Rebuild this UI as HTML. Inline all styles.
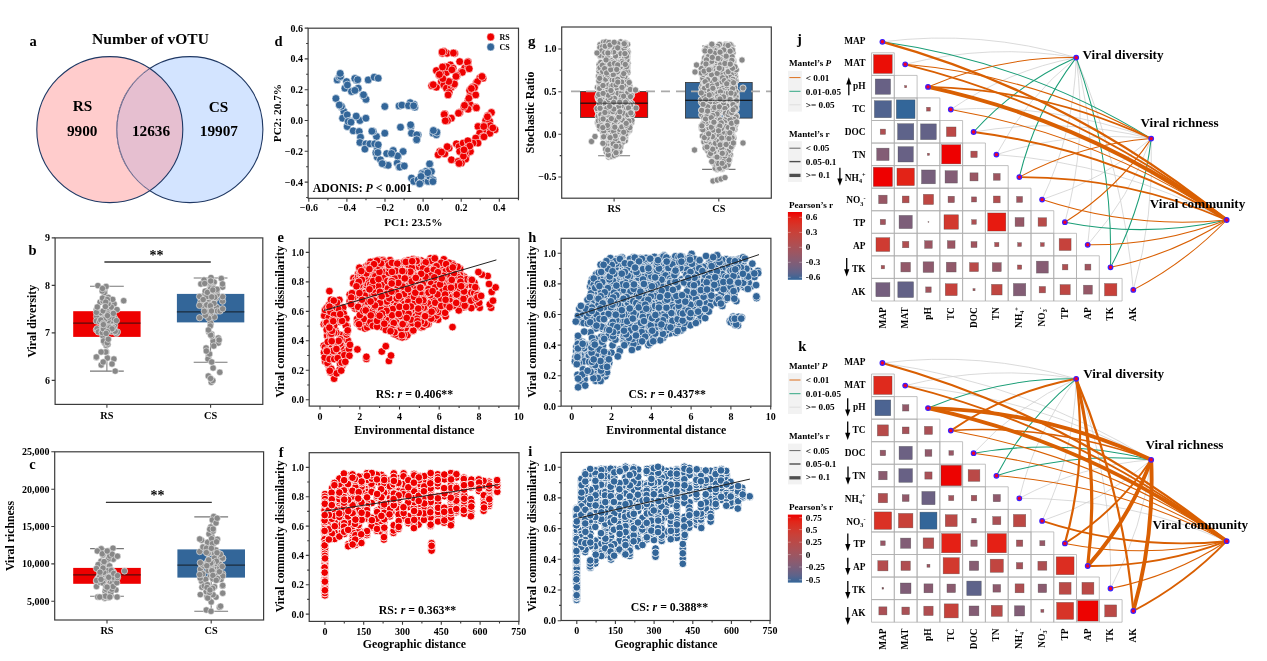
<!DOCTYPE html>
<html lang="en"><head><meta charset="utf-8"><title>Viral community figure</title>
<style>
html,body{margin:0;padding:0;background:#fff}
svg{display:block}
svg text{font-family:"Liberation Serif",serif;font-weight:bold;fill:#000}
</style></head><body>
<svg width="1267" height="661" viewBox="0 0 1267 661">
<rect width="1267" height="661" fill="#fff"/>
<g id="panel-a">
<circle cx="109.8" cy="129.6" r="73" fill="#ffcccc"/>
<circle cx="189.9" cy="129.6" r="73" fill="#d3e4ff" stroke="#1f3864" stroke-width="1.1"/>
<clipPath id="cpA"><circle cx="109.8" cy="129.6" r="73"/></clipPath>
<g clip-path="url(#cpA)"><circle cx="189.9" cy="129.6" r="73.7" fill="#e6bfd0"/><circle cx="189.9" cy="129.6" r="73" fill="none" stroke="#1f3864" stroke-opacity="0.7" stroke-width="0.9"/></g>
<circle cx="109.8" cy="129.6" r="73" fill="none" stroke="#1f3864" stroke-width="1.1"/>
<text x="29.5" y="46.2" font-size="14.5" text-anchor="start">a</text>
<text x="150.5" y="43.6" font-size="15.5" text-anchor="middle">Number of vOTU</text>
<text x="82.5" y="111.2" font-size="15.3" text-anchor="middle">RS</text>
<text x="82.2" y="135.6" font-size="15.3" text-anchor="middle">9900</text>
<text x="151" y="135.8" font-size="15.3" text-anchor="middle">12636</text>
<text x="218.5" y="111.6" font-size="15.3" text-anchor="middle">CS</text>
<text x="218.9" y="135.8" font-size="15.3" text-anchor="middle">19907</text>
</g>
<g id="panel-b">
<line x1="106.9" y1="286.2" x2="106.9" y2="371.1" stroke="#777" stroke-width="1"/>
<line x1="90" y1="286.2" x2="123.8" y2="286.2" stroke="#777" stroke-width="1.1"/>
<line x1="90" y1="371.1" x2="123.8" y2="371.1" stroke="#777" stroke-width="1.1"/>
<rect x="73.2" y="311.2" width="67.4" height="25.7" fill="#ee0000"/>
<line x1="73.2" y1="323.1" x2="140.6" y2="323.1" stroke="#111" stroke-width="0.85"/>
<line x1="210.6" y1="278" x2="210.6" y2="362.3" stroke="#777" stroke-width="1"/>
<line x1="193.7" y1="278" x2="227.5" y2="278" stroke="#777" stroke-width="1.1"/>
<line x1="193.7" y1="362.3" x2="227.5" y2="362.3" stroke="#777" stroke-width="1.1"/>
<rect x="176.9" y="293.9" width="67.4" height="28.5" fill="#336699"/>
<line x1="176.9" y1="311.9" x2="244.3" y2="311.9" stroke="#111" stroke-width="0.85"/>
<g fill="#888888" stroke="#fff" stroke-width="0.5">
<circle cx="109.1" cy="322" r="3.2"/><circle cx="105.9" cy="319.8" r="3.2"/><circle cx="96.4" cy="309.6" r="3.2"/><circle cx="106.2" cy="339.5" r="3.2"/><circle cx="97.9" cy="285.6" r="3.2"/><circle cx="110.3" cy="307.1" r="3.2"/><circle cx="96.4" cy="329.8" r="3.2"/><circle cx="101.7" cy="316.7" r="3.2"/><circle cx="113.9" cy="321.4" r="3.2"/><circle cx="116.4" cy="333.4" r="3.2"/><circle cx="100.1" cy="302.1" r="3.2"/><circle cx="98" cy="320.9" r="3.2"/><circle cx="112" cy="323.2" r="3.2"/><circle cx="111.8" cy="331.6" r="3.2"/><circle cx="101.2" cy="365" r="3.2"/><circle cx="102.9" cy="299.9" r="3.2"/><circle cx="102.9" cy="317.3" r="3.2"/><circle cx="100" cy="314" r="3.2"/><circle cx="103" cy="300.9" r="3.2"/><circle cx="114.1" cy="303.9" r="3.2"/><circle cx="110.9" cy="308.3" r="3.2"/><circle cx="117.4" cy="332" r="3.2"/><circle cx="106.4" cy="352" r="3.2"/><circle cx="106.1" cy="286.5" r="3.2"/><circle cx="101.2" cy="313.2" r="3.2"/><circle cx="106.2" cy="345.4" r="3.2"/><circle cx="99.3" cy="320" r="3.2"/><circle cx="96.6" cy="316.4" r="3.2"/><circle cx="110.9" cy="316.3" r="3.2"/><circle cx="115.2" cy="331.3" r="3.2"/><circle cx="111.7" cy="319.4" r="3.2"/><circle cx="114.6" cy="325.8" r="3.2"/><circle cx="108.4" cy="317.1" r="3.2"/><circle cx="102.8" cy="335.7" r="3.2"/><circle cx="107.4" cy="358" r="3.2"/><circle cx="104.7" cy="342.9" r="3.2"/><circle cx="100.5" cy="312.7" r="3.2"/><circle cx="97.1" cy="328.7" r="3.2"/><circle cx="98.3" cy="331.9" r="3.2"/><circle cx="106.9" cy="310.8" r="3.2"/><circle cx="107.8" cy="314.2" r="3.2"/><circle cx="104.2" cy="292.9" r="3.2"/><circle cx="115.2" cy="371.1" r="3.2"/><circle cx="107.9" cy="344.2" r="3.2"/><circle cx="110.3" cy="327.8" r="3.2"/><circle cx="113.9" cy="359" r="3.2"/><circle cx="102.2" cy="291" r="3.2"/><circle cx="96.4" cy="312.4" r="3.2"/><circle cx="111.2" cy="328.5" r="3.2"/><circle cx="102.9" cy="326.7" r="3.2"/><circle cx="114.5" cy="318" r="3.2"/><circle cx="108.8" cy="330.2" r="3.2"/><circle cx="112.7" cy="327.3" r="3.2"/><circle cx="111.3" cy="321" r="3.2"/><circle cx="96.4" cy="320.9" r="3.2"/><circle cx="111.1" cy="316.6" r="3.2"/><circle cx="103" cy="301" r="3.2"/><circle cx="102.5" cy="288.5" r="3.2"/><circle cx="104.4" cy="325.9" r="3.2"/><circle cx="111.3" cy="307.1" r="3.2"/><circle cx="112" cy="364" r="3.2"/><circle cx="112.7" cy="318" r="3.2"/><circle cx="97.3" cy="307" r="3.2"/><circle cx="103.5" cy="341" r="3.2"/><circle cx="96.4" cy="357.5" r="3.2"/><circle cx="106.3" cy="320.5" r="3.2"/><circle cx="110.4" cy="327.6" r="3.2"/><circle cx="102.5" cy="298.1" r="3.2"/><circle cx="108.3" cy="297.4" r="3.2"/><circle cx="108.2" cy="325.1" r="3.2"/><circle cx="112.7" cy="299.4" r="3.2"/><circle cx="102.2" cy="326.3" r="3.2"/><circle cx="102.1" cy="331.8" r="3.2"/><circle cx="102.5" cy="324.7" r="3.2"/><circle cx="117" cy="309.6" r="3.2"/><circle cx="113.2" cy="327.9" r="3.2"/><circle cx="106.2" cy="305.6" r="3.2"/><circle cx="108.2" cy="320.5" r="3.2"/><circle cx="107.6" cy="327.7" r="3.2"/><circle cx="108.1" cy="303.8" r="3.2"/><circle cx="105.7" cy="352" r="3.2"/><circle cx="105" cy="319.3" r="3.2"/><circle cx="99.6" cy="321.8" r="3.2"/><circle cx="103.2" cy="362" r="3.2"/><circle cx="116.4" cy="320.6" r="3.2"/><circle cx="110" cy="327.8" r="3.2"/><circle cx="107.3" cy="299.5" r="3.2"/><circle cx="105.7" cy="302.1" r="3.2"/><circle cx="107.3" cy="342.8" r="3.2"/><circle cx="108.9" cy="317.1" r="3.2"/><circle cx="103.2" cy="310.9" r="3.2"/><circle cx="108" cy="314" r="3.2"/><circle cx="108.3" cy="339.2" r="3.2"/><circle cx="102.6" cy="324.6" r="3.2"/><circle cx="102.3" cy="332.7" r="3.2"/><circle cx="101.1" cy="352" r="3.2"/><circle cx="100.8" cy="320" r="3.2"/><circle cx="112" cy="328.8" r="3.2"/><circle cx="96.4" cy="357" r="3.2"/><circle cx="105.4" cy="306.6" r="3.2"/><circle cx="103.4" cy="328.9" r="3.2"/><circle cx="103.3" cy="323.3" r="3.2"/><circle cx="107.5" cy="315.6" r="3.2"/><circle cx="113.4" cy="313.4" r="3.2"/><circle cx="107.3" cy="331.7" r="3.2"/><circle cx="106.1" cy="333.4" r="3.2"/><circle cx="103.4" cy="324.6" r="3.2"/><circle cx="123.7" cy="300.7" r="3.2"/>
</g>
<g fill="#888888" stroke="#fff" stroke-width="0.5">
<circle cx="215.6" cy="298.4" r="3.2"/><circle cx="207.9" cy="313.1" r="3.2"/><circle cx="208.6" cy="356" r="3.2"/><circle cx="222.6" cy="301.2" r="3.2"/><circle cx="213.1" cy="368" r="3.2"/><circle cx="222.6" cy="287.1" r="3.2"/><circle cx="213.7" cy="310" r="3.2"/><circle cx="208.9" cy="283.1" r="3.2"/><circle cx="211.6" cy="334" r="3.2"/><circle cx="221.3" cy="278.5" r="3.2"/><circle cx="210.9" cy="324" r="3.2"/><circle cx="213.1" cy="341" r="3.2"/><circle cx="214.4" cy="317.1" r="3.2"/><circle cx="205.3" cy="306.4" r="3.2"/><circle cx="211.9" cy="297.4" r="3.2"/><circle cx="208.9" cy="332" r="3.2"/><circle cx="203.2" cy="296.7" r="3.2"/><circle cx="216.6" cy="307.3" r="3.2"/><circle cx="215.3" cy="295.2" r="3.2"/><circle cx="211.3" cy="382.3" r="3.2"/><circle cx="205.4" cy="309.8" r="3.2"/><circle cx="199.6" cy="317.7" r="3.2"/><circle cx="214.2" cy="282.1" r="3.2"/><circle cx="210.5" cy="322.8" r="3.2"/><circle cx="200.4" cy="297.3" r="3.2"/><circle cx="210.7" cy="287.5" r="3.2"/><circle cx="201.5" cy="303.1" r="3.2"/><circle cx="210.9" cy="313.1" r="3.2"/><circle cx="211.7" cy="336" r="3.2"/><circle cx="213.3" cy="293" r="3.2"/><circle cx="212.5" cy="294.9" r="3.2"/><circle cx="212.2" cy="299.2" r="3.2"/><circle cx="208" cy="359" r="3.2"/><circle cx="208.7" cy="299.5" r="3.2"/><circle cx="207.9" cy="314.2" r="3.2"/><circle cx="209.6" cy="296.7" r="3.2"/><circle cx="212.8" cy="286.8" r="3.2"/><circle cx="212.8" cy="380.5" r="3.2"/><circle cx="218.3" cy="343" r="3.2"/><circle cx="206.1" cy="348" r="3.2"/><circle cx="213.6" cy="298.4" r="3.2"/><circle cx="209.8" cy="305" r="3.2"/><circle cx="222.6" cy="296.7" r="3.2"/><circle cx="217" cy="294.6" r="3.2"/><circle cx="200.6" cy="302.5" r="3.2"/><circle cx="213.6" cy="290.8" r="3.2"/><circle cx="207.8" cy="290.8" r="3.2"/><circle cx="217.4" cy="311" r="3.2"/><circle cx="204.4" cy="306.9" r="3.2"/><circle cx="210.7" cy="335" r="3.2"/><circle cx="210.3" cy="309.3" r="3.2"/><circle cx="210.5" cy="285.7" r="3.2"/><circle cx="207.4" cy="312.5" r="3.2"/><circle cx="199.6" cy="296.5" r="3.2"/><circle cx="214" cy="303.4" r="3.2"/><circle cx="213.8" cy="346" r="3.2"/><circle cx="210.7" cy="287.4" r="3.2"/><circle cx="208.3" cy="376" r="3.2"/><circle cx="211.7" cy="362" r="3.2"/><circle cx="214.7" cy="297.3" r="3.2"/><circle cx="210.3" cy="326" r="3.2"/><circle cx="211" cy="277.6" r="3.2"/><circle cx="220" cy="311" r="3.2"/><circle cx="204" cy="280" r="3.2"/><circle cx="209.6" cy="354" r="3.2"/><circle cx="199.6" cy="305.4" r="3.2"/><circle cx="206.7" cy="304.9" r="3.2"/><circle cx="206.4" cy="296.8" r="3.2"/><circle cx="205" cy="293.8" r="3.2"/><circle cx="206.7" cy="296.6" r="3.2"/><circle cx="222.5" cy="283.9" r="3.2"/><circle cx="210.6" cy="378.5" r="3.2"/><circle cx="210.4" cy="305.8" r="3.2"/><circle cx="222.6" cy="308.8" r="3.2"/><circle cx="210.7" cy="288.8" r="3.2"/><circle cx="206.3" cy="351" r="3.2"/><circle cx="213.6" cy="288.4" r="3.2"/><circle cx="205.2" cy="291.1" r="3.2"/><circle cx="218.3" cy="338" r="3.2"/><circle cx="203.2" cy="299.6" r="3.2"/><circle cx="207.4" cy="292.4" r="3.2"/><circle cx="200.9" cy="284" r="3.2"/><circle cx="211.7" cy="296.9" r="3.2"/><circle cx="204.7" cy="283.5" r="3.2"/><circle cx="210.7" cy="281" r="3.2"/><circle cx="208.7" cy="318.2" r="3.2"/><circle cx="208.4" cy="330" r="3.2"/><circle cx="217.1" cy="290.7" r="3.2"/><circle cx="217" cy="289.3" r="3.2"/><circle cx="211.5" cy="311" r="3.2"/><circle cx="205.4" cy="315.3" r="3.2"/><circle cx="204.3" cy="311.3" r="3.2"/><circle cx="212.8" cy="290" r="3.2"/><circle cx="219.1" cy="340" r="3.2"/><circle cx="219.8" cy="372.3" r="3.2"/>
</g>
<rect x="55.1" y="237.9" width="207.7" height="166.5" fill="none" stroke="#3c3c3c" stroke-width="1.2"/>
<text x="49.9" y="241.3" font-size="10" text-anchor="end">9</text>
<text x="49.9" y="288.8" font-size="10" text-anchor="end">8</text>
<text x="49.9" y="336.3" font-size="10" text-anchor="end">7</text>
<text x="49.9" y="383.8" font-size="10" text-anchor="end">6</text>
<path d="M51.7 237.9h3.4M51.7 285.4h3.4M51.7 332.9h3.4M51.7 380.4h3.4" stroke="#3c3c3c" stroke-width="1.1" fill="none"/>
<text x="106.9" y="418.6" font-size="10.3" text-anchor="middle">RS</text>
<text x="210.6" y="418.6" font-size="10.3" text-anchor="middle">CS</text>
<path d="M106.9 404.4v3.4M210.6 404.4v3.4" stroke="#3c3c3c" stroke-width="1.1" fill="none"/>
<line x1="104.4" y1="262" x2="210.8" y2="262" stroke="#333" stroke-width="1.4"/>
<text x="156.6" y="259.5" font-size="14" text-anchor="middle">**</text>
<text x="28.6" y="255.1" font-size="14.5" text-anchor="start">b</text>
<text x="36.2" y="321.2" font-size="11.8" text-anchor="middle" transform="rotate(-90 36.2 321.2)">Viral diversity</text>
</g>
<g id="panel-c">
<line x1="107" y1="548.6" x2="107" y2="596.3" stroke="#777" stroke-width="1"/>
<line x1="90.1" y1="548.6" x2="123.9" y2="548.6" stroke="#777" stroke-width="1.1"/>
<line x1="90.1" y1="596.3" x2="123.9" y2="596.3" stroke="#777" stroke-width="1.1"/>
<rect x="73.2" y="567.9" width="67.6" height="15.9" fill="#ee0000"/>
<line x1="73.2" y1="574.9" x2="140.8" y2="574.9" stroke="#111" stroke-width="0.85"/>
<line x1="211.2" y1="516.9" x2="211.2" y2="611.3" stroke="#777" stroke-width="1"/>
<line x1="194.3" y1="516.9" x2="228.1" y2="516.9" stroke="#777" stroke-width="1.1"/>
<line x1="194.3" y1="611.3" x2="228.1" y2="611.3" stroke="#777" stroke-width="1.1"/>
<rect x="177.4" y="549.4" width="67.6" height="28.2" fill="#336699"/>
<line x1="177.4" y1="565.1" x2="245" y2="565.1" stroke="#111" stroke-width="0.85"/>
<g fill="#888888" stroke="#fff" stroke-width="0.5">
<circle cx="108.5" cy="566.9" r="3.2"/><circle cx="101.2" cy="548.8" r="3.2"/><circle cx="99.6" cy="575.2" r="3.2"/><circle cx="109.5" cy="569.2" r="3.2"/><circle cx="102.3" cy="572.1" r="3.2"/><circle cx="113.4" cy="582.4" r="3.2"/><circle cx="97.3" cy="551" r="3.2"/><circle cx="101" cy="561.2" r="3.2"/><circle cx="96.5" cy="581.3" r="3.2"/><circle cx="113.7" cy="581.1" r="3.2"/><circle cx="105.1" cy="571.4" r="3.2"/><circle cx="103.6" cy="575" r="3.2"/><circle cx="106.4" cy="562" r="3.2"/><circle cx="114" cy="583.5" r="3.2"/><circle cx="96.5" cy="586.5" r="3.2"/><circle cx="98.2" cy="564.6" r="3.2"/><circle cx="108.3" cy="594.2" r="3.2"/><circle cx="105.2" cy="591.6" r="3.2"/><circle cx="97.8" cy="578.4" r="3.2"/><circle cx="111.7" cy="571.1" r="3.2"/><circle cx="115.9" cy="589.9" r="3.2"/><circle cx="99.5" cy="576.9" r="3.2"/><circle cx="102.8" cy="575.4" r="3.2"/><circle cx="99.9" cy="582.3" r="3.2"/><circle cx="110.9" cy="596" r="3.2"/><circle cx="108.3" cy="597" r="3.2"/><circle cx="98.9" cy="578.2" r="3.2"/><circle cx="106.7" cy="562.4" r="3.2"/><circle cx="105.7" cy="589.2" r="3.2"/><circle cx="110.3" cy="570" r="3.2"/><circle cx="112.3" cy="585.8" r="3.2"/><circle cx="104.6" cy="576.8" r="3.2"/><circle cx="103.7" cy="581.4" r="3.2"/><circle cx="103.8" cy="569.2" r="3.2"/><circle cx="99.5" cy="571" r="3.2"/><circle cx="113.3" cy="559.2" r="3.2"/><circle cx="108.7" cy="597.5" r="3.2"/><circle cx="107.3" cy="569.3" r="3.2"/><circle cx="108.9" cy="551" r="3.2"/><circle cx="110.4" cy="580.1" r="3.2"/><circle cx="110.8" cy="592.4" r="3.2"/><circle cx="108.6" cy="573.9" r="3.2"/><circle cx="110.4" cy="582.3" r="3.2"/><circle cx="113.3" cy="571.9" r="3.2"/><circle cx="108.4" cy="558.9" r="3.2"/><circle cx="101.2" cy="570.8" r="3.2"/><circle cx="112.4" cy="575.2" r="3.2"/><circle cx="103.4" cy="569.5" r="3.2"/><circle cx="104.7" cy="571.1" r="3.2"/><circle cx="107.2" cy="563.8" r="3.2"/><circle cx="106.9" cy="565.4" r="3.2"/><circle cx="103.1" cy="575.6" r="3.2"/><circle cx="109.6" cy="565.9" r="3.2"/><circle cx="104.6" cy="598.2" r="3.2"/><circle cx="108.5" cy="570.3" r="3.2"/><circle cx="109.7" cy="556" r="3.2"/><circle cx="102.1" cy="572.5" r="3.2"/><circle cx="114.8" cy="582.4" r="3.2"/><circle cx="108.8" cy="597" r="3.2"/><circle cx="113" cy="548.2" r="3.2"/><circle cx="111.1" cy="569.9" r="3.2"/><circle cx="102.9" cy="555" r="3.2"/><circle cx="113.4" cy="574.6" r="3.2"/><circle cx="117.3" cy="556.1" r="3.2"/><circle cx="104.2" cy="580.4" r="3.2"/><circle cx="97.8" cy="597" r="3.2"/><circle cx="112.1" cy="583.4" r="3.2"/><circle cx="103.5" cy="597" r="3.2"/><circle cx="102.7" cy="597" r="3.2"/><circle cx="111.9" cy="589.2" r="3.2"/><circle cx="113.1" cy="586.5" r="3.2"/><circle cx="96.5" cy="568.5" r="3.2"/><circle cx="101.3" cy="576.6" r="3.2"/><circle cx="114.8" cy="580.3" r="3.2"/><circle cx="105.4" cy="596.1" r="3.2"/><circle cx="99.7" cy="597" r="3.2"/><circle cx="116.8" cy="582.7" r="3.2"/><circle cx="109.8" cy="597" r="3.2"/><circle cx="107" cy="570.7" r="3.2"/><circle cx="99.7" cy="577.2" r="3.2"/><circle cx="103.8" cy="572.3" r="3.2"/><circle cx="112.2" cy="554.2" r="3.2"/><circle cx="113.3" cy="577.2" r="3.2"/><circle cx="111.3" cy="570.5" r="3.2"/><circle cx="103.5" cy="563.6" r="3.2"/><circle cx="103.2" cy="581.1" r="3.2"/><circle cx="108.7" cy="577.3" r="3.2"/><circle cx="103" cy="568.1" r="3.2"/><circle cx="117.5" cy="577.5" r="3.2"/><circle cx="96.5" cy="580.5" r="3.2"/><circle cx="117.1" cy="597" r="3.2"/><circle cx="113.7" cy="573.4" r="3.2"/><circle cx="103" cy="583.1" r="3.2"/><circle cx="106" cy="586.5" r="3.2"/><circle cx="117.5" cy="556.2" r="3.2"/><circle cx="101" cy="579.4" r="3.2"/><circle cx="107.1" cy="587.1" r="3.2"/><circle cx="100" cy="572.2" r="3.2"/><circle cx="117.5" cy="575.6" r="3.2"/><circle cx="102.3" cy="553.8" r="3.2"/><circle cx="107.2" cy="551" r="3.2"/><circle cx="104.1" cy="561.6" r="3.2"/><circle cx="124.5" cy="571" r="3.2"/>
</g>
<g fill="#888888" stroke="#fff" stroke-width="0.5">
<circle cx="216.2" cy="560.5" r="3.2"/><circle cx="208.1" cy="565.2" r="3.2"/><circle cx="217.5" cy="578" r="3.2"/><circle cx="214.5" cy="578.2" r="3.2"/><circle cx="219.8" cy="564.3" r="3.2"/><circle cx="222.7" cy="573.8" r="3.2"/><circle cx="214.1" cy="519.5" r="3.2"/><circle cx="213.7" cy="516.5" r="3.2"/><circle cx="206" cy="547.9" r="3.2"/><circle cx="208.3" cy="586.9" r="3.2"/><circle cx="210.2" cy="576.6" r="3.2"/><circle cx="215.6" cy="574.4" r="3.2"/><circle cx="201.6" cy="581.2" r="3.2"/><circle cx="210.8" cy="531" r="3.2"/><circle cx="209.8" cy="567.3" r="3.2"/><circle cx="215.8" cy="559.4" r="3.2"/><circle cx="207.7" cy="553.3" r="3.2"/><circle cx="211.2" cy="602" r="3.2"/><circle cx="205.7" cy="579.4" r="3.2"/><circle cx="212.4" cy="573.2" r="3.2"/><circle cx="211.7" cy="536" r="3.2"/><circle cx="199.7" cy="551.6" r="3.2"/><circle cx="214.5" cy="586.8" r="3.2"/><circle cx="217.4" cy="539.3" r="3.2"/><circle cx="216" cy="597.1" r="3.2"/><circle cx="208.1" cy="570.5" r="3.2"/><circle cx="217.4" cy="569" r="3.2"/><circle cx="212.5" cy="577.2" r="3.2"/><circle cx="222.7" cy="558.7" r="3.2"/><circle cx="221" cy="579.5" r="3.2"/><circle cx="213.3" cy="549" r="3.2"/><circle cx="206.9" cy="596.8" r="3.2"/><circle cx="209" cy="534" r="3.2"/><circle cx="200.9" cy="571.1" r="3.2"/><circle cx="206.3" cy="610" r="3.2"/><circle cx="208.6" cy="561.2" r="3.2"/><circle cx="202" cy="587.2" r="3.2"/><circle cx="213.6" cy="569.9" r="3.2"/><circle cx="216.7" cy="554.7" r="3.2"/><circle cx="222.7" cy="575.9" r="3.2"/><circle cx="219.4" cy="571.7" r="3.2"/><circle cx="200.5" cy="569.2" r="3.2"/><circle cx="212.3" cy="520" r="3.2"/><circle cx="213.1" cy="594.7" r="3.2"/><circle cx="215.1" cy="562.1" r="3.2"/><circle cx="219.5" cy="553.8" r="3.2"/><circle cx="213.6" cy="567.3" r="3.2"/><circle cx="210.8" cy="527" r="3.2"/><circle cx="206.2" cy="591.6" r="3.2"/><circle cx="207.7" cy="598" r="3.2"/><circle cx="212.8" cy="578.8" r="3.2"/><circle cx="209.6" cy="592.4" r="3.2"/><circle cx="207.7" cy="547.3" r="3.2"/><circle cx="222.7" cy="593.2" r="3.2"/><circle cx="213.7" cy="543.6" r="3.2"/><circle cx="215.5" cy="558.1" r="3.2"/><circle cx="204.2" cy="585.9" r="3.2"/><circle cx="220.5" cy="557.2" r="3.2"/><circle cx="207.5" cy="584.7" r="3.2"/><circle cx="212.1" cy="552.7" r="3.2"/><circle cx="222.6" cy="586.1" r="3.2"/><circle cx="217.2" cy="579.5" r="3.2"/><circle cx="215.1" cy="563.5" r="3.2"/><circle cx="207.5" cy="542.3" r="3.2"/><circle cx="202.9" cy="547" r="3.2"/><circle cx="200.2" cy="578.1" r="3.2"/><circle cx="211.4" cy="568.2" r="3.2"/><circle cx="222.6" cy="558.1" r="3.2"/><circle cx="213.1" cy="531.1" r="3.2"/><circle cx="202.7" cy="573.9" r="3.2"/><circle cx="214.2" cy="559.8" r="3.2"/><circle cx="222.2" cy="566.4" r="3.2"/><circle cx="200.3" cy="594.6" r="3.2"/><circle cx="214.5" cy="557.9" r="3.2"/><circle cx="220.4" cy="554.3" r="3.2"/><circle cx="208.6" cy="552.9" r="3.2"/><circle cx="208" cy="553.3" r="3.2"/><circle cx="212.7" cy="588.4" r="3.2"/><circle cx="222.7" cy="585.4" r="3.2"/><circle cx="211.9" cy="570.7" r="3.2"/><circle cx="209.8" cy="529.3" r="3.2"/><circle cx="213.2" cy="529" r="3.2"/><circle cx="211" cy="611.3" r="3.2"/><circle cx="216" cy="523" r="3.2"/><circle cx="215.9" cy="550" r="3.2"/><circle cx="206.4" cy="548.2" r="3.2"/><circle cx="206.4" cy="563.5" r="3.2"/><circle cx="207" cy="587.5" r="3.2"/><circle cx="216.4" cy="561.2" r="3.2"/><circle cx="212.1" cy="563.2" r="3.2"/><circle cx="203.6" cy="565.7" r="3.2"/><circle cx="211.9" cy="562.5" r="3.2"/><circle cx="211.9" cy="570.7" r="3.2"/><circle cx="211.6" cy="538.7" r="3.2"/><circle cx="201.5" cy="564" r="3.2"/><circle cx="217.2" cy="518.2" r="3.2"/><circle cx="199.7" cy="574.6" r="3.2"/><circle cx="207.9" cy="561.2" r="3.2"/><circle cx="210" cy="590" r="3.2"/><circle cx="200.3" cy="562.7" r="3.2"/><circle cx="212.4" cy="543.7" r="3.2"/><circle cx="210.7" cy="563.2" r="3.2"/><circle cx="217.6" cy="578.6" r="3.2"/><circle cx="216.5" cy="541.8" r="3.2"/><circle cx="217" cy="552.7" r="3.2"/><circle cx="201.6" cy="540.2" r="3.2"/><circle cx="212.9" cy="575.4" r="3.2"/><circle cx="216.2" cy="580.3" r="3.2"/><circle cx="199.7" cy="539" r="3.2"/><circle cx="208.6" cy="559.9" r="3.2"/><circle cx="206.8" cy="565.7" r="3.2"/><circle cx="206.4" cy="552.5" r="3.2"/><circle cx="211.4" cy="548.3" r="3.2"/><circle cx="219.5" cy="607.2" r="3.2"/><circle cx="220.6" cy="606.2" r="3.2"/>
</g>
<rect x="54.7" y="451.8" width="208.9" height="168.2" fill="none" stroke="#3c3c3c" stroke-width="1.2"/>
<text x="49.5" y="455.2" font-size="10" text-anchor="end">25,000</text>
<text x="49.5" y="492.6" font-size="10" text-anchor="end">20,000</text>
<text x="49.5" y="529.9" font-size="10" text-anchor="end">15,000</text>
<text x="49.5" y="567.2" font-size="10" text-anchor="end">10,000</text>
<text x="49.5" y="604.6" font-size="10" text-anchor="end">5,000</text>
<path d="M51.3 451.8h3.4M51.3 489.2h3.4M51.3 526.5h3.4M51.3 563.9h3.4M51.3 601.2h3.4" stroke="#3c3c3c" stroke-width="1.1" fill="none"/>
<text x="107" y="634.4" font-size="10.3" text-anchor="middle">RS</text>
<text x="211.2" y="634.4" font-size="10.3" text-anchor="middle">CS</text>
<path d="M107 620v3.4M211.2 620v3.4" stroke="#3c3c3c" stroke-width="1.1" fill="none"/>
<line x1="105.9" y1="502.4" x2="211.8" y2="502.4" stroke="#333" stroke-width="1.4"/>
<text x="157.4" y="500.2" font-size="14" text-anchor="middle">**</text>
<text x="29.3" y="468.7" font-size="14.5" text-anchor="start">c</text>
<text x="13.9" y="536" font-size="11.8" text-anchor="middle" transform="rotate(-90 13.9 536)">Viral richness</text>
</g>
<g id="panel-d">
<g fill="#336699" stroke="#fff" stroke-width="0.6">
<circle cx="337.2" cy="79.9" r="3.9"/><circle cx="339.2" cy="77.2" r="3.9"/><circle cx="346.6" cy="81.6" r="3.9"/><circle cx="344.9" cy="88.2" r="3.9"/><circle cx="351.5" cy="91.5" r="3.9"/><circle cx="356.5" cy="79.9" r="3.9"/><circle cx="358.2" cy="88.2" r="3.9"/><circle cx="363.2" cy="94.9" r="3.9"/><circle cx="364.2" cy="96.5" r="3.9"/><circle cx="368.2" cy="79.9" r="3.9"/><circle cx="374.2" cy="77.2" r="3.9"/><circle cx="378.2" cy="78.2" r="3.9"/><circle cx="335.9" cy="98.5" r="3.9"/><circle cx="341.6" cy="107.2" r="3.9"/><circle cx="343.9" cy="111.5" r="3.9"/><circle cx="342.6" cy="118.2" r="3.9"/><circle cx="347.2" cy="114.8" r="3.9"/><circle cx="349.2" cy="121.5" r="3.9"/><circle cx="347.2" cy="126.5" r="3.9"/><circle cx="353.2" cy="130.8" r="3.9"/><circle cx="356.5" cy="117.2" r="3.9"/><circle cx="359.9" cy="120.5" r="3.9"/><circle cx="365.9" cy="118.2" r="3.9"/><circle cx="359.2" cy="131.5" r="3.9"/><circle cx="360.5" cy="137.2" r="3.9"/><circle cx="359.9" cy="142.5" r="3.9"/><circle cx="365.9" cy="143.8" r="3.9"/><circle cx="364.9" cy="149.1" r="3.9"/><circle cx="369.9" cy="143.8" r="3.9"/><circle cx="376.5" cy="145.8" r="3.9"/><circle cx="376.5" cy="153.1" r="3.9"/><circle cx="377.2" cy="157.1" r="3.9"/><circle cx="380.5" cy="159.8" r="3.9"/><circle cx="383.8" cy="163.8" r="3.9"/><circle cx="388.2" cy="164.8" r="3.9"/><circle cx="391.5" cy="153.8" r="3.9"/><circle cx="393.2" cy="150.5" r="3.9"/><circle cx="398.1" cy="156.5" r="3.9"/><circle cx="397.2" cy="163.1" r="3.9"/><circle cx="399.1" cy="167.1" r="3.9"/><circle cx="402.5" cy="165.8" r="3.9"/><circle cx="403.1" cy="151.5" r="3.9"/><circle cx="384.8" cy="133.2" r="3.9"/><circle cx="376.5" cy="136.5" r="3.9"/><circle cx="373.2" cy="131.5" r="3.9"/><circle cx="384.8" cy="106.5" r="3.9"/><circle cx="399.1" cy="105.9" r="3.9"/><circle cx="400.5" cy="127.2" r="3.9"/><circle cx="410.5" cy="103.9" r="3.9"/><circle cx="414.8" cy="107.2" r="3.9"/><circle cx="410.8" cy="126.5" r="3.9"/><circle cx="411.5" cy="133.2" r="3.9"/><circle cx="416.5" cy="139.8" r="3.9"/><circle cx="418.1" cy="134.8" r="3.9"/><circle cx="433.1" cy="133.2" r="3.9"/><circle cx="436.4" cy="134.8" r="3.9"/><circle cx="411.5" cy="178.1" r="3.9"/><circle cx="413.8" cy="181.4" r="3.9"/><circle cx="418.1" cy="179.8" r="3.9"/><circle cx="421.5" cy="181.4" r="3.9"/><circle cx="423.1" cy="174.8" r="3.9"/><circle cx="425.8" cy="171.4" r="3.9"/><circle cx="428.1" cy="181.4" r="3.9"/><circle cx="429.8" cy="176.4" r="3.9"/><circle cx="433.1" cy="179.8" r="3.9"/><circle cx="431.4" cy="171.4" r="3.9"/><circle cx="429.8" cy="163.8" r="3.9"/><circle cx="422.1" cy="173.1" r="3.9"/><circle cx="375.9" cy="152.7" r="3.9"/><circle cx="422.8" cy="174.4" r="3.9"/><circle cx="340.5" cy="76.4" r="3.9"/><circle cx="377.3" cy="147.8" r="3.9"/><circle cx="421" cy="176.4" r="3.9"/><circle cx="374.7" cy="143.8" r="3.9"/><circle cx="429.6" cy="163.9" r="3.9"/><circle cx="366" cy="99.4" r="3.9"/><circle cx="356.4" cy="80.2" r="3.9"/><circle cx="386.1" cy="165.1" r="3.9"/><circle cx="414.1" cy="104.3" r="3.9"/><circle cx="410.6" cy="124.8" r="3.9"/><circle cx="349.7" cy="121.1" r="3.9"/><circle cx="348.2" cy="121.5" r="3.9"/><circle cx="436.9" cy="132.2" r="3.9"/><circle cx="416.8" cy="134.8" r="3.9"/><circle cx="371.9" cy="131.2" r="3.9"/><circle cx="378.2" cy="144.7" r="3.9"/><circle cx="347.4" cy="85" r="3.9"/><circle cx="356.2" cy="116.1" r="3.9"/><circle cx="341.4" cy="106.3" r="3.9"/><circle cx="388.1" cy="165.3" r="3.9"/><circle cx="427.8" cy="172.7" r="3.9"/><circle cx="416.7" cy="139.7" r="3.9"/><circle cx="433.4" cy="130.5" r="3.9"/><circle cx="354.8" cy="78.5" r="3.9"/><circle cx="410.2" cy="102.7" r="3.9"/><circle cx="386.7" cy="153.6" r="3.9"/><circle cx="399.8" cy="167.1" r="3.9"/><circle cx="354.9" cy="90.4" r="3.9"/><circle cx="397.6" cy="156" r="3.9"/><circle cx="357.7" cy="79.7" r="3.9"/><circle cx="401.9" cy="105.1" r="3.9"/><circle cx="408.5" cy="105.7" r="3.9"/><circle cx="413.7" cy="105.8" r="3.9"/><circle cx="339.3" cy="105" r="3.9"/><circle cx="432.9" cy="181.6" r="3.9"/><circle cx="377.8" cy="152.6" r="3.9"/><circle cx="382.2" cy="163.6" r="3.9"/><circle cx="340.2" cy="73.4" r="3.9"/><circle cx="404.3" cy="166" r="3.9"/><circle cx="351" cy="122.2" r="3.9"/><circle cx="419.7" cy="183.8" r="3.9"/><circle cx="391.5" cy="153.5" r="3.9"/><circle cx="363.5" cy="94.8" r="3.9"/>
</g>
<g fill="#ee0000" stroke="#fff" stroke-width="0.6">
<circle cx="442.4" cy="53.3" r="3.9"/><circle cx="447.1" cy="53.3" r="3.9"/><circle cx="454.7" cy="53.3" r="3.9"/><circle cx="436.4" cy="70.6" r="3.9"/><circle cx="439.1" cy="74.9" r="3.9"/><circle cx="442.4" cy="78.2" r="3.9"/><circle cx="444.8" cy="66.6" r="3.9"/><circle cx="446.4" cy="72.6" r="3.9"/><circle cx="450.4" cy="64.9" r="3.9"/><circle cx="453.1" cy="68.2" r="3.9"/><circle cx="456.4" cy="76.6" r="3.9"/><circle cx="459.7" cy="61.6" r="3.9"/><circle cx="461.4" cy="71.6" r="3.9"/><circle cx="464.7" cy="68.2" r="3.9"/><circle cx="468.1" cy="61.6" r="3.9"/><circle cx="468.1" cy="66.6" r="3.9"/><circle cx="433.1" cy="84.9" r="3.9"/><circle cx="436.4" cy="87.2" r="3.9"/><circle cx="441.4" cy="81.6" r="3.9"/><circle cx="443.8" cy="84.9" r="3.9"/><circle cx="446.4" cy="88.2" r="3.9"/><circle cx="449.7" cy="81.6" r="3.9"/><circle cx="451.4" cy="87.2" r="3.9"/><circle cx="453.7" cy="84.9" r="3.9"/><circle cx="449.1" cy="92.5" r="3.9"/><circle cx="479.7" cy="78.2" r="3.9"/><circle cx="483" cy="78.2" r="3.9"/><circle cx="476.4" cy="82.6" r="3.9"/><circle cx="473" cy="87.2" r="3.9"/><circle cx="469.7" cy="90.5" r="3.9"/><circle cx="469.7" cy="96.5" r="3.9"/><circle cx="475.7" cy="94.9" r="3.9"/><circle cx="468.1" cy="100.5" r="3.9"/><circle cx="470.4" cy="104.9" r="3.9"/><circle cx="465.7" cy="106.5" r="3.9"/><circle cx="468.1" cy="109.2" r="3.9"/><circle cx="475.7" cy="107.2" r="3.9"/><circle cx="459.7" cy="112.5" r="3.9"/><circle cx="444.8" cy="113.8" r="3.9"/><circle cx="451.4" cy="118.2" r="3.9"/><circle cx="447.1" cy="119.8" r="3.9"/><circle cx="491.4" cy="112.5" r="3.9"/><circle cx="488" cy="116.5" r="3.9"/><circle cx="485.7" cy="120.5" r="3.9"/><circle cx="489.7" cy="121.5" r="3.9"/><circle cx="483.7" cy="125.8" r="3.9"/><circle cx="478" cy="126.5" r="3.9"/><circle cx="489.7" cy="126.5" r="3.9"/><circle cx="493" cy="128.2" r="3.9"/><circle cx="486.4" cy="131.5" r="3.9"/><circle cx="479.7" cy="133.2" r="3.9"/><circle cx="483" cy="136.5" r="3.9"/><circle cx="489.7" cy="133.2" r="3.9"/><circle cx="475.7" cy="138.1" r="3.9"/><circle cx="478" cy="143.1" r="3.9"/><circle cx="439.8" cy="151.5" r="3.9"/><circle cx="438.1" cy="154.8" r="3.9"/><circle cx="444.8" cy="153.8" r="3.9"/><circle cx="449.1" cy="148.1" r="3.9"/><circle cx="451.4" cy="159.8" r="3.9"/><circle cx="456.4" cy="143.8" r="3.9"/><circle cx="459.1" cy="146.5" r="3.9"/><circle cx="459.7" cy="151.5" r="3.9"/><circle cx="463.1" cy="143.1" r="3.9"/><circle cx="464.7" cy="149.8" r="3.9"/><circle cx="466.4" cy="154.8" r="3.9"/><circle cx="468.1" cy="146.5" r="3.9"/><circle cx="470.4" cy="151.5" r="3.9"/><circle cx="465.7" cy="159.1" r="3.9"/><circle cx="461.4" cy="163.1" r="3.9"/><circle cx="458.1" cy="161.5" r="3.9"/><circle cx="473" cy="143.1" r="3.9"/><circle cx="468.1" cy="141.5" r="3.9"/><circle cx="489.7" cy="128" r="3.9"/><circle cx="447.5" cy="120.6" r="3.9"/><circle cx="490.3" cy="125.6" r="3.9"/><circle cx="495" cy="129.7" r="3.9"/><circle cx="467.8" cy="140.8" r="3.9"/><circle cx="465.1" cy="152.2" r="3.9"/><circle cx="468.8" cy="98.3" r="3.9"/><circle cx="462.3" cy="72.3" r="3.9"/><circle cx="487.6" cy="115.7" r="3.9"/><circle cx="451.7" cy="82.6" r="3.9"/><circle cx="477.5" cy="81.6" r="3.9"/><circle cx="473.1" cy="86.9" r="3.9"/><circle cx="448.1" cy="94.9" r="3.9"/><circle cx="454.5" cy="84" r="3.9"/><circle cx="456.8" cy="75.4" r="3.9"/><circle cx="431.7" cy="85.7" r="3.9"/><circle cx="463.9" cy="106.9" r="3.9"/><circle cx="458.5" cy="113.2" r="3.9"/><circle cx="489.8" cy="133.3" r="3.9"/><circle cx="463.4" cy="156.1" r="3.9"/><circle cx="474.5" cy="87.5" r="3.9"/><circle cx="469.7" cy="146.1" r="3.9"/><circle cx="471.4" cy="88.5" r="3.9"/><circle cx="476.4" cy="107.9" r="3.9"/><circle cx="440.8" cy="73.7" r="3.9"/><circle cx="482" cy="76.5" r="3.9"/><circle cx="446.9" cy="66.8" r="3.9"/><circle cx="448.8" cy="81.5" r="3.9"/><circle cx="453.4" cy="53" r="3.9"/><circle cx="467.5" cy="62.4" r="3.9"/><circle cx="459.1" cy="163.4" r="3.9"/><circle cx="483.8" cy="126.5" r="3.9"/><circle cx="469.2" cy="68.7" r="3.9"/><circle cx="433.2" cy="84.7" r="3.9"/><circle cx="484" cy="136.8" r="3.9"/><circle cx="464.5" cy="105.4" r="3.9"/><circle cx="442.5" cy="67" r="3.9"/><circle cx="443.9" cy="51.5" r="3.9"/><circle cx="442.8" cy="78.6" r="3.9"/><circle cx="439.4" cy="74.5" r="3.9"/><circle cx="464" cy="149.8" r="3.9"/><circle cx="451.9" cy="69.8" r="3.9"/><circle cx="444.2" cy="114.5" r="3.9"/><circle cx="487.4" cy="116.8" r="3.9"/><circle cx="442.1" cy="52" r="3.9"/><circle cx="456" cy="76.4" r="3.9"/><circle cx="447.2" cy="146.7" r="3.9"/><circle cx="492.8" cy="127.9" r="3.9"/><circle cx="441.5" cy="152.1" r="3.9"/><circle cx="445.3" cy="120.8" r="3.9"/>
</g>
<rect x="308.1" y="28.2" width="210.4" height="170.1" fill="none" stroke="#3c3c3c" stroke-width="1.2"/>
<text x="302.9" y="31.5" font-size="10" text-anchor="end">0.6</text>
<text x="302.9" y="62.3" font-size="10" text-anchor="end">0.4</text>
<text x="302.9" y="93.1" font-size="10" text-anchor="end">0.2</text>
<text x="302.9" y="123.9" font-size="10" text-anchor="end">0.0</text>
<text x="302.9" y="154.7" font-size="10" text-anchor="end">−0.2</text>
<text x="302.9" y="185.5" font-size="10" text-anchor="end">−0.4</text>
<path d="M304.7 28.1h3.4M304.7 58.9h3.4M304.7 89.7h3.4M304.7 120.5h3.4M304.7 151.3h3.4M304.7 182.1h3.4M306.1 43.5h2M306.1 74.3h2M306.1 105.1h2M306.1 135.9h2M306.1 166.7h2M306.1 197.5h2" stroke="#3c3c3c" stroke-width="1.1" fill="none"/>
<text x="308.8" y="211.3" font-size="10" text-anchor="middle">−0.6</text>
<text x="346.9" y="211.3" font-size="10" text-anchor="middle">−0.4</text>
<text x="385" y="211.3" font-size="10" text-anchor="middle">−0.2</text>
<text x="423.1" y="211.3" font-size="10" text-anchor="middle">0.0</text>
<text x="461.2" y="211.3" font-size="10" text-anchor="middle">0.2</text>
<text x="499.3" y="211.3" font-size="10" text-anchor="middle">0.4</text>
<path d="M308.8 198.3v3.4M346.9 198.3v3.4M385 198.3v3.4M423.1 198.3v3.4M461.2 198.3v3.4M499.3 198.3v3.4M327.9 198.3v2M366 198.3v2M404.1 198.3v2M442.2 198.3v2M480.2 198.3v2M518.4 198.3v2" stroke="#3c3c3c" stroke-width="1.1" fill="none"/>
<text x="413.4" y="225.6" font-size="11.3" text-anchor="middle">PC1: 23.5%</text>
<text x="280.8" y="113" font-size="11.3" text-anchor="middle" transform="rotate(-90 280.8 113)">PC2: 20.7%</text>
<text x="274.6" y="46.3" font-size="14.5" text-anchor="start">d</text>
<text x="312.8" y="191.6" font-size="11.8" text-anchor="start">ADONIS: <tspan font-style="italic">P</tspan> &lt; 0.001</text>
<circle cx="490.7" cy="37" r="3.9" fill="#ee0000" stroke="#fff" stroke-width="0.5"/>
<circle cx="490.7" cy="47" r="3.9" fill="#336699" stroke="#fff" stroke-width="0.5"/>
<text x="499.6" y="39.6" font-size="8" text-anchor="start">RS</text>
<text x="499.6" y="50.2" font-size="8" text-anchor="start">CS</text>
</g>
<g id="panel-e">
<g fill="#ee0000" stroke="#fff" stroke-width="0.7">
<circle cx="413.2" cy="306.7" r="3.85"/><circle cx="360.9" cy="304.2" r="3.85"/><circle cx="396" cy="276.1" r="3.85"/><circle cx="415.1" cy="305.2" r="3.85"/><circle cx="400.3" cy="304" r="3.85"/><circle cx="384" cy="313.9" r="3.85"/><circle cx="402.2" cy="318.7" r="3.85"/><circle cx="415.9" cy="301.9" r="3.85"/><circle cx="434.3" cy="293.4" r="3.85"/><circle cx="362.8" cy="270" r="3.85"/><circle cx="349.7" cy="294.5" r="3.85"/><circle cx="462.6" cy="275.9" r="3.85"/><circle cx="450.9" cy="287.3" r="3.85"/><circle cx="380.6" cy="305.6" r="3.85"/><circle cx="403.1" cy="302.5" r="3.85"/><circle cx="364.8" cy="305.6" r="3.85"/><circle cx="379.4" cy="264.9" r="3.85"/><circle cx="479.7" cy="307.8" r="3.85"/><circle cx="459.1" cy="303.1" r="3.85"/><circle cx="342.2" cy="346.4" r="3.85"/><circle cx="435.4" cy="299.7" r="3.85"/><circle cx="461" cy="286.7" r="3.85"/><circle cx="377.4" cy="303.5" r="3.85"/><circle cx="375.4" cy="313.8" r="3.85"/><circle cx="436.5" cy="275.5" r="3.85"/><circle cx="364.9" cy="276.3" r="3.85"/><circle cx="399.3" cy="269.1" r="3.85"/><circle cx="440.8" cy="276.3" r="3.85"/><circle cx="448.7" cy="293.2" r="3.85"/><circle cx="397.8" cy="279.3" r="3.85"/><circle cx="442.2" cy="292" r="3.85"/><circle cx="397.2" cy="302.6" r="3.85"/><circle cx="432.2" cy="295.8" r="3.85"/><circle cx="366" cy="266.7" r="3.85"/><circle cx="449.2" cy="275.1" r="3.85"/><circle cx="419.5" cy="294.1" r="3.85"/><circle cx="460.3" cy="288.4" r="3.85"/><circle cx="444.7" cy="276.6" r="3.85"/><circle cx="326.9" cy="353.4" r="3.85"/><circle cx="335.8" cy="305.2" r="3.85"/><circle cx="405.9" cy="280" r="3.85"/><circle cx="335.4" cy="330" r="3.85"/><circle cx="433.1" cy="305" r="3.85"/><circle cx="326.3" cy="349.3" r="3.85"/><circle cx="403.1" cy="322.4" r="3.85"/><circle cx="426" cy="281.6" r="3.85"/><circle cx="360.7" cy="283.4" r="3.85"/><circle cx="393.7" cy="333.8" r="3.85"/><circle cx="398.8" cy="301.4" r="3.85"/><circle cx="376.5" cy="278.3" r="3.85"/><circle cx="361.1" cy="281.9" r="3.85"/><circle cx="428.9" cy="301.1" r="3.85"/><circle cx="413.6" cy="290.6" r="3.85"/><circle cx="470.9" cy="281.9" r="3.85"/><circle cx="421.9" cy="286.4" r="3.85"/><circle cx="454.1" cy="287.7" r="3.85"/><circle cx="356.4" cy="297.7" r="3.85"/><circle cx="327.5" cy="342.9" r="3.85"/><circle cx="401.1" cy="310.2" r="3.85"/><circle cx="421.4" cy="327.4" r="3.85"/><circle cx="460" cy="268.6" r="3.85"/><circle cx="389.1" cy="290" r="3.85"/><circle cx="473.3" cy="295" r="3.85"/><circle cx="405.8" cy="336.6" r="3.85"/><circle cx="443" cy="290.2" r="3.85"/><circle cx="387.5" cy="267.3" r="3.85"/><circle cx="370" cy="291.7" r="3.85"/><circle cx="328.2" cy="322" r="3.85"/><circle cx="420.5" cy="293.7" r="3.85"/><circle cx="475.2" cy="304.9" r="3.85"/><circle cx="348.6" cy="342.7" r="3.85"/><circle cx="410.8" cy="278.9" r="3.85"/><circle cx="433.1" cy="312.1" r="3.85"/><circle cx="387.3" cy="294.4" r="3.85"/><circle cx="343.2" cy="307.6" r="3.85"/><circle cx="326.3" cy="309.7" r="3.85"/><circle cx="418.4" cy="299.4" r="3.85"/><circle cx="397.6" cy="307.7" r="3.85"/><circle cx="454.1" cy="273.3" r="3.85"/><circle cx="406.1" cy="313.4" r="3.85"/><circle cx="453.2" cy="293.2" r="3.85"/><circle cx="433.7" cy="282.4" r="3.85"/><circle cx="383.4" cy="311.5" r="3.85"/><circle cx="360.8" cy="279.8" r="3.85"/><circle cx="398.8" cy="310" r="3.85"/><circle cx="405.6" cy="266.6" r="3.85"/><circle cx="374.9" cy="316.3" r="3.85"/><circle cx="324.2" cy="315.7" r="3.85"/><circle cx="430.8" cy="280" r="3.85"/><circle cx="355.1" cy="308.6" r="3.85"/><circle cx="414.2" cy="314.9" r="3.85"/><circle cx="417.7" cy="277.1" r="3.85"/><circle cx="439.7" cy="295.9" r="3.85"/><circle cx="454.4" cy="270.9" r="3.85"/><circle cx="407.1" cy="297.5" r="3.85"/><circle cx="402.4" cy="313" r="3.85"/><circle cx="468.8" cy="282.4" r="3.85"/><circle cx="474" cy="286.8" r="3.85"/><circle cx="411.8" cy="281.9" r="3.85"/><circle cx="357.6" cy="298.4" r="3.85"/><circle cx="444.5" cy="267.9" r="3.85"/><circle cx="379.3" cy="260.2" r="3.85"/><circle cx="399.9" cy="322" r="3.85"/><circle cx="424.6" cy="277.7" r="3.85"/><circle cx="471.2" cy="300.4" r="3.85"/><circle cx="451.9" cy="269.9" r="3.85"/><circle cx="347.8" cy="340.4" r="3.85"/><circle cx="353.5" cy="278.2" r="3.85"/><circle cx="330.9" cy="355.9" r="3.85"/><circle cx="433.3" cy="269.3" r="3.85"/><circle cx="427.8" cy="298.2" r="3.85"/><circle cx="393.8" cy="296.2" r="3.85"/><circle cx="437.7" cy="266.7" r="3.85"/><circle cx="427.4" cy="313.2" r="3.85"/><circle cx="447.7" cy="268.5" r="3.85"/><circle cx="375.6" cy="298.6" r="3.85"/><circle cx="449.3" cy="292.6" r="3.85"/><circle cx="416.1" cy="291.2" r="3.85"/><circle cx="380.8" cy="311" r="3.85"/><circle cx="373.2" cy="269.1" r="3.85"/><circle cx="363.9" cy="285.2" r="3.85"/><circle cx="334.7" cy="373.5" r="3.85"/><circle cx="411.8" cy="277.8" r="3.85"/><circle cx="344" cy="351.1" r="3.85"/><circle cx="431" cy="279" r="3.85"/><circle cx="325" cy="309.9" r="3.85"/><circle cx="451.9" cy="271.9" r="3.85"/><circle cx="411.5" cy="263.6" r="3.85"/><circle cx="422.1" cy="326.1" r="3.85"/><circle cx="443.3" cy="261.7" r="3.85"/><circle cx="384.1" cy="283.3" r="3.85"/><circle cx="442.1" cy="297" r="3.85"/><circle cx="428.6" cy="318.3" r="3.85"/><circle cx="425" cy="286" r="3.85"/><circle cx="441.3" cy="273.5" r="3.85"/><circle cx="444.1" cy="267.9" r="3.85"/><circle cx="421.2" cy="264.8" r="3.85"/><circle cx="410.3" cy="293.4" r="3.85"/><circle cx="415.5" cy="262.1" r="3.85"/><circle cx="330" cy="367.6" r="3.85"/><circle cx="358.2" cy="273.6" r="3.85"/><circle cx="332.8" cy="342.6" r="3.85"/><circle cx="446.3" cy="266.8" r="3.85"/><circle cx="451.4" cy="273.7" r="3.85"/><circle cx="374.2" cy="303.8" r="3.85"/><circle cx="339.2" cy="321.8" r="3.85"/><circle cx="370.9" cy="289.1" r="3.85"/><circle cx="444.5" cy="309.9" r="3.85"/><circle cx="371" cy="289.1" r="3.85"/><circle cx="325.2" cy="361.6" r="3.85"/><circle cx="446.4" cy="294.4" r="3.85"/><circle cx="427.6" cy="285.3" r="3.85"/><circle cx="458.4" cy="294.4" r="3.85"/><circle cx="419.2" cy="261.6" r="3.85"/><circle cx="398.9" cy="267.5" r="3.85"/><circle cx="452.5" cy="327.1" r="3.85"/><circle cx="438.3" cy="310" r="3.85"/><circle cx="437.1" cy="314" r="3.85"/><circle cx="428.4" cy="324" r="3.85"/><circle cx="413.5" cy="302.7" r="3.85"/><circle cx="423" cy="326.7" r="3.85"/><circle cx="393.8" cy="268.6" r="3.85"/><circle cx="454.6" cy="281.3" r="3.85"/><circle cx="419.8" cy="276.5" r="3.85"/><circle cx="411.7" cy="288.8" r="3.85"/><circle cx="369.7" cy="286.2" r="3.85"/><circle cx="371.3" cy="271.5" r="3.85"/><circle cx="462.3" cy="290.8" r="3.85"/><circle cx="461.5" cy="296.8" r="3.85"/><circle cx="385.5" cy="315.4" r="3.85"/><circle cx="339" cy="359.7" r="3.85"/><circle cx="405.9" cy="314.5" r="3.85"/><circle cx="360.4" cy="306.7" r="3.85"/><circle cx="444.8" cy="260.9" r="3.85"/><circle cx="333" cy="321.7" r="3.85"/><circle cx="421.6" cy="291.5" r="3.85"/><circle cx="424.8" cy="287" r="3.85"/><circle cx="448.8" cy="264.7" r="3.85"/><circle cx="394.5" cy="274.9" r="3.85"/><circle cx="360.6" cy="279.1" r="3.85"/><circle cx="431.2" cy="296.5" r="3.85"/><circle cx="433.5" cy="292.8" r="3.85"/><circle cx="382.1" cy="325.6" r="3.85"/><circle cx="401.9" cy="291.9" r="3.85"/><circle cx="398.7" cy="336.3" r="3.85"/><circle cx="370.4" cy="313" r="3.85"/><circle cx="368.8" cy="272.1" r="3.85"/><circle cx="424.2" cy="291.1" r="3.85"/><circle cx="413.6" cy="301.7" r="3.85"/><circle cx="377.8" cy="263.7" r="3.85"/><circle cx="477.2" cy="299.8" r="3.85"/><circle cx="400.8" cy="321.3" r="3.85"/><circle cx="345.4" cy="334.8" r="3.85"/><circle cx="371.4" cy="305.2" r="3.85"/><circle cx="432.1" cy="268.6" r="3.85"/><circle cx="446.6" cy="281.7" r="3.85"/><circle cx="365.4" cy="315.3" r="3.85"/><circle cx="408.7" cy="276" r="3.85"/><circle cx="453.2" cy="266.5" r="3.85"/><circle cx="326.7" cy="307.5" r="3.85"/><circle cx="370.5" cy="265" r="3.85"/><circle cx="413.1" cy="259.1" r="3.85"/><circle cx="395.1" cy="300.5" r="3.85"/><circle cx="359.4" cy="297.2" r="3.85"/><circle cx="406.5" cy="273.2" r="3.85"/><circle cx="394.9" cy="275.3" r="3.85"/><circle cx="332.1" cy="349.7" r="3.85"/><circle cx="425.9" cy="304.3" r="3.85"/><circle cx="467.2" cy="280.8" r="3.85"/><circle cx="429.9" cy="276.1" r="3.85"/><circle cx="487.7" cy="276" r="3.85"/><circle cx="367.2" cy="304.6" r="3.85"/><circle cx="443.4" cy="300" r="3.85"/><circle cx="410.2" cy="300" r="3.85"/><circle cx="421.2" cy="273.5" r="3.85"/><circle cx="409.2" cy="279.1" r="3.85"/><circle cx="414.7" cy="298.3" r="3.85"/><circle cx="436.1" cy="304.1" r="3.85"/><circle cx="434.8" cy="289.5" r="3.85"/><circle cx="342.6" cy="365.2" r="3.85"/><circle cx="343.7" cy="313.7" r="3.85"/><circle cx="361.1" cy="302.8" r="3.85"/><circle cx="481.9" cy="274.7" r="3.85"/><circle cx="402.8" cy="309.3" r="3.85"/><circle cx="364.6" cy="322.3" r="3.85"/><circle cx="393.5" cy="301.6" r="3.85"/><circle cx="440.4" cy="304.7" r="3.85"/><circle cx="330.4" cy="346.6" r="3.85"/><circle cx="470.8" cy="299.4" r="3.85"/><circle cx="406.8" cy="315.2" r="3.85"/><circle cx="340.4" cy="334.9" r="3.85"/><circle cx="388" cy="281" r="3.85"/><circle cx="449.2" cy="294.3" r="3.85"/><circle cx="438.1" cy="266.4" r="3.85"/><circle cx="451.3" cy="284.7" r="3.85"/><circle cx="491.1" cy="307.8" r="3.85"/><circle cx="341.5" cy="318.3" r="3.85"/><circle cx="393.3" cy="305.9" r="3.85"/><circle cx="413.2" cy="306.4" r="3.85"/><circle cx="387.6" cy="293.1" r="3.85"/><circle cx="397.4" cy="324.1" r="3.85"/><circle cx="405.1" cy="303.7" r="3.85"/><circle cx="434.2" cy="288" r="3.85"/><circle cx="403.9" cy="297.4" r="3.85"/><circle cx="416.4" cy="299.2" r="3.85"/><circle cx="433.8" cy="312" r="3.85"/><circle cx="405.3" cy="287.5" r="3.85"/><circle cx="423.1" cy="287.6" r="3.85"/><circle cx="445.3" cy="288.3" r="3.85"/><circle cx="445.6" cy="316.3" r="3.85"/><circle cx="393.7" cy="307.5" r="3.85"/><circle cx="390.8" cy="291" r="3.85"/><circle cx="464.3" cy="276.8" r="3.85"/><circle cx="372.4" cy="298.9" r="3.85"/><circle cx="421.4" cy="291.8" r="3.85"/><circle cx="404.2" cy="295.1" r="3.85"/><circle cx="437.5" cy="278" r="3.85"/><circle cx="382.4" cy="280.6" r="3.85"/><circle cx="438.9" cy="279" r="3.85"/><circle cx="397.4" cy="267.7" r="3.85"/><circle cx="375" cy="292.4" r="3.85"/><circle cx="340.9" cy="346.6" r="3.85"/><circle cx="351.8" cy="305.1" r="3.85"/><circle cx="335" cy="314.7" r="3.85"/><circle cx="413.1" cy="278.4" r="3.85"/><circle cx="377.8" cy="262.1" r="3.85"/><circle cx="419" cy="266.1" r="3.85"/><circle cx="456.7" cy="301.9" r="3.85"/><circle cx="402.3" cy="332.9" r="3.85"/><circle cx="407.1" cy="260.9" r="3.85"/><circle cx="408.4" cy="329.6" r="3.85"/><circle cx="327.2" cy="335.7" r="3.85"/><circle cx="405.3" cy="310.9" r="3.85"/><circle cx="434.2" cy="289.2" r="3.85"/><circle cx="389.8" cy="282.1" r="3.85"/><circle cx="445.5" cy="279.7" r="3.85"/><circle cx="425.6" cy="277.7" r="3.85"/><circle cx="448.5" cy="278.3" r="3.85"/><circle cx="416.8" cy="288.5" r="3.85"/><circle cx="371.2" cy="292.6" r="3.85"/><circle cx="334.4" cy="350.9" r="3.85"/><circle cx="397.9" cy="327.3" r="3.85"/><circle cx="426.4" cy="319.3" r="3.85"/><circle cx="362.2" cy="285.3" r="3.85"/><circle cx="381.4" cy="316.4" r="3.85"/><circle cx="399.9" cy="281.9" r="3.85"/><circle cx="422.1" cy="295.7" r="3.85"/><circle cx="329.5" cy="369.3" r="3.85"/><circle cx="437.5" cy="264.4" r="3.85"/><circle cx="381.2" cy="314.1" r="3.85"/><circle cx="389.1" cy="292.2" r="3.85"/><circle cx="363.2" cy="321.6" r="3.85"/><circle cx="443.3" cy="267.5" r="3.85"/><circle cx="358.9" cy="309.5" r="3.85"/><circle cx="397.9" cy="311.9" r="3.85"/><circle cx="339.4" cy="299.9" r="3.85"/><circle cx="390" cy="327.2" r="3.85"/><circle cx="397.4" cy="316.8" r="3.85"/><circle cx="456" cy="306.2" r="3.85"/><circle cx="417.1" cy="283.2" r="3.85"/><circle cx="425" cy="271.6" r="3.85"/><circle cx="331.8" cy="308.3" r="3.85"/><circle cx="383.8" cy="321.5" r="3.85"/><circle cx="379.4" cy="271.1" r="3.85"/><circle cx="455.4" cy="296.1" r="3.85"/><circle cx="428.3" cy="266.1" r="3.85"/><circle cx="443" cy="293.9" r="3.85"/><circle cx="476.8" cy="292.8" r="3.85"/><circle cx="407.4" cy="335.1" r="3.85"/><circle cx="408.8" cy="309.7" r="3.85"/><circle cx="449.4" cy="296.9" r="3.85"/><circle cx="368.7" cy="300" r="3.85"/><circle cx="330" cy="344.3" r="3.85"/><circle cx="414.3" cy="260.4" r="3.85"/><circle cx="438.1" cy="274.4" r="3.85"/><circle cx="418.3" cy="260.7" r="3.85"/><circle cx="408.1" cy="288.2" r="3.85"/><circle cx="440.5" cy="289.5" r="3.85"/><circle cx="389.7" cy="295.9" r="3.85"/><circle cx="443.1" cy="288.5" r="3.85"/><circle cx="418.2" cy="292.4" r="3.85"/><circle cx="328.8" cy="321.9" r="3.85"/><circle cx="434.6" cy="309.2" r="3.85"/><circle cx="398.1" cy="279.6" r="3.85"/><circle cx="452.4" cy="292.9" r="3.85"/><circle cx="336.3" cy="332.7" r="3.85"/><circle cx="395" cy="306.7" r="3.85"/><circle cx="324" cy="352.6" r="3.85"/><circle cx="384.9" cy="264.1" r="3.85"/><circle cx="368.3" cy="281.9" r="3.85"/><circle cx="376.8" cy="264.5" r="3.85"/><circle cx="371" cy="306.2" r="3.85"/><circle cx="473.9" cy="283" r="3.85"/><circle cx="385.6" cy="312.9" r="3.85"/><circle cx="331.2" cy="320.2" r="3.85"/><circle cx="455.4" cy="293.2" r="3.85"/><circle cx="389.1" cy="307" r="3.85"/><circle cx="335.7" cy="345" r="3.85"/><circle cx="339.2" cy="355" r="3.85"/><circle cx="398.2" cy="262.9" r="3.85"/><circle cx="382.8" cy="320.5" r="3.85"/><circle cx="368.2" cy="264.8" r="3.85"/><circle cx="409.3" cy="313.2" r="3.85"/><circle cx="437.2" cy="268.1" r="3.85"/><circle cx="463.8" cy="306.9" r="3.85"/><circle cx="328.8" cy="317.6" r="3.85"/><circle cx="371.8" cy="314.7" r="3.85"/><circle cx="357.4" cy="349.4" r="3.85"/><circle cx="415.4" cy="308" r="3.85"/><circle cx="433.3" cy="308" r="3.85"/><circle cx="421.9" cy="307.5" r="3.85"/><circle cx="443.6" cy="311.7" r="3.85"/><circle cx="413.6" cy="298.6" r="3.85"/><circle cx="433.7" cy="271.8" r="3.85"/><circle cx="432.4" cy="308.6" r="3.85"/><circle cx="360" cy="279.8" r="3.85"/><circle cx="387.8" cy="304.3" r="3.85"/><circle cx="424.8" cy="313.7" r="3.85"/><circle cx="392.8" cy="309.7" r="3.85"/><circle cx="474.4" cy="282.7" r="3.85"/><circle cx="409.2" cy="321" r="3.85"/><circle cx="355.7" cy="280.1" r="3.85"/><circle cx="463.7" cy="307.2" r="3.85"/><circle cx="354.3" cy="296" r="3.85"/><circle cx="428.7" cy="295.6" r="3.85"/><circle cx="366.7" cy="300.5" r="3.85"/><circle cx="459.8" cy="299" r="3.85"/><circle cx="382.8" cy="268.5" r="3.85"/><circle cx="371.6" cy="271.3" r="3.85"/><circle cx="377.4" cy="312.7" r="3.85"/><circle cx="397.4" cy="301" r="3.85"/><circle cx="334.1" cy="378.7" r="3.85"/><circle cx="433.3" cy="280.7" r="3.85"/><circle cx="412.9" cy="287.4" r="3.85"/><circle cx="357.3" cy="293.7" r="3.85"/><circle cx="406.9" cy="275.6" r="3.85"/><circle cx="452.1" cy="295.5" r="3.85"/><circle cx="359.8" cy="271.2" r="3.85"/><circle cx="426.3" cy="276.8" r="3.85"/><circle cx="459.6" cy="269.2" r="3.85"/><circle cx="341.7" cy="339.6" r="3.85"/><circle cx="396.7" cy="313.1" r="3.85"/><circle cx="373.2" cy="304.5" r="3.85"/><circle cx="403.9" cy="312.5" r="3.85"/><circle cx="389.9" cy="278" r="3.85"/><circle cx="364.3" cy="273.3" r="3.85"/><circle cx="374.8" cy="297" r="3.85"/><circle cx="378.2" cy="300.2" r="3.85"/><circle cx="417.9" cy="316.1" r="3.85"/><circle cx="393.3" cy="287.6" r="3.85"/><circle cx="396.5" cy="318" r="3.85"/><circle cx="438.1" cy="319.7" r="3.85"/><circle cx="371.7" cy="315.5" r="3.85"/><circle cx="370" cy="326.1" r="3.85"/><circle cx="426.4" cy="264.1" r="3.85"/><circle cx="391" cy="305.9" r="3.85"/><circle cx="346.5" cy="334.5" r="3.85"/><circle cx="404.8" cy="273.4" r="3.85"/><circle cx="433.6" cy="284.8" r="3.85"/><circle cx="408.1" cy="319.7" r="3.85"/><circle cx="408.9" cy="281" r="3.85"/><circle cx="440.7" cy="280.9" r="3.85"/><circle cx="419.6" cy="263.6" r="3.85"/><circle cx="366.2" cy="270.7" r="3.85"/><circle cx="423.8" cy="323.4" r="3.85"/><circle cx="438.5" cy="280.8" r="3.85"/><circle cx="407.2" cy="315.9" r="3.85"/><circle cx="360.6" cy="326.8" r="3.85"/><circle cx="398.7" cy="314.1" r="3.85"/><circle cx="413.9" cy="296.5" r="3.85"/><circle cx="380.4" cy="298" r="3.85"/><circle cx="466.5" cy="298.6" r="3.85"/><circle cx="402" cy="318.8" r="3.85"/><circle cx="361.6" cy="323.2" r="3.85"/><circle cx="410.9" cy="320.4" r="3.85"/><circle cx="408.8" cy="298.6" r="3.85"/><circle cx="375.8" cy="270.4" r="3.85"/><circle cx="432.3" cy="268.1" r="3.85"/><circle cx="386" cy="296" r="3.85"/><circle cx="397.1" cy="272.5" r="3.85"/><circle cx="404.8" cy="304.1" r="3.85"/><circle cx="449.2" cy="290.5" r="3.85"/><circle cx="384.9" cy="312.8" r="3.85"/><circle cx="364.9" cy="328.5" r="3.85"/><circle cx="382.4" cy="281.6" r="3.85"/><circle cx="427.5" cy="305.5" r="3.85"/><circle cx="362.1" cy="283.9" r="3.85"/><circle cx="323.8" cy="324.2" r="3.85"/><circle cx="407" cy="308.8" r="3.85"/><circle cx="437.6" cy="283.6" r="3.85"/><circle cx="334.1" cy="332.8" r="3.85"/><circle cx="348.9" cy="348.9" r="3.85"/><circle cx="458.4" cy="276.6" r="3.85"/><circle cx="334" cy="320.6" r="3.85"/><circle cx="470.5" cy="306.5" r="3.85"/><circle cx="449.1" cy="300.8" r="3.85"/><circle cx="388.8" cy="283.6" r="3.85"/><circle cx="384.2" cy="283.7" r="3.85"/><circle cx="399.9" cy="308" r="3.85"/><circle cx="403.3" cy="310" r="3.85"/><circle cx="439.8" cy="291.9" r="3.85"/><circle cx="395" cy="300.1" r="3.85"/><circle cx="325.8" cy="323.9" r="3.85"/><circle cx="323.8" cy="345.6" r="3.85"/><circle cx="405.3" cy="305.4" r="3.85"/><circle cx="387.9" cy="283.7" r="3.85"/><circle cx="422.6" cy="299.4" r="3.85"/><circle cx="379.2" cy="291" r="3.85"/><circle cx="399.4" cy="296.4" r="3.85"/><circle cx="402.1" cy="334.9" r="3.85"/><circle cx="332.6" cy="353.4" r="3.85"/><circle cx="421.1" cy="260.5" r="3.85"/><circle cx="444.5" cy="299.5" r="3.85"/><circle cx="338.1" cy="308.7" r="3.85"/><circle cx="408.1" cy="310.2" r="3.85"/><circle cx="358" cy="277.3" r="3.85"/><circle cx="363.9" cy="305.9" r="3.85"/><circle cx="438.4" cy="278" r="3.85"/><circle cx="443.1" cy="311.1" r="3.85"/><circle cx="449.6" cy="291.8" r="3.85"/><circle cx="373.8" cy="282.4" r="3.85"/><circle cx="440.3" cy="290.4" r="3.85"/><circle cx="376.6" cy="295" r="3.85"/><circle cx="429" cy="295.5" r="3.85"/><circle cx="431.9" cy="300.7" r="3.85"/><circle cx="347.2" cy="326.1" r="3.85"/><circle cx="443.9" cy="278.3" r="3.85"/><circle cx="395.7" cy="289" r="3.85"/><circle cx="372.3" cy="266.2" r="3.85"/><circle cx="359.7" cy="278.2" r="3.85"/><circle cx="399.5" cy="267.9" r="3.85"/><circle cx="430.5" cy="258.3" r="3.85"/><circle cx="362.4" cy="269.8" r="3.85"/><circle cx="404.9" cy="296" r="3.85"/><circle cx="373.5" cy="261.6" r="3.85"/><circle cx="384.2" cy="285.5" r="3.85"/><circle cx="408.7" cy="310" r="3.85"/><circle cx="421.3" cy="317.9" r="3.85"/><circle cx="378.8" cy="304.8" r="3.85"/><circle cx="432.8" cy="270" r="3.85"/><circle cx="363.4" cy="292.1" r="3.85"/><circle cx="396.3" cy="321" r="3.85"/><circle cx="395.3" cy="334.5" r="3.85"/><circle cx="429.3" cy="312.2" r="3.85"/><circle cx="349.7" cy="301.1" r="3.85"/><circle cx="379.8" cy="285.1" r="3.85"/><circle cx="407.5" cy="286" r="3.85"/><circle cx="403.9" cy="319.2" r="3.85"/><circle cx="446.8" cy="295.8" r="3.85"/><circle cx="489.8" cy="304.4" r="3.85"/><circle cx="330.9" cy="339" r="3.85"/><circle cx="446.5" cy="296.6" r="3.85"/><circle cx="408.1" cy="267.3" r="3.85"/><circle cx="441" cy="270.3" r="3.85"/><circle cx="378.1" cy="321.1" r="3.85"/><circle cx="443.8" cy="259.3" r="3.85"/><circle cx="393.8" cy="265.2" r="3.85"/><circle cx="394.1" cy="287.2" r="3.85"/><circle cx="326.7" cy="329.8" r="3.85"/><circle cx="368.7" cy="274.2" r="3.85"/><circle cx="396.9" cy="293.8" r="3.85"/><circle cx="384.4" cy="270.4" r="3.85"/><circle cx="416.8" cy="302.8" r="3.85"/><circle cx="340.1" cy="363.8" r="3.85"/><circle cx="438.3" cy="289.6" r="3.85"/><circle cx="407.5" cy="295.9" r="3.85"/><circle cx="393.1" cy="283.8" r="3.85"/><circle cx="366.5" cy="284.8" r="3.85"/><circle cx="360.3" cy="299.5" r="3.85"/><circle cx="432.8" cy="261.5" r="3.85"/><circle cx="432.5" cy="294.1" r="3.85"/><circle cx="406.3" cy="312" r="3.85"/><circle cx="431.3" cy="295.3" r="3.85"/><circle cx="446" cy="273.5" r="3.85"/><circle cx="360.3" cy="284.8" r="3.85"/><circle cx="422.2" cy="293.6" r="3.85"/><circle cx="443.6" cy="301.4" r="3.85"/><circle cx="418.4" cy="307.4" r="3.85"/><circle cx="360.2" cy="291.6" r="3.85"/><circle cx="475.7" cy="292.6" r="3.85"/><circle cx="372.4" cy="290.5" r="3.85"/><circle cx="346.4" cy="318.7" r="3.85"/><circle cx="426.5" cy="266.5" r="3.85"/><circle cx="372.5" cy="270.6" r="3.85"/><circle cx="418.3" cy="306.6" r="3.85"/><circle cx="393" cy="266.1" r="3.85"/><circle cx="394.3" cy="305.4" r="3.85"/><circle cx="464" cy="278.5" r="3.85"/><circle cx="363.1" cy="283.2" r="3.85"/><circle cx="396.7" cy="277.5" r="3.85"/><circle cx="357.3" cy="323.1" r="3.85"/><circle cx="388.2" cy="280.1" r="3.85"/><circle cx="400.9" cy="267.6" r="3.85"/><circle cx="357" cy="319" r="3.85"/><circle cx="397.4" cy="311.6" r="3.85"/><circle cx="367" cy="301.3" r="3.85"/><circle cx="388.9" cy="309.1" r="3.85"/><circle cx="338" cy="345.8" r="3.85"/><circle cx="403.9" cy="270.6" r="3.85"/><circle cx="328.8" cy="308.1" r="3.85"/><circle cx="417.7" cy="260.5" r="3.85"/><circle cx="417.9" cy="302.4" r="3.85"/><circle cx="400.2" cy="298.8" r="3.85"/><circle cx="428.9" cy="261.1" r="3.85"/><circle cx="395.6" cy="273.2" r="3.85"/><circle cx="417.4" cy="294.9" r="3.85"/><circle cx="328.1" cy="364.4" r="3.85"/><circle cx="345.8" cy="325.5" r="3.85"/><circle cx="398" cy="306" r="3.85"/><circle cx="406.2" cy="277" r="3.85"/><circle cx="366.4" cy="358.9" r="3.85"/><circle cx="369.7" cy="297" r="3.85"/><circle cx="399.3" cy="278.9" r="3.85"/><circle cx="381.2" cy="291.5" r="3.85"/><circle cx="387.7" cy="277.5" r="3.85"/><circle cx="435.5" cy="287.9" r="3.85"/><circle cx="377.9" cy="306.4" r="3.85"/><circle cx="359.9" cy="284" r="3.85"/><circle cx="397.5" cy="270.2" r="3.85"/><circle cx="385.4" cy="320.6" r="3.85"/><circle cx="430.7" cy="307.8" r="3.85"/><circle cx="366.7" cy="289.7" r="3.85"/><circle cx="402.2" cy="337.4" r="3.85"/><circle cx="394.4" cy="292.9" r="3.85"/><circle cx="393.8" cy="311.5" r="3.85"/><circle cx="376" cy="323.5" r="3.85"/><circle cx="425.5" cy="310" r="3.85"/><circle cx="327.5" cy="363.1" r="3.85"/><circle cx="324.6" cy="357.6" r="3.85"/><circle cx="412.9" cy="269.5" r="3.85"/><circle cx="410.6" cy="311.6" r="3.85"/><circle cx="388.9" cy="361" r="3.85"/><circle cx="412.8" cy="302.6" r="3.85"/><circle cx="401.5" cy="275.1" r="3.85"/><circle cx="447.2" cy="304.1" r="3.85"/><circle cx="334.3" cy="351.7" r="3.85"/><circle cx="433.4" cy="293.2" r="3.85"/><circle cx="403.8" cy="334.6" r="3.85"/><circle cx="437.2" cy="277.7" r="3.85"/><circle cx="367.4" cy="280.3" r="3.85"/><circle cx="491.7" cy="291.9" r="3.85"/><circle cx="363.9" cy="280.6" r="3.85"/><circle cx="457.6" cy="284.8" r="3.85"/><circle cx="443" cy="277.9" r="3.85"/><circle cx="329.9" cy="338.7" r="3.85"/><circle cx="419.1" cy="284.1" r="3.85"/><circle cx="360.5" cy="288.8" r="3.85"/><circle cx="355.1" cy="292.1" r="3.85"/><circle cx="440.5" cy="298.5" r="3.85"/><circle cx="433.6" cy="318.8" r="3.85"/><circle cx="454.6" cy="267.2" r="3.85"/><circle cx="414.2" cy="266.2" r="3.85"/><circle cx="464.8" cy="286.3" r="3.85"/><circle cx="400.5" cy="315.4" r="3.85"/><circle cx="357.8" cy="284.3" r="3.85"/><circle cx="366.4" cy="356.8" r="3.85"/><circle cx="399.9" cy="328.1" r="3.85"/><circle cx="387.9" cy="307.8" r="3.85"/><circle cx="448" cy="308.6" r="3.85"/><circle cx="427.9" cy="284.5" r="3.85"/><circle cx="339.5" cy="369.8" r="3.85"/><circle cx="403.8" cy="286.9" r="3.85"/><circle cx="445.9" cy="293.9" r="3.85"/><circle cx="426.4" cy="303.6" r="3.85"/><circle cx="430.5" cy="270.5" r="3.85"/><circle cx="367.2" cy="327.4" r="3.85"/><circle cx="363.6" cy="279.9" r="3.85"/><circle cx="354.2" cy="294.7" r="3.85"/><circle cx="402.1" cy="289.3" r="3.85"/><circle cx="362.9" cy="285.6" r="3.85"/><circle cx="366.2" cy="312.6" r="3.85"/><circle cx="386.4" cy="315.5" r="3.85"/><circle cx="461.2" cy="278.8" r="3.85"/><circle cx="431.4" cy="299.9" r="3.85"/><circle cx="364.3" cy="269.9" r="3.85"/><circle cx="421.5" cy="263.2" r="3.85"/><circle cx="461.8" cy="305.7" r="3.85"/><circle cx="342.1" cy="359.5" r="3.85"/><circle cx="330.6" cy="372.4" r="3.85"/><circle cx="425.9" cy="322.2" r="3.85"/><circle cx="431.4" cy="270.9" r="3.85"/><circle cx="384.9" cy="305" r="3.85"/><circle cx="430" cy="272.1" r="3.85"/><circle cx="396.7" cy="289.8" r="3.85"/><circle cx="424.2" cy="286.3" r="3.85"/><circle cx="365.8" cy="285.1" r="3.85"/><circle cx="326.8" cy="322.6" r="3.85"/><circle cx="405" cy="261.4" r="3.85"/><circle cx="362.8" cy="297.2" r="3.85"/><circle cx="353.2" cy="283.5" r="3.85"/><circle cx="380.3" cy="272.5" r="3.85"/><circle cx="441.4" cy="287.8" r="3.85"/><circle cx="430.2" cy="299.7" r="3.85"/><circle cx="453.1" cy="275.6" r="3.85"/><circle cx="420.3" cy="308.3" r="3.85"/><circle cx="400.2" cy="268.6" r="3.85"/><circle cx="464.9" cy="296.7" r="3.85"/><circle cx="440.7" cy="304.2" r="3.85"/><circle cx="404.5" cy="309" r="3.85"/><circle cx="443.4" cy="310.2" r="3.85"/><circle cx="401" cy="307.4" r="3.85"/><circle cx="478.4" cy="272.1" r="3.85"/><circle cx="374.7" cy="281.1" r="3.85"/><circle cx="360.1" cy="296.7" r="3.85"/><circle cx="367.1" cy="283.4" r="3.85"/><circle cx="377.1" cy="321.3" r="3.85"/><circle cx="382.6" cy="280.3" r="3.85"/><circle cx="384.2" cy="284.3" r="3.85"/><circle cx="397.9" cy="284.5" r="3.85"/><circle cx="411.8" cy="283.2" r="3.85"/><circle cx="377.4" cy="273.6" r="3.85"/><circle cx="331.3" cy="368.9" r="3.85"/><circle cx="419.5" cy="323.5" r="3.85"/><circle cx="450.3" cy="298" r="3.85"/><circle cx="436.3" cy="308.1" r="3.85"/><circle cx="333.4" cy="301.8" r="3.85"/><circle cx="404.3" cy="304" r="3.85"/><circle cx="340.3" cy="320.4" r="3.85"/><circle cx="376.4" cy="265.4" r="3.85"/><circle cx="408.6" cy="318.2" r="3.85"/><circle cx="397.1" cy="323.1" r="3.85"/><circle cx="368.4" cy="296.1" r="3.85"/><circle cx="329.9" cy="334" r="3.85"/><circle cx="395.5" cy="307.2" r="3.85"/><circle cx="426.9" cy="324.5" r="3.85"/><circle cx="444.4" cy="289.5" r="3.85"/><circle cx="405.7" cy="328" r="3.85"/><circle cx="419.1" cy="266.9" r="3.85"/><circle cx="418.7" cy="316.3" r="3.85"/><circle cx="429.3" cy="262.9" r="3.85"/><circle cx="419.1" cy="277" r="3.85"/><circle cx="408.3" cy="260.9" r="3.85"/><circle cx="398" cy="277.1" r="3.85"/><circle cx="370.6" cy="284.9" r="3.85"/><circle cx="333.5" cy="304.3" r="3.85"/><circle cx="385.2" cy="287.6" r="3.85"/><circle cx="347.2" cy="332.1" r="3.85"/><circle cx="360.6" cy="283.2" r="3.85"/><circle cx="370.3" cy="300" r="3.85"/><circle cx="363.3" cy="298.3" r="3.85"/><circle cx="454.4" cy="295.8" r="3.85"/><circle cx="457.5" cy="273.1" r="3.85"/><circle cx="353.2" cy="297.4" r="3.85"/><circle cx="417" cy="292.2" r="3.85"/><circle cx="378.1" cy="283.8" r="3.85"/><circle cx="331.4" cy="307.4" r="3.85"/><circle cx="397.6" cy="316" r="3.85"/><circle cx="450.9" cy="268.1" r="3.85"/><circle cx="432.2" cy="273.1" r="3.85"/><circle cx="370.5" cy="271.7" r="3.85"/><circle cx="408.5" cy="319" r="3.85"/><circle cx="358.3" cy="323.1" r="3.85"/><circle cx="342" cy="320.9" r="3.85"/><circle cx="400.9" cy="328.4" r="3.85"/><circle cx="395.2" cy="293.9" r="3.85"/><circle cx="390" cy="260.1" r="3.85"/><circle cx="408.6" cy="274.8" r="3.85"/><circle cx="431" cy="282.2" r="3.85"/><circle cx="460.3" cy="295.9" r="3.85"/><circle cx="336" cy="348.2" r="3.85"/><circle cx="429.7" cy="317.5" r="3.85"/><circle cx="440.2" cy="288.8" r="3.85"/><circle cx="446.5" cy="304.5" r="3.85"/><circle cx="371.3" cy="270.2" r="3.85"/><circle cx="417.1" cy="315.6" r="3.85"/><circle cx="454" cy="284.3" r="3.85"/><circle cx="452.6" cy="263.8" r="3.85"/><circle cx="370.7" cy="289" r="3.85"/><circle cx="336.6" cy="373.4" r="3.85"/><circle cx="428.2" cy="277.1" r="3.85"/><circle cx="407.3" cy="266.2" r="3.85"/><circle cx="420.4" cy="263.5" r="3.85"/><circle cx="359.6" cy="289.8" r="3.85"/><circle cx="398.4" cy="264.3" r="3.85"/><circle cx="476.3" cy="288.5" r="3.85"/><circle cx="479.2" cy="302.8" r="3.85"/><circle cx="357.5" cy="284" r="3.85"/><circle cx="458.8" cy="310.4" r="3.85"/><circle cx="426.3" cy="265" r="3.85"/><circle cx="405.6" cy="271.2" r="3.85"/><circle cx="424.8" cy="298.6" r="3.85"/><circle cx="442.4" cy="300.1" r="3.85"/><circle cx="395.8" cy="295.5" r="3.85"/><circle cx="393.7" cy="283.2" r="3.85"/><circle cx="444.1" cy="305.2" r="3.85"/><circle cx="428.6" cy="294.1" r="3.85"/><circle cx="374.8" cy="288.5" r="3.85"/><circle cx="404.1" cy="311.8" r="3.85"/><circle cx="453.3" cy="303.2" r="3.85"/><circle cx="413.1" cy="278.4" r="3.85"/><circle cx="367.7" cy="276.7" r="3.85"/><circle cx="352" cy="300.7" r="3.85"/><circle cx="353.3" cy="298.7" r="3.85"/><circle cx="375.4" cy="284" r="3.85"/><circle cx="369.1" cy="323.4" r="3.85"/><circle cx="390.7" cy="277.4" r="3.85"/><circle cx="414.9" cy="301.5" r="3.85"/><circle cx="363.4" cy="300.7" r="3.85"/><circle cx="378.5" cy="319.6" r="3.85"/><circle cx="402" cy="316.6" r="3.85"/><circle cx="328.8" cy="305.2" r="3.85"/><circle cx="331.4" cy="333.8" r="3.85"/><circle cx="385.6" cy="270.9" r="3.85"/><circle cx="444.4" cy="284.8" r="3.85"/><circle cx="458.1" cy="278.3" r="3.85"/><circle cx="372.4" cy="312.4" r="3.85"/><circle cx="332" cy="308.1" r="3.85"/><circle cx="424.7" cy="289.9" r="3.85"/><circle cx="441.6" cy="297.6" r="3.85"/><circle cx="428.4" cy="303.5" r="3.85"/><circle cx="453.9" cy="269.5" r="3.85"/><circle cx="448.2" cy="279.8" r="3.85"/><circle cx="457.5" cy="277.3" r="3.85"/><circle cx="442.4" cy="264.6" r="3.85"/><circle cx="334.1" cy="325.7" r="3.85"/><circle cx="367.3" cy="313.7" r="3.85"/><circle cx="382.5" cy="327.3" r="3.85"/><circle cx="440.7" cy="312.4" r="3.85"/><circle cx="383" cy="260" r="3.85"/><circle cx="419.6" cy="283.2" r="3.85"/><circle cx="421.3" cy="288.7" r="3.85"/><circle cx="406.3" cy="307.2" r="3.85"/><circle cx="340.2" cy="343.5" r="3.85"/><circle cx="337" cy="302.6" r="3.85"/><circle cx="436.5" cy="315.6" r="3.85"/><circle cx="344.3" cy="355.2" r="3.85"/><circle cx="439.3" cy="292.2" r="3.85"/><circle cx="438.9" cy="282.4" r="3.85"/><circle cx="472.5" cy="294.8" r="3.85"/><circle cx="353.6" cy="297.1" r="3.85"/><circle cx="364.4" cy="293.1" r="3.85"/><circle cx="434.9" cy="295.6" r="3.85"/><circle cx="385.1" cy="301.6" r="3.85"/><circle cx="429.3" cy="317.4" r="3.85"/><circle cx="412.7" cy="330.9" r="3.85"/><circle cx="388.2" cy="273.3" r="3.85"/><circle cx="424.1" cy="263.8" r="3.85"/><circle cx="368.9" cy="312.3" r="3.85"/><circle cx="407.2" cy="323.7" r="3.85"/><circle cx="453.3" cy="291.5" r="3.85"/><circle cx="381.5" cy="285.5" r="3.85"/><circle cx="419" cy="279.2" r="3.85"/><circle cx="453.1" cy="285" r="3.85"/><circle cx="393.6" cy="280.5" r="3.85"/><circle cx="363.8" cy="319" r="3.85"/><circle cx="395.9" cy="275.3" r="3.85"/><circle cx="362.1" cy="307.7" r="3.85"/><circle cx="416.8" cy="283.5" r="3.85"/><circle cx="406.4" cy="314.2" r="3.85"/><circle cx="409" cy="314.1" r="3.85"/><circle cx="424.3" cy="297.5" r="3.85"/><circle cx="370.4" cy="321.9" r="3.85"/><circle cx="365.7" cy="276.4" r="3.85"/><circle cx="372.3" cy="286.8" r="3.85"/><circle cx="392.2" cy="300" r="3.85"/><circle cx="445.5" cy="303" r="3.85"/><circle cx="397.6" cy="287.4" r="3.85"/><circle cx="389.5" cy="313.7" r="3.85"/><circle cx="414.5" cy="291.8" r="3.85"/><circle cx="329.8" cy="370.8" r="3.85"/><circle cx="401.3" cy="282.7" r="3.85"/><circle cx="416.7" cy="260.2" r="3.85"/><circle cx="448.6" cy="300.3" r="3.85"/><circle cx="381.7" cy="274.1" r="3.85"/><circle cx="381.9" cy="274.4" r="3.85"/><circle cx="380.1" cy="298.6" r="3.85"/><circle cx="441.1" cy="262.8" r="3.85"/><circle cx="362.3" cy="311.6" r="3.85"/><circle cx="370.4" cy="261.9" r="3.85"/><circle cx="425.1" cy="278.7" r="3.85"/><circle cx="379.6" cy="307.4" r="3.85"/><circle cx="392" cy="275.3" r="3.85"/><circle cx="387.1" cy="301.5" r="3.85"/><circle cx="371.3" cy="271" r="3.85"/><circle cx="330.4" cy="311.9" r="3.85"/><circle cx="377.3" cy="269.5" r="3.85"/><circle cx="372.8" cy="325.8" r="3.85"/><circle cx="461.7" cy="285.9" r="3.85"/><circle cx="416.4" cy="326.2" r="3.85"/><circle cx="357.1" cy="323.1" r="3.85"/><circle cx="426.4" cy="273.1" r="3.85"/><circle cx="413.3" cy="330.4" r="3.85"/><circle cx="359.9" cy="295.8" r="3.85"/><circle cx="431.2" cy="318.6" r="3.85"/><circle cx="329.6" cy="359.1" r="3.85"/><circle cx="359.3" cy="287.6" r="3.85"/><circle cx="409.2" cy="265.5" r="3.85"/><circle cx="376.2" cy="276.7" r="3.85"/><circle cx="397.9" cy="268.2" r="3.85"/><circle cx="369.7" cy="290.2" r="3.85"/><circle cx="433.5" cy="298" r="3.85"/><circle cx="404.7" cy="273" r="3.85"/><circle cx="471.9" cy="285.4" r="3.85"/><circle cx="442" cy="288.2" r="3.85"/><circle cx="425.3" cy="273.6" r="3.85"/><circle cx="440" cy="276.4" r="3.85"/><circle cx="455" cy="298.5" r="3.85"/><circle cx="362.4" cy="306.5" r="3.85"/><circle cx="430.3" cy="295.1" r="3.85"/><circle cx="450.5" cy="296.1" r="3.85"/><circle cx="424.4" cy="280" r="3.85"/><circle cx="417.2" cy="310.8" r="3.85"/><circle cx="456.8" cy="276.5" r="3.85"/><circle cx="411.5" cy="309.5" r="3.85"/><circle cx="419.6" cy="310" r="3.85"/><circle cx="416.6" cy="261" r="3.85"/><circle cx="377.8" cy="291.6" r="3.85"/><circle cx="414.5" cy="294.3" r="3.85"/><circle cx="437.2" cy="293.7" r="3.85"/><circle cx="357.8" cy="322.4" r="3.85"/><circle cx="324.9" cy="347.2" r="3.85"/><circle cx="390.1" cy="314.3" r="3.85"/><circle cx="369.5" cy="265.2" r="3.85"/><circle cx="413.7" cy="274.6" r="3.85"/><circle cx="381.8" cy="351.5" r="3.85"/><circle cx="463" cy="284.2" r="3.85"/><circle cx="360.3" cy="304.8" r="3.85"/><circle cx="424.6" cy="323.4" r="3.85"/><circle cx="371.8" cy="314.7" r="3.85"/><circle cx="432.3" cy="308.1" r="3.85"/><circle cx="431.4" cy="260.8" r="3.85"/><circle cx="438.6" cy="311.8" r="3.85"/><circle cx="395.3" cy="311.8" r="3.85"/><circle cx="364.8" cy="295.6" r="3.85"/><circle cx="436.1" cy="310.2" r="3.85"/><circle cx="385.8" cy="330" r="3.85"/><circle cx="384.2" cy="261.5" r="3.85"/><circle cx="372.1" cy="300.7" r="3.85"/><circle cx="412.4" cy="261.8" r="3.85"/><circle cx="395.7" cy="320.7" r="3.85"/><circle cx="434.9" cy="267" r="3.85"/><circle cx="419.5" cy="313.5" r="3.85"/><circle cx="404.6" cy="313" r="3.85"/><circle cx="349.4" cy="355.7" r="3.85"/><circle cx="449.4" cy="296.8" r="3.85"/><circle cx="456.7" cy="293.7" r="3.85"/><circle cx="449" cy="262.8" r="3.85"/><circle cx="431.3" cy="290.5" r="3.85"/><circle cx="360.1" cy="273.4" r="3.85"/><circle cx="372.8" cy="304.3" r="3.85"/><circle cx="445.4" cy="271.4" r="3.85"/><circle cx="411.1" cy="320.6" r="3.85"/><circle cx="337.6" cy="341.9" r="3.85"/><circle cx="440.1" cy="294.8" r="3.85"/><circle cx="421.3" cy="292" r="3.85"/><circle cx="395.9" cy="267.6" r="3.85"/><circle cx="369.4" cy="281.2" r="3.85"/><circle cx="383.5" cy="284.7" r="3.85"/><circle cx="471.3" cy="308.1" r="3.85"/><circle cx="379.3" cy="267.6" r="3.85"/><circle cx="377.1" cy="326.6" r="3.85"/><circle cx="398.4" cy="314.6" r="3.85"/><circle cx="471.3" cy="292.6" r="3.85"/><circle cx="365" cy="276.8" r="3.85"/><circle cx="400.2" cy="316.1" r="3.85"/><circle cx="433.4" cy="310.3" r="3.85"/><circle cx="333.3" cy="350.8" r="3.85"/><circle cx="460.2" cy="269.2" r="3.85"/><circle cx="475.9" cy="293.3" r="3.85"/><circle cx="425" cy="288" r="3.85"/><circle cx="368.5" cy="268.5" r="3.85"/><circle cx="495.6" cy="287.4" r="3.85"/><circle cx="388.7" cy="320" r="3.85"/><circle cx="374.9" cy="285.3" r="3.85"/><circle cx="437.5" cy="283" r="3.85"/><circle cx="474.2" cy="293" r="3.85"/><circle cx="435.2" cy="302.7" r="3.85"/><circle cx="421.3" cy="275.1" r="3.85"/><circle cx="446.1" cy="264.1" r="3.85"/><circle cx="330" cy="326.3" r="3.85"/><circle cx="395.8" cy="297.4" r="3.85"/><circle cx="380.6" cy="311.1" r="3.85"/><circle cx="374.3" cy="293.4" r="3.85"/><circle cx="453.1" cy="302.7" r="3.85"/><circle cx="331" cy="299.8" r="3.85"/><circle cx="439.4" cy="273.2" r="3.85"/><circle cx="413.4" cy="315.2" r="3.85"/><circle cx="381.2" cy="309.5" r="3.85"/><circle cx="460" cy="275.1" r="3.85"/><circle cx="334" cy="314.9" r="3.85"/><circle cx="407.3" cy="264.6" r="3.85"/><circle cx="425.7" cy="262.4" r="3.85"/><circle cx="408.3" cy="301.7" r="3.85"/><circle cx="431.3" cy="271.6" r="3.85"/><circle cx="359.8" cy="315" r="3.85"/><circle cx="442.4" cy="290.4" r="3.85"/><circle cx="441" cy="298.6" r="3.85"/><circle cx="422.3" cy="308.9" r="3.85"/><circle cx="326.5" cy="350.4" r="3.85"/><circle cx="390.7" cy="265" r="3.85"/><circle cx="449.8" cy="301" r="3.85"/><circle cx="384.3" cy="323.7" r="3.85"/><circle cx="419" cy="318.1" r="3.85"/><circle cx="336.4" cy="349" r="3.85"/><circle cx="377.4" cy="315.2" r="3.85"/><circle cx="431.5" cy="273.9" r="3.85"/><circle cx="350" cy="344.8" r="3.85"/><circle cx="359.9" cy="281.7" r="3.85"/><circle cx="361.4" cy="273.3" r="3.85"/><circle cx="415.1" cy="276" r="3.85"/><circle cx="332" cy="330.8" r="3.85"/><circle cx="363.9" cy="273.3" r="3.85"/><circle cx="456.9" cy="274.9" r="3.85"/><circle cx="392.7" cy="321.7" r="3.85"/><circle cx="459.3" cy="303.5" r="3.85"/><circle cx="329.4" cy="327.6" r="3.85"/><circle cx="385.8" cy="346.2" r="3.85"/><circle cx="396.7" cy="305.4" r="3.85"/><circle cx="334.2" cy="359.1" r="3.85"/><circle cx="411.5" cy="275.8" r="3.85"/><circle cx="384.8" cy="274" r="3.85"/><circle cx="422.9" cy="268.5" r="3.85"/><circle cx="388.7" cy="286.4" r="3.85"/><circle cx="457" cy="290.5" r="3.85"/><circle cx="411.2" cy="323.7" r="3.85"/><circle cx="340.2" cy="339.3" r="3.85"/><circle cx="364" cy="300.2" r="3.85"/><circle cx="453.8" cy="290.7" r="3.85"/><circle cx="375.1" cy="288.5" r="3.85"/><circle cx="412.5" cy="287.9" r="3.85"/><circle cx="440.8" cy="279.7" r="3.85"/><circle cx="388.5" cy="269.9" r="3.85"/><circle cx="404.3" cy="293.9" r="3.85"/><circle cx="417.3" cy="281" r="3.85"/><circle cx="448.1" cy="279.9" r="3.85"/><circle cx="374.6" cy="275.2" r="3.85"/><circle cx="427.3" cy="270.5" r="3.85"/><circle cx="374.2" cy="300.5" r="3.85"/><circle cx="418.4" cy="280.9" r="3.85"/><circle cx="414.9" cy="300.8" r="3.85"/><circle cx="404.1" cy="262.2" r="3.85"/><circle cx="449.7" cy="281.8" r="3.85"/><circle cx="421.1" cy="317.7" r="3.85"/><circle cx="371.8" cy="311.7" r="3.85"/><circle cx="454.5" cy="289.3" r="3.85"/><circle cx="453.5" cy="305.7" r="3.85"/><circle cx="398.5" cy="314.1" r="3.85"/><circle cx="332.7" cy="320" r="3.85"/><circle cx="435.1" cy="287.4" r="3.85"/><circle cx="412.4" cy="323" r="3.85"/><circle cx="374.3" cy="307" r="3.85"/><circle cx="454.4" cy="285.2" r="3.85"/><circle cx="433.6" cy="268.8" r="3.85"/><circle cx="395.4" cy="291.9" r="3.85"/><circle cx="408.2" cy="260.4" r="3.85"/><circle cx="465.8" cy="305.1" r="3.85"/><circle cx="477.2" cy="295.1" r="3.85"/><circle cx="436.5" cy="266.2" r="3.85"/><circle cx="373.4" cy="289.6" r="3.85"/><circle cx="377" cy="320.9" r="3.85"/><circle cx="445.8" cy="294.1" r="3.85"/><circle cx="366.4" cy="273.4" r="3.85"/><circle cx="380" cy="302.9" r="3.85"/><circle cx="398.3" cy="272.8" r="3.85"/><circle cx="411.6" cy="310" r="3.85"/><circle cx="420.9" cy="321.6" r="3.85"/><circle cx="417.2" cy="321.2" r="3.85"/><circle cx="447.4" cy="291.2" r="3.85"/><circle cx="353.9" cy="306.3" r="3.85"/><circle cx="396.8" cy="285" r="3.85"/><circle cx="388" cy="288.2" r="3.85"/><circle cx="358.1" cy="306.8" r="3.85"/><circle cx="410.2" cy="279.9" r="3.85"/><circle cx="402.6" cy="286.5" r="3.85"/><circle cx="452.9" cy="277.2" r="3.85"/><circle cx="341.2" cy="370.6" r="3.85"/><circle cx="457.8" cy="276.9" r="3.85"/><circle cx="415.1" cy="301.6" r="3.85"/><circle cx="418.4" cy="312.1" r="3.85"/><circle cx="410.1" cy="262.1" r="3.85"/><circle cx="410.8" cy="292.3" r="3.85"/><circle cx="461.7" cy="283.9" r="3.85"/><circle cx="414" cy="296.8" r="3.85"/><circle cx="392.8" cy="309" r="3.85"/><circle cx="393.8" cy="323.1" r="3.85"/><circle cx="460.2" cy="285.2" r="3.85"/><circle cx="370.3" cy="284.5" r="3.85"/><circle cx="441.2" cy="306" r="3.85"/><circle cx="471.8" cy="299.9" r="3.85"/><circle cx="457.6" cy="266.8" r="3.85"/><circle cx="398.1" cy="276.9" r="3.85"/><circle cx="402.1" cy="325.2" r="3.85"/><circle cx="363.1" cy="300.5" r="3.85"/><circle cx="442.5" cy="291.1" r="3.85"/><circle cx="392" cy="315.3" r="3.85"/><circle cx="337.7" cy="358.1" r="3.85"/><circle cx="389.3" cy="298.3" r="3.85"/><circle cx="422.7" cy="284" r="3.85"/><circle cx="383.6" cy="272.4" r="3.85"/><circle cx="329.4" cy="291.1" r="3.85"/><circle cx="409.2" cy="312.8" r="3.85"/><circle cx="383.8" cy="278" r="3.85"/><circle cx="437.5" cy="294.4" r="3.85"/><circle cx="375.3" cy="276.3" r="3.85"/><circle cx="429.2" cy="313.9" r="3.85"/><circle cx="364.4" cy="301.6" r="3.85"/><circle cx="425.1" cy="316.2" r="3.85"/><circle cx="464.7" cy="305.7" r="3.85"/><circle cx="372.3" cy="266" r="3.85"/><circle cx="417.1" cy="318.7" r="3.85"/><circle cx="396.8" cy="298.5" r="3.85"/><circle cx="338.7" cy="340.9" r="3.85"/><circle cx="466.6" cy="279.3" r="3.85"/><circle cx="363.4" cy="310.7" r="3.85"/><circle cx="415.9" cy="278" r="3.85"/><circle cx="326.9" cy="351.3" r="3.85"/><circle cx="470.7" cy="279.6" r="3.85"/><circle cx="445.1" cy="312.8" r="3.85"/><circle cx="450.2" cy="276.1" r="3.85"/><circle cx="453.5" cy="265.5" r="3.85"/><circle cx="401.8" cy="335.2" r="3.85"/><circle cx="388.8" cy="272.8" r="3.85"/><circle cx="367.6" cy="301.8" r="3.85"/><circle cx="460.5" cy="296.7" r="3.85"/><circle cx="446.6" cy="304.9" r="3.85"/><circle cx="379.5" cy="271.9" r="3.85"/><circle cx="446.2" cy="288.7" r="3.85"/><circle cx="421.3" cy="304.8" r="3.85"/><circle cx="333.8" cy="300.6" r="3.85"/><circle cx="340.2" cy="314.2" r="3.85"/><circle cx="359.2" cy="285.4" r="3.85"/><circle cx="389.4" cy="268.3" r="3.85"/><circle cx="361.9" cy="279.8" r="3.85"/><circle cx="359" cy="324.2" r="3.85"/><circle cx="428.4" cy="289.2" r="3.85"/><circle cx="386.5" cy="310.8" r="3.85"/><circle cx="404.8" cy="311.7" r="3.85"/><circle cx="391.9" cy="329.4" r="3.85"/><circle cx="394.5" cy="278.3" r="3.85"/><circle cx="453.9" cy="273.2" r="3.85"/><circle cx="427.7" cy="293.1" r="3.85"/><circle cx="493" cy="300.7" r="3.85"/><circle cx="455.9" cy="286.2" r="3.85"/><circle cx="471.9" cy="279.9" r="3.85"/><circle cx="455.6" cy="294.8" r="3.85"/><circle cx="352" cy="293.1" r="3.85"/><circle cx="387" cy="263.5" r="3.85"/><circle cx="375" cy="305.5" r="3.85"/><circle cx="394.5" cy="332.3" r="3.85"/><circle cx="410.9" cy="319.6" r="3.85"/><circle cx="402.7" cy="324.1" r="3.85"/><circle cx="377.8" cy="265.8" r="3.85"/><circle cx="358.8" cy="281.8" r="3.85"/><circle cx="389" cy="265.1" r="3.85"/><circle cx="347.7" cy="330.4" r="3.85"/><circle cx="351.2" cy="297.6" r="3.85"/><circle cx="471.2" cy="300.6" r="3.85"/><circle cx="460.5" cy="278.9" r="3.85"/><circle cx="408.4" cy="264.9" r="3.85"/><circle cx="434.8" cy="258.4" r="3.85"/><circle cx="433.8" cy="269.9" r="3.85"/><circle cx="327.8" cy="341.9" r="3.85"/><circle cx="475.8" cy="298.6" r="3.85"/><circle cx="428.6" cy="292.5" r="3.85"/><circle cx="443.3" cy="275.8" r="3.85"/><circle cx="449.4" cy="269.3" r="3.85"/><circle cx="405.8" cy="262" r="3.85"/><circle cx="449.6" cy="307.2" r="3.85"/><circle cx="390.5" cy="331.2" r="3.85"/><circle cx="392" cy="262.8" r="3.85"/><circle cx="351" cy="304.2" r="3.85"/><circle cx="370.6" cy="301.5" r="3.85"/><circle cx="398.6" cy="270.7" r="3.85"/><circle cx="416.5" cy="289.2" r="3.85"/><circle cx="440.1" cy="284.5" r="3.85"/><circle cx="362" cy="299.7" r="3.85"/><circle cx="378.3" cy="286.1" r="3.85"/><circle cx="430.8" cy="275.7" r="3.85"/><circle cx="379.9" cy="291.8" r="3.85"/><circle cx="356.5" cy="286.3" r="3.85"/><circle cx="387.4" cy="281.1" r="3.85"/><circle cx="456.2" cy="302.9" r="3.85"/><circle cx="382" cy="313.5" r="3.85"/><circle cx="425.5" cy="276.7" r="3.85"/><circle cx="329.5" cy="306.7" r="3.85"/><circle cx="411.8" cy="267.6" r="3.85"/><circle cx="410.3" cy="271.8" r="3.85"/><circle cx="391" cy="281.5" r="3.85"/><circle cx="397.3" cy="263.6" r="3.85"/><circle cx="423.8" cy="307.7" r="3.85"/><circle cx="477.4" cy="297.4" r="3.85"/><circle cx="445.1" cy="294.5" r="3.85"/><circle cx="398.3" cy="282.9" r="3.85"/><circle cx="386.9" cy="294" r="3.85"/><circle cx="411.8" cy="281.4" r="3.85"/><circle cx="404.2" cy="271.8" r="3.85"/><circle cx="441.8" cy="278.3" r="3.85"/><circle cx="396.1" cy="292.2" r="3.85"/><circle cx="420.7" cy="307.3" r="3.85"/><circle cx="372" cy="286.5" r="3.85"/><circle cx="344.1" cy="362.8" r="3.85"/><circle cx="418.2" cy="308.6" r="3.85"/><circle cx="359.4" cy="267.7" r="3.85"/><circle cx="417.5" cy="321.2" r="3.85"/><circle cx="451.4" cy="282" r="3.85"/><circle cx="459.8" cy="291.1" r="3.85"/><circle cx="424.1" cy="301.9" r="3.85"/><circle cx="421.2" cy="273.8" r="3.85"/><circle cx="420.8" cy="287.1" r="3.85"/><circle cx="415.3" cy="292.7" r="3.85"/><circle cx="423.3" cy="300.2" r="3.85"/><circle cx="408.6" cy="313.7" r="3.85"/><circle cx="381" cy="263.4" r="3.85"/><circle cx="369.5" cy="289.3" r="3.85"/><circle cx="398.7" cy="314" r="3.85"/><circle cx="377" cy="260.6" r="3.85"/><circle cx="437.9" cy="272.2" r="3.85"/><circle cx="374" cy="264.2" r="3.85"/><circle cx="451" cy="287.7" r="3.85"/><circle cx="419" cy="300.7" r="3.85"/><circle cx="398.9" cy="296.1" r="3.85"/><circle cx="431.6" cy="311.7" r="3.85"/><circle cx="452.8" cy="267.4" r="3.85"/><circle cx="395.6" cy="270.9" r="3.85"/><circle cx="460.4" cy="281.8" r="3.85"/><circle cx="420.3" cy="287.6" r="3.85"/><circle cx="410.9" cy="306.5" r="3.85"/><circle cx="404.8" cy="278.4" r="3.85"/><circle cx="331.7" cy="341.2" r="3.85"/><circle cx="341.7" cy="362.5" r="3.85"/><circle cx="402.3" cy="271" r="3.85"/><circle cx="381.7" cy="296.3" r="3.85"/><circle cx="408" cy="289.2" r="3.85"/><circle cx="391.9" cy="281.1" r="3.85"/><circle cx="412.2" cy="261.2" r="3.85"/><circle cx="359.4" cy="293.1" r="3.85"/><circle cx="456.7" cy="294.5" r="3.85"/><circle cx="369.4" cy="269.1" r="3.85"/><circle cx="399.5" cy="306.8" r="3.85"/><circle cx="475.3" cy="287.2" r="3.85"/><circle cx="345.3" cy="361.8" r="3.85"/><circle cx="365.7" cy="310.4" r="3.85"/><circle cx="415.8" cy="277.9" r="3.85"/><circle cx="445.6" cy="299.8" r="3.85"/><circle cx="333.2" cy="321.2" r="3.85"/><circle cx="370.8" cy="315.4" r="3.85"/><circle cx="406.2" cy="307" r="3.85"/><circle cx="373.2" cy="281" r="3.85"/><circle cx="392" cy="271.9" r="3.85"/><circle cx="361.3" cy="271.1" r="3.85"/><circle cx="391" cy="355.5" r="3.85"/><circle cx="463.5" cy="298.9" r="3.85"/><circle cx="378.6" cy="279.2" r="3.85"/><circle cx="406.7" cy="317.9" r="3.85"/><circle cx="464.1" cy="291.4" r="3.85"/><circle cx="489" cy="284" r="3.85"/><circle cx="481.1" cy="295.9" r="3.85"/><circle cx="434.3" cy="277.3" r="3.85"/><circle cx="451.8" cy="279.9" r="3.85"/><circle cx="461.2" cy="286.2" r="3.85"/><circle cx="432.6" cy="291.1" r="3.85"/><circle cx="417.8" cy="324.5" r="3.85"/><circle cx="379.6" cy="315.7" r="3.85"/><circle cx="391.5" cy="291.6" r="3.85"/><circle cx="391.7" cy="283.5" r="3.85"/>
</g>
<line x1="323.9" y1="310.5" x2="496.4" y2="259.9" stroke="#222" stroke-width="1.0"/>
<rect x="309.2" y="238.3" width="209.8" height="167.8" fill="none" stroke="#3c3c3c" stroke-width="1.2"/>
<text x="304" y="403.1" font-size="10" text-anchor="end">0.0</text>
<text x="304" y="373.6" font-size="10" text-anchor="end">0.2</text>
<text x="304" y="344.2" font-size="10" text-anchor="end">0.4</text>
<text x="304" y="314.8" font-size="10" text-anchor="end">0.6</text>
<text x="304" y="285.3" font-size="10" text-anchor="end">0.8</text>
<text x="304" y="255.8" font-size="10" text-anchor="end">1.0</text>
<path d="M305.8 399.7h3.4M305.8 370.2h3.4M305.8 340.8h3.4M305.8 311.4h3.4M305.8 281.9h3.4M305.8 252.4h3.4M307.2 385h2M307.2 355.5h2M307.2 326.1h2M307.2 296.6h2M307.2 267.2h2" stroke="#3c3c3c" stroke-width="1.1" fill="none"/>
<text x="320" y="419.9" font-size="10" text-anchor="middle">0</text>
<text x="359.8" y="419.9" font-size="10" text-anchor="middle">2</text>
<text x="399.5" y="419.9" font-size="10" text-anchor="middle">4</text>
<text x="439.2" y="419.9" font-size="10" text-anchor="middle">6</text>
<text x="479" y="419.9" font-size="10" text-anchor="middle">8</text>
<text x="518.8" y="419.9" font-size="10" text-anchor="middle">10</text>
<path d="M320 406.1v3.4M359.8 406.1v3.4M399.5 406.1v3.4M439.2 406.1v3.4M479 406.1v3.4M518.8 406.1v3.4M339.9 406.1v2M379.6 406.1v2M419.4 406.1v2M459.1 406.1v2M498.9 406.1v2" stroke="#3c3c3c" stroke-width="1.1" fill="none"/>
<text x="414.4" y="433.5" font-size="11.8" text-anchor="middle">Environmental distance</text>
<text x="284.3" y="321.7" font-size="11.8" text-anchor="middle" transform="rotate(-90 284.3 321.7)">Viral community dissimilarity</text>
<text x="277.6" y="242" font-size="14.5" text-anchor="start">e</text>
<text x="414.4" y="398.2" font-size="11.8" text-anchor="middle">RS: <tspan font-style="italic">r</tspan> = 0.406**</text>
</g>
<g id="panel-f">
<g fill="#ee0000" stroke="#fff" stroke-width="0.9">
<circle cx="339.6" cy="487.5" r="3.85"/><circle cx="324.9" cy="586.8" r="3.85"/><circle cx="497.3" cy="487" r="3.85"/><circle cx="324.7" cy="533.1" r="3.85"/><circle cx="393.7" cy="490.3" r="3.85"/><circle cx="398.7" cy="503" r="3.85"/><circle cx="430.4" cy="492.7" r="3.85"/><circle cx="430.5" cy="506.7" r="3.85"/><circle cx="339.4" cy="506.6" r="3.85"/><circle cx="361.4" cy="537.2" r="3.85"/><circle cx="325.1" cy="583.4" r="3.85"/><circle cx="418.9" cy="518.1" r="3.85"/><circle cx="408.1" cy="490.2" r="3.85"/><circle cx="450.7" cy="483.4" r="3.85"/><circle cx="339.5" cy="490.7" r="3.85"/><circle cx="325.1" cy="545.9" r="3.85"/><circle cx="347.9" cy="520.8" r="3.85"/><circle cx="489" cy="493.6" r="3.85"/><circle cx="430.8" cy="490.8" r="3.85"/><circle cx="389.9" cy="492.5" r="3.85"/><circle cx="355.3" cy="513.1" r="3.85"/><circle cx="339.4" cy="533.6" r="3.85"/><circle cx="376.8" cy="497.4" r="3.85"/><circle cx="451.1" cy="519.3" r="3.85"/><circle cx="430.6" cy="504.9" r="3.85"/><circle cx="325.1" cy="536.6" r="3.85"/><circle cx="358.5" cy="489.2" r="3.85"/><circle cx="497.3" cy="484.5" r="3.85"/><circle cx="324.9" cy="585.7" r="3.85"/><circle cx="488.9" cy="506" r="3.85"/><circle cx="418.8" cy="489" r="3.85"/><circle cx="424.1" cy="478.8" r="3.85"/><circle cx="437.9" cy="518.1" r="3.85"/><circle cx="355.3" cy="533.1" r="3.85"/><circle cx="381.3" cy="519.7" r="3.85"/><circle cx="331.8" cy="516.9" r="3.85"/><circle cx="377.1" cy="482" r="3.85"/><circle cx="489.1" cy="481.7" r="3.85"/><circle cx="456.1" cy="506.7" r="3.85"/><circle cx="348" cy="483" r="3.85"/><circle cx="325.1" cy="553.2" r="3.85"/><circle cx="424.3" cy="483.5" r="3.85"/><circle cx="383.9" cy="511.3" r="3.85"/><circle cx="393.8" cy="474.9" r="3.85"/><circle cx="339.4" cy="481.7" r="3.85"/><circle cx="324.8" cy="509.2" r="3.85"/><circle cx="366.8" cy="508.7" r="3.85"/><circle cx="408.4" cy="504.6" r="3.85"/><circle cx="489.3" cy="504.1" r="3.85"/><circle cx="483.6" cy="484" r="3.85"/><circle cx="371.7" cy="523.8" r="3.85"/><circle cx="377" cy="495.9" r="3.85"/><circle cx="355.2" cy="526.2" r="3.85"/><circle cx="408.1" cy="507.1" r="3.85"/><circle cx="450.8" cy="502.6" r="3.85"/><circle cx="325" cy="502.8" r="3.85"/><circle cx="331.6" cy="538.9" r="3.85"/><circle cx="358.5" cy="527" r="3.85"/><circle cx="348.4" cy="525.9" r="3.85"/><circle cx="371.7" cy="490.4" r="3.85"/><circle cx="367.2" cy="500.2" r="3.85"/><circle cx="377" cy="521.5" r="3.85"/><circle cx="383.9" cy="534.7" r="3.85"/><circle cx="339.5" cy="502.3" r="3.85"/><circle cx="343.9" cy="510.6" r="3.85"/><circle cx="358.3" cy="484.8" r="3.85"/><circle cx="438.1" cy="506.3" r="3.85"/><circle cx="430.3" cy="479.2" r="3.85"/><circle cx="456.4" cy="504.5" r="3.85"/><circle cx="381.4" cy="493.4" r="3.85"/><circle cx="355.2" cy="514.6" r="3.85"/><circle cx="352.4" cy="519" r="3.85"/><circle cx="344" cy="495.7" r="3.85"/><circle cx="339.4" cy="515.6" r="3.85"/><circle cx="331.6" cy="524.2" r="3.85"/><circle cx="418.9" cy="521.6" r="3.85"/><circle cx="381.3" cy="476.4" r="3.85"/><circle cx="355.4" cy="491.5" r="3.85"/><circle cx="464.2" cy="504.3" r="3.85"/><circle cx="463.9" cy="488.3" r="3.85"/><circle cx="437.9" cy="486.2" r="3.85"/><circle cx="358.7" cy="539.1" r="3.85"/><circle cx="324.7" cy="543" r="3.85"/><circle cx="371.8" cy="503.1" r="3.85"/><circle cx="393.9" cy="497.2" r="3.85"/><circle cx="389.7" cy="504.9" r="3.85"/><circle cx="381.6" cy="525" r="3.85"/><circle cx="489.1" cy="490.4" r="3.85"/><circle cx="437.9" cy="510.8" r="3.85"/><circle cx="463.9" cy="507.4" r="3.85"/><circle cx="361.3" cy="539.4" r="3.85"/><circle cx="358.6" cy="501" r="3.85"/><circle cx="450.8" cy="523.5" r="3.85"/><circle cx="324.8" cy="530.4" r="3.85"/><circle cx="352.4" cy="493.5" r="3.85"/><circle cx="334.6" cy="535.9" r="3.85"/><circle cx="419" cy="498.5" r="3.85"/><circle cx="352.4" cy="533.9" r="3.85"/><circle cx="408.4" cy="478.8" r="3.85"/><circle cx="324.9" cy="548.2" r="3.85"/><circle cx="352.6" cy="501.9" r="3.85"/><circle cx="352.7" cy="516.1" r="3.85"/><circle cx="413.8" cy="522.6" r="3.85"/><circle cx="371.7" cy="474.1" r="3.85"/><circle cx="358.5" cy="502.3" r="3.85"/><circle cx="348.1" cy="492.4" r="3.85"/><circle cx="451.1" cy="504.8" r="3.85"/><circle cx="384.2" cy="516.9" r="3.85"/><circle cx="408.4" cy="482.7" r="3.85"/><circle cx="408.4" cy="518.6" r="3.85"/><circle cx="470.9" cy="487.5" r="3.85"/><circle cx="361.3" cy="518.4" r="3.85"/><circle cx="328.9" cy="531.6" r="3.85"/><circle cx="328.8" cy="534.7" r="3.85"/><circle cx="444.3" cy="518.4" r="3.85"/><circle cx="418.8" cy="490.4" r="3.85"/><circle cx="418.6" cy="515.1" r="3.85"/><circle cx="381.5" cy="529.5" r="3.85"/><circle cx="383.9" cy="490.5" r="3.85"/><circle cx="331.9" cy="536.7" r="3.85"/><circle cx="484.1" cy="498" r="3.85"/><circle cx="358.6" cy="507.6" r="3.85"/><circle cx="331.7" cy="529.5" r="3.85"/><circle cx="471.4" cy="504.1" r="3.85"/><circle cx="471.1" cy="501.1" r="3.85"/><circle cx="381.6" cy="500.5" r="3.85"/><circle cx="348.3" cy="477.2" r="3.85"/><circle cx="366.9" cy="535.1" r="3.85"/><circle cx="324.6" cy="551.1" r="3.85"/><circle cx="324.6" cy="504.3" r="3.85"/><circle cx="437.7" cy="516.9" r="3.85"/><circle cx="393.8" cy="528.3" r="3.85"/><circle cx="389.6" cy="483.4" r="3.85"/><circle cx="489.3" cy="501.6" r="3.85"/><circle cx="328.9" cy="525.1" r="3.85"/><circle cx="355.1" cy="505.4" r="3.85"/><circle cx="325.2" cy="581.4" r="3.85"/><circle cx="355" cy="521.7" r="3.85"/><circle cx="348.2" cy="478.8" r="3.85"/><circle cx="367" cy="473.2" r="3.85"/><circle cx="444.1" cy="522.7" r="3.85"/><circle cx="344.2" cy="525.1" r="3.85"/><circle cx="450.7" cy="494.5" r="3.85"/><circle cx="344.3" cy="534" r="3.85"/><circle cx="377" cy="516.5" r="3.85"/><circle cx="398.5" cy="506.2" r="3.85"/><circle cx="414.2" cy="480.6" r="3.85"/><circle cx="403.6" cy="514.9" r="3.85"/><circle cx="324.5" cy="529.6" r="3.85"/><circle cx="389.8" cy="489.5" r="3.85"/><circle cx="355.5" cy="545.1" r="3.85"/><circle cx="444.4" cy="496.2" r="3.85"/><circle cx="389.9" cy="482.1" r="3.85"/><circle cx="348.1" cy="507.5" r="3.85"/><circle cx="358.7" cy="515.5" r="3.85"/><circle cx="324.8" cy="563.7" r="3.85"/><circle cx="334.7" cy="529.1" r="3.85"/><circle cx="450.7" cy="476.2" r="3.85"/><circle cx="371.4" cy="488.3" r="3.85"/><circle cx="424" cy="506" r="3.85"/><circle cx="403.3" cy="489.9" r="3.85"/><circle cx="325.1" cy="583.3" r="3.85"/><circle cx="381.5" cy="510.5" r="3.85"/><circle cx="384.2" cy="509.4" r="3.85"/><circle cx="403.3" cy="487.6" r="3.85"/><circle cx="325" cy="494" r="3.85"/><circle cx="358.3" cy="487" r="3.85"/><circle cx="343.8" cy="519.4" r="3.85"/><circle cx="423.9" cy="481.8" r="3.85"/><circle cx="419" cy="509.4" r="3.85"/><circle cx="389.7" cy="511.8" r="3.85"/><circle cx="419.1" cy="506.1" r="3.85"/><circle cx="331.8" cy="534.7" r="3.85"/><circle cx="414.2" cy="516.6" r="3.85"/><circle cx="325.1" cy="564.2" r="3.85"/><circle cx="483.8" cy="499.3" r="3.85"/><circle cx="381.2" cy="513.6" r="3.85"/><circle cx="367" cy="517.2" r="3.85"/><circle cx="324.9" cy="570.3" r="3.85"/><circle cx="437.7" cy="474.3" r="3.85"/><circle cx="418.6" cy="493.3" r="3.85"/><circle cx="324.6" cy="533.9" r="3.85"/><circle cx="451" cy="491.2" r="3.85"/><circle cx="348.3" cy="488.8" r="3.85"/><circle cx="444.2" cy="509.2" r="3.85"/><circle cx="381.4" cy="504.7" r="3.85"/><circle cx="438" cy="481.2" r="3.85"/><circle cx="324.9" cy="595.4" r="3.85"/><circle cx="329.1" cy="518.1" r="3.85"/><circle cx="381.3" cy="508.7" r="3.85"/><circle cx="389.5" cy="495.6" r="3.85"/><circle cx="438" cy="504.7" r="3.85"/><circle cx="393.8" cy="473.4" r="3.85"/><circle cx="324.9" cy="547.4" r="3.85"/><circle cx="444.4" cy="477.3" r="3.85"/><circle cx="331.9" cy="510.2" r="3.85"/><circle cx="389.9" cy="516.4" r="3.85"/><circle cx="438.1" cy="509" r="3.85"/><circle cx="418.9" cy="516.6" r="3.85"/><circle cx="325.1" cy="555.8" r="3.85"/><circle cx="328.9" cy="537.2" r="3.85"/><circle cx="358.2" cy="481.2" r="3.85"/><circle cx="414" cy="473.9" r="3.85"/><circle cx="450.9" cy="473.1" r="3.85"/><circle cx="325.1" cy="588.6" r="3.85"/><circle cx="352.3" cy="499.4" r="3.85"/><circle cx="403.4" cy="481" r="3.85"/><circle cx="355.4" cy="537" r="3.85"/><circle cx="403.5" cy="510.6" r="3.85"/><circle cx="324.9" cy="536" r="3.85"/><circle cx="430.7" cy="515" r="3.85"/><circle cx="414.2" cy="513.6" r="3.85"/><circle cx="424" cy="511.9" r="3.85"/><circle cx="339.3" cy="497.1" r="3.85"/><circle cx="324.8" cy="591.5" r="3.85"/><circle cx="343.8" cy="505.3" r="3.85"/><circle cx="325.2" cy="550.3" r="3.85"/><circle cx="324.6" cy="510.2" r="3.85"/><circle cx="381.2" cy="522.3" r="3.85"/><circle cx="334.4" cy="511.3" r="3.85"/><circle cx="414" cy="505.4" r="3.85"/><circle cx="408.3" cy="486" r="3.85"/><circle cx="328.9" cy="507" r="3.85"/><circle cx="398.7" cy="478.3" r="3.85"/><circle cx="381.6" cy="479.3" r="3.85"/><circle cx="339.4" cy="505.4" r="3.85"/><circle cx="424" cy="496" r="3.85"/><circle cx="324.8" cy="589.9" r="3.85"/><circle cx="367.1" cy="489.1" r="3.85"/><circle cx="437.8" cy="500.9" r="3.85"/><circle cx="418.9" cy="476.2" r="3.85"/><circle cx="361.6" cy="492.9" r="3.85"/><circle cx="471.3" cy="511.2" r="3.85"/><circle cx="355.2" cy="507.1" r="3.85"/><circle cx="361.4" cy="484.8" r="3.85"/><circle cx="398.8" cy="517.9" r="3.85"/><circle cx="398.5" cy="492.8" r="3.85"/><circle cx="334.7" cy="514.3" r="3.85"/><circle cx="403.4" cy="518.1" r="3.85"/><circle cx="348.1" cy="493.7" r="3.85"/><circle cx="348.2" cy="487" r="3.85"/><circle cx="424.3" cy="500.7" r="3.85"/><circle cx="348.1" cy="475.5" r="3.85"/><circle cx="414" cy="496.5" r="3.85"/><circle cx="348.2" cy="527.5" r="3.85"/><circle cx="355.4" cy="540.9" r="3.85"/><circle cx="414.3" cy="521.2" r="3.85"/><circle cx="423.9" cy="508.7" r="3.85"/><circle cx="393.5" cy="508.4" r="3.85"/><circle cx="355.3" cy="510.6" r="3.85"/><circle cx="419" cy="519.9" r="3.85"/><circle cx="367.1" cy="491.9" r="3.85"/><circle cx="328.9" cy="526.5" r="3.85"/><circle cx="361.7" cy="532.2" r="3.85"/><circle cx="339.3" cy="508.2" r="3.85"/><circle cx="398.7" cy="500.1" r="3.85"/><circle cx="418.9" cy="486" r="3.85"/><circle cx="324.5" cy="588.9" r="3.85"/><circle cx="367.1" cy="533.3" r="3.85"/><circle cx="348.1" cy="480" r="3.85"/><circle cx="430.6" cy="477.1" r="3.85"/><circle cx="456.5" cy="477.5" r="3.85"/><circle cx="358.4" cy="480" r="3.85"/><circle cx="358.6" cy="496.3" r="3.85"/><circle cx="377.1" cy="530.9" r="3.85"/><circle cx="430.3" cy="484.8" r="3.85"/><circle cx="344.2" cy="501" r="3.85"/><circle cx="456.3" cy="494.6" r="3.85"/><circle cx="390" cy="500.9" r="3.85"/><circle cx="377" cy="510.5" r="3.85"/><circle cx="430.7" cy="487.1" r="3.85"/><circle cx="471.2" cy="514.5" r="3.85"/><circle cx="390" cy="498.1" r="3.85"/><circle cx="497.2" cy="490.5" r="3.85"/><circle cx="450.8" cy="515.4" r="3.85"/><circle cx="456.1" cy="512.3" r="3.85"/><circle cx="325" cy="553.2" r="3.85"/><circle cx="367.1" cy="518.6" r="3.85"/><circle cx="355.2" cy="498" r="3.85"/><circle cx="325.2" cy="514.6" r="3.85"/><circle cx="328.8" cy="528.1" r="3.85"/><circle cx="384.1" cy="523.2" r="3.85"/><circle cx="381.1" cy="491.2" r="3.85"/><circle cx="331.5" cy="500.9" r="3.85"/><circle cx="381.4" cy="527.4" r="3.85"/><circle cx="352.2" cy="508.5" r="3.85"/><circle cx="413.8" cy="493.6" r="3.85"/><circle cx="339.4" cy="499.3" r="3.85"/><circle cx="393.7" cy="496" r="3.85"/><circle cx="358.2" cy="493.6" r="3.85"/><circle cx="444.5" cy="479.4" r="3.85"/><circle cx="348.4" cy="504.5" r="3.85"/><circle cx="332" cy="502.9" r="3.85"/><circle cx="398.7" cy="516.4" r="3.85"/><circle cx="381.3" cy="506.3" r="3.85"/><circle cx="451" cy="480.6" r="3.85"/><circle cx="450.8" cy="506.9" r="3.85"/><circle cx="332" cy="515.7" r="3.85"/><circle cx="344.3" cy="483.2" r="3.85"/><circle cx="413.8" cy="484.8" r="3.85"/><circle cx="328.6" cy="500.3" r="3.85"/><circle cx="398.7" cy="513" r="3.85"/><circle cx="479" cy="485.7" r="3.85"/><circle cx="355.2" cy="502.5" r="3.85"/><circle cx="381.5" cy="481.6" r="3.85"/><circle cx="393.5" cy="488.8" r="3.85"/><circle cx="371.8" cy="486.4" r="3.85"/><circle cx="393.4" cy="532.9" r="3.85"/><circle cx="464" cy="497.4" r="3.85"/><circle cx="389.6" cy="506.9" r="3.85"/><circle cx="450.9" cy="485.1" r="3.85"/><circle cx="358.4" cy="504.2" r="3.85"/><circle cx="418.6" cy="504" r="3.85"/><circle cx="334.4" cy="530.6" r="3.85"/><circle cx="418.8" cy="481.4" r="3.85"/><circle cx="331.5" cy="497" r="3.85"/><circle cx="361.5" cy="488.4" r="3.85"/><circle cx="324.7" cy="574.6" r="3.85"/><circle cx="430.4" cy="509.8" r="3.85"/><circle cx="471.1" cy="481.9" r="3.85"/><circle cx="332" cy="507.4" r="3.85"/><circle cx="408" cy="484.1" r="3.85"/><circle cx="348.1" cy="508.9" r="3.85"/><circle cx="344.1" cy="515.2" r="3.85"/><circle cx="348.3" cy="544.1" r="3.85"/><circle cx="413.8" cy="503.9" r="3.85"/><circle cx="393.6" cy="530.5" r="3.85"/><circle cx="358.4" cy="483.3" r="3.85"/><circle cx="331.5" cy="520.9" r="3.85"/><circle cx="324.7" cy="532.6" r="3.85"/><circle cx="324.6" cy="518.7" r="3.85"/><circle cx="464.1" cy="512.7" r="3.85"/><circle cx="398.4" cy="489.4" r="3.85"/><circle cx="398.8" cy="524.1" r="3.85"/><circle cx="367.1" cy="503.1" r="3.85"/><circle cx="424" cy="515.3" r="3.85"/><circle cx="352.5" cy="480.3" r="3.85"/><circle cx="361.7" cy="491.4" r="3.85"/><circle cx="352.4" cy="523.9" r="3.85"/><circle cx="398.8" cy="481" r="3.85"/><circle cx="414" cy="500" r="3.85"/><circle cx="347.9" cy="503.1" r="3.85"/><circle cx="377.1" cy="514.5" r="3.85"/><circle cx="418.6" cy="511.1" r="3.85"/><circle cx="464" cy="513.8" r="3.85"/><circle cx="366.8" cy="512" r="3.85"/><circle cx="384.2" cy="488.5" r="3.85"/><circle cx="361.7" cy="476.8" r="3.85"/><circle cx="328.7" cy="513.3" r="3.85"/><circle cx="450.7" cy="478.1" r="3.85"/><circle cx="384.1" cy="503.3" r="3.85"/><circle cx="376.8" cy="527.2" r="3.85"/><circle cx="381.4" cy="502.7" r="3.85"/><circle cx="431.6" cy="548.5" r="3.85"/><circle cx="352.5" cy="476" r="3.85"/><circle cx="366.9" cy="506" r="3.85"/><circle cx="437.8" cy="477.3" r="3.85"/><circle cx="339.3" cy="493.8" r="3.85"/><circle cx="398.4" cy="528.9" r="3.85"/><circle cx="324.9" cy="584.4" r="3.85"/><circle cx="381.5" cy="474.9" r="3.85"/><circle cx="355.4" cy="496.4" r="3.85"/><circle cx="497.1" cy="488.6" r="3.85"/><circle cx="348.2" cy="490.7" r="3.85"/><circle cx="324.7" cy="572.8" r="3.85"/><circle cx="339.4" cy="520.1" r="3.85"/><circle cx="352.7" cy="536.7" r="3.85"/><circle cx="371.4" cy="481.9" r="3.85"/><circle cx="424" cy="493.1" r="3.85"/><circle cx="437.7" cy="496.4" r="3.85"/><circle cx="352.6" cy="522.6" r="3.85"/><circle cx="366.9" cy="481.2" r="3.85"/><circle cx="358.7" cy="534.1" r="3.85"/><circle cx="478.9" cy="491.1" r="3.85"/><circle cx="393.5" cy="501" r="3.85"/><circle cx="418.6" cy="483.9" r="3.85"/><circle cx="414.1" cy="526.5" r="3.85"/><circle cx="324.8" cy="524.3" r="3.85"/><circle cx="463.9" cy="492.9" r="3.85"/><circle cx="430.5" cy="525.9" r="3.85"/><circle cx="456.5" cy="491.4" r="3.85"/><circle cx="355.3" cy="500.8" r="3.85"/><circle cx="358.5" cy="523.8" r="3.85"/><circle cx="384.3" cy="522" r="3.85"/><circle cx="463.8" cy="477.6" r="3.85"/><circle cx="444.3" cy="490.5" r="3.85"/><circle cx="377.1" cy="477.7" r="3.85"/><circle cx="451.1" cy="488" r="3.85"/><circle cx="418.6" cy="524.6" r="3.85"/><circle cx="403.2" cy="478.5" r="3.85"/><circle cx="383.9" cy="531.4" r="3.85"/><circle cx="381.3" cy="495.4" r="3.85"/><circle cx="451.1" cy="522.2" r="3.85"/><circle cx="438" cy="521.5" r="3.85"/><circle cx="497.3" cy="491.8" r="3.85"/><circle cx="361.7" cy="506.7" r="3.85"/><circle cx="355.3" cy="484.7" r="3.85"/><circle cx="324.8" cy="546.9" r="3.85"/><circle cx="430.3" cy="513.4" r="3.85"/><circle cx="355.2" cy="488.4" r="3.85"/><circle cx="344.1" cy="488.7" r="3.85"/><circle cx="430.3" cy="475.6" r="3.85"/><circle cx="414" cy="494.7" r="3.85"/><circle cx="438" cy="502.4" r="3.85"/><circle cx="343.9" cy="517.9" r="3.85"/><circle cx="381.2" cy="487.3" r="3.85"/><circle cx="328.7" cy="504.5" r="3.85"/><circle cx="437.9" cy="498.3" r="3.85"/><circle cx="361.6" cy="486.7" r="3.85"/><circle cx="384.4" cy="507.6" r="3.85"/><circle cx="352.6" cy="539.5" r="3.85"/><circle cx="403.1" cy="495.5" r="3.85"/><circle cx="414.2" cy="478.2" r="3.85"/><circle cx="389.8" cy="480" r="3.85"/><circle cx="450.8" cy="508.8" r="3.85"/><circle cx="355" cy="481.9" r="3.85"/><circle cx="408.4" cy="523.2" r="3.85"/><circle cx="366.9" cy="478.6" r="3.85"/><circle cx="437.7" cy="483.3" r="3.85"/><circle cx="431.6" cy="550.6" r="3.85"/><circle cx="324.7" cy="592.2" r="3.85"/><circle cx="403.6" cy="473.4" r="3.85"/><circle cx="484.1" cy="485.6" r="3.85"/><circle cx="444.5" cy="493.4" r="3.85"/><circle cx="358.7" cy="512.3" r="3.85"/><circle cx="339.2" cy="510" r="3.85"/><circle cx="456.3" cy="510.8" r="3.85"/><circle cx="464.3" cy="495.6" r="3.85"/><circle cx="463.8" cy="510.2" r="3.85"/><circle cx="355.3" cy="543.2" r="3.85"/><circle cx="344.1" cy="486.1" r="3.85"/><circle cx="450.6" cy="499.2" r="3.85"/><circle cx="489.4" cy="496.3" r="3.85"/><circle cx="325.1" cy="592" r="3.85"/><circle cx="355.4" cy="487" r="3.85"/><circle cx="344" cy="476.1" r="3.85"/><circle cx="430.7" cy="495.1" r="3.85"/><circle cx="430.7" cy="520.8" r="3.85"/><circle cx="331.9" cy="512.8" r="3.85"/><circle cx="424.2" cy="518.1" r="3.85"/><circle cx="344.3" cy="520.8" r="3.85"/><circle cx="348" cy="524.2" r="3.85"/><circle cx="471" cy="499.2" r="3.85"/><circle cx="339.5" cy="522.6" r="3.85"/><circle cx="355" cy="527.9" r="3.85"/><circle cx="393.6" cy="510.7" r="3.85"/><circle cx="347.9" cy="496.8" r="3.85"/><circle cx="408.3" cy="516.1" r="3.85"/><circle cx="343.9" cy="478.2" r="3.85"/><circle cx="361.7" cy="501.1" r="3.85"/><circle cx="352.5" cy="529.1" r="3.85"/><circle cx="358.4" cy="528.8" r="3.85"/><circle cx="398.8" cy="487.2" r="3.85"/><circle cx="344.3" cy="493.3" r="3.85"/><circle cx="324.7" cy="521.2" r="3.85"/><circle cx="384.1" cy="526.5" r="3.85"/><circle cx="324.8" cy="547.6" r="3.85"/><circle cx="393.7" cy="479.1" r="3.85"/><circle cx="403.3" cy="491.4" r="3.85"/><circle cx="444.3" cy="515.2" r="3.85"/><circle cx="376.8" cy="474.7" r="3.85"/><circle cx="371.4" cy="483.8" r="3.85"/><circle cx="367.1" cy="495.3" r="3.85"/><circle cx="339.4" cy="484.2" r="3.85"/><circle cx="344.1" cy="512" r="3.85"/><circle cx="355.2" cy="476.9" r="3.85"/><circle cx="324.8" cy="541.9" r="3.85"/><circle cx="403.6" cy="516.1" r="3.85"/><circle cx="361.7" cy="509.6" r="3.85"/><circle cx="367.2" cy="479.8" r="3.85"/><circle cx="384.2" cy="485.1" r="3.85"/><circle cx="430.6" cy="522.6" r="3.85"/><circle cx="371.4" cy="521.8" r="3.85"/><circle cx="355.2" cy="529.7" r="3.85"/><circle cx="331.5" cy="527.3" r="3.85"/><circle cx="348.1" cy="514.7" r="3.85"/><circle cx="471.2" cy="486.1" r="3.85"/><circle cx="483.8" cy="506.2" r="3.85"/><circle cx="403.2" cy="484.2" r="3.85"/><circle cx="424.3" cy="476.1" r="3.85"/><circle cx="489.1" cy="483.5" r="3.85"/><circle cx="438.1" cy="514" r="3.85"/><circle cx="381.3" cy="484" r="3.85"/><circle cx="430.7" cy="473.1" r="3.85"/><circle cx="325" cy="521.7" r="3.85"/><circle cx="355" cy="517.4" r="3.85"/><circle cx="398.4" cy="510.7" r="3.85"/><circle cx="377.1" cy="524.6" r="3.85"/><circle cx="331.7" cy="491.3" r="3.85"/><circle cx="324.9" cy="563.2" r="3.85"/><circle cx="361.7" cy="483" r="3.85"/><circle cx="389.8" cy="502.8" r="3.85"/><circle cx="324.6" cy="539.3" r="3.85"/><circle cx="483.8" cy="502.4" r="3.85"/><circle cx="438" cy="512" r="3.85"/><circle cx="358.3" cy="531.9" r="3.85"/><circle cx="355.3" cy="493.4" r="3.85"/><circle cx="352.2" cy="541.9" r="3.85"/><circle cx="471.4" cy="502.9" r="3.85"/><circle cx="471.4" cy="479.6" r="3.85"/><circle cx="348.2" cy="512.6" r="3.85"/><circle cx="324.7" cy="546.2" r="3.85"/><circle cx="489" cy="488.3" r="3.85"/><circle cx="367" cy="510.1" r="3.85"/><circle cx="489.3" cy="485.6" r="3.85"/><circle cx="334.5" cy="520.5" r="3.85"/><circle cx="339.4" cy="478.5" r="3.85"/><circle cx="398.8" cy="509.3" r="3.85"/><circle cx="384" cy="515.5" r="3.85"/><circle cx="325" cy="531.1" r="3.85"/><circle cx="355.1" cy="508.8" r="3.85"/><circle cx="438" cy="507.8" r="3.85"/><circle cx="483.9" cy="504.3" r="3.85"/><circle cx="348.1" cy="518.1" r="3.85"/><circle cx="361.5" cy="480" r="3.85"/><circle cx="444.2" cy="507.7" r="3.85"/><circle cx="325.1" cy="588" r="3.85"/><circle cx="390" cy="509" r="3.85"/><circle cx="463.9" cy="482.1" r="3.85"/><circle cx="383.9" cy="539.6" r="3.85"/><circle cx="331.7" cy="495" r="3.85"/><circle cx="384.1" cy="492.7" r="3.85"/><circle cx="352.5" cy="531.4" r="3.85"/><circle cx="371.6" cy="517.7" r="3.85"/><circle cx="408.5" cy="493.4" r="3.85"/><circle cx="381.4" cy="497.3" r="3.85"/><circle cx="325" cy="519.2" r="3.85"/><circle cx="430.5" cy="517.5" r="3.85"/><circle cx="352.7" cy="526.1" r="3.85"/><circle cx="497.2" cy="485.7" r="3.85"/><circle cx="393.9" cy="485.4" r="3.85"/><circle cx="456.1" cy="496.3" r="3.85"/><circle cx="424.2" cy="489.5" r="3.85"/><circle cx="358.7" cy="476.6" r="3.85"/><circle cx="334.9" cy="524.7" r="3.85"/><circle cx="358.4" cy="510.6" r="3.85"/><circle cx="371.8" cy="478.6" r="3.85"/><circle cx="334.8" cy="509.6" r="3.85"/><circle cx="371.6" cy="492" r="3.85"/><circle cx="384.3" cy="483" r="3.85"/><circle cx="352.6" cy="511.3" r="3.85"/><circle cx="358.6" cy="525.1" r="3.85"/><circle cx="424.3" cy="517" r="3.85"/><circle cx="334.8" cy="518.2" r="3.85"/><circle cx="348" cy="484.1" r="3.85"/><circle cx="339.4" cy="525.5" r="3.85"/><circle cx="331.9" cy="532.3" r="3.85"/><circle cx="393.7" cy="525.2" r="3.85"/><circle cx="414" cy="488.1" r="3.85"/><circle cx="328.7" cy="522.2" r="3.85"/><circle cx="331.9" cy="525.8" r="3.85"/><circle cx="352.4" cy="503.8" r="3.85"/><circle cx="367" cy="497.4" r="3.85"/><circle cx="352.5" cy="474.4" r="3.85"/><circle cx="430.4" cy="481.7" r="3.85"/><circle cx="414.1" cy="489.9" r="3.85"/><circle cx="414" cy="524.9" r="3.85"/><circle cx="393.7" cy="477" r="3.85"/><circle cx="334.6" cy="539" r="3.85"/><circle cx="325" cy="522" r="3.85"/><circle cx="348.2" cy="546.3" r="3.85"/><circle cx="325" cy="559.9" r="3.85"/><circle cx="343.9" cy="473.5" r="3.85"/><circle cx="344.1" cy="527.9" r="3.85"/><circle cx="389.9" cy="486.4" r="3.85"/><circle cx="450.9" cy="517.6" r="3.85"/><circle cx="371.7" cy="475.3" r="3.85"/><circle cx="352.6" cy="520.4" r="3.85"/><circle cx="463.8" cy="479" r="3.85"/><circle cx="414.2" cy="475.4" r="3.85"/><circle cx="424" cy="499.2" r="3.85"/><circle cx="456.2" cy="502.1" r="3.85"/><circle cx="334.6" cy="532.6" r="3.85"/><circle cx="393.6" cy="484.3" r="3.85"/><circle cx="344.1" cy="513.5" r="3.85"/><circle cx="352.3" cy="496.6" r="3.85"/><circle cx="471" cy="508.7" r="3.85"/><circle cx="451" cy="513.3" r="3.85"/><circle cx="419.1" cy="480" r="3.85"/><circle cx="332" cy="488.1" r="3.85"/><circle cx="339.4" cy="536.5" r="3.85"/><circle cx="331.9" cy="533.5" r="3.85"/><circle cx="423.9" cy="519.9" r="3.85"/><circle cx="398.6" cy="484.1" r="3.85"/><circle cx="413.9" cy="528.1" r="3.85"/><circle cx="403.5" cy="476.3" r="3.85"/><circle cx="324.6" cy="548.7" r="3.85"/><circle cx="344" cy="490.4" r="3.85"/><circle cx="470.9" cy="516.3" r="3.85"/><circle cx="381.5" cy="518.2" r="3.85"/><circle cx="381.5" cy="531.6" r="3.85"/><circle cx="483.6" cy="510.8" r="3.85"/><circle cx="408.4" cy="499" r="3.85"/><circle cx="334.6" cy="522" r="3.85"/><circle cx="339.2" cy="495" r="3.85"/><circle cx="431.6" cy="543.2" r="3.85"/><circle cx="361.3" cy="541.6" r="3.85"/><circle cx="343.9" cy="507.4" r="3.85"/><circle cx="371.9" cy="527.3" r="3.85"/><circle cx="361.7" cy="503.6" r="3.85"/><circle cx="430.5" cy="500.1" r="3.85"/><circle cx="430.6" cy="524.7" r="3.85"/><circle cx="413.8" cy="507.7" r="3.85"/><circle cx="431.6" cy="545.8" r="3.85"/><circle cx="423.9" cy="513.4" r="3.85"/><circle cx="430.6" cy="488.4" r="3.85"/><circle cx="381.2" cy="520.9" r="3.85"/><circle cx="358.4" cy="521.2" r="3.85"/><circle cx="471" cy="484.1" r="3.85"/><circle cx="471.3" cy="506.6" r="3.85"/><circle cx="377" cy="479.4" r="3.85"/><circle cx="324.9" cy="558.9" r="3.85"/><circle cx="414.2" cy="491.4" r="3.85"/><circle cx="403.3" cy="508.9" r="3.85"/><circle cx="424.2" cy="486.4" r="3.85"/><circle cx="331.6" cy="492.7" r="3.85"/><circle cx="384.2" cy="519.3" r="3.85"/><circle cx="344.1" cy="480.2" r="3.85"/><circle cx="384.1" cy="512.8" r="3.85"/><circle cx="430.4" cy="503.4" r="3.85"/><circle cx="324.7" cy="578.3" r="3.85"/><circle cx="393.9" cy="493.6" r="3.85"/><circle cx="408.3" cy="480.2" r="3.85"/><circle cx="483.6" cy="480.9" r="3.85"/><circle cx="367.2" cy="514.4" r="3.85"/><circle cx="451" cy="511" r="3.85"/><circle cx="325" cy="573.6" r="3.85"/><circle cx="352.6" cy="505.2" r="3.85"/><circle cx="348.4" cy="522.6" r="3.85"/><circle cx="358.5" cy="536.4" r="3.85"/><circle cx="456.4" cy="486.7" r="3.85"/><circle cx="456.2" cy="498.6" r="3.85"/><circle cx="497.2" cy="482.2" r="3.85"/><circle cx="456.4" cy="474.2" r="3.85"/><circle cx="371.6" cy="526.1" r="3.85"/><circle cx="414.1" cy="502.2" r="3.85"/><circle cx="408.1" cy="502.4" r="3.85"/><circle cx="325.1" cy="504.9" r="3.85"/><circle cx="384.2" cy="504.4" r="3.85"/><circle cx="328.8" cy="529.3" r="3.85"/><circle cx="464.1" cy="501.3" r="3.85"/><circle cx="377.1" cy="512" r="3.85"/><circle cx="430.7" cy="502" r="3.85"/><circle cx="325" cy="548.4" r="3.85"/><circle cx="398.6" cy="514.5" r="3.85"/><circle cx="328.9" cy="520.5" r="3.85"/><circle cx="355" cy="523.9" r="3.85"/><circle cx="361.4" cy="543" r="3.85"/><circle cx="377" cy="528.9" r="3.85"/><circle cx="344.3" cy="529.4" r="3.85"/><circle cx="324.8" cy="571.1" r="3.85"/><circle cx="329" cy="502.9" r="3.85"/><circle cx="403.4" cy="494.2" r="3.85"/><circle cx="384" cy="477.7" r="3.85"/><circle cx="464.1" cy="489.6" r="3.85"/><circle cx="348.2" cy="499.9" r="3.85"/><circle cx="343.8" cy="497.1" r="3.85"/><circle cx="478.8" cy="479.4" r="3.85"/><circle cx="376.9" cy="518.7" r="3.85"/><circle cx="456.3" cy="509" r="3.85"/><circle cx="325.1" cy="515.5" r="3.85"/><circle cx="328.6" cy="510.2" r="3.85"/><circle cx="344.2" cy="523.2" r="3.85"/><circle cx="324.7" cy="582.7" r="3.85"/><circle cx="324.8" cy="496.7" r="3.85"/><circle cx="355.2" cy="480.7" r="3.85"/><circle cx="424.3" cy="503.5" r="3.85"/><circle cx="339.3" cy="492.5" r="3.85"/><circle cx="414" cy="498.2" r="3.85"/><circle cx="456.5" cy="488" r="3.85"/><circle cx="393.7" cy="502.2" r="3.85"/><circle cx="418.6" cy="495.8" r="3.85"/><circle cx="483.8" cy="495.2" r="3.85"/><circle cx="324.6" cy="530.9" r="3.85"/><circle cx="384.2" cy="528.9" r="3.85"/><circle cx="371.8" cy="473" r="3.85"/><circle cx="331.9" cy="518.8" r="3.85"/><circle cx="393.5" cy="503.7" r="3.85"/><circle cx="355" cy="479.1" r="3.85"/><circle cx="398.7" cy="521" r="3.85"/><circle cx="325" cy="499.1" r="3.85"/><circle cx="358.5" cy="518.3" r="3.85"/><circle cx="334.8" cy="513.2" r="3.85"/><circle cx="334.8" cy="515.9" r="3.85"/><circle cx="398.4" cy="482.9" r="3.85"/><circle cx="361.2" cy="515.7" r="3.85"/><circle cx="418.9" cy="512.9" r="3.85"/><circle cx="328.9" cy="514.9" r="3.85"/><circle cx="437.8" cy="479.9" r="3.85"/><circle cx="418.8" cy="477.4" r="3.85"/><circle cx="381.2" cy="489.2" r="3.85"/><circle cx="324.7" cy="581.3" r="3.85"/><circle cx="355.4" cy="535.2" r="3.85"/><circle cx="339.4" cy="516.9" r="3.85"/><circle cx="361.7" cy="519.8" r="3.85"/><circle cx="361.6" cy="512.8" r="3.85"/><circle cx="371.9" cy="520.2" r="3.85"/><circle cx="366.9" cy="475.8" r="3.85"/><circle cx="352.6" cy="492.2" r="3.85"/><circle cx="348.1" cy="516.4" r="3.85"/><circle cx="325.1" cy="542.9" r="3.85"/><circle cx="430.3" cy="512.2" r="3.85"/><circle cx="367" cy="531.1" r="3.85"/><circle cx="352.6" cy="513.3" r="3.85"/><circle cx="398.5" cy="498.3" r="3.85"/><circle cx="418.7" cy="501" r="3.85"/><circle cx="361.2" cy="534.3" r="3.85"/><circle cx="334.4" cy="482.9" r="3.85"/><circle cx="444.1" cy="488.1" r="3.85"/><circle cx="344" cy="526.7" r="3.85"/><circle cx="479.1" cy="482.5" r="3.85"/><circle cx="355.2" cy="539.6" r="3.85"/><circle cx="444.3" cy="474.5" r="3.85"/><circle cx="324.6" cy="567.5" r="3.85"/><circle cx="334.4" cy="485.2" r="3.85"/><circle cx="324.8" cy="502.5" r="3.85"/><circle cx="451.1" cy="479.4" r="3.85"/><circle cx="456.3" cy="500.7" r="3.85"/><circle cx="484" cy="507.6" r="3.85"/><circle cx="393.8" cy="505.2" r="3.85"/><circle cx="344" cy="502.7" r="3.85"/><circle cx="334.8" cy="526.2" r="3.85"/><circle cx="324.7" cy="553.7" r="3.85"/><circle cx="331.8" cy="499.3" r="3.85"/><circle cx="324.9" cy="580.2" r="3.85"/><circle cx="377.1" cy="494" r="3.85"/><circle cx="324.8" cy="503.8" r="3.85"/><circle cx="398.7" cy="495.3" r="3.85"/><circle cx="331.8" cy="505.1" r="3.85"/><circle cx="408" cy="521" r="3.85"/><circle cx="352.4" cy="490.8" r="3.85"/><circle cx="444.3" cy="520.4" r="3.85"/><circle cx="324.6" cy="520.4" r="3.85"/><circle cx="398.7" cy="526.9" r="3.85"/><circle cx="358.7" cy="492.1" r="3.85"/><circle cx="497.1" cy="480.1" r="3.85"/><circle cx="489" cy="497.9" r="3.85"/><circle cx="389.5" cy="514.4" r="3.85"/><circle cx="324.9" cy="593" r="3.85"/><circle cx="408.3" cy="487.3" r="3.85"/><circle cx="352.5" cy="477.7" r="3.85"/><circle cx="403.6" cy="513" r="3.85"/><circle cx="324.9" cy="590.3" r="3.85"/><circle cx="423.9" cy="491.3" r="3.85"/><circle cx="361.6" cy="481.5" r="3.85"/><circle cx="324.7" cy="572.6" r="3.85"/><circle cx="408.5" cy="496.2" r="3.85"/><circle cx="414.1" cy="511" r="3.85"/><circle cx="324.6" cy="545.4" r="3.85"/><circle cx="430.3" cy="483.3" r="3.85"/><circle cx="355.4" cy="519.6" r="3.85"/><circle cx="324.9" cy="555.8" r="3.85"/><circle cx="450.8" cy="497.7" r="3.85"/><circle cx="328.9" cy="539.5" r="3.85"/><circle cx="325" cy="558.4" r="3.85"/><circle cx="464.2" cy="498.7" r="3.85"/><circle cx="352.6" cy="544.5" r="3.85"/><circle cx="344.2" cy="499.6" r="3.85"/><circle cx="381.4" cy="515.9" r="3.85"/><circle cx="479.1" cy="488.5" r="3.85"/><circle cx="384" cy="537.1" r="3.85"/><circle cx="393.9" cy="481" r="3.85"/><circle cx="339.2" cy="513.4" r="3.85"/><circle cx="384.3" cy="527.7" r="3.85"/><circle cx="450.9" cy="525.3" r="3.85"/><circle cx="430.6" cy="497" r="3.85"/><circle cx="444.2" cy="511.9" r="3.85"/><circle cx="393.6" cy="499.1" r="3.85"/><circle cx="344.2" cy="531.7" r="3.85"/><circle cx="324.7" cy="515.1" r="3.85"/><circle cx="361.4" cy="502.4" r="3.85"/><circle cx="414.2" cy="519.9" r="3.85"/><circle cx="384.2" cy="480" r="3.85"/><circle cx="464" cy="485.2" r="3.85"/><circle cx="348.3" cy="511" r="3.85"/><circle cx="413.9" cy="482.7" r="3.85"/><circle cx="403.5" cy="507.2" r="3.85"/><circle cx="324.9" cy="581.6" r="3.85"/><circle cx="358.2" cy="498.5" r="3.85"/><circle cx="348.1" cy="529.9" r="3.85"/><circle cx="489.3" cy="499.2" r="3.85"/>
</g>
<line x1="324.5" y1="511.2" x2="497.9" y2="484.8" stroke="#222" stroke-width="1.0"/>
<rect x="309.2" y="452.7" width="209.8" height="168.7" fill="none" stroke="#3c3c3c" stroke-width="1.2"/>
<text x="304" y="617.5" font-size="10" text-anchor="end">0.0</text>
<text x="304" y="588.1" font-size="10" text-anchor="end">0.2</text>
<text x="304" y="558.8" font-size="10" text-anchor="end">0.4</text>
<text x="304" y="529.5" font-size="10" text-anchor="end">0.6</text>
<text x="304" y="500.1" font-size="10" text-anchor="end">0.8</text>
<text x="304" y="470.8" font-size="10" text-anchor="end">1.0</text>
<path d="M305.8 614.1h3.4M305.8 584.8h3.4M305.8 555.4h3.4M305.8 526.1h3.4M305.8 496.7h3.4M305.8 467.4h3.4M307.2 599.4h2M307.2 570.1h2M307.2 540.7h2M307.2 511.4h2M307.2 482h2" stroke="#3c3c3c" stroke-width="1.1" fill="none"/>
<text x="324.9" y="634.7" font-size="10" text-anchor="middle">0</text>
<text x="363.7" y="634.7" font-size="10" text-anchor="middle">150</text>
<text x="402.5" y="634.7" font-size="10" text-anchor="middle">300</text>
<text x="441.3" y="634.7" font-size="10" text-anchor="middle">450</text>
<text x="480.1" y="634.7" font-size="10" text-anchor="middle">600</text>
<text x="518.8" y="634.7" font-size="10" text-anchor="middle">750</text>
<path d="M324.9 621.4v3.4M363.7 621.4v3.4M402.5 621.4v3.4M441.3 621.4v3.4M480.1 621.4v3.4M518.8 621.4v3.4M344.3 621.4v2M383.1 621.4v2M421.9 621.4v2M460.7 621.4v2M499.5 621.4v2" stroke="#3c3c3c" stroke-width="1.1" fill="none"/>
<text x="414.4" y="648.4" font-size="11.8" text-anchor="middle">Geographic distance</text>
<text x="284.3" y="536.5" font-size="11.8" text-anchor="middle" transform="rotate(-90 284.3 536.5)">Viral community dissimilarity</text>
<text x="278.8" y="456.5" font-size="14.5" text-anchor="start">f</text>
<text x="417.5" y="613.6" font-size="11.8" text-anchor="middle">RS: <tspan font-style="italic">r</tspan> = 0.363**</text>
</g>
<g id="panel-h">
<g fill="#336699" stroke="#fff" stroke-width="0.7">
<circle cx="628.8" cy="288.4" r="3.85"/><circle cx="695.9" cy="266.9" r="3.85"/><circle cx="611.4" cy="303.7" r="3.85"/><circle cx="605.4" cy="376.3" r="3.85"/><circle cx="631.7" cy="320.5" r="3.85"/><circle cx="679" cy="261" r="3.85"/><circle cx="668.7" cy="317.3" r="3.85"/><circle cx="719.6" cy="288.4" r="3.85"/><circle cx="616.4" cy="310.5" r="3.85"/><circle cx="590.2" cy="286.6" r="3.85"/><circle cx="592" cy="279.3" r="3.85"/><circle cx="617.9" cy="326.1" r="3.85"/><circle cx="674" cy="312.5" r="3.85"/><circle cx="618.1" cy="291.8" r="3.85"/><circle cx="632.3" cy="337.1" r="3.85"/><circle cx="615.9" cy="287" r="3.85"/><circle cx="613.9" cy="288.6" r="3.85"/><circle cx="673.8" cy="279.8" r="3.85"/><circle cx="591.8" cy="322.4" r="3.85"/><circle cx="719.9" cy="276.2" r="3.85"/><circle cx="597.6" cy="372.5" r="3.85"/><circle cx="662.5" cy="313.9" r="3.85"/><circle cx="646.2" cy="320.5" r="3.85"/><circle cx="591.3" cy="315.8" r="3.85"/><circle cx="577.9" cy="315.9" r="3.85"/><circle cx="725.2" cy="287.7" r="3.85"/><circle cx="600.4" cy="311.1" r="3.85"/><circle cx="715.5" cy="273.5" r="3.85"/><circle cx="667.2" cy="306.5" r="3.85"/><circle cx="706.6" cy="280.1" r="3.85"/><circle cx="593.9" cy="278.2" r="3.85"/><circle cx="669.9" cy="293.6" r="3.85"/><circle cx="633" cy="275.9" r="3.85"/><circle cx="620.8" cy="303.1" r="3.85"/><circle cx="598.3" cy="321.9" r="3.85"/><circle cx="696.9" cy="291.6" r="3.85"/><circle cx="606.8" cy="313.9" r="3.85"/><circle cx="711.5" cy="268.6" r="3.85"/><circle cx="603.3" cy="323.1" r="3.85"/><circle cx="727" cy="279.5" r="3.85"/><circle cx="669.9" cy="333.4" r="3.85"/><circle cx="686.7" cy="307.6" r="3.85"/><circle cx="663" cy="338.1" r="3.85"/><circle cx="621.7" cy="294.6" r="3.85"/><circle cx="684.9" cy="313.7" r="3.85"/><circle cx="586.1" cy="358.1" r="3.85"/><circle cx="636.7" cy="325.7" r="3.85"/><circle cx="740.1" cy="286.3" r="3.85"/><circle cx="751" cy="286.4" r="3.85"/><circle cx="663.4" cy="314.3" r="3.85"/><circle cx="625.8" cy="268.8" r="3.85"/><circle cx="623" cy="339.6" r="3.85"/><circle cx="611.4" cy="352.6" r="3.85"/><circle cx="610.6" cy="302.7" r="3.85"/><circle cx="659.5" cy="273.8" r="3.85"/><circle cx="712.7" cy="275.4" r="3.85"/><circle cx="710.8" cy="267" r="3.85"/><circle cx="654.5" cy="256.9" r="3.85"/><circle cx="641.9" cy="330.4" r="3.85"/><circle cx="641.9" cy="286.8" r="3.85"/><circle cx="692.5" cy="266.1" r="3.85"/><circle cx="682.6" cy="279.6" r="3.85"/><circle cx="597.5" cy="313.7" r="3.85"/><circle cx="703.2" cy="286.7" r="3.85"/><circle cx="595.2" cy="286.7" r="3.85"/><circle cx="743.7" cy="260.5" r="3.85"/><circle cx="666.2" cy="306.7" r="3.85"/><circle cx="670.1" cy="289.9" r="3.85"/><circle cx="655.1" cy="302.7" r="3.85"/><circle cx="673.6" cy="270.7" r="3.85"/><circle cx="664.2" cy="282.7" r="3.85"/><circle cx="736.9" cy="285.3" r="3.85"/><circle cx="729.8" cy="268.5" r="3.85"/><circle cx="733.5" cy="286.6" r="3.85"/><circle cx="620.9" cy="326" r="3.85"/><circle cx="628.4" cy="294.3" r="3.85"/><circle cx="603.8" cy="313.1" r="3.85"/><circle cx="716.1" cy="299.4" r="3.85"/><circle cx="714.5" cy="299.9" r="3.85"/><circle cx="727.1" cy="276.6" r="3.85"/><circle cx="672.1" cy="276.3" r="3.85"/><circle cx="596.3" cy="298.1" r="3.85"/><circle cx="606.2" cy="273.5" r="3.85"/><circle cx="680.9" cy="330.5" r="3.85"/><circle cx="674.6" cy="315.3" r="3.85"/><circle cx="647.4" cy="313.5" r="3.85"/><circle cx="636.6" cy="328.8" r="3.85"/><circle cx="662.9" cy="256.4" r="3.85"/><circle cx="600.6" cy="264.7" r="3.85"/><circle cx="683.9" cy="320" r="3.85"/><circle cx="712.5" cy="300.6" r="3.85"/><circle cx="584.5" cy="373.9" r="3.85"/><circle cx="713.4" cy="257.4" r="3.85"/><circle cx="744.1" cy="268.8" r="3.85"/><circle cx="693.1" cy="262.6" r="3.85"/><circle cx="629.2" cy="313.5" r="3.85"/><circle cx="685" cy="302.1" r="3.85"/><circle cx="630.1" cy="285.2" r="3.85"/><circle cx="598" cy="323.4" r="3.85"/><circle cx="729.6" cy="291.9" r="3.85"/><circle cx="589.6" cy="318.7" r="3.85"/><circle cx="673.3" cy="276" r="3.85"/><circle cx="637.8" cy="347.2" r="3.85"/><circle cx="622.2" cy="267.9" r="3.85"/><circle cx="602.5" cy="289.6" r="3.85"/><circle cx="692.9" cy="284.5" r="3.85"/><circle cx="619.3" cy="273.8" r="3.85"/><circle cx="584" cy="321.3" r="3.85"/><circle cx="691.5" cy="316.7" r="3.85"/><circle cx="743.2" cy="272.6" r="3.85"/><circle cx="628.7" cy="312.3" r="3.85"/><circle cx="610.4" cy="313.3" r="3.85"/><circle cx="605.9" cy="334.5" r="3.85"/><circle cx="645" cy="277.6" r="3.85"/><circle cx="742.8" cy="262.7" r="3.85"/><circle cx="668.1" cy="289.8" r="3.85"/><circle cx="722.1" cy="268.7" r="3.85"/><circle cx="701.4" cy="312.4" r="3.85"/><circle cx="687.1" cy="261.6" r="3.85"/><circle cx="629.3" cy="301.9" r="3.85"/><circle cx="581.2" cy="355" r="3.85"/><circle cx="620.9" cy="303.6" r="3.85"/><circle cx="603.4" cy="321.5" r="3.85"/><circle cx="577.1" cy="362.8" r="3.85"/><circle cx="606.2" cy="284.4" r="3.85"/><circle cx="624.3" cy="272.1" r="3.85"/><circle cx="617.2" cy="259.2" r="3.85"/><circle cx="626.7" cy="295.5" r="3.85"/><circle cx="734.9" cy="288.2" r="3.85"/><circle cx="616" cy="333.5" r="3.85"/><circle cx="664.8" cy="308.2" r="3.85"/><circle cx="615.1" cy="282.9" r="3.85"/><circle cx="610.1" cy="264.6" r="3.85"/><circle cx="613.6" cy="311" r="3.85"/><circle cx="631.8" cy="303.4" r="3.85"/><circle cx="618" cy="263.5" r="3.85"/><circle cx="658.2" cy="308.5" r="3.85"/><circle cx="710.9" cy="290" r="3.85"/><circle cx="727.3" cy="285.9" r="3.85"/><circle cx="707.7" cy="297" r="3.85"/><circle cx="607.9" cy="285.6" r="3.85"/><circle cx="706.4" cy="275.2" r="3.85"/><circle cx="596" cy="284.1" r="3.85"/><circle cx="640.9" cy="314.6" r="3.85"/><circle cx="589.4" cy="309" r="3.85"/><circle cx="632.5" cy="307.3" r="3.85"/><circle cx="659.1" cy="327.7" r="3.85"/><circle cx="641.9" cy="315.1" r="3.85"/><circle cx="654.2" cy="260.7" r="3.85"/><circle cx="633.9" cy="288.1" r="3.85"/><circle cx="660.2" cy="310" r="3.85"/><circle cx="705.8" cy="289" r="3.85"/><circle cx="756.6" cy="298.1" r="3.85"/><circle cx="607.8" cy="296.8" r="3.85"/><circle cx="641.3" cy="280.8" r="3.85"/><circle cx="649.4" cy="265.2" r="3.85"/><circle cx="644.3" cy="286.5" r="3.85"/><circle cx="724.9" cy="263.7" r="3.85"/><circle cx="648.1" cy="272.4" r="3.85"/><circle cx="598" cy="349" r="3.85"/><circle cx="580.5" cy="350.7" r="3.85"/><circle cx="726.7" cy="266" r="3.85"/><circle cx="597.5" cy="346.5" r="3.85"/><circle cx="693.4" cy="287.5" r="3.85"/><circle cx="707.2" cy="294.5" r="3.85"/><circle cx="631.6" cy="299.3" r="3.85"/><circle cx="679.5" cy="326.5" r="3.85"/><circle cx="598.4" cy="286.8" r="3.85"/><circle cx="703.3" cy="273" r="3.85"/><circle cx="603" cy="329.1" r="3.85"/><circle cx="665.7" cy="299.8" r="3.85"/><circle cx="584.7" cy="379.2" r="3.85"/><circle cx="603" cy="276" r="3.85"/><circle cx="643.2" cy="276.5" r="3.85"/><circle cx="739" cy="286.2" r="3.85"/><circle cx="693.4" cy="306.7" r="3.85"/><circle cx="727.9" cy="265.8" r="3.85"/><circle cx="622.8" cy="267.5" r="3.85"/><circle cx="739.4" cy="258.8" r="3.85"/><circle cx="716.2" cy="279" r="3.85"/><circle cx="719.4" cy="261" r="3.85"/><circle cx="689.6" cy="288.4" r="3.85"/><circle cx="677.6" cy="313.6" r="3.85"/><circle cx="631.4" cy="320.3" r="3.85"/><circle cx="668.7" cy="314.1" r="3.85"/><circle cx="742.5" cy="261.6" r="3.85"/><circle cx="697.1" cy="271.7" r="3.85"/><circle cx="710.6" cy="264.7" r="3.85"/><circle cx="669.3" cy="286.1" r="3.85"/><circle cx="658.7" cy="328.1" r="3.85"/><circle cx="600.5" cy="352.2" r="3.85"/><circle cx="654.6" cy="331.2" r="3.85"/><circle cx="605.9" cy="364.9" r="3.85"/><circle cx="661.7" cy="314.2" r="3.85"/><circle cx="729.9" cy="285.7" r="3.85"/><circle cx="660.9" cy="281" r="3.85"/><circle cx="587.1" cy="344.7" r="3.85"/><circle cx="585.1" cy="314.1" r="3.85"/><circle cx="629.7" cy="272.9" r="3.85"/><circle cx="621" cy="322.8" r="3.85"/><circle cx="608.1" cy="365.8" r="3.85"/><circle cx="654.8" cy="286.2" r="3.85"/><circle cx="659.6" cy="292.5" r="3.85"/><circle cx="698.1" cy="321" r="3.85"/><circle cx="578.5" cy="337" r="3.85"/><circle cx="611.5" cy="260.7" r="3.85"/><circle cx="744.9" cy="270.1" r="3.85"/><circle cx="652.8" cy="262.1" r="3.85"/><circle cx="656" cy="279.6" r="3.85"/><circle cx="606.6" cy="314.5" r="3.85"/><circle cx="691.8" cy="288.5" r="3.85"/><circle cx="661.9" cy="299.7" r="3.85"/><circle cx="659.7" cy="317.7" r="3.85"/><circle cx="624.7" cy="291.5" r="3.85"/><circle cx="631.2" cy="291.8" r="3.85"/><circle cx="648.5" cy="300.5" r="3.85"/><circle cx="594.9" cy="376.6" r="3.85"/><circle cx="718.3" cy="278.2" r="3.85"/><circle cx="609" cy="267.5" r="3.85"/><circle cx="666.3" cy="312.2" r="3.85"/><circle cx="700.1" cy="270" r="3.85"/><circle cx="654.7" cy="332.2" r="3.85"/><circle cx="661.8" cy="326.4" r="3.85"/><circle cx="683.1" cy="328.4" r="3.85"/><circle cx="654.7" cy="318.4" r="3.85"/><circle cx="669.8" cy="324.3" r="3.85"/><circle cx="659.6" cy="315.6" r="3.85"/><circle cx="743.4" cy="265" r="3.85"/><circle cx="697.7" cy="285.6" r="3.85"/><circle cx="670.6" cy="284.6" r="3.85"/><circle cx="654.9" cy="261.5" r="3.85"/><circle cx="596.2" cy="312" r="3.85"/><circle cx="658" cy="288.5" r="3.85"/><circle cx="664.1" cy="300.7" r="3.85"/><circle cx="614.8" cy="267" r="3.85"/><circle cx="602.8" cy="314.3" r="3.85"/><circle cx="655.9" cy="287.3" r="3.85"/><circle cx="583.2" cy="343.9" r="3.85"/><circle cx="591.7" cy="289.1" r="3.85"/><circle cx="594.4" cy="293.9" r="3.85"/><circle cx="718.1" cy="266.4" r="3.85"/><circle cx="612.8" cy="284.5" r="3.85"/><circle cx="698.8" cy="266.3" r="3.85"/><circle cx="704" cy="267.4" r="3.85"/><circle cx="691.2" cy="298.1" r="3.85"/><circle cx="734.6" cy="287.5" r="3.85"/><circle cx="691.8" cy="293.8" r="3.85"/><circle cx="670.4" cy="326.1" r="3.85"/><circle cx="595.3" cy="375.1" r="3.85"/><circle cx="639.1" cy="265" r="3.85"/><circle cx="640.1" cy="311.4" r="3.85"/><circle cx="704.7" cy="268.3" r="3.85"/><circle cx="726.8" cy="276.8" r="3.85"/><circle cx="671.3" cy="318.8" r="3.85"/><circle cx="575.6" cy="356.9" r="3.85"/><circle cx="582.6" cy="341.8" r="3.85"/><circle cx="661" cy="269.4" r="3.85"/><circle cx="665.8" cy="301" r="3.85"/><circle cx="665.8" cy="322.1" r="3.85"/><circle cx="595.3" cy="364.1" r="3.85"/><circle cx="664.5" cy="268.7" r="3.85"/><circle cx="612" cy="337.8" r="3.85"/><circle cx="741.3" cy="264.3" r="3.85"/><circle cx="582.6" cy="352.6" r="3.85"/><circle cx="661.3" cy="296.6" r="3.85"/><circle cx="637.3" cy="336.8" r="3.85"/><circle cx="682.4" cy="256.9" r="3.85"/><circle cx="727.8" cy="276.9" r="3.85"/><circle cx="643.8" cy="291.3" r="3.85"/><circle cx="688.2" cy="322.3" r="3.85"/><circle cx="638.2" cy="277.7" r="3.85"/><circle cx="677.2" cy="299.2" r="3.85"/><circle cx="603.6" cy="353.4" r="3.85"/><circle cx="706.4" cy="276.3" r="3.85"/><circle cx="636.7" cy="288" r="3.85"/><circle cx="599.3" cy="339.7" r="3.85"/><circle cx="672.1" cy="306" r="3.85"/><circle cx="711.1" cy="272.8" r="3.85"/><circle cx="724.8" cy="262.9" r="3.85"/><circle cx="646.6" cy="330" r="3.85"/><circle cx="586.7" cy="311.8" r="3.85"/><circle cx="631.8" cy="323.5" r="3.85"/><circle cx="608.9" cy="304.7" r="3.85"/><circle cx="582.5" cy="362.4" r="3.85"/><circle cx="640.6" cy="332.1" r="3.85"/><circle cx="643.3" cy="334.7" r="3.85"/><circle cx="635.7" cy="337.4" r="3.85"/><circle cx="602.7" cy="355.7" r="3.85"/><circle cx="690.8" cy="255.8" r="3.85"/><circle cx="681.4" cy="321.1" r="3.85"/><circle cx="690.9" cy="311" r="3.85"/><circle cx="602.6" cy="310.1" r="3.85"/><circle cx="678.4" cy="324.3" r="3.85"/><circle cx="692.6" cy="302.5" r="3.85"/><circle cx="592.2" cy="362.2" r="3.85"/><circle cx="617.1" cy="302.8" r="3.85"/><circle cx="674" cy="275.2" r="3.85"/><circle cx="637.4" cy="260.8" r="3.85"/><circle cx="585.4" cy="373" r="3.85"/><circle cx="655.8" cy="332.9" r="3.85"/><circle cx="688.3" cy="285.8" r="3.85"/><circle cx="677.2" cy="293.9" r="3.85"/><circle cx="690.3" cy="325.3" r="3.85"/><circle cx="712.4" cy="283" r="3.85"/><circle cx="644" cy="267.3" r="3.85"/><circle cx="666.8" cy="271.9" r="3.85"/><circle cx="601.7" cy="340" r="3.85"/><circle cx="605.7" cy="297.6" r="3.85"/><circle cx="651.6" cy="331.5" r="3.85"/><circle cx="736.5" cy="260.2" r="3.85"/><circle cx="634.8" cy="272.5" r="3.85"/><circle cx="681.7" cy="279.4" r="3.85"/><circle cx="666.2" cy="318.7" r="3.85"/><circle cx="627" cy="334" r="3.85"/><circle cx="625.7" cy="287.5" r="3.85"/><circle cx="595.6" cy="380.8" r="3.85"/><circle cx="645.2" cy="290.8" r="3.85"/><circle cx="717.8" cy="288.2" r="3.85"/><circle cx="606" cy="330.2" r="3.85"/><circle cx="683.8" cy="304.5" r="3.85"/><circle cx="633.3" cy="274.5" r="3.85"/><circle cx="649.9" cy="332.9" r="3.85"/><circle cx="640.2" cy="333.8" r="3.85"/><circle cx="649.2" cy="325.9" r="3.85"/><circle cx="609.2" cy="362.7" r="3.85"/><circle cx="688.1" cy="271.1" r="3.85"/><circle cx="674.8" cy="284.6" r="3.85"/><circle cx="709.4" cy="262.1" r="3.85"/><circle cx="750.5" cy="273.4" r="3.85"/><circle cx="644.7" cy="320.2" r="3.85"/><circle cx="716.4" cy="256.2" r="3.85"/><circle cx="728.6" cy="268.9" r="3.85"/><circle cx="665.9" cy="293" r="3.85"/><circle cx="706.1" cy="266.2" r="3.85"/><circle cx="635.6" cy="270" r="3.85"/><circle cx="654.5" cy="281.4" r="3.85"/><circle cx="625" cy="269.9" r="3.85"/><circle cx="659.5" cy="310.6" r="3.85"/><circle cx="621.5" cy="277" r="3.85"/><circle cx="751.6" cy="273.5" r="3.85"/><circle cx="666.6" cy="301.2" r="3.85"/><circle cx="688.3" cy="263.1" r="3.85"/><circle cx="744.4" cy="287.3" r="3.85"/><circle cx="622.5" cy="264.3" r="3.85"/><circle cx="593.5" cy="298.2" r="3.85"/><circle cx="700.5" cy="301.5" r="3.85"/><circle cx="749.3" cy="270.4" r="3.85"/><circle cx="612.4" cy="333" r="3.85"/><circle cx="742.2" cy="258.9" r="3.85"/><circle cx="743" cy="257.4" r="3.85"/><circle cx="707.2" cy="292.3" r="3.85"/><circle cx="603.5" cy="326.6" r="3.85"/><circle cx="652.8" cy="330.8" r="3.85"/><circle cx="593.4" cy="371.6" r="3.85"/><circle cx="618.5" cy="279.1" r="3.85"/><circle cx="650.9" cy="322.6" r="3.85"/><circle cx="699.2" cy="264.6" r="3.85"/><circle cx="733.9" cy="287.4" r="3.85"/><circle cx="625.5" cy="318.1" r="3.85"/><circle cx="685.9" cy="283.7" r="3.85"/><circle cx="602.9" cy="345.5" r="3.85"/><circle cx="584.9" cy="309.4" r="3.85"/><circle cx="747.2" cy="273.3" r="3.85"/><circle cx="731.6" cy="281.2" r="3.85"/><circle cx="695.7" cy="270.9" r="3.85"/><circle cx="735.8" cy="266.7" r="3.85"/><circle cx="640.1" cy="261.9" r="3.85"/><circle cx="604.8" cy="315.4" r="3.85"/><circle cx="583" cy="343.3" r="3.85"/><circle cx="671.7" cy="325.2" r="3.85"/><circle cx="601.8" cy="308.8" r="3.85"/><circle cx="642.2" cy="326.7" r="3.85"/><circle cx="660" cy="292.5" r="3.85"/><circle cx="664.8" cy="335" r="3.85"/><circle cx="648.4" cy="345.1" r="3.85"/><circle cx="729.4" cy="285.3" r="3.85"/><circle cx="577.5" cy="374.8" r="3.85"/><circle cx="725.5" cy="267.9" r="3.85"/><circle cx="706.6" cy="303" r="3.85"/><circle cx="710.5" cy="305.8" r="3.85"/><circle cx="663.2" cy="308.2" r="3.85"/><circle cx="687.2" cy="277.3" r="3.85"/><circle cx="700.9" cy="297.8" r="3.85"/><circle cx="663.8" cy="328.1" r="3.85"/><circle cx="716.7" cy="297.8" r="3.85"/><circle cx="638.9" cy="326.2" r="3.85"/><circle cx="599.3" cy="322" r="3.85"/><circle cx="624.9" cy="319.3" r="3.85"/><circle cx="592.3" cy="367.9" r="3.85"/><circle cx="688.4" cy="298.6" r="3.85"/><circle cx="658.7" cy="288.2" r="3.85"/><circle cx="637.8" cy="273.8" r="3.85"/><circle cx="725.3" cy="260.4" r="3.85"/><circle cx="668.1" cy="292" r="3.85"/><circle cx="695.8" cy="323" r="3.85"/><circle cx="666.4" cy="330.5" r="3.85"/><circle cx="737.9" cy="325.5" r="3.85"/><circle cx="682.5" cy="310.5" r="3.85"/><circle cx="653.7" cy="324.9" r="3.85"/><circle cx="664" cy="255.4" r="3.85"/><circle cx="597.7" cy="304.3" r="3.85"/><circle cx="704" cy="287.7" r="3.85"/><circle cx="602.2" cy="322.8" r="3.85"/><circle cx="650.5" cy="260.9" r="3.85"/><circle cx="740.5" cy="285.1" r="3.85"/><circle cx="747.4" cy="272.5" r="3.85"/><circle cx="688.9" cy="280.5" r="3.85"/><circle cx="666.8" cy="330" r="3.85"/><circle cx="630.2" cy="324.8" r="3.85"/><circle cx="733.4" cy="289.6" r="3.85"/><circle cx="593.1" cy="324.4" r="3.85"/><circle cx="711.3" cy="262.6" r="3.85"/><circle cx="732.4" cy="279.6" r="3.85"/><circle cx="655.2" cy="323.8" r="3.85"/><circle cx="622.2" cy="290.7" r="3.85"/><circle cx="701.7" cy="297.7" r="3.85"/><circle cx="664.3" cy="263.8" r="3.85"/><circle cx="705.1" cy="283.3" r="3.85"/><circle cx="622.1" cy="328.8" r="3.85"/><circle cx="694" cy="261.5" r="3.85"/><circle cx="597" cy="367.1" r="3.85"/><circle cx="691" cy="307.6" r="3.85"/><circle cx="592" cy="300.9" r="3.85"/><circle cx="733.3" cy="316.6" r="3.85"/><circle cx="682.1" cy="260.5" r="3.85"/><circle cx="601.8" cy="293.7" r="3.85"/><circle cx="725.5" cy="288.2" r="3.85"/><circle cx="662.2" cy="300" r="3.85"/><circle cx="717.6" cy="273" r="3.85"/><circle cx="669.5" cy="322.6" r="3.85"/><circle cx="625.5" cy="285.1" r="3.85"/><circle cx="616.3" cy="328.6" r="3.85"/><circle cx="608.9" cy="298.3" r="3.85"/><circle cx="657.7" cy="276.5" r="3.85"/><circle cx="623" cy="274.6" r="3.85"/><circle cx="733.3" cy="260" r="3.85"/><circle cx="737.4" cy="271.6" r="3.85"/><circle cx="598.7" cy="364.3" r="3.85"/><circle cx="604.2" cy="373.2" r="3.85"/><circle cx="748.7" cy="282.7" r="3.85"/><circle cx="664.1" cy="274.1" r="3.85"/><circle cx="660.5" cy="257.6" r="3.85"/><circle cx="722.3" cy="293" r="3.85"/><circle cx="613.8" cy="330.8" r="3.85"/><circle cx="627.8" cy="335.4" r="3.85"/><circle cx="611.3" cy="261.6" r="3.85"/><circle cx="683.7" cy="295.5" r="3.85"/><circle cx="591" cy="293.3" r="3.85"/><circle cx="616.5" cy="285.5" r="3.85"/><circle cx="602.6" cy="295.9" r="3.85"/><circle cx="640.4" cy="341.7" r="3.85"/><circle cx="601.1" cy="336.9" r="3.85"/><circle cx="639.3" cy="267.2" r="3.85"/><circle cx="624.3" cy="305.6" r="3.85"/><circle cx="689.6" cy="307.5" r="3.85"/><circle cx="723.6" cy="265.2" r="3.85"/><circle cx="634.6" cy="290.8" r="3.85"/><circle cx="651.3" cy="322.4" r="3.85"/><circle cx="640.8" cy="258.1" r="3.85"/><circle cx="588.4" cy="354.3" r="3.85"/><circle cx="583.7" cy="348.6" r="3.85"/><circle cx="744.9" cy="277.8" r="3.85"/><circle cx="670.2" cy="269.2" r="3.85"/><circle cx="601.9" cy="372.4" r="3.85"/><circle cx="684.2" cy="270.2" r="3.85"/><circle cx="735.8" cy="317.9" r="3.85"/><circle cx="639.1" cy="295.5" r="3.85"/><circle cx="598.5" cy="341.3" r="3.85"/><circle cx="631.8" cy="290" r="3.85"/><circle cx="669.3" cy="272" r="3.85"/><circle cx="677.9" cy="281.6" r="3.85"/><circle cx="612.5" cy="317" r="3.85"/><circle cx="689" cy="311.9" r="3.85"/><circle cx="618.4" cy="329" r="3.85"/><circle cx="660.2" cy="261.4" r="3.85"/><circle cx="682.3" cy="258.2" r="3.85"/><circle cx="692.8" cy="289.5" r="3.85"/><circle cx="601.8" cy="304" r="3.85"/><circle cx="757.9" cy="270.9" r="3.85"/><circle cx="616.4" cy="302.1" r="3.85"/><circle cx="690.1" cy="287.2" r="3.85"/><circle cx="599.8" cy="319.9" r="3.85"/><circle cx="636.7" cy="330.4" r="3.85"/><circle cx="744.2" cy="282.5" r="3.85"/><circle cx="721" cy="294.4" r="3.85"/><circle cx="588.8" cy="356.3" r="3.85"/><circle cx="624.5" cy="339.2" r="3.85"/><circle cx="615.4" cy="268.4" r="3.85"/><circle cx="598.2" cy="312.8" r="3.85"/><circle cx="647.6" cy="292" r="3.85"/><circle cx="622" cy="257.3" r="3.85"/><circle cx="679.4" cy="268.1" r="3.85"/><circle cx="574.9" cy="361.4" r="3.85"/><circle cx="601.9" cy="366.5" r="3.85"/><circle cx="654.6" cy="265.3" r="3.85"/><circle cx="695.2" cy="290" r="3.85"/><circle cx="718.4" cy="297.9" r="3.85"/><circle cx="602.8" cy="287.9" r="3.85"/><circle cx="662" cy="306.8" r="3.85"/><circle cx="729.8" cy="321.1" r="3.85"/><circle cx="650.2" cy="277.5" r="3.85"/><circle cx="735.2" cy="325.1" r="3.85"/><circle cx="631.7" cy="281.4" r="3.85"/><circle cx="624.3" cy="339.4" r="3.85"/><circle cx="605.8" cy="292.9" r="3.85"/><circle cx="614.5" cy="262.2" r="3.85"/><circle cx="659.2" cy="259.1" r="3.85"/><circle cx="725.6" cy="289.3" r="3.85"/><circle cx="673.1" cy="290.7" r="3.85"/><circle cx="627.9" cy="277.3" r="3.85"/><circle cx="646" cy="310.9" r="3.85"/><circle cx="704.4" cy="290.5" r="3.85"/><circle cx="729.2" cy="260.9" r="3.85"/><circle cx="722.3" cy="303.4" r="3.85"/><circle cx="591.1" cy="297" r="3.85"/><circle cx="631.2" cy="328.1" r="3.85"/><circle cx="642.7" cy="294" r="3.85"/><circle cx="675.3" cy="293.7" r="3.85"/><circle cx="612.1" cy="277" r="3.85"/><circle cx="605.2" cy="314.2" r="3.85"/><circle cx="595.9" cy="306.2" r="3.85"/><circle cx="613.3" cy="328.8" r="3.85"/><circle cx="580.4" cy="381.9" r="3.85"/><circle cx="613.7" cy="260.7" r="3.85"/><circle cx="576.3" cy="351.1" r="3.85"/><circle cx="711.7" cy="283.3" r="3.85"/><circle cx="684.2" cy="308.5" r="3.85"/><circle cx="678.8" cy="322.1" r="3.85"/><circle cx="626" cy="302.1" r="3.85"/><circle cx="715.5" cy="300.9" r="3.85"/><circle cx="667.9" cy="276" r="3.85"/><circle cx="669.7" cy="326.5" r="3.85"/><circle cx="666.6" cy="299.6" r="3.85"/><circle cx="721.4" cy="276.6" r="3.85"/><circle cx="625.9" cy="337.6" r="3.85"/><circle cx="581.6" cy="322.2" r="3.85"/><circle cx="662.4" cy="262.3" r="3.85"/><circle cx="607.8" cy="336.4" r="3.85"/><circle cx="722.3" cy="306" r="3.85"/><circle cx="697" cy="275.9" r="3.85"/><circle cx="641.1" cy="303.8" r="3.85"/><circle cx="745.9" cy="268.4" r="3.85"/><circle cx="644.3" cy="332.8" r="3.85"/><circle cx="711.3" cy="299" r="3.85"/><circle cx="726" cy="299.6" r="3.85"/><circle cx="639.1" cy="264.9" r="3.85"/><circle cx="596.1" cy="274.4" r="3.85"/><circle cx="684.7" cy="268.3" r="3.85"/><circle cx="685" cy="262.2" r="3.85"/><circle cx="696.1" cy="263.6" r="3.85"/><circle cx="601.8" cy="272.2" r="3.85"/><circle cx="596.2" cy="347.6" r="3.85"/><circle cx="675.3" cy="256.3" r="3.85"/><circle cx="602" cy="312.9" r="3.85"/><circle cx="634.2" cy="297.9" r="3.85"/><circle cx="628.2" cy="312.1" r="3.85"/><circle cx="740.5" cy="317.2" r="3.85"/><circle cx="591.1" cy="282.5" r="3.85"/><circle cx="595.3" cy="280.8" r="3.85"/><circle cx="731.8" cy="266.1" r="3.85"/><circle cx="698.5" cy="289.9" r="3.85"/><circle cx="619.4" cy="287.9" r="3.85"/><circle cx="606.7" cy="261.9" r="3.85"/><circle cx="693.6" cy="300.2" r="3.85"/><circle cx="659.5" cy="308" r="3.85"/><circle cx="754.5" cy="277" r="3.85"/><circle cx="599.7" cy="274.6" r="3.85"/><circle cx="727.6" cy="263" r="3.85"/><circle cx="595.8" cy="328.5" r="3.85"/><circle cx="632.5" cy="345.5" r="3.85"/><circle cx="649.9" cy="294.6" r="3.85"/><circle cx="666" cy="290.8" r="3.85"/><circle cx="746.1" cy="270" r="3.85"/><circle cx="664" cy="255.5" r="3.85"/><circle cx="717.9" cy="283.3" r="3.85"/><circle cx="594.7" cy="338.6" r="3.85"/><circle cx="669.5" cy="274.8" r="3.85"/><circle cx="585.2" cy="385.6" r="3.85"/><circle cx="630.8" cy="313.7" r="3.85"/><circle cx="580.6" cy="355.2" r="3.85"/><circle cx="606.8" cy="365.2" r="3.85"/><circle cx="620.2" cy="263.4" r="3.85"/><circle cx="669.8" cy="283.6" r="3.85"/><circle cx="675.7" cy="318.2" r="3.85"/><circle cx="635.8" cy="302.9" r="3.85"/><circle cx="675.8" cy="263.1" r="3.85"/><circle cx="614.1" cy="275.8" r="3.85"/><circle cx="597.2" cy="357" r="3.85"/><circle cx="615.3" cy="301.5" r="3.85"/><circle cx="655.5" cy="278" r="3.85"/><circle cx="633.2" cy="264.6" r="3.85"/><circle cx="625.4" cy="290.4" r="3.85"/><circle cx="646" cy="257.9" r="3.85"/><circle cx="645.1" cy="274.2" r="3.85"/><circle cx="620.2" cy="302.5" r="3.85"/><circle cx="675.5" cy="296.5" r="3.85"/><circle cx="697.6" cy="312" r="3.85"/><circle cx="668.1" cy="258.5" r="3.85"/><circle cx="669.7" cy="292.5" r="3.85"/><circle cx="729.9" cy="282.5" r="3.85"/><circle cx="661" cy="272.7" r="3.85"/><circle cx="600.3" cy="278" r="3.85"/><circle cx="632.4" cy="283.6" r="3.85"/><circle cx="631" cy="312.8" r="3.85"/><circle cx="627.4" cy="273.4" r="3.85"/><circle cx="662" cy="278.8" r="3.85"/><circle cx="603.7" cy="337.2" r="3.85"/><circle cx="667.4" cy="286.6" r="3.85"/><circle cx="620.4" cy="326.8" r="3.85"/><circle cx="601.5" cy="301.6" r="3.85"/><circle cx="600.7" cy="316.9" r="3.85"/><circle cx="612" cy="275.4" r="3.85"/><circle cx="682.8" cy="315.1" r="3.85"/><circle cx="674.7" cy="321.2" r="3.85"/><circle cx="596.2" cy="354.4" r="3.85"/><circle cx="684.4" cy="322.7" r="3.85"/><circle cx="681.3" cy="311.5" r="3.85"/><circle cx="718.8" cy="271" r="3.85"/><circle cx="660.8" cy="276.9" r="3.85"/><circle cx="726" cy="259.2" r="3.85"/><circle cx="691.4" cy="263.6" r="3.85"/><circle cx="645.5" cy="309.4" r="3.85"/><circle cx="700.4" cy="315.7" r="3.85"/><circle cx="671" cy="300.4" r="3.85"/><circle cx="594.5" cy="360.6" r="3.85"/><circle cx="582.7" cy="359.7" r="3.85"/><circle cx="729.1" cy="266.7" r="3.85"/><circle cx="638.2" cy="341.7" r="3.85"/><circle cx="584.1" cy="348.2" r="3.85"/><circle cx="722.1" cy="259.8" r="3.85"/><circle cx="583" cy="369.3" r="3.85"/><circle cx="703.6" cy="294.6" r="3.85"/><circle cx="675.6" cy="298.1" r="3.85"/><circle cx="604.6" cy="303.2" r="3.85"/><circle cx="589.4" cy="308" r="3.85"/><circle cx="737.6" cy="285.1" r="3.85"/><circle cx="687.6" cy="276.8" r="3.85"/><circle cx="612.6" cy="286.8" r="3.85"/><circle cx="734" cy="318" r="3.85"/><circle cx="744.6" cy="270.6" r="3.85"/><circle cx="631.8" cy="274.5" r="3.85"/><circle cx="602.2" cy="364.9" r="3.85"/><circle cx="633.2" cy="257.4" r="3.85"/><circle cx="736.3" cy="301.1" r="3.85"/><circle cx="721.4" cy="271" r="3.85"/><circle cx="636" cy="269.4" r="3.85"/><circle cx="643" cy="336.3" r="3.85"/><circle cx="617.7" cy="330.8" r="3.85"/><circle cx="648.2" cy="316.5" r="3.85"/><circle cx="616.4" cy="323.5" r="3.85"/><circle cx="600" cy="322.5" r="3.85"/><circle cx="644.6" cy="295.7" r="3.85"/><circle cx="613.2" cy="283.2" r="3.85"/><circle cx="642.8" cy="268" r="3.85"/><circle cx="729.7" cy="296.8" r="3.85"/><circle cx="698.2" cy="294.3" r="3.85"/><circle cx="610.3" cy="258.1" r="3.85"/><circle cx="646.7" cy="310.7" r="3.85"/><circle cx="661.2" cy="327.1" r="3.85"/><circle cx="607" cy="372.3" r="3.85"/><circle cx="645.4" cy="281.5" r="3.85"/><circle cx="608.4" cy="281.6" r="3.85"/><circle cx="697.2" cy="282" r="3.85"/><circle cx="620" cy="276.8" r="3.85"/><circle cx="685.4" cy="262.1" r="3.85"/><circle cx="645.7" cy="284.3" r="3.85"/><circle cx="593.6" cy="319.9" r="3.85"/><circle cx="699.7" cy="269.8" r="3.85"/><circle cx="660.2" cy="340.3" r="3.85"/><circle cx="706.6" cy="286.9" r="3.85"/><circle cx="711.7" cy="280.3" r="3.85"/><circle cx="650.5" cy="340.9" r="3.85"/><circle cx="628.4" cy="309.6" r="3.85"/><circle cx="594.6" cy="319.4" r="3.85"/><circle cx="583.1" cy="313.7" r="3.85"/><circle cx="655.8" cy="294.6" r="3.85"/><circle cx="624.1" cy="290.3" r="3.85"/><circle cx="656.7" cy="324.9" r="3.85"/><circle cx="674" cy="273.6" r="3.85"/><circle cx="578.5" cy="339.5" r="3.85"/><circle cx="715.8" cy="264.2" r="3.85"/><circle cx="690.6" cy="285.6" r="3.85"/><circle cx="641.6" cy="260.8" r="3.85"/><circle cx="655" cy="309.5" r="3.85"/><circle cx="614.2" cy="294.7" r="3.85"/><circle cx="720.4" cy="271.3" r="3.85"/><circle cx="676.5" cy="288.3" r="3.85"/><circle cx="696.9" cy="307.6" r="3.85"/><circle cx="675.1" cy="263.3" r="3.85"/><circle cx="600.9" cy="301" r="3.85"/><circle cx="709.1" cy="281.4" r="3.85"/><circle cx="596.2" cy="376.9" r="3.85"/><circle cx="619.7" cy="349.4" r="3.85"/><circle cx="583.6" cy="323" r="3.85"/><circle cx="605.6" cy="283.3" r="3.85"/><circle cx="735.8" cy="275.7" r="3.85"/><circle cx="610.3" cy="302.2" r="3.85"/><circle cx="691.1" cy="293.2" r="3.85"/><circle cx="659.8" cy="280.3" r="3.85"/><circle cx="584.2" cy="361.3" r="3.85"/><circle cx="618.3" cy="314.2" r="3.85"/><circle cx="676" cy="332.7" r="3.85"/><circle cx="694.4" cy="264.9" r="3.85"/><circle cx="689.2" cy="311" r="3.85"/><circle cx="662.9" cy="333.8" r="3.85"/><circle cx="606.9" cy="268.2" r="3.85"/><circle cx="635.4" cy="318.6" r="3.85"/><circle cx="694.4" cy="270.2" r="3.85"/><circle cx="633.2" cy="262.9" r="3.85"/><circle cx="721.4" cy="268.9" r="3.85"/><circle cx="630.4" cy="272.3" r="3.85"/><circle cx="659" cy="326.5" r="3.85"/><circle cx="590.3" cy="317.7" r="3.85"/><circle cx="575.8" cy="321.6" r="3.85"/><circle cx="591.4" cy="353.1" r="3.85"/><circle cx="631.6" cy="309.9" r="3.85"/><circle cx="601.3" cy="373.5" r="3.85"/><circle cx="611.2" cy="295.3" r="3.85"/><circle cx="705.2" cy="296.1" r="3.85"/><circle cx="592.9" cy="300.6" r="3.85"/><circle cx="592.1" cy="343.8" r="3.85"/><circle cx="740.8" cy="267.7" r="3.85"/><circle cx="634.6" cy="260" r="3.85"/><circle cx="671.3" cy="319.9" r="3.85"/><circle cx="620.7" cy="318.9" r="3.85"/><circle cx="643.9" cy="267.4" r="3.85"/><circle cx="669.2" cy="291.8" r="3.85"/><circle cx="734.7" cy="280.9" r="3.85"/><circle cx="696.4" cy="308.8" r="3.85"/><circle cx="636.1" cy="313.8" r="3.85"/><circle cx="633.6" cy="298.6" r="3.85"/><circle cx="733.6" cy="296.7" r="3.85"/><circle cx="622.4" cy="298.7" r="3.85"/><circle cx="622.8" cy="321.7" r="3.85"/><circle cx="625" cy="273" r="3.85"/><circle cx="731.1" cy="285.8" r="3.85"/><circle cx="595.2" cy="365.1" r="3.85"/><circle cx="643.1" cy="336.4" r="3.85"/><circle cx="634.4" cy="329.4" r="3.85"/><circle cx="641.6" cy="304.2" r="3.85"/><circle cx="663.9" cy="323.1" r="3.85"/><circle cx="699.3" cy="308.6" r="3.85"/><circle cx="636.4" cy="329.4" r="3.85"/><circle cx="716.3" cy="259.4" r="3.85"/><circle cx="716.2" cy="297.3" r="3.85"/><circle cx="607.3" cy="328.4" r="3.85"/><circle cx="615.9" cy="315" r="3.85"/><circle cx="665.5" cy="275.4" r="3.85"/><circle cx="662" cy="290.3" r="3.85"/><circle cx="616.4" cy="263.6" r="3.85"/><circle cx="653.9" cy="270.6" r="3.85"/><circle cx="593.6" cy="319.5" r="3.85"/><circle cx="649" cy="259.9" r="3.85"/><circle cx="643.3" cy="281.8" r="3.85"/><circle cx="635.6" cy="301.9" r="3.85"/><circle cx="648.2" cy="262.9" r="3.85"/><circle cx="726.8" cy="284.1" r="3.85"/><circle cx="723.6" cy="289.2" r="3.85"/><circle cx="612.9" cy="305.5" r="3.85"/><circle cx="642.7" cy="269.9" r="3.85"/><circle cx="691.6" cy="312" r="3.85"/><circle cx="693.2" cy="310.9" r="3.85"/><circle cx="648.3" cy="275.4" r="3.85"/><circle cx="691.6" cy="282.7" r="3.85"/><circle cx="609" cy="315.1" r="3.85"/><circle cx="673" cy="328.8" r="3.85"/><circle cx="606.2" cy="271.1" r="3.85"/><circle cx="636.8" cy="326.5" r="3.85"/><circle cx="625.4" cy="333" r="3.85"/><circle cx="626.8" cy="314.4" r="3.85"/><circle cx="705.1" cy="276.4" r="3.85"/><circle cx="704" cy="281.2" r="3.85"/><circle cx="609.8" cy="275.1" r="3.85"/><circle cx="612" cy="330.9" r="3.85"/><circle cx="676" cy="309" r="3.85"/><circle cx="680.5" cy="260" r="3.85"/><circle cx="683.8" cy="294.5" r="3.85"/><circle cx="649.4" cy="285.3" r="3.85"/><circle cx="704.9" cy="274.9" r="3.85"/><circle cx="667.2" cy="319.3" r="3.85"/><circle cx="646.9" cy="285.8" r="3.85"/><circle cx="703.2" cy="266.9" r="3.85"/><circle cx="606.5" cy="354.3" r="3.85"/><circle cx="597.2" cy="298.5" r="3.85"/><circle cx="629.6" cy="266.9" r="3.85"/><circle cx="705.5" cy="295.7" r="3.85"/><circle cx="608.2" cy="283.9" r="3.85"/><circle cx="606.7" cy="263.4" r="3.85"/><circle cx="635.7" cy="302.9" r="3.85"/><circle cx="684.8" cy="265.6" r="3.85"/><circle cx="629.5" cy="279.1" r="3.85"/><circle cx="680.5" cy="307.2" r="3.85"/><circle cx="705.2" cy="318.1" r="3.85"/><circle cx="632.1" cy="315.7" r="3.85"/><circle cx="619.8" cy="273.8" r="3.85"/><circle cx="665.3" cy="261" r="3.85"/><circle cx="649.6" cy="310.9" r="3.85"/><circle cx="596.9" cy="278.5" r="3.85"/><circle cx="633.7" cy="324.7" r="3.85"/><circle cx="607.3" cy="353.7" r="3.85"/><circle cx="688.2" cy="267.2" r="3.85"/><circle cx="651.4" cy="290.5" r="3.85"/><circle cx="595.1" cy="347.1" r="3.85"/><circle cx="633.4" cy="343.9" r="3.85"/><circle cx="687.1" cy="269.7" r="3.85"/><circle cx="636.1" cy="315.2" r="3.85"/><circle cx="696.4" cy="299.2" r="3.85"/><circle cx="599.8" cy="308.6" r="3.85"/><circle cx="684.1" cy="294.6" r="3.85"/><circle cx="617.6" cy="320.7" r="3.85"/><circle cx="663.3" cy="285.7" r="3.85"/><circle cx="688.4" cy="283.8" r="3.85"/><circle cx="655.9" cy="331.4" r="3.85"/><circle cx="589.7" cy="305.8" r="3.85"/><circle cx="649.6" cy="298.6" r="3.85"/><circle cx="707.2" cy="310.1" r="3.85"/><circle cx="720.3" cy="274.2" r="3.85"/><circle cx="642.2" cy="317.6" r="3.85"/><circle cx="600.6" cy="381" r="3.85"/><circle cx="629.7" cy="292.5" r="3.85"/><circle cx="612.1" cy="264.6" r="3.85"/><circle cx="604.3" cy="327.6" r="3.85"/><circle cx="652.3" cy="262.8" r="3.85"/><circle cx="608.1" cy="293.8" r="3.85"/><circle cx="618.6" cy="301.2" r="3.85"/><circle cx="691.6" cy="253.9" r="3.85"/><circle cx="641.2" cy="326.7" r="3.85"/><circle cx="631.2" cy="317" r="3.85"/><circle cx="661.5" cy="327.3" r="3.85"/><circle cx="619.8" cy="351" r="3.85"/><circle cx="621.9" cy="327" r="3.85"/><circle cx="686.4" cy="274.8" r="3.85"/><circle cx="665.5" cy="264.9" r="3.85"/><circle cx="673.5" cy="262.7" r="3.85"/><circle cx="578" cy="335.8" r="3.85"/><circle cx="688.7" cy="288.2" r="3.85"/><circle cx="708.1" cy="280.8" r="3.85"/><circle cx="634.6" cy="308.9" r="3.85"/><circle cx="653.5" cy="264.1" r="3.85"/><circle cx="612.5" cy="345.3" r="3.85"/><circle cx="641.7" cy="332.1" r="3.85"/><circle cx="608.8" cy="268.7" r="3.85"/><circle cx="738.7" cy="316.8" r="3.85"/><circle cx="610.9" cy="337.5" r="3.85"/><circle cx="722.4" cy="268.8" r="3.85"/><circle cx="756.4" cy="296.4" r="3.85"/><circle cx="665.2" cy="287.1" r="3.85"/><circle cx="668.4" cy="268" r="3.85"/><circle cx="652.5" cy="303.6" r="3.85"/><circle cx="719.1" cy="271" r="3.85"/><circle cx="736.3" cy="289.6" r="3.85"/><circle cx="730.5" cy="270.8" r="3.85"/><circle cx="598.8" cy="272.7" r="3.85"/><circle cx="637" cy="294.2" r="3.85"/><circle cx="641.2" cy="300" r="3.85"/><circle cx="621.5" cy="275.6" r="3.85"/><circle cx="722.1" cy="274.1" r="3.85"/><circle cx="652.1" cy="303.4" r="3.85"/><circle cx="620.7" cy="258.2" r="3.85"/><circle cx="607.5" cy="279.1" r="3.85"/><circle cx="579.4" cy="377.9" r="3.85"/><circle cx="710.8" cy="261.2" r="3.85"/><circle cx="590.5" cy="332.4" r="3.85"/><circle cx="694.7" cy="310.2" r="3.85"/><circle cx="673.8" cy="276.3" r="3.85"/><circle cx="598.9" cy="322.6" r="3.85"/><circle cx="711.9" cy="277.2" r="3.85"/><circle cx="628.8" cy="328.6" r="3.85"/><circle cx="744.9" cy="258.7" r="3.85"/><circle cx="689.5" cy="262.4" r="3.85"/><circle cx="611.2" cy="282.6" r="3.85"/><circle cx="621.5" cy="310.7" r="3.85"/><circle cx="634.2" cy="266.1" r="3.85"/><circle cx="613.9" cy="292.6" r="3.85"/><circle cx="731.8" cy="282.3" r="3.85"/><circle cx="707.2" cy="282.9" r="3.85"/><circle cx="679.7" cy="315.8" r="3.85"/><circle cx="603.2" cy="285.4" r="3.85"/><circle cx="669.7" cy="326.9" r="3.85"/><circle cx="615.4" cy="339.7" r="3.85"/><circle cx="727.5" cy="298" r="3.85"/><circle cx="602.2" cy="282.2" r="3.85"/><circle cx="628" cy="284.4" r="3.85"/><circle cx="680.6" cy="315.1" r="3.85"/><circle cx="667.3" cy="321.9" r="3.85"/><circle cx="743.2" cy="282.8" r="3.85"/><circle cx="587.5" cy="299.8" r="3.85"/><circle cx="597.8" cy="378" r="3.85"/><circle cx="661.7" cy="263.4" r="3.85"/><circle cx="602.4" cy="272.3" r="3.85"/><circle cx="661.9" cy="295.4" r="3.85"/><circle cx="691.1" cy="317.5" r="3.85"/><circle cx="622.9" cy="284.2" r="3.85"/><circle cx="615.1" cy="261.3" r="3.85"/><circle cx="677.2" cy="299.6" r="3.85"/><circle cx="715.6" cy="267.8" r="3.85"/><circle cx="654.9" cy="328.6" r="3.85"/><circle cx="655.2" cy="315.8" r="3.85"/><circle cx="584.7" cy="344.5" r="3.85"/><circle cx="643" cy="279.4" r="3.85"/><circle cx="626.4" cy="342.5" r="3.85"/><circle cx="697" cy="283.1" r="3.85"/><circle cx="758.2" cy="273.1" r="3.85"/><circle cx="632.6" cy="338.8" r="3.85"/><circle cx="703.6" cy="296.8" r="3.85"/><circle cx="704.7" cy="288.4" r="3.85"/><circle cx="597.1" cy="349.2" r="3.85"/><circle cx="653.3" cy="338.2" r="3.85"/><circle cx="672.1" cy="325.8" r="3.85"/><circle cx="648.7" cy="302" r="3.85"/><circle cx="602.3" cy="307.5" r="3.85"/><circle cx="656.6" cy="275.4" r="3.85"/><circle cx="746.9" cy="277.1" r="3.85"/><circle cx="665.6" cy="295.7" r="3.85"/><circle cx="656.1" cy="313" r="3.85"/><circle cx="646" cy="260.7" r="3.85"/><circle cx="624.3" cy="278.3" r="3.85"/><circle cx="668.8" cy="298.7" r="3.85"/><circle cx="614.4" cy="273.7" r="3.85"/><circle cx="603.8" cy="354.5" r="3.85"/><circle cx="720.1" cy="298.8" r="3.85"/><circle cx="576.5" cy="346.5" r="3.85"/><circle cx="618" cy="313.6" r="3.85"/><circle cx="577.9" cy="353.6" r="3.85"/><circle cx="592" cy="338" r="3.85"/><circle cx="661.9" cy="296.7" r="3.85"/><circle cx="688.4" cy="280.2" r="3.85"/><circle cx="733" cy="286.8" r="3.85"/><circle cx="659" cy="260" r="3.85"/><circle cx="656" cy="265.1" r="3.85"/><circle cx="634.6" cy="267" r="3.85"/><circle cx="645.2" cy="336.7" r="3.85"/><circle cx="730.7" cy="322.3" r="3.85"/><circle cx="652.9" cy="308.6" r="3.85"/><circle cx="623.6" cy="336.3" r="3.85"/><circle cx="656.8" cy="265" r="3.85"/><circle cx="589.1" cy="322.3" r="3.85"/><circle cx="698.9" cy="262.4" r="3.85"/><circle cx="711.1" cy="264.4" r="3.85"/><circle cx="587.1" cy="317.2" r="3.85"/><circle cx="672.6" cy="313.4" r="3.85"/><circle cx="604" cy="367.2" r="3.85"/><circle cx="633.5" cy="310.9" r="3.85"/><circle cx="601.7" cy="326.7" r="3.85"/><circle cx="733.9" cy="263.1" r="3.85"/><circle cx="579.3" cy="308.8" r="3.85"/><circle cx="591.6" cy="352.7" r="3.85"/><circle cx="601" cy="370.6" r="3.85"/><circle cx="649" cy="316.7" r="3.85"/><circle cx="698.3" cy="272.3" r="3.85"/><circle cx="600.7" cy="291.7" r="3.85"/><circle cx="689.4" cy="303.5" r="3.85"/><circle cx="701.1" cy="269.3" r="3.85"/><circle cx="650.9" cy="323.6" r="3.85"/><circle cx="622.9" cy="275.4" r="3.85"/><circle cx="671.3" cy="313.1" r="3.85"/><circle cx="616.2" cy="319.8" r="3.85"/><circle cx="597.6" cy="312" r="3.85"/><circle cx="636.1" cy="287.6" r="3.85"/><circle cx="680.4" cy="267.9" r="3.85"/><circle cx="678.5" cy="257.2" r="3.85"/><circle cx="741.8" cy="317.5" r="3.85"/><circle cx="607.9" cy="288.1" r="3.85"/><circle cx="599.6" cy="349.5" r="3.85"/><circle cx="636.7" cy="325.5" r="3.85"/><circle cx="630" cy="259" r="3.85"/><circle cx="611" cy="324.4" r="3.85"/><circle cx="629.9" cy="327" r="3.85"/><circle cx="659" cy="262.8" r="3.85"/><circle cx="620.3" cy="305.4" r="3.85"/><circle cx="672.5" cy="264.4" r="3.85"/><circle cx="643" cy="311.8" r="3.85"/><circle cx="645.8" cy="296.5" r="3.85"/><circle cx="667.4" cy="260.6" r="3.85"/><circle cx="738.3" cy="261.6" r="3.85"/><circle cx="629.9" cy="288.3" r="3.85"/><circle cx="593.4" cy="378.3" r="3.85"/><circle cx="617.8" cy="356.4" r="3.85"/><circle cx="642.8" cy="317" r="3.85"/><circle cx="638.3" cy="305.5" r="3.85"/><circle cx="589.8" cy="297.2" r="3.85"/><circle cx="633" cy="331.6" r="3.85"/><circle cx="613.1" cy="281" r="3.85"/><circle cx="655.2" cy="333.6" r="3.85"/><circle cx="696.3" cy="312" r="3.85"/><circle cx="633.4" cy="319.1" r="3.85"/><circle cx="687.6" cy="292.5" r="3.85"/><circle cx="630.5" cy="291.4" r="3.85"/><circle cx="640.8" cy="322.8" r="3.85"/><circle cx="694.2" cy="258.9" r="3.85"/><circle cx="708.5" cy="280" r="3.85"/><circle cx="642.1" cy="341.3" r="3.85"/><circle cx="619.9" cy="259" r="3.85"/><circle cx="732" cy="287.2" r="3.85"/><circle cx="734.2" cy="294.7" r="3.85"/><circle cx="607.2" cy="329.6" r="3.85"/><circle cx="636.3" cy="259.7" r="3.85"/><circle cx="683.7" cy="281.8" r="3.85"/><circle cx="657.3" cy="271.2" r="3.85"/><circle cx="605.4" cy="311.5" r="3.85"/><circle cx="629.8" cy="276.6" r="3.85"/><circle cx="578.1" cy="387.3" r="3.85"/><circle cx="654.2" cy="295.9" r="3.85"/><circle cx="626.5" cy="301.4" r="3.85"/><circle cx="625.5" cy="275.9" r="3.85"/><circle cx="593.7" cy="284.8" r="3.85"/><circle cx="715.4" cy="264.9" r="3.85"/><circle cx="627.7" cy="275.6" r="3.85"/><circle cx="628.1" cy="303.1" r="3.85"/><circle cx="654.3" cy="308.2" r="3.85"/><circle cx="588.2" cy="306.7" r="3.85"/><circle cx="659" cy="268.6" r="3.85"/><circle cx="689.9" cy="297.1" r="3.85"/><circle cx="578.8" cy="362.7" r="3.85"/><circle cx="608.8" cy="335.1" r="3.85"/><circle cx="670.1" cy="278.6" r="3.85"/><circle cx="661.3" cy="326.2" r="3.85"/><circle cx="604.7" cy="357.8" r="3.85"/><circle cx="593.4" cy="343.8" r="3.85"/><circle cx="730.1" cy="281.2" r="3.85"/><circle cx="687.1" cy="301.7" r="3.85"/><circle cx="630.9" cy="311.4" r="3.85"/><circle cx="634.8" cy="257.6" r="3.85"/><circle cx="610.6" cy="263.3" r="3.85"/><circle cx="629.3" cy="263.6" r="3.85"/><circle cx="703.5" cy="291.1" r="3.85"/><circle cx="664.8" cy="320.1" r="3.85"/><circle cx="633.1" cy="303.9" r="3.85"/><circle cx="651.5" cy="286.7" r="3.85"/><circle cx="662.5" cy="314.7" r="3.85"/><circle cx="611.8" cy="265" r="3.85"/><circle cx="635.4" cy="333.3" r="3.85"/><circle cx="577.6" cy="355.5" r="3.85"/><circle cx="650.8" cy="296.3" r="3.85"/><circle cx="694.3" cy="288.9" r="3.85"/><circle cx="730.6" cy="286.7" r="3.85"/><circle cx="639.6" cy="297.6" r="3.85"/><circle cx="733.8" cy="277" r="3.85"/><circle cx="603.7" cy="315" r="3.85"/><circle cx="679.1" cy="310" r="3.85"/><circle cx="588.9" cy="313.3" r="3.85"/><circle cx="703.7" cy="286.7" r="3.85"/><circle cx="625.3" cy="328.9" r="3.85"/><circle cx="607.5" cy="359.6" r="3.85"/><circle cx="716.5" cy="303" r="3.85"/><circle cx="628.9" cy="337.9" r="3.85"/><circle cx="737.5" cy="275.2" r="3.85"/><circle cx="730.6" cy="260" r="3.85"/><circle cx="627" cy="268.6" r="3.85"/><circle cx="671.2" cy="280.8" r="3.85"/><circle cx="733.7" cy="322.1" r="3.85"/><circle cx="672.4" cy="320.9" r="3.85"/><circle cx="666.7" cy="327" r="3.85"/><circle cx="690.5" cy="272" r="3.85"/><circle cx="703" cy="308.9" r="3.85"/><circle cx="655.9" cy="323.2" r="3.85"/><circle cx="712" cy="282.1" r="3.85"/><circle cx="591.5" cy="347.4" r="3.85"/><circle cx="718.8" cy="299.4" r="3.85"/><circle cx="577.8" cy="344" r="3.85"/><circle cx="679.4" cy="262.2" r="3.85"/><circle cx="587.9" cy="323.5" r="3.85"/><circle cx="694.8" cy="310.1" r="3.85"/><circle cx="719.5" cy="262.2" r="3.85"/><circle cx="651.3" cy="276.4" r="3.85"/><circle cx="604" cy="319.3" r="3.85"/><circle cx="677.6" cy="287" r="3.85"/><circle cx="649.9" cy="343.3" r="3.85"/><circle cx="675.9" cy="269.5" r="3.85"/><circle cx="708.9" cy="278.5" r="3.85"/><circle cx="670.5" cy="327.5" r="3.85"/><circle cx="678.7" cy="305.9" r="3.85"/><circle cx="677.6" cy="319.2" r="3.85"/><circle cx="594.1" cy="310.1" r="3.85"/><circle cx="592" cy="307.5" r="3.85"/><circle cx="736.2" cy="269.1" r="3.85"/><circle cx="619.9" cy="310.5" r="3.85"/><circle cx="627.2" cy="321.4" r="3.85"/><circle cx="756.1" cy="285.1" r="3.85"/><circle cx="604.1" cy="295" r="3.85"/><circle cx="629.9" cy="330.5" r="3.85"/><circle cx="636" cy="335.5" r="3.85"/><circle cx="613" cy="336.3" r="3.85"/><circle cx="686.6" cy="280" r="3.85"/><circle cx="589.9" cy="362.5" r="3.85"/><circle cx="676.1" cy="273.1" r="3.85"/><circle cx="694.5" cy="312.9" r="3.85"/><circle cx="688.5" cy="278.2" r="3.85"/><circle cx="634.2" cy="300.4" r="3.85"/><circle cx="629.6" cy="299.3" r="3.85"/><circle cx="725.3" cy="276.8" r="3.85"/><circle cx="577.5" cy="358.9" r="3.85"/><circle cx="640.9" cy="298.6" r="3.85"/><circle cx="650.7" cy="325.3" r="3.85"/><circle cx="695.9" cy="299" r="3.85"/><circle cx="737.2" cy="320.1" r="3.85"/><circle cx="618" cy="303.9" r="3.85"/><circle cx="654.3" cy="319.2" r="3.85"/><circle cx="680.3" cy="312.9" r="3.85"/><circle cx="746.4" cy="268.8" r="3.85"/><circle cx="601.2" cy="291.8" r="3.85"/><circle cx="690.6" cy="304.8" r="3.85"/><circle cx="672.6" cy="297.6" r="3.85"/><circle cx="606.8" cy="364" r="3.85"/><circle cx="661.5" cy="286.2" r="3.85"/><circle cx="596.2" cy="320.4" r="3.85"/><circle cx="661.6" cy="279.7" r="3.85"/><circle cx="590.6" cy="371.8" r="3.85"/><circle cx="647.5" cy="266" r="3.85"/><circle cx="735.9" cy="271.7" r="3.85"/><circle cx="615.1" cy="303.3" r="3.85"/><circle cx="604.3" cy="307.1" r="3.85"/><circle cx="729.8" cy="260.7" r="3.85"/><circle cx="590.2" cy="322.3" r="3.85"/><circle cx="747.9" cy="289" r="3.85"/><circle cx="711.6" cy="282.6" r="3.85"/><circle cx="684.4" cy="258.9" r="3.85"/><circle cx="665.1" cy="316.6" r="3.85"/><circle cx="694.5" cy="277.7" r="3.85"/><circle cx="685.1" cy="310.4" r="3.85"/><circle cx="727.8" cy="277.6" r="3.85"/><circle cx="592.9" cy="343.3" r="3.85"/><circle cx="716.9" cy="273.4" r="3.85"/><circle cx="706.7" cy="282.4" r="3.85"/><circle cx="740.9" cy="267.6" r="3.85"/><circle cx="582.3" cy="374.5" r="3.85"/><circle cx="681.3" cy="257.4" r="3.85"/><circle cx="699.2" cy="268.2" r="3.85"/><circle cx="635.6" cy="268.4" r="3.85"/><circle cx="662.9" cy="320.3" r="3.85"/><circle cx="644" cy="321.1" r="3.85"/><circle cx="624.9" cy="272" r="3.85"/><circle cx="581.9" cy="306.6" r="3.85"/><circle cx="657.4" cy="313.6" r="3.85"/><circle cx="585.8" cy="308.7" r="3.85"/><circle cx="649.2" cy="285.4" r="3.85"/><circle cx="587.6" cy="370.8" r="3.85"/><circle cx="686.9" cy="291.5" r="3.85"/><circle cx="684.1" cy="282.5" r="3.85"/><circle cx="699.6" cy="260.2" r="3.85"/><circle cx="593.8" cy="278.5" r="3.85"/><circle cx="642.9" cy="269.1" r="3.85"/><circle cx="609.4" cy="279.4" r="3.85"/><circle cx="732.7" cy="270.2" r="3.85"/><circle cx="624.3" cy="345.2" r="3.85"/><circle cx="652.2" cy="330.7" r="3.85"/><circle cx="602.2" cy="341.8" r="3.85"/><circle cx="706" cy="256" r="3.85"/><circle cx="665.3" cy="305.5" r="3.85"/><circle cx="612.7" cy="322" r="3.85"/><circle cx="614" cy="313.9" r="3.85"/><circle cx="604.7" cy="292.3" r="3.85"/><circle cx="646.8" cy="305.3" r="3.85"/><circle cx="737.3" cy="267.5" r="3.85"/><circle cx="732.1" cy="318.8" r="3.85"/><circle cx="717" cy="271.3" r="3.85"/><circle cx="656.4" cy="319.3" r="3.85"/><circle cx="606.4" cy="261.1" r="3.85"/><circle cx="641.9" cy="258.8" r="3.85"/><circle cx="594.2" cy="342.4" r="3.85"/><circle cx="626.7" cy="297.2" r="3.85"/><circle cx="631.4" cy="283.4" r="3.85"/><circle cx="663.4" cy="256.6" r="3.85"/><circle cx="643.9" cy="298.7" r="3.85"/><circle cx="639.6" cy="290.2" r="3.85"/><circle cx="622" cy="314.7" r="3.85"/><circle cx="714.3" cy="284.8" r="3.85"/><circle cx="648.7" cy="307.9" r="3.85"/><circle cx="633.5" cy="312.9" r="3.85"/><circle cx="699" cy="290.5" r="3.85"/><circle cx="612.7" cy="325.9" r="3.85"/><circle cx="633.7" cy="288.9" r="3.85"/><circle cx="718.5" cy="257.7" r="3.85"/><circle cx="689.8" cy="317.3" r="3.85"/><circle cx="617.3" cy="327.2" r="3.85"/><circle cx="690.4" cy="284.5" r="3.85"/><circle cx="598.6" cy="304.5" r="3.85"/><circle cx="678.4" cy="300.6" r="3.85"/><circle cx="624.2" cy="334.4" r="3.85"/><circle cx="723.3" cy="282" r="3.85"/><circle cx="708.8" cy="311.6" r="3.85"/><circle cx="682.6" cy="320.6" r="3.85"/><circle cx="589.2" cy="361.8" r="3.85"/><circle cx="656.6" cy="284.1" r="3.85"/><circle cx="576.8" cy="364.2" r="3.85"/><circle cx="624.9" cy="263.3" r="3.85"/><circle cx="608.6" cy="313.9" r="3.85"/><circle cx="655.4" cy="277.9" r="3.85"/><circle cx="655" cy="306" r="3.85"/><circle cx="596.4" cy="314.4" r="3.85"/><circle cx="670" cy="283" r="3.85"/><circle cx="676.3" cy="296" r="3.85"/><circle cx="752.3" cy="263.7" r="3.85"/><circle cx="748.3" cy="276.5" r="3.85"/><circle cx="736.2" cy="324.5" r="3.85"/><circle cx="694" cy="285.3" r="3.85"/><circle cx="734.8" cy="318.7" r="3.85"/><circle cx="642.4" cy="293.4" r="3.85"/><circle cx="685" cy="297.3" r="3.85"/><circle cx="602.5" cy="366" r="3.85"/><circle cx="674.5" cy="281.5" r="3.85"/><circle cx="595.1" cy="287.9" r="3.85"/><circle cx="653.2" cy="341.3" r="3.85"/><circle cx="733.5" cy="275.9" r="3.85"/><circle cx="600.6" cy="296.3" r="3.85"/><circle cx="688.2" cy="278" r="3.85"/><circle cx="599.5" cy="318.9" r="3.85"/><circle cx="659.2" cy="304.9" r="3.85"/><circle cx="626.1" cy="334.3" r="3.85"/><circle cx="738.2" cy="282.7" r="3.85"/><circle cx="682.9" cy="313.5" r="3.85"/><circle cx="700.8" cy="290.1" r="3.85"/><circle cx="680.6" cy="256.4" r="3.85"/><circle cx="735.3" cy="269.4" r="3.85"/><circle cx="611" cy="307.2" r="3.85"/><circle cx="648.5" cy="309.2" r="3.85"/><circle cx="625.4" cy="282.6" r="3.85"/><circle cx="613.2" cy="332.1" r="3.85"/><circle cx="699.8" cy="309.1" r="3.85"/><circle cx="607.1" cy="366.8" r="3.85"/><circle cx="633.3" cy="301.3" r="3.85"/><circle cx="600.5" cy="361" r="3.85"/><circle cx="666.4" cy="257.5" r="3.85"/><circle cx="717.2" cy="255.2" r="3.85"/><circle cx="675.4" cy="281.8" r="3.85"/><circle cx="621.8" cy="310.2" r="3.85"/><circle cx="636.3" cy="303.1" r="3.85"/><circle cx="597.9" cy="283.9" r="3.85"/><circle cx="666.4" cy="307.7" r="3.85"/><circle cx="604.1" cy="351.6" r="3.85"/><circle cx="667" cy="288.5" r="3.85"/><circle cx="638.7" cy="296.3" r="3.85"/><circle cx="648.2" cy="299.7" r="3.85"/><circle cx="711.6" cy="266.1" r="3.85"/><circle cx="697.7" cy="303.4" r="3.85"/><circle cx="639.7" cy="305.4" r="3.85"/><circle cx="651.6" cy="289.4" r="3.85"/><circle cx="592" cy="361.9" r="3.85"/><circle cx="631.9" cy="350" r="3.85"/><circle cx="594.8" cy="344.6" r="3.85"/><circle cx="609.7" cy="276.4" r="3.85"/><circle cx="648.5" cy="267" r="3.85"/><circle cx="635.1" cy="327.8" r="3.85"/><circle cx="654.4" cy="286.1" r="3.85"/><circle cx="593.7" cy="359.4" r="3.85"/><circle cx="622.4" cy="284.3" r="3.85"/><circle cx="604.2" cy="338.9" r="3.85"/><circle cx="599.4" cy="286.1" r="3.85"/><circle cx="665.2" cy="300.6" r="3.85"/><circle cx="652.1" cy="318.2" r="3.85"/><circle cx="733.6" cy="291.1" r="3.85"/><circle cx="591.8" cy="311" r="3.85"/><circle cx="657.4" cy="262.3" r="3.85"/><circle cx="626.2" cy="285.2" r="3.85"/><circle cx="577.4" cy="357.1" r="3.85"/><circle cx="612.5" cy="304.7" r="3.85"/><circle cx="648.9" cy="270.7" r="3.85"/><circle cx="607.9" cy="268.8" r="3.85"/><circle cx="584.2" cy="331.6" r="3.85"/><circle cx="692" cy="263.8" r="3.85"/><circle cx="614.2" cy="299.7" r="3.85"/><circle cx="742.9" cy="273.8" r="3.85"/><circle cx="651.9" cy="286.3" r="3.85"/><circle cx="677.6" cy="331.1" r="3.85"/><circle cx="702.4" cy="271.1" r="3.85"/><circle cx="734.3" cy="298.7" r="3.85"/><circle cx="715.1" cy="277.3" r="3.85"/><circle cx="638.8" cy="307.4" r="3.85"/><circle cx="655.1" cy="277.4" r="3.85"/><circle cx="645.2" cy="304.7" r="3.85"/><circle cx="612.5" cy="271.2" r="3.85"/><circle cx="658" cy="260.2" r="3.85"/><circle cx="616.3" cy="295.4" r="3.85"/><circle cx="615.8" cy="314.7" r="3.85"/><circle cx="705.1" cy="309" r="3.85"/><circle cx="598.5" cy="298.8" r="3.85"/><circle cx="661.7" cy="290.9" r="3.85"/><circle cx="601.2" cy="272" r="3.85"/><circle cx="711.4" cy="295.6" r="3.85"/><circle cx="636.5" cy="272.1" r="3.85"/><circle cx="729.9" cy="281.5" r="3.85"/><circle cx="674.4" cy="275.2" r="3.85"/><circle cx="604" cy="319.2" r="3.85"/><circle cx="639" cy="261.4" r="3.85"/><circle cx="630.6" cy="264" r="3.85"/><circle cx="672.9" cy="289.8" r="3.85"/><circle cx="707.1" cy="289.5" r="3.85"/><circle cx="623.5" cy="298.8" r="3.85"/><circle cx="632.8" cy="318.6" r="3.85"/><circle cx="667.2" cy="299.7" r="3.85"/><circle cx="613.1" cy="297.5" r="3.85"/><circle cx="648.5" cy="268.3" r="3.85"/><circle cx="640.4" cy="291.6" r="3.85"/><circle cx="689.7" cy="257.7" r="3.85"/><circle cx="621.8" cy="273.7" r="3.85"/><circle cx="699.4" cy="303.1" r="3.85"/><circle cx="667.6" cy="295.3" r="3.85"/><circle cx="596.5" cy="325.6" r="3.85"/><circle cx="688.4" cy="310.7" r="3.85"/><circle cx="735" cy="261.3" r="3.85"/><circle cx="578.1" cy="378.6" r="3.85"/><circle cx="608.9" cy="359.3" r="3.85"/><circle cx="624" cy="330.7" r="3.85"/><circle cx="660" cy="297" r="3.85"/><circle cx="661.4" cy="324.5" r="3.85"/><circle cx="690.7" cy="313.1" r="3.85"/><circle cx="720.9" cy="303.6" r="3.85"/><circle cx="610.8" cy="301.3" r="3.85"/><circle cx="655.4" cy="315" r="3.85"/><circle cx="754.3" cy="273.4" r="3.85"/><circle cx="658.9" cy="307.6" r="3.85"/><circle cx="681.4" cy="261.7" r="3.85"/><circle cx="675.5" cy="270.6" r="3.85"/><circle cx="666.7" cy="261.6" r="3.85"/><circle cx="602.7" cy="303.4" r="3.85"/><circle cx="650.2" cy="258.7" r="3.85"/><circle cx="682.1" cy="295.2" r="3.85"/><circle cx="582.1" cy="346.3" r="3.85"/><circle cx="643.9" cy="284" r="3.85"/><circle cx="698.1" cy="311.6" r="3.85"/><circle cx="580.9" cy="305.9" r="3.85"/><circle cx="646.3" cy="308.7" r="3.85"/><circle cx="629.7" cy="308.5" r="3.85"/><circle cx="578" cy="348.5" r="3.85"/><circle cx="690" cy="259.7" r="3.85"/><circle cx="600.2" cy="308.5" r="3.85"/><circle cx="635.1" cy="267.6" r="3.85"/><circle cx="609.2" cy="330.1" r="3.85"/><circle cx="634" cy="284.4" r="3.85"/><circle cx="582.7" cy="343.8" r="3.85"/><circle cx="693.7" cy="292.9" r="3.85"/><circle cx="741.2" cy="318.6" r="3.85"/><circle cx="685.3" cy="301.7" r="3.85"/><circle cx="616.4" cy="285.6" r="3.85"/><circle cx="603.6" cy="264.8" r="3.85"/><circle cx="713.2" cy="257.2" r="3.85"/>
</g>
<line x1="575.9" y1="315.9" x2="759" y2="254.6" stroke="#222" stroke-width="1.0"/>
<rect x="561.1" y="238.3" width="209.8" height="167.8" fill="none" stroke="#3c3c3c" stroke-width="1.2"/>
<text x="555.9" y="409.7" font-size="10" text-anchor="end">0.0</text>
<text x="555.9" y="379.1" font-size="10" text-anchor="end">0.2</text>
<text x="555.9" y="348.5" font-size="10" text-anchor="end">0.4</text>
<text x="555.9" y="317.9" font-size="10" text-anchor="end">0.6</text>
<text x="555.9" y="287.3" font-size="10" text-anchor="end">0.8</text>
<text x="555.9" y="256.7" font-size="10" text-anchor="end">1.0</text>
<path d="M557.7 406.3h3.4M557.7 375.7h3.4M557.7 345.1h3.4M557.7 314.5h3.4M557.7 283.9h3.4M557.7 253.3h3.4M559.1 391h2M559.1 360.4h2M559.1 329.8h2M559.1 299.2h2M559.1 268.6h2" stroke="#3c3c3c" stroke-width="1.1" fill="none"/>
<text x="571.7" y="419.7" font-size="10" text-anchor="middle">0</text>
<text x="611.5" y="419.7" font-size="10" text-anchor="middle">2</text>
<text x="651.3" y="419.7" font-size="10" text-anchor="middle">4</text>
<text x="691.1" y="419.7" font-size="10" text-anchor="middle">6</text>
<text x="730.9" y="419.7" font-size="10" text-anchor="middle">8</text>
<text x="770.7" y="419.7" font-size="10" text-anchor="middle">10</text>
<path d="M571.7 406.1v3.4M611.5 406.1v3.4M651.3 406.1v3.4M691.1 406.1v3.4M730.9 406.1v3.4M770.7 406.1v3.4M591.6 406.1v2M631.4 406.1v2M671.2 406.1v2M711 406.1v2M750.8 406.1v2" stroke="#3c3c3c" stroke-width="1.1" fill="none"/>
<text x="666.3" y="433.5" font-size="11.8" text-anchor="middle">Environmental distance</text>
<text x="536.4" y="321.7" font-size="11.8" text-anchor="middle" transform="rotate(-90 536.4 321.7)">Viral community dissimilarity</text>
<text x="528.2" y="242" font-size="14.5" text-anchor="start">h</text>
<text x="667.2" y="398.1" font-size="11.8" text-anchor="middle">CS: <tspan font-style="italic">r</tspan> = 0.437**</text>
</g>
<g id="panel-i">
<g fill="#336699" stroke="#fff" stroke-width="0.9">
<circle cx="633.8" cy="479" r="3.85"/><circle cx="661.4" cy="473.9" r="3.85"/><circle cx="738.1" cy="506.9" r="3.85"/><circle cx="601.1" cy="479.1" r="3.85"/><circle cx="696.6" cy="524.8" r="3.85"/><circle cx="576.8" cy="525.7" r="3.85"/><circle cx="633.7" cy="539.8" r="3.85"/><circle cx="619.7" cy="518.5" r="3.85"/><circle cx="614" cy="510.2" r="3.85"/><circle cx="576.4" cy="555.7" r="3.85"/><circle cx="642.4" cy="540.7" r="3.85"/><circle cx="658.4" cy="524.9" r="3.85"/><circle cx="611.1" cy="534.5" r="3.85"/><circle cx="625.5" cy="524.9" r="3.85"/><circle cx="576.9" cy="515.9" r="3.85"/><circle cx="684.3" cy="490.4" r="3.85"/><circle cx="651.5" cy="508.1" r="3.85"/><circle cx="684.6" cy="492.1" r="3.85"/><circle cx="710.3" cy="480.7" r="3.85"/><circle cx="605.3" cy="554.9" r="3.85"/><circle cx="706" cy="504.9" r="3.85"/><circle cx="576.7" cy="515.9" r="3.85"/><circle cx="619.7" cy="491.5" r="3.85"/><circle cx="658.3" cy="517.3" r="3.85"/><circle cx="576.6" cy="597.3" r="3.85"/><circle cx="619.7" cy="512.7" r="3.85"/><circle cx="633.6" cy="499.6" r="3.85"/><circle cx="576.7" cy="561.7" r="3.85"/><circle cx="630" cy="536.2" r="3.85"/><circle cx="619.5" cy="506" r="3.85"/><circle cx="637.7" cy="533.7" r="3.85"/><circle cx="696.7" cy="474.3" r="3.85"/><circle cx="581.2" cy="480.2" r="3.85"/><circle cx="676.6" cy="511.3" r="3.85"/><circle cx="585.3" cy="516.7" r="3.85"/><circle cx="676.8" cy="486.2" r="3.85"/><circle cx="614" cy="546.7" r="3.85"/><circle cx="595.7" cy="510" r="3.85"/><circle cx="653.9" cy="480.5" r="3.85"/><circle cx="670.9" cy="537.6" r="3.85"/><circle cx="654.3" cy="479" r="3.85"/><circle cx="637.9" cy="543.5" r="3.85"/><circle cx="625.3" cy="483.2" r="3.85"/><circle cx="576.4" cy="547.7" r="3.85"/><circle cx="666.3" cy="498.3" r="3.85"/><circle cx="614.1" cy="469.2" r="3.85"/><circle cx="730.6" cy="492.4" r="3.85"/><circle cx="658.2" cy="512.1" r="3.85"/><circle cx="730.9" cy="489.2" r="3.85"/><circle cx="637.8" cy="536.7" r="3.85"/><circle cx="633.6" cy="518.7" r="3.85"/><circle cx="642.2" cy="527.7" r="3.85"/><circle cx="576.4" cy="532" r="3.85"/><circle cx="595.6" cy="476.8" r="3.85"/><circle cx="601.2" cy="487.2" r="3.85"/><circle cx="619.4" cy="517.3" r="3.85"/><circle cx="661.6" cy="486.1" r="3.85"/><circle cx="585.3" cy="495.8" r="3.85"/><circle cx="637.8" cy="508.8" r="3.85"/><circle cx="684.5" cy="528.4" r="3.85"/><circle cx="730.9" cy="484.3" r="3.85"/><circle cx="646.7" cy="527.8" r="3.85"/><circle cx="590" cy="511.6" r="3.85"/><circle cx="658.1" cy="505.3" r="3.85"/><circle cx="581.5" cy="535.8" r="3.85"/><circle cx="581.2" cy="532.1" r="3.85"/><circle cx="581.3" cy="489.2" r="3.85"/><circle cx="585.1" cy="503" r="3.85"/><circle cx="610.9" cy="516" r="3.85"/><circle cx="590.4" cy="567.7" r="3.85"/><circle cx="605.4" cy="545.9" r="3.85"/><circle cx="625.4" cy="548.1" r="3.85"/><circle cx="701.1" cy="487.5" r="3.85"/><circle cx="654.2" cy="497.5" r="3.85"/><circle cx="658.2" cy="477.2" r="3.85"/><circle cx="658.2" cy="508.2" r="3.85"/><circle cx="721.4" cy="490.6" r="3.85"/><circle cx="619.4" cy="510.8" r="3.85"/><circle cx="689.3" cy="519.5" r="3.85"/><circle cx="576.5" cy="508.1" r="3.85"/><circle cx="742.2" cy="490.3" r="3.85"/><circle cx="581.3" cy="500.5" r="3.85"/><circle cx="629.6" cy="522.8" r="3.85"/><circle cx="638.1" cy="472.9" r="3.85"/><circle cx="605.2" cy="481.6" r="3.85"/><circle cx="684.7" cy="476.2" r="3.85"/><circle cx="611.1" cy="539.1" r="3.85"/><circle cx="610.7" cy="499.2" r="3.85"/><circle cx="651.5" cy="470.3" r="3.85"/><circle cx="625.2" cy="471.4" r="3.85"/><circle cx="614.1" cy="508.1" r="3.85"/><circle cx="689.4" cy="485" r="3.85"/><circle cx="610.8" cy="504.8" r="3.85"/><circle cx="590.2" cy="497.4" r="3.85"/><circle cx="619.3" cy="526.4" r="3.85"/><circle cx="637.9" cy="484.8" r="3.85"/><circle cx="705.9" cy="474.1" r="3.85"/><circle cx="654.1" cy="491.6" r="3.85"/><circle cx="605.1" cy="485.8" r="3.85"/><circle cx="595.2" cy="493.5" r="3.85"/><circle cx="710.3" cy="472.8" r="3.85"/><circle cx="661.5" cy="512.7" r="3.85"/><circle cx="605.3" cy="533.3" r="3.85"/><circle cx="658.1" cy="490.1" r="3.85"/><circle cx="676.7" cy="469.3" r="3.85"/><circle cx="638.2" cy="488.7" r="3.85"/><circle cx="710.7" cy="485.8" r="3.85"/><circle cx="625.6" cy="501.9" r="3.85"/><circle cx="676.9" cy="500.8" r="3.85"/><circle cx="689.4" cy="493.6" r="3.85"/><circle cx="610.7" cy="502.6" r="3.85"/><circle cx="614.2" cy="505.7" r="3.85"/><circle cx="689.4" cy="505.5" r="3.85"/><circle cx="684.7" cy="482.9" r="3.85"/><circle cx="633.5" cy="484.1" r="3.85"/><circle cx="590" cy="562.2" r="3.85"/><circle cx="605.4" cy="493.4" r="3.85"/><circle cx="581.5" cy="526.2" r="3.85"/><circle cx="665.8" cy="493.4" r="3.85"/><circle cx="625.2" cy="488.2" r="3.85"/><circle cx="684.5" cy="532.3" r="3.85"/><circle cx="658.2" cy="469" r="3.85"/><circle cx="605" cy="509.8" r="3.85"/><circle cx="730.7" cy="499.1" r="3.85"/><circle cx="625.5" cy="492.1" r="3.85"/><circle cx="601.4" cy="499.8" r="3.85"/><circle cx="721.3" cy="493.5" r="3.85"/><circle cx="590" cy="494.8" r="3.85"/><circle cx="589.9" cy="477.7" r="3.85"/><circle cx="576.6" cy="526" r="3.85"/><circle cx="654" cy="476.9" r="3.85"/><circle cx="605.3" cy="520.5" r="3.85"/><circle cx="696.6" cy="521.5" r="3.85"/><circle cx="613.9" cy="553.5" r="3.85"/><circle cx="661.6" cy="522.9" r="3.85"/><circle cx="696.5" cy="471.9" r="3.85"/><circle cx="637.8" cy="525.3" r="3.85"/><circle cx="585.2" cy="552.1" r="3.85"/><circle cx="614.1" cy="499.3" r="3.85"/><circle cx="689.2" cy="525.6" r="3.85"/><circle cx="585.1" cy="545.6" r="3.85"/><circle cx="604.9" cy="489.1" r="3.85"/><circle cx="629.8" cy="528.1" r="3.85"/><circle cx="595.5" cy="523.5" r="3.85"/><circle cx="710.4" cy="493.7" r="3.85"/><circle cx="610.6" cy="511" r="3.85"/><circle cx="585.5" cy="482.9" r="3.85"/><circle cx="647" cy="509.3" r="3.85"/><circle cx="651.1" cy="484.4" r="3.85"/><circle cx="630" cy="544.9" r="3.85"/><circle cx="625.4" cy="473.8" r="3.85"/><circle cx="666" cy="485.7" r="3.85"/><circle cx="670.6" cy="518.6" r="3.85"/><circle cx="590" cy="502.2" r="3.85"/><circle cx="576.6" cy="554.4" r="3.85"/><circle cx="676.9" cy="535" r="3.85"/><circle cx="576.5" cy="513.5" r="3.85"/><circle cx="666.2" cy="534.3" r="3.85"/><circle cx="605" cy="472.3" r="3.85"/><circle cx="629.6" cy="478.3" r="3.85"/><circle cx="601.1" cy="497.6" r="3.85"/><circle cx="670.7" cy="503.9" r="3.85"/><circle cx="715.9" cy="486.1" r="3.85"/><circle cx="610.9" cy="545.4" r="3.85"/><circle cx="726.6" cy="501.3" r="3.85"/><circle cx="705.8" cy="492.1" r="3.85"/><circle cx="654.3" cy="535.3" r="3.85"/><circle cx="629.9" cy="468.5" r="3.85"/><circle cx="731" cy="505.7" r="3.85"/><circle cx="605" cy="516.3" r="3.85"/><circle cx="576.9" cy="594.1" r="3.85"/><circle cx="661.7" cy="540.9" r="3.85"/><circle cx="633.7" cy="538.6" r="3.85"/><circle cx="576.9" cy="508.3" r="3.85"/><circle cx="601.1" cy="468.8" r="3.85"/><circle cx="590.4" cy="524.6" r="3.85"/><circle cx="619.7" cy="487.1" r="3.85"/><circle cx="595.2" cy="557.7" r="3.85"/><circle cx="633.6" cy="493.3" r="3.85"/><circle cx="610.8" cy="474.7" r="3.85"/><circle cx="651.2" cy="517.6" r="3.85"/><circle cx="705.8" cy="499.4" r="3.85"/><circle cx="595.5" cy="550.3" r="3.85"/><circle cx="633.8" cy="470.7" r="3.85"/><circle cx="700.9" cy="482.8" r="3.85"/><circle cx="715.9" cy="477.2" r="3.85"/><circle cx="576.9" cy="573.4" r="3.85"/><circle cx="614" cy="551.2" r="3.85"/><circle cx="666" cy="515.4" r="3.85"/><circle cx="661.5" cy="471.6" r="3.85"/><circle cx="604.9" cy="500.4" r="3.85"/><circle cx="696.6" cy="489.4" r="3.85"/><circle cx="701.4" cy="518.5" r="3.85"/><circle cx="576.9" cy="597.3" r="3.85"/><circle cx="576.4" cy="535.4" r="3.85"/><circle cx="705.9" cy="490" r="3.85"/><circle cx="642.2" cy="520.4" r="3.85"/><circle cx="585.6" cy="514.3" r="3.85"/><circle cx="605.1" cy="487.3" r="3.85"/><circle cx="601.5" cy="490" r="3.85"/><circle cx="629.9" cy="517" r="3.85"/><circle cx="653.8" cy="471.1" r="3.85"/><circle cx="651.3" cy="528.4" r="3.85"/><circle cx="661.5" cy="493.9" r="3.85"/><circle cx="633.5" cy="475.8" r="3.85"/><circle cx="684.5" cy="516.9" r="3.85"/><circle cx="629.8" cy="530.5" r="3.85"/><circle cx="721.1" cy="492.1" r="3.85"/><circle cx="661.5" cy="475.3" r="3.85"/><circle cx="684.6" cy="493.5" r="3.85"/><circle cx="654.2" cy="529.1" r="3.85"/><circle cx="614" cy="504" r="3.85"/><circle cx="658" cy="530.3" r="3.85"/><circle cx="590.2" cy="517.7" r="3.85"/><circle cx="658" cy="521.8" r="3.85"/><circle cx="661.3" cy="480.5" r="3.85"/><circle cx="666" cy="506.7" r="3.85"/><circle cx="625.4" cy="475.9" r="3.85"/><circle cx="637.8" cy="501.6" r="3.85"/><circle cx="595.4" cy="520.2" r="3.85"/><circle cx="595.7" cy="507.3" r="3.85"/><circle cx="633.6" cy="520.7" r="3.85"/><circle cx="614.2" cy="496.7" r="3.85"/><circle cx="726.7" cy="477.2" r="3.85"/><circle cx="705.7" cy="514.6" r="3.85"/><circle cx="721.4" cy="487" r="3.85"/><circle cx="651.3" cy="488.5" r="3.85"/><circle cx="630" cy="498.3" r="3.85"/><circle cx="721.3" cy="482.5" r="3.85"/><circle cx="581.5" cy="482.9" r="3.85"/><circle cx="601" cy="516.2" r="3.85"/><circle cx="633.6" cy="523" r="3.85"/><circle cx="576.8" cy="587.1" r="3.85"/><circle cx="661.2" cy="488.6" r="3.85"/><circle cx="629.6" cy="471.7" r="3.85"/><circle cx="654" cy="513.6" r="3.85"/><circle cx="670.7" cy="470.7" r="3.85"/><circle cx="576.6" cy="530.3" r="3.85"/><circle cx="638.1" cy="529.8" r="3.85"/><circle cx="661.2" cy="503.5" r="3.85"/><circle cx="655.5" cy="556.7" r="3.85"/><circle cx="658.1" cy="488.3" r="3.85"/><circle cx="721.3" cy="473.7" r="3.85"/><circle cx="701.1" cy="523.7" r="3.85"/><circle cx="581.3" cy="543.9" r="3.85"/><circle cx="576.6" cy="581.7" r="3.85"/><circle cx="619.5" cy="550.7" r="3.85"/><circle cx="651.3" cy="476.1" r="3.85"/><circle cx="585.1" cy="475.3" r="3.85"/><circle cx="666.3" cy="478.8" r="3.85"/><circle cx="684.2" cy="474.6" r="3.85"/><circle cx="601.4" cy="547" r="3.85"/><circle cx="654.3" cy="538.6" r="3.85"/><circle cx="638.2" cy="531.9" r="3.85"/><circle cx="676.9" cy="494.8" r="3.85"/><circle cx="710.3" cy="505.2" r="3.85"/><circle cx="638" cy="502.7" r="3.85"/><circle cx="595.7" cy="543.4" r="3.85"/><circle cx="581.3" cy="495.5" r="3.85"/><circle cx="605.2" cy="473.8" r="3.85"/><circle cx="642.5" cy="531" r="3.85"/><circle cx="710.6" cy="501.1" r="3.85"/><circle cx="637.8" cy="496.5" r="3.85"/><circle cx="576.8" cy="523.9" r="3.85"/><circle cx="629.5" cy="524.9" r="3.85"/><circle cx="749.7" cy="497.1" r="3.85"/><circle cx="605.1" cy="504.4" r="3.85"/><circle cx="629.8" cy="482.3" r="3.85"/><circle cx="625.3" cy="550.7" r="3.85"/><circle cx="595.3" cy="563.5" r="3.85"/><circle cx="629.6" cy="491.9" r="3.85"/><circle cx="738.1" cy="495.4" r="3.85"/><circle cx="625.6" cy="533.6" r="3.85"/><circle cx="595.7" cy="551.9" r="3.85"/><circle cx="629.8" cy="494.5" r="3.85"/><circle cx="646.6" cy="507.9" r="3.85"/><circle cx="670.6" cy="489.2" r="3.85"/><circle cx="614" cy="550" r="3.85"/><circle cx="654.1" cy="516.5" r="3.85"/><circle cx="637.9" cy="527.6" r="3.85"/><circle cx="576.3" cy="553.2" r="3.85"/><circle cx="671.1" cy="526.2" r="3.85"/><circle cx="619.8" cy="530" r="3.85"/><circle cx="611.1" cy="536.4" r="3.85"/><circle cx="676.7" cy="497.9" r="3.85"/><circle cx="576.3" cy="549.6" r="3.85"/><circle cx="633.7" cy="504.8" r="3.85"/><circle cx="676.9" cy="503.6" r="3.85"/><circle cx="749.7" cy="496.3" r="3.85"/><circle cx="619.6" cy="521.6" r="3.85"/><circle cx="637.9" cy="538.7" r="3.85"/><circle cx="670.7" cy="476.4" r="3.85"/><circle cx="661.3" cy="516" r="3.85"/><circle cx="590" cy="475.2" r="3.85"/><circle cx="658.3" cy="504.1" r="3.85"/><circle cx="665.9" cy="496.3" r="3.85"/><circle cx="670.9" cy="495.4" r="3.85"/><circle cx="658.1" cy="487" r="3.85"/><circle cx="610.7" cy="493.4" r="3.85"/><circle cx="576.4" cy="510.2" r="3.85"/><circle cx="677" cy="481.7" r="3.85"/><circle cx="619.4" cy="500.3" r="3.85"/><circle cx="670.7" cy="499.3" r="3.85"/><circle cx="605.4" cy="480.2" r="3.85"/><circle cx="629.8" cy="556" r="3.85"/><circle cx="619.5" cy="514.8" r="3.85"/><circle cx="661.4" cy="491.9" r="3.85"/><circle cx="576.5" cy="564.2" r="3.85"/><circle cx="619.5" cy="523.9" r="3.85"/><circle cx="670.6" cy="514.7" r="3.85"/><circle cx="633.5" cy="529.6" r="3.85"/><circle cx="585.2" cy="489.8" r="3.85"/><circle cx="682.8" cy="558.6" r="3.85"/><circle cx="576.4" cy="569" r="3.85"/><circle cx="633.6" cy="534" r="3.85"/><circle cx="576.7" cy="543.6" r="3.85"/><circle cx="684.3" cy="466.7" r="3.85"/><circle cx="647" cy="532.2" r="3.85"/><circle cx="585.5" cy="520.7" r="3.85"/><circle cx="701.2" cy="520.8" r="3.85"/><circle cx="715.6" cy="470.4" r="3.85"/><circle cx="576.7" cy="558.5" r="3.85"/><circle cx="633.5" cy="485.3" r="3.85"/><circle cx="604.9" cy="483.6" r="3.85"/><circle cx="646.9" cy="525.4" r="3.85"/><circle cx="576.6" cy="552.2" r="3.85"/><circle cx="670.6" cy="488" r="3.85"/><circle cx="614.4" cy="500.6" r="3.85"/><circle cx="601.5" cy="539.2" r="3.85"/><circle cx="610.8" cy="531.5" r="3.85"/><circle cx="605.4" cy="552.4" r="3.85"/><circle cx="654" cy="537.2" r="3.85"/><circle cx="661.4" cy="509.7" r="3.85"/><circle cx="676.8" cy="538" r="3.85"/><circle cx="715.6" cy="495.9" r="3.85"/><circle cx="670.9" cy="523.1" r="3.85"/><circle cx="633.4" cy="488.8" r="3.85"/><circle cx="601.1" cy="503" r="3.85"/><circle cx="619.8" cy="469.6" r="3.85"/><circle cx="642.4" cy="522.3" r="3.85"/><circle cx="610.9" cy="482.7" r="3.85"/><circle cx="625.4" cy="490.7" r="3.85"/><circle cx="651.3" cy="534.9" r="3.85"/><circle cx="638.1" cy="474.6" r="3.85"/><circle cx="576.6" cy="558" r="3.85"/><circle cx="701.2" cy="526.4" r="3.85"/><circle cx="576.5" cy="567.8" r="3.85"/><circle cx="651.4" cy="536.5" r="3.85"/><circle cx="581.6" cy="486.4" r="3.85"/><circle cx="576.9" cy="530.4" r="3.85"/><circle cx="658.1" cy="485.3" r="3.85"/><circle cx="601.3" cy="548.5" r="3.85"/><circle cx="661.5" cy="499.2" r="3.85"/><circle cx="666.3" cy="491.1" r="3.85"/><circle cx="696.7" cy="518" r="3.85"/><circle cx="721.2" cy="488.1" r="3.85"/><circle cx="684.5" cy="529.6" r="3.85"/><circle cx="601.5" cy="481.5" r="3.85"/><circle cx="629.7" cy="540.3" r="3.85"/><circle cx="595.7" cy="547.8" r="3.85"/><circle cx="661.5" cy="534.3" r="3.85"/><circle cx="576.7" cy="590.3" r="3.85"/><circle cx="610.6" cy="552.9" r="3.85"/><circle cx="651.5" cy="525" r="3.85"/><circle cx="610.6" cy="525.3" r="3.85"/><circle cx="742.7" cy="497.6" r="3.85"/><circle cx="629.7" cy="547.9" r="3.85"/><circle cx="661.3" cy="531.4" r="3.85"/><circle cx="633.4" cy="509" r="3.85"/><circle cx="605" cy="528.5" r="3.85"/><circle cx="710.7" cy="508.6" r="3.85"/><circle cx="619.6" cy="531.9" r="3.85"/><circle cx="684.4" cy="524.6" r="3.85"/><circle cx="676.8" cy="533.1" r="3.85"/><circle cx="625.2" cy="540.1" r="3.85"/><circle cx="642.6" cy="543" r="3.85"/><circle cx="661.5" cy="537.6" r="3.85"/><circle cx="625.5" cy="479.3" r="3.85"/><circle cx="585.2" cy="507.9" r="3.85"/><circle cx="633.4" cy="495.6" r="3.85"/><circle cx="651.5" cy="538.2" r="3.85"/><circle cx="601.1" cy="495" r="3.85"/><circle cx="646.7" cy="502.6" r="3.85"/><circle cx="601.1" cy="509.1" r="3.85"/><circle cx="696.4" cy="487.4" r="3.85"/><circle cx="642.3" cy="486.7" r="3.85"/><circle cx="730.9" cy="501.1" r="3.85"/><circle cx="682.8" cy="563.8" r="3.85"/><circle cx="619.7" cy="536.7" r="3.85"/><circle cx="605.4" cy="543.9" r="3.85"/><circle cx="576.7" cy="588.2" r="3.85"/><circle cx="726.3" cy="493" r="3.85"/><circle cx="666.2" cy="470.8" r="3.85"/><circle cx="661.7" cy="505.2" r="3.85"/><circle cx="625.1" cy="515.3" r="3.85"/><circle cx="710.6" cy="511.1" r="3.85"/><circle cx="581.6" cy="516.8" r="3.85"/><circle cx="710.3" cy="490.3" r="3.85"/><circle cx="581.2" cy="509.6" r="3.85"/><circle cx="585.5" cy="506.3" r="3.85"/><circle cx="601.2" cy="542.5" r="3.85"/><circle cx="601.1" cy="474.2" r="3.85"/><circle cx="605" cy="507" r="3.85"/><circle cx="658.3" cy="471.4" r="3.85"/><circle cx="642.2" cy="489.9" r="3.85"/><circle cx="676.9" cy="489.5" r="3.85"/><circle cx="601.1" cy="482.9" r="3.85"/><circle cx="726.4" cy="473.9" r="3.85"/><circle cx="581.1" cy="503.6" r="3.85"/><circle cx="661.2" cy="525.4" r="3.85"/><circle cx="625.4" cy="485.5" r="3.85"/><circle cx="590.3" cy="544.8" r="3.85"/><circle cx="671" cy="529.4" r="3.85"/><circle cx="576.6" cy="537.4" r="3.85"/><circle cx="590.2" cy="508.8" r="3.85"/><circle cx="601.5" cy="472.8" r="3.85"/><circle cx="701" cy="470.8" r="3.85"/><circle cx="576.8" cy="583.7" r="3.85"/><circle cx="585.6" cy="498.4" r="3.85"/><circle cx="666" cy="501.5" r="3.85"/><circle cx="671" cy="534.2" r="3.85"/><circle cx="625.1" cy="523.6" r="3.85"/><circle cx="646.6" cy="487.8" r="3.85"/><circle cx="585.4" cy="478.2" r="3.85"/><circle cx="576.6" cy="599.9" r="3.85"/><circle cx="670.8" cy="497.4" r="3.85"/><circle cx="625.4" cy="477.5" r="3.85"/><circle cx="705.8" cy="475.5" r="3.85"/><circle cx="581.5" cy="528.3" r="3.85"/><circle cx="576.4" cy="573.2" r="3.85"/><circle cx="629.8" cy="553.7" r="3.85"/><circle cx="576.8" cy="561.8" r="3.85"/><circle cx="585.3" cy="538.1" r="3.85"/><circle cx="637.7" cy="503.9" r="3.85"/><circle cx="614" cy="479.5" r="3.85"/><circle cx="666.3" cy="504.7" r="3.85"/><circle cx="646.7" cy="518.6" r="3.85"/><circle cx="689.3" cy="517.3" r="3.85"/><circle cx="696.5" cy="477" r="3.85"/><circle cx="605.2" cy="551.2" r="3.85"/><circle cx="619.6" cy="538.3" r="3.85"/><circle cx="619.6" cy="546.4" r="3.85"/><circle cx="710.8" cy="515.2" r="3.85"/><circle cx="677" cy="516.8" r="3.85"/><circle cx="629.5" cy="509.2" r="3.85"/><circle cx="684.6" cy="481.1" r="3.85"/><circle cx="610.8" cy="528.3" r="3.85"/><circle cx="625.1" cy="507.7" r="3.85"/><circle cx="721.3" cy="476.4" r="3.85"/><circle cx="595.6" cy="540.7" r="3.85"/><circle cx="684.2" cy="471.3" r="3.85"/><circle cx="726.6" cy="503" r="3.85"/><circle cx="638.1" cy="546.4" r="3.85"/><circle cx="665.9" cy="482" r="3.85"/><circle cx="601.2" cy="536.2" r="3.85"/><circle cx="653.9" cy="487.9" r="3.85"/><circle cx="633.5" cy="501.8" r="3.85"/><circle cx="605.3" cy="529.9" r="3.85"/><circle cx="585.6" cy="530.3" r="3.85"/><circle cx="610.9" cy="479.7" r="3.85"/><circle cx="576.7" cy="571.8" r="3.85"/><circle cx="629.6" cy="480.2" r="3.85"/><circle cx="601.5" cy="504.5" r="3.85"/><circle cx="676.8" cy="472.6" r="3.85"/><circle cx="642.3" cy="502.9" r="3.85"/><circle cx="611" cy="470.9" r="3.85"/><circle cx="721.3" cy="499.8" r="3.85"/><circle cx="595.7" cy="470.4" r="3.85"/><circle cx="670.8" cy="494.2" r="3.85"/><circle cx="689.2" cy="527.7" r="3.85"/><circle cx="730.9" cy="502.6" r="3.85"/><circle cx="614.3" cy="517.9" r="3.85"/><circle cx="576.7" cy="565.8" r="3.85"/><circle cx="646.8" cy="539.4" r="3.85"/><circle cx="646.9" cy="517.1" r="3.85"/><circle cx="614.3" cy="483.3" r="3.85"/><circle cx="642.2" cy="483.7" r="3.85"/><circle cx="633.5" cy="515.1" r="3.85"/><circle cx="585.4" cy="494.1" r="3.85"/><circle cx="585.3" cy="501.4" r="3.85"/><circle cx="576.7" cy="570" r="3.85"/><circle cx="611" cy="507.9" r="3.85"/><circle cx="629.7" cy="519.7" r="3.85"/><circle cx="633.7" cy="506.3" r="3.85"/><circle cx="610.9" cy="513.8" r="3.85"/><circle cx="696.5" cy="498.7" r="3.85"/><circle cx="705.7" cy="477.7" r="3.85"/><circle cx="706" cy="512" r="3.85"/><circle cx="665.9" cy="531.6" r="3.85"/><circle cx="666.2" cy="474.1" r="3.85"/><circle cx="637.9" cy="492" r="3.85"/><circle cx="670.9" cy="524.7" r="3.85"/><circle cx="625.3" cy="510.3" r="3.85"/><circle cx="705.7" cy="472" r="3.85"/><circle cx="576.4" cy="571.8" r="3.85"/><circle cx="638.2" cy="510.9" r="3.85"/><circle cx="705.7" cy="500.9" r="3.85"/><circle cx="647" cy="506.5" r="3.85"/><circle cx="701.1" cy="484.8" r="3.85"/><circle cx="629.6" cy="532.9" r="3.85"/><circle cx="646.9" cy="483.6" r="3.85"/><circle cx="737.9" cy="505.7" r="3.85"/><circle cx="651.5" cy="501.8" r="3.85"/><circle cx="637.9" cy="540.8" r="3.85"/><circle cx="595.3" cy="500.8" r="3.85"/><circle cx="696.4" cy="478.4" r="3.85"/><circle cx="653.9" cy="474.3" r="3.85"/><circle cx="629.6" cy="488.8" r="3.85"/><circle cx="651.6" cy="511.1" r="3.85"/><circle cx="689.3" cy="520.9" r="3.85"/><circle cx="684.4" cy="537.3" r="3.85"/><circle cx="625.3" cy="544" r="3.85"/><circle cx="676.8" cy="527.4" r="3.85"/><circle cx="721.4" cy="469.1" r="3.85"/><circle cx="710.7" cy="496.8" r="3.85"/><circle cx="625.3" cy="512.2" r="3.85"/><circle cx="630" cy="512.4" r="3.85"/><circle cx="684.7" cy="500.5" r="3.85"/><circle cx="576.7" cy="568.4" r="3.85"/><circle cx="601.1" cy="521.1" r="3.85"/><circle cx="633.6" cy="525.9" r="3.85"/><circle cx="689.3" cy="514" r="3.85"/><circle cx="715.5" cy="482" r="3.85"/><circle cx="633.5" cy="512.3" r="3.85"/><circle cx="684.5" cy="496.2" r="3.85"/><circle cx="576.7" cy="586.9" r="3.85"/><circle cx="619.6" cy="544" r="3.85"/><circle cx="595.3" cy="546.2" r="3.85"/><circle cx="696.5" cy="491.8" r="3.85"/><circle cx="601.6" cy="551.3" r="3.85"/><circle cx="721.3" cy="484.9" r="3.85"/><circle cx="651.3" cy="522.4" r="3.85"/><circle cx="601.3" cy="493" r="3.85"/><circle cx="576.9" cy="521.1" r="3.85"/><circle cx="710.3" cy="475.8" r="3.85"/><circle cx="633.7" cy="467.6" r="3.85"/><circle cx="684.7" cy="534.9" r="3.85"/><circle cx="633.7" cy="532.5" r="3.85"/><circle cx="642.5" cy="492.8" r="3.85"/><circle cx="676.7" cy="479.5" r="3.85"/><circle cx="726.2" cy="470.9" r="3.85"/><circle cx="647" cy="520.5" r="3.85"/><circle cx="619.8" cy="496.1" r="3.85"/><circle cx="630.1" cy="501.1" r="3.85"/><circle cx="705.6" cy="496.6" r="3.85"/><circle cx="581.4" cy="523.6" r="3.85"/><circle cx="642.3" cy="498.2" r="3.85"/><circle cx="696.7" cy="519.7" r="3.85"/><circle cx="595.5" cy="515" r="3.85"/><circle cx="605" cy="469.4" r="3.85"/><circle cx="710.7" cy="487.4" r="3.85"/><circle cx="595.6" cy="502.8" r="3.85"/><circle cx="642.1" cy="495.9" r="3.85"/><circle cx="576.9" cy="587.3" r="3.85"/><circle cx="625.4" cy="529.6" r="3.85"/><circle cx="576.5" cy="549.7" r="3.85"/><circle cx="705.9" cy="487.4" r="3.85"/><circle cx="576.7" cy="562.8" r="3.85"/><circle cx="605.2" cy="477.8" r="3.85"/><circle cx="696.7" cy="497.2" r="3.85"/><circle cx="576.6" cy="597.6" r="3.85"/><circle cx="576.7" cy="557.3" r="3.85"/><circle cx="684.4" cy="473" r="3.85"/><circle cx="581.4" cy="540" r="3.85"/><circle cx="590" cy="530.5" r="3.85"/><circle cx="710.6" cy="498.9" r="3.85"/><circle cx="581.4" cy="548.2" r="3.85"/><circle cx="576.8" cy="587.9" r="3.85"/><circle cx="619.6" cy="484.3" r="3.85"/><circle cx="689.4" cy="468" r="3.85"/><circle cx="651.5" cy="496.9" r="3.85"/><circle cx="625.6" cy="521.7" r="3.85"/><circle cx="601.4" cy="510.8" r="3.85"/><circle cx="585.5" cy="472.3" r="3.85"/><circle cx="605.2" cy="491.9" r="3.85"/><circle cx="726.4" cy="498.4" r="3.85"/><circle cx="700.9" cy="519.6" r="3.85"/><circle cx="721.2" cy="477.9" r="3.85"/><circle cx="705.7" cy="506.2" r="3.85"/><circle cx="610.6" cy="473.4" r="3.85"/><circle cx="619.4" cy="501.5" r="3.85"/><circle cx="601.1" cy="484.7" r="3.85"/><circle cx="676.5" cy="530" r="3.85"/><circle cx="625.3" cy="536" r="3.85"/><circle cx="715.6" cy="493.8" r="3.85"/><circle cx="610.6" cy="509.4" r="3.85"/><circle cx="590.2" cy="539.7" r="3.85"/><circle cx="646.7" cy="530.6" r="3.85"/><circle cx="610.6" cy="554.6" r="3.85"/><circle cx="576.5" cy="561.5" r="3.85"/><circle cx="625.3" cy="538.9" r="3.85"/><circle cx="629.9" cy="537.9" r="3.85"/><circle cx="684.5" cy="486.7" r="3.85"/><circle cx="661.3" cy="521.2" r="3.85"/><circle cx="661.4" cy="483.5" r="3.85"/><circle cx="585.2" cy="513" r="3.85"/><circle cx="625.5" cy="519.4" r="3.85"/><circle cx="647" cy="492.9" r="3.85"/><circle cx="710.6" cy="502.5" r="3.85"/><circle cx="590" cy="527.5" r="3.85"/><circle cx="638.2" cy="469.6" r="3.85"/><circle cx="613.9" cy="529.7" r="3.85"/><circle cx="619.5" cy="542.6" r="3.85"/><circle cx="576.7" cy="576.7" r="3.85"/><circle cx="651.5" cy="481.1" r="3.85"/><circle cx="696.4" cy="494.3" r="3.85"/><circle cx="610.6" cy="468.7" r="3.85"/><circle cx="696.2" cy="484.9" r="3.85"/><circle cx="665.9" cy="517.3" r="3.85"/><circle cx="605.3" cy="476" r="3.85"/><circle cx="684.7" cy="523.1" r="3.85"/><circle cx="701.2" cy="511.5" r="3.85"/><circle cx="651.4" cy="485.9" r="3.85"/><circle cx="629.8" cy="476.5" r="3.85"/><circle cx="647" cy="515.2" r="3.85"/><circle cx="629.8" cy="542.9" r="3.85"/><circle cx="701.3" cy="528" r="3.85"/><circle cx="651.4" cy="498.5" r="3.85"/><circle cx="682.8" cy="548.5" r="3.85"/><circle cx="661.6" cy="528.5" r="3.85"/><circle cx="610.8" cy="542.1" r="3.85"/><circle cx="651.2" cy="504.6" r="3.85"/><circle cx="646.7" cy="473" r="3.85"/><circle cx="646.8" cy="496.4" r="3.85"/><circle cx="655.5" cy="548.5" r="3.85"/><circle cx="701.2" cy="516.1" r="3.85"/><circle cx="633.6" cy="487.2" r="3.85"/><circle cx="581.4" cy="529.9" r="3.85"/><circle cx="601.4" cy="543.7" r="3.85"/><circle cx="595.7" cy="513" r="3.85"/><circle cx="658.4" cy="479.5" r="3.85"/><circle cx="738" cy="489.1" r="3.85"/><circle cx="666.1" cy="476.4" r="3.85"/><circle cx="581.2" cy="521.1" r="3.85"/><circle cx="689.4" cy="509.2" r="3.85"/><circle cx="605.2" cy="497.1" r="3.85"/><circle cx="638.1" cy="499.2" r="3.85"/><circle cx="689.6" cy="502.3" r="3.85"/><circle cx="716" cy="506.4" r="3.85"/><circle cx="676.5" cy="514.3" r="3.85"/><circle cx="700.9" cy="472.6" r="3.85"/><circle cx="701.3" cy="478" r="3.85"/><circle cx="605.2" cy="514.2" r="3.85"/><circle cx="710.6" cy="477.7" r="3.85"/><circle cx="585.5" cy="525.3" r="3.85"/><circle cx="716" cy="497.7" r="3.85"/><circle cx="581.4" cy="478.9" r="3.85"/><circle cx="605.2" cy="525.3" r="3.85"/><circle cx="705.9" cy="509.8" r="3.85"/><circle cx="710.6" cy="518.9" r="3.85"/><circle cx="654" cy="540.1" r="3.85"/><circle cx="738" cy="498.2" r="3.85"/><circle cx="670.9" cy="521" r="3.85"/><circle cx="576.7" cy="583.5" r="3.85"/><circle cx="651.2" cy="494" r="3.85"/><circle cx="716" cy="479.3" r="3.85"/><circle cx="590" cy="471.5" r="3.85"/><circle cx="726.3" cy="505.7" r="3.85"/><circle cx="576.4" cy="516.4" r="3.85"/><circle cx="701.1" cy="474.3" r="3.85"/><circle cx="715.7" cy="492.1" r="3.85"/><circle cx="661.3" cy="468.6" r="3.85"/><circle cx="682.8" cy="544" r="3.85"/><circle cx="625.2" cy="469.8" r="3.85"/><circle cx="589.9" cy="506.5" r="3.85"/><circle cx="654.1" cy="518.1" r="3.85"/><circle cx="625.3" cy="505.6" r="3.85"/><circle cx="651.3" cy="468.3" r="3.85"/><circle cx="590.4" cy="473.8" r="3.85"/><circle cx="610.8" cy="476.7" r="3.85"/><circle cx="701" cy="509.7" r="3.85"/><circle cx="737.7" cy="503.2" r="3.85"/><circle cx="581.1" cy="512.4" r="3.85"/><circle cx="581.3" cy="534" r="3.85"/><circle cx="676.9" cy="484.7" r="3.85"/><circle cx="576.8" cy="525" r="3.85"/><circle cx="610.7" cy="488" r="3.85"/><circle cx="710.6" cy="521.6" r="3.85"/><circle cx="738.1" cy="501.3" r="3.85"/><circle cx="689.5" cy="472.5" r="3.85"/><circle cx="710.5" cy="483.6" r="3.85"/><circle cx="610.7" cy="484.9" r="3.85"/><circle cx="633.5" cy="497.5" r="3.85"/><circle cx="677" cy="476.1" r="3.85"/><circle cx="629.6" cy="487.5" r="3.85"/><circle cx="614.3" cy="484.6" r="3.85"/><circle cx="605.1" cy="505.9" r="3.85"/><circle cx="619.4" cy="540.8" r="3.85"/><circle cx="585.5" cy="547.9" r="3.85"/><circle cx="605.3" cy="523.8" r="3.85"/><circle cx="625.1" cy="493.5" r="3.85"/><circle cx="633.8" cy="490.2" r="3.85"/><circle cx="633.3" cy="469.1" r="3.85"/><circle cx="637.9" cy="487.2" r="3.85"/><circle cx="654.3" cy="489.8" r="3.85"/><circle cx="576.7" cy="597" r="3.85"/><circle cx="605.2" cy="518.1" r="3.85"/><circle cx="642.2" cy="506" r="3.85"/><circle cx="646.8" cy="534.9" r="3.85"/><circle cx="581.6" cy="518.2" r="3.85"/><circle cx="658.1" cy="474.7" r="3.85"/><circle cx="581.3" cy="497.3" r="3.85"/><circle cx="601.5" cy="515.1" r="3.85"/><circle cx="610.8" cy="548.3" r="3.85"/><circle cx="661.7" cy="477.6" r="3.85"/><circle cx="576.4" cy="540.7" r="3.85"/><circle cx="590.3" cy="491.8" r="3.85"/><circle cx="576.7" cy="583.7" r="3.85"/><circle cx="595.2" cy="484.2" r="3.85"/><circle cx="601.3" cy="470.1" r="3.85"/><circle cx="633.3" cy="516.5" r="3.85"/><circle cx="576.4" cy="521.9" r="3.85"/><circle cx="651.1" cy="473.1" r="3.85"/><circle cx="619.4" cy="549.5" r="3.85"/><circle cx="646.8" cy="485.3" r="3.85"/><circle cx="647" cy="468.9" r="3.85"/><circle cx="576.8" cy="556.6" r="3.85"/><circle cx="726.7" cy="482.2" r="3.85"/><circle cx="706.1" cy="484.9" r="3.85"/><circle cx="670.9" cy="530.9" r="3.85"/><circle cx="576.8" cy="596.4" r="3.85"/><circle cx="604.9" cy="540.7" r="3.85"/><circle cx="590.2" cy="523.1" r="3.85"/><circle cx="710.7" cy="470.8" r="3.85"/><circle cx="625.5" cy="466.7" r="3.85"/><circle cx="638" cy="506.9" r="3.85"/><circle cx="605.1" cy="534.8" r="3.85"/><circle cx="705.7" cy="482.7" r="3.85"/><circle cx="651.5" cy="533.6" r="3.85"/><circle cx="576.4" cy="542.7" r="3.85"/><circle cx="595.7" cy="490.2" r="3.85"/><circle cx="651.4" cy="526.2" r="3.85"/><circle cx="576.8" cy="555.8" r="3.85"/><circle cx="730.8" cy="486" r="3.85"/><circle cx="646.9" cy="510.6" r="3.85"/><circle cx="590.1" cy="529" r="3.85"/><circle cx="610.9" cy="490.7" r="3.85"/><circle cx="638.1" cy="480" r="3.85"/><circle cx="638" cy="483.2" r="3.85"/><circle cx="658.1" cy="498.7" r="3.85"/><circle cx="576.8" cy="522.3" r="3.85"/><circle cx="610.8" cy="520.5" r="3.85"/><circle cx="676.9" cy="519.6" r="3.85"/><circle cx="696.7" cy="515.8" r="3.85"/><circle cx="705.7" cy="470.5" r="3.85"/><circle cx="590" cy="504.3" r="3.85"/><circle cx="684.3" cy="502.9" r="3.85"/><circle cx="576.9" cy="508.4" r="3.85"/><circle cx="666" cy="514" r="3.85"/><circle cx="710.5" cy="489.1" r="3.85"/><circle cx="700.9" cy="475.9" r="3.85"/><circle cx="595.5" cy="473.7" r="3.85"/><circle cx="613.9" cy="474.4" r="3.85"/><circle cx="610.9" cy="500.4" r="3.85"/><circle cx="661.6" cy="535.5" r="3.85"/><circle cx="661.6" cy="518.6" r="3.85"/><circle cx="696.4" cy="482.3" r="3.85"/><circle cx="696.7" cy="469.3" r="3.85"/><circle cx="585.2" cy="535.1" r="3.85"/><circle cx="595.5" cy="487" r="3.85"/><circle cx="605" cy="495.4" r="3.85"/><circle cx="595.3" cy="526.9" r="3.85"/><circle cx="595.7" cy="498.4" r="3.85"/><circle cx="610.8" cy="496.2" r="3.85"/><circle cx="689.2" cy="486.4" r="3.85"/><circle cx="590.4" cy="533.7" r="3.85"/><circle cx="595.4" cy="479.3" r="3.85"/><circle cx="730.9" cy="495.2" r="3.85"/><circle cx="633.6" cy="481.8" r="3.85"/><circle cx="715.8" cy="483.7" r="3.85"/><circle cx="595.3" cy="560.3" r="3.85"/><circle cx="671" cy="492.9" r="3.85"/><circle cx="676.6" cy="492.8" r="3.85"/><circle cx="684.2" cy="488.6" r="3.85"/><circle cx="737.7" cy="493.1" r="3.85"/><circle cx="696.3" cy="479.9" r="3.85"/><circle cx="658.2" cy="472.8" r="3.85"/><circle cx="710.4" cy="479.2" r="3.85"/><circle cx="742.2" cy="487.8" r="3.85"/><circle cx="646.8" cy="537.3" r="3.85"/><circle cx="605.2" cy="512.4" r="3.85"/><circle cx="661.5" cy="481.8" r="3.85"/><circle cx="590.4" cy="489.6" r="3.85"/><circle cx="646.6" cy="471" r="3.85"/><circle cx="590.1" cy="566.4" r="3.85"/><circle cx="576.4" cy="525.3" r="3.85"/><circle cx="684.5" cy="497.4" r="3.85"/><circle cx="676.8" cy="508.2" r="3.85"/><circle cx="726.3" cy="495.1" r="3.85"/><circle cx="613.8" cy="516.2" r="3.85"/><circle cx="705.8" cy="508.4" r="3.85"/><circle cx="629.9" cy="485.4" r="3.85"/><circle cx="576.5" cy="537" r="3.85"/><circle cx="625.5" cy="526.3" r="3.85"/><circle cx="611.1" cy="559.6" r="3.85"/><circle cx="710.6" cy="513.9" r="3.85"/><circle cx="689.6" cy="475.1" r="3.85"/><circle cx="658.2" cy="514.6" r="3.85"/><circle cx="629.7" cy="550.6" r="3.85"/><circle cx="625.1" cy="516.7" r="3.85"/><circle cx="595.4" cy="480.8" r="3.85"/><circle cx="642.5" cy="500.4" r="3.85"/><circle cx="670.7" cy="473.5" r="3.85"/><circle cx="742.3" cy="492.1" r="3.85"/><circle cx="700.9" cy="513.6" r="3.85"/><circle cx="642.5" cy="517.9" r="3.85"/><circle cx="601.3" cy="519.1" r="3.85"/><circle cx="677" cy="522.2" r="3.85"/><circle cx="581.2" cy="514.6" r="3.85"/><circle cx="705.9" cy="480.1" r="3.85"/><circle cx="629.8" cy="514.7" r="3.85"/><circle cx="684.3" cy="520.1" r="3.85"/><circle cx="590.3" cy="546.2" r="3.85"/><circle cx="585.6" cy="486.9" r="3.85"/><circle cx="619.4" cy="504.8" r="3.85"/><circle cx="658.3" cy="482.2" r="3.85"/><circle cx="651.2" cy="516.1" r="3.85"/><circle cx="682.8" cy="553.3" r="3.85"/><circle cx="576.7" cy="557" r="3.85"/><circle cx="590.3" cy="563.5" r="3.85"/><circle cx="590.2" cy="469" r="3.85"/><circle cx="576.8" cy="587.4" r="3.85"/><circle cx="670.7" cy="539.2" r="3.85"/><circle cx="658.2" cy="509.5" r="3.85"/><circle cx="676.9" cy="524.4" r="3.85"/><circle cx="601.2" cy="507.8" r="3.85"/><circle cx="625.5" cy="481.7" r="3.85"/><circle cx="726.5" cy="480.3" r="3.85"/><circle cx="614.2" cy="544.1" r="3.85"/><circle cx="647" cy="524.2" r="3.85"/><circle cx="654.1" cy="485.1" r="3.85"/><circle cx="625.6" cy="532.1" r="3.85"/><circle cx="715.8" cy="488.9" r="3.85"/><circle cx="614.3" cy="513.6" r="3.85"/><circle cx="576.8" cy="573.8" r="3.85"/><circle cx="601.5" cy="553.3" r="3.85"/><circle cx="576.5" cy="560.9" r="3.85"/><circle cx="619.7" cy="493.5" r="3.85"/><circle cx="595.5" cy="495.2" r="3.85"/><circle cx="625.4" cy="468.5" r="3.85"/><circle cx="576.8" cy="538.9" r="3.85"/><circle cx="601.3" cy="556" r="3.85"/><circle cx="581.5" cy="537.1" r="3.85"/><circle cx="666" cy="509.4" r="3.85"/><circle cx="601.2" cy="476" r="3.85"/><circle cx="661.3" cy="496.7" r="3.85"/><circle cx="670.8" cy="490.7" r="3.85"/><circle cx="737.8" cy="508.6" r="3.85"/><circle cx="653.9" cy="482.5" r="3.85"/><circle cx="585.5" cy="549.7" r="3.85"/><circle cx="629.7" cy="506" r="3.85"/><circle cx="716" cy="500.7" r="3.85"/><circle cx="576.8" cy="521.4" r="3.85"/><circle cx="701" cy="507.2" r="3.85"/><circle cx="595.6" cy="505.4" r="3.85"/><circle cx="689.5" cy="490.4" r="3.85"/><circle cx="610.7" cy="518.2" r="3.85"/><circle cx="730.6" cy="481.9" r="3.85"/><circle cx="730.7" cy="496.5" r="3.85"/><circle cx="590.2" cy="560.4" r="3.85"/><circle cx="576.5" cy="538.9" r="3.85"/><circle cx="651.4" cy="520.6" r="3.85"/><circle cx="700.9" cy="481.3" r="3.85"/><circle cx="646.9" cy="513.5" r="3.85"/><circle cx="581.5" cy="506.2" r="3.85"/><circle cx="705.9" cy="502.4" r="3.85"/><circle cx="696.5" cy="513.7" r="3.85"/><circle cx="715.7" cy="504" r="3.85"/><circle cx="651.1" cy="483" r="3.85"/><circle cx="610.8" cy="557.4" r="3.85"/><circle cx="653.8" cy="468.2" r="3.85"/><circle cx="590.3" cy="520.2" r="3.85"/><circle cx="655.5" cy="552.7" r="3.85"/><circle cx="595.7" cy="554.6" r="3.85"/><circle cx="625.3" cy="541.9" r="3.85"/><circle cx="619.6" cy="527.9" r="3.85"/><circle cx="601.4" cy="512.4" r="3.85"/><circle cx="585.4" cy="509.8" r="3.85"/><circle cx="710.7" cy="517.1" r="3.85"/><circle cx="633.7" cy="535.4" r="3.85"/><circle cx="625.5" cy="545.1" r="3.85"/><circle cx="715.7" cy="472.5" r="3.85"/><circle cx="676.6" cy="491.6" r="3.85"/><circle cx="576.6" cy="509.1" r="3.85"/><circle cx="651.1" cy="491.7" r="3.85"/><circle cx="585.4" cy="484.2" r="3.85"/><circle cx="638.2" cy="476.8" r="3.85"/><circle cx="633.4" cy="473.6" r="3.85"/><circle cx="689.3" cy="507.6" r="3.85"/><circle cx="642.3" cy="529.6" r="3.85"/><circle cx="738" cy="491.5" r="3.85"/><circle cx="689.4" cy="523.6" r="3.85"/><circle cx="590.3" cy="498.9" r="3.85"/><circle cx="651.3" cy="512.8" r="3.85"/><circle cx="576.6" cy="596.9" r="3.85"/><circle cx="605.2" cy="542.5" r="3.85"/><circle cx="585.1" cy="491.2" r="3.85"/><circle cx="661.2" cy="501.2" r="3.85"/><circle cx="605.1" cy="536.7" r="3.85"/><circle cx="651.4" cy="478.9" r="3.85"/><circle cx="670.9" cy="500.6" r="3.85"/><circle cx="646.7" cy="498.5" r="3.85"/><circle cx="610.7" cy="546.7" r="3.85"/><circle cx="581.5" cy="492.5" r="3.85"/><circle cx="742.6" cy="496.4" r="3.85"/><circle cx="605.1" cy="548.3" r="3.85"/><circle cx="642.4" cy="525" r="3.85"/><circle cx="610.7" cy="486.6" r="3.85"/><circle cx="619.8" cy="497.2" r="3.85"/><circle cx="576.6" cy="595.2" r="3.85"/><circle cx="651.4" cy="506.9" r="3.85"/><circle cx="715.6" cy="474.1" r="3.85"/><circle cx="676.7" cy="505.9" r="3.85"/><circle cx="721" cy="470.4" r="3.85"/><circle cx="610.6" cy="551.6" r="3.85"/><circle cx="689.3" cy="488" r="3.85"/><circle cx="613.9" cy="502" r="3.85"/><circle cx="605.4" cy="538.6" r="3.85"/><circle cx="619.5" cy="483.1" r="3.85"/><circle cx="625.2" cy="553.2" r="3.85"/><circle cx="633.8" cy="528.3" r="3.85"/><circle cx="590" cy="536.6" r="3.85"/><circle cx="653.8" cy="510.5" r="3.85"/><circle cx="581.6" cy="485.1" r="3.85"/><circle cx="576.6" cy="576.9" r="3.85"/><circle cx="585.2" cy="519.5" r="3.85"/><circle cx="633.6" cy="541.3" r="3.85"/><circle cx="585.3" cy="540" r="3.85"/><circle cx="585.2" cy="527" r="3.85"/><circle cx="661.4" cy="506.4" r="3.85"/><circle cx="595.3" cy="517.1" r="3.85"/><circle cx="676.9" cy="470.6" r="3.85"/><circle cx="619.3" cy="508.9" r="3.85"/><circle cx="658" cy="518.4" r="3.85"/><circle cx="647" cy="489.1" r="3.85"/><circle cx="684.3" cy="479.3" r="3.85"/><circle cx="629.7" cy="475" r="3.85"/><circle cx="684.4" cy="468.7" r="3.85"/><circle cx="614.3" cy="477.4" r="3.85"/><circle cx="625.4" cy="554.4" r="3.85"/><circle cx="605.3" cy="502.1" r="3.85"/><circle cx="585.3" cy="481.4" r="3.85"/><circle cx="684.2" cy="526.6" r="3.85"/><circle cx="689.5" cy="470.4" r="3.85"/><circle cx="585.4" cy="531.9" r="3.85"/><circle cx="614.3" cy="472.4" r="3.85"/><circle cx="666.3" cy="484" r="3.85"/><circle cx="689.5" cy="511.3" r="3.85"/><circle cx="629.8" cy="496.3" r="3.85"/><circle cx="646.6" cy="490.8" r="3.85"/><circle cx="581.4" cy="547" r="3.85"/><circle cx="585.3" cy="474.2" r="3.85"/><circle cx="601" cy="533.1" r="3.85"/><circle cx="738.1" cy="486" r="3.85"/><circle cx="658" cy="466.8" r="3.85"/><circle cx="646.6" cy="495.1" r="3.85"/><circle cx="653.8" cy="532" r="3.85"/><circle cx="721" cy="480.5" r="3.85"/><circle cx="585.2" cy="523.5" r="3.85"/><circle cx="619.4" cy="489.2" r="3.85"/><circle cx="629.6" cy="503.1" r="3.85"/><circle cx="658" cy="528.2" r="3.85"/><circle cx="610.7" cy="522.4" r="3.85"/><circle cx="721.2" cy="496.8" r="3.85"/><circle cx="638" cy="522.5" r="3.85"/><circle cx="646.8" cy="504" r="3.85"/><circle cx="651.3" cy="530.6" r="3.85"/><circle cx="581.2" cy="542" r="3.85"/><circle cx="590.3" cy="514.2" r="3.85"/><circle cx="670.8" cy="484.7" r="3.85"/><circle cx="614.2" cy="520.1" r="3.85"/><circle cx="653.8" cy="494.2" r="3.85"/><circle cx="646.6" cy="499.8" r="3.85"/><circle cx="614.1" cy="481.4" r="3.85"/><circle cx="646.7" cy="522.9" r="3.85"/><circle cx="576.4" cy="579.4" r="3.85"/><circle cx="576.4" cy="551" r="3.85"/><circle cx="585.3" cy="543.2" r="3.85"/><circle cx="614.1" cy="555.7" r="3.85"/><circle cx="658.4" cy="501" r="3.85"/><circle cx="619.6" cy="534" r="3.85"/><circle cx="633.8" cy="513.8" r="3.85"/><circle cx="619.8" cy="471.3" r="3.85"/><circle cx="642.5" cy="545" r="3.85"/><circle cx="726.5" cy="484.4" r="3.85"/><circle cx="676.8" cy="473.8" r="3.85"/><circle cx="684.5" cy="485.3" r="3.85"/><circle cx="705.7" cy="494.3" r="3.85"/><circle cx="590.3" cy="542.5" r="3.85"/><circle cx="671" cy="516.4" r="3.85"/><circle cx="637.9" cy="494.7" r="3.85"/><circle cx="658" cy="532.1" r="3.85"/><circle cx="625.5" cy="504.2" r="3.85"/><circle cx="658.2" cy="520.6" r="3.85"/><circle cx="665.9" cy="511.7" r="3.85"/><circle cx="700.9" cy="504" r="3.85"/><circle cx="689.4" cy="515.2" r="3.85"/><circle cx="666.2" cy="488.8" r="3.85"/><circle cx="590.3" cy="515.3" r="3.85"/><circle cx="742.7" cy="494.5" r="3.85"/>
</g>
<line x1="577.8" y1="518.2" x2="749.9" y2="479.1" stroke="#222" stroke-width="1.0"/>
<rect x="561.1" y="452.4" width="209.1" height="168.1" fill="none" stroke="#3c3c3c" stroke-width="1.2"/>
<text x="555.9" y="624.1" font-size="10" text-anchor="end">0.0</text>
<text x="555.9" y="593.4" font-size="10" text-anchor="end">0.2</text>
<text x="555.9" y="562.7" font-size="10" text-anchor="end">0.4</text>
<text x="555.9" y="532" font-size="10" text-anchor="end">0.6</text>
<text x="555.9" y="501.3" font-size="10" text-anchor="end">0.8</text>
<text x="555.9" y="470.6" font-size="10" text-anchor="end">1.0</text>
<path d="M557.7 620.7h3.4M557.7 590h3.4M557.7 559.3h3.4M557.7 528.6h3.4M557.7 497.9h3.4M557.7 467.2h3.4M559.1 605.4h2M559.1 574.7h2M559.1 544h2M559.1 513.2h2M559.1 482.6h2" stroke="#3c3c3c" stroke-width="1.1" fill="none"/>
<text x="576.8" y="634.1" font-size="10" text-anchor="middle">0</text>
<text x="615.4" y="634.1" font-size="10" text-anchor="middle">150</text>
<text x="654.1" y="634.1" font-size="10" text-anchor="middle">300</text>
<text x="692.8" y="634.1" font-size="10" text-anchor="middle">450</text>
<text x="731.4" y="634.1" font-size="10" text-anchor="middle">600</text>
<text x="770" y="634.1" font-size="10" text-anchor="middle">750</text>
<path d="M576.8 620.5v3.4M615.4 620.5v3.4M654.1 620.5v3.4M692.8 620.5v3.4M731.4 620.5v3.4M770 620.5v3.4M596.1 620.5v2M634.8 620.5v2M673.4 620.5v2M712.1 620.5v2M750.7 620.5v2" stroke="#3c3c3c" stroke-width="1.1" fill="none"/>
<text x="666" y="647.5" font-size="11.8" text-anchor="middle">Geographic distance</text>
<text x="536.4" y="536" font-size="11.8" text-anchor="middle" transform="rotate(-90 536.4 536)">Viral community dissimilarity</text>
<text x="528.2" y="455.8" font-size="14.5" text-anchor="start">i</text>
<text x="669.4" y="611.4" font-size="11.8" text-anchor="middle">CS: <tspan font-style="italic">r</tspan> = 0.388**</text>
</g>
<g id="panel-g">
<line x1="614.1" y1="49" x2="614.1" y2="155.8" stroke="#777" stroke-width="1"/>
<line x1="598.1" y1="49" x2="630.1" y2="49" stroke="#777" stroke-width="1.1"/>
<line x1="598.1" y1="155.8" x2="630.1" y2="155.8" stroke="#777" stroke-width="1.1"/>
<rect x="580.5" y="91.6" width="67.2" height="25.8" fill="#ee0000" stroke="#333" stroke-width="0.8"/>
<line x1="580.5" y1="103.2" x2="647.7" y2="103.2" stroke="#111" stroke-width="0.85"/>
<line x1="718.8" y1="46" x2="718.8" y2="169.4" stroke="#777" stroke-width="1"/>
<line x1="702.1" y1="46" x2="735.5" y2="46" stroke="#777" stroke-width="1.1"/>
<line x1="702.1" y1="169.4" x2="735.5" y2="169.4" stroke="#777" stroke-width="1.1"/>
<rect x="685.4" y="82.5" width="66.8" height="35.6" fill="#336699" stroke="#333" stroke-width="0.8"/>
<line x1="685.4" y1="100.3" x2="752.2" y2="100.3" stroke="#111" stroke-width="0.85"/>
<line x1="571" y1="91.3" x2="771" y2="91.3" stroke="#aaa" stroke-width="1.7" stroke-dasharray="9 6"/>
<g fill="#888888" stroke="#fff" stroke-width="0.65">
<circle cx="610.4" cy="43.2" r="3.15"/><circle cx="600.9" cy="120.9" r="3.15"/><circle cx="602.9" cy="68.6" r="3.15"/><circle cx="603.4" cy="127.5" r="3.15"/><circle cx="611.4" cy="103.8" r="3.15"/><circle cx="608.7" cy="157.1" r="3.15"/><circle cx="607.7" cy="150.5" r="3.15"/><circle cx="627.1" cy="80" r="3.15"/><circle cx="615.9" cy="66.1" r="3.15"/><circle cx="626.2" cy="105.1" r="3.15"/><circle cx="624.3" cy="82.9" r="3.15"/><circle cx="612.4" cy="156.2" r="3.15"/><circle cx="607.7" cy="142.3" r="3.15"/><circle cx="606.5" cy="134" r="3.15"/><circle cx="598.2" cy="116" r="3.15"/><circle cx="610.3" cy="80.7" r="3.15"/><circle cx="630.8" cy="116.6" r="3.15"/><circle cx="605.9" cy="133.2" r="3.15"/><circle cx="620.6" cy="114" r="3.15"/><circle cx="625.9" cy="52.6" r="3.15"/><circle cx="600.2" cy="111.4" r="3.15"/><circle cx="619.4" cy="88" r="3.15"/><circle cx="610.6" cy="156.5" r="3.15"/><circle cx="622.9" cy="134.4" r="3.15"/><circle cx="600.4" cy="106.8" r="3.15"/><circle cx="608.8" cy="155.5" r="3.15"/><circle cx="624.2" cy="80.6" r="3.15"/><circle cx="624.3" cy="96.8" r="3.15"/><circle cx="616.8" cy="74" r="3.15"/><circle cx="600.7" cy="115.4" r="3.15"/><circle cx="619.1" cy="57.8" r="3.15"/><circle cx="627.9" cy="71.3" r="3.15"/><circle cx="609.8" cy="82.1" r="3.15"/><circle cx="599.8" cy="74.5" r="3.15"/><circle cx="600" cy="56.2" r="3.15"/><circle cx="603.6" cy="112.8" r="3.15"/><circle cx="606.6" cy="136.8" r="3.15"/><circle cx="615.2" cy="94.4" r="3.15"/><circle cx="614.7" cy="141.3" r="3.15"/><circle cx="621.8" cy="124.8" r="3.15"/><circle cx="601.4" cy="95.8" r="3.15"/><circle cx="627.5" cy="132.4" r="3.15"/><circle cx="603" cy="121.6" r="3.15"/><circle cx="612.5" cy="140.5" r="3.15"/><circle cx="607.7" cy="58.1" r="3.15"/><circle cx="615.7" cy="91" r="3.15"/><circle cx="620.4" cy="69.9" r="3.15"/><circle cx="617.6" cy="137.5" r="3.15"/><circle cx="607.4" cy="145.4" r="3.15"/><circle cx="612.3" cy="136" r="3.15"/><circle cx="606.9" cy="136.4" r="3.15"/><circle cx="619.3" cy="66.6" r="3.15"/><circle cx="599.9" cy="84.4" r="3.15"/><circle cx="612.8" cy="70.6" r="3.15"/><circle cx="606.7" cy="99.6" r="3.15"/><circle cx="612.9" cy="62.8" r="3.15"/><circle cx="598.6" cy="76.2" r="3.15"/><circle cx="620.6" cy="41.8" r="3.15"/><circle cx="624.1" cy="108.8" r="3.15"/><circle cx="623.7" cy="68.8" r="3.15"/><circle cx="600.3" cy="104.4" r="3.15"/><circle cx="610" cy="108.2" r="3.15"/><circle cx="620.4" cy="104.6" r="3.15"/><circle cx="607.7" cy="101.9" r="3.15"/><circle cx="616" cy="86.7" r="3.15"/><circle cx="623.1" cy="67.4" r="3.15"/><circle cx="599.9" cy="69.8" r="3.15"/><circle cx="608" cy="134" r="3.15"/><circle cx="602" cy="98.7" r="3.15"/><circle cx="600.2" cy="47.3" r="3.15"/><circle cx="612.3" cy="89.1" r="3.15"/><circle cx="622.4" cy="58.2" r="3.15"/><circle cx="613.6" cy="92.7" r="3.15"/><circle cx="626" cy="121.1" r="3.15"/><circle cx="604" cy="125.9" r="3.15"/><circle cx="600.3" cy="52.2" r="3.15"/><circle cx="608.2" cy="107.7" r="3.15"/><circle cx="629" cy="86.8" r="3.15"/><circle cx="598.4" cy="121" r="3.15"/><circle cx="611.6" cy="126.3" r="3.15"/><circle cx="625.6" cy="136.3" r="3.15"/><circle cx="612.5" cy="127.2" r="3.15"/><circle cx="612.8" cy="106.1" r="3.15"/><circle cx="624.4" cy="57.7" r="3.15"/><circle cx="611.3" cy="142.5" r="3.15"/><circle cx="627.1" cy="68.2" r="3.15"/><circle cx="606.6" cy="90.5" r="3.15"/><circle cx="608.9" cy="92.8" r="3.15"/><circle cx="606.3" cy="63.4" r="3.15"/><circle cx="618.5" cy="146.7" r="3.15"/><circle cx="606.5" cy="54.3" r="3.15"/><circle cx="602.8" cy="132" r="3.15"/><circle cx="614.6" cy="52.7" r="3.15"/><circle cx="621" cy="98" r="3.15"/><circle cx="617.8" cy="97.6" r="3.15"/><circle cx="614.9" cy="78.1" r="3.15"/><circle cx="620.9" cy="131.3" r="3.15"/><circle cx="628" cy="112.4" r="3.15"/><circle cx="623.7" cy="105.6" r="3.15"/><circle cx="622" cy="72.3" r="3.15"/><circle cx="626.9" cy="110.6" r="3.15"/><circle cx="607.4" cy="154.6" r="3.15"/><circle cx="631" cy="112.8" r="3.15"/><circle cx="625.3" cy="96.7" r="3.15"/><circle cx="613" cy="142.4" r="3.15"/><circle cx="602.5" cy="62.7" r="3.15"/><circle cx="611.5" cy="143.3" r="3.15"/><circle cx="618.4" cy="80.7" r="3.15"/><circle cx="624" cy="63.5" r="3.15"/><circle cx="620.5" cy="60.6" r="3.15"/><circle cx="627" cy="110.2" r="3.15"/><circle cx="626.2" cy="132.8" r="3.15"/><circle cx="602.7" cy="115.5" r="3.15"/><circle cx="623.7" cy="53.1" r="3.15"/><circle cx="600.4" cy="82" r="3.15"/><circle cx="599" cy="89.7" r="3.15"/><circle cx="600.4" cy="76.2" r="3.15"/><circle cx="602.8" cy="88.5" r="3.15"/><circle cx="603.1" cy="46" r="3.15"/><circle cx="608.7" cy="123.4" r="3.15"/><circle cx="616.6" cy="70.7" r="3.15"/><circle cx="611.5" cy="148.6" r="3.15"/><circle cx="603.7" cy="124.9" r="3.15"/><circle cx="615.2" cy="72.2" r="3.15"/><circle cx="606.6" cy="148.7" r="3.15"/><circle cx="600.9" cy="121.8" r="3.15"/><circle cx="602.6" cy="98.6" r="3.15"/><circle cx="605.2" cy="95.9" r="3.15"/><circle cx="630.6" cy="116.6" r="3.15"/><circle cx="612.5" cy="124.7" r="3.15"/><circle cx="598.4" cy="107.4" r="3.15"/><circle cx="624.8" cy="95.4" r="3.15"/><circle cx="606.2" cy="151.8" r="3.15"/><circle cx="620.8" cy="110.6" r="3.15"/><circle cx="616.3" cy="131.7" r="3.15"/><circle cx="607.2" cy="130.6" r="3.15"/><circle cx="630" cy="121.4" r="3.15"/><circle cx="603.2" cy="74.1" r="3.15"/><circle cx="621" cy="111.5" r="3.15"/><circle cx="614.3" cy="152.5" r="3.15"/><circle cx="598.1" cy="111.4" r="3.15"/><circle cx="628.6" cy="114.1" r="3.15"/><circle cx="616.2" cy="88" r="3.15"/><circle cx="613.2" cy="93.4" r="3.15"/><circle cx="629.9" cy="120.2" r="3.15"/><circle cx="626.8" cy="61.5" r="3.15"/><circle cx="627.9" cy="111.9" r="3.15"/><circle cx="600.6" cy="55.5" r="3.15"/><circle cx="607.5" cy="119.4" r="3.15"/><circle cx="621.5" cy="92.7" r="3.15"/><circle cx="625.9" cy="129.7" r="3.15"/><circle cx="603.3" cy="47" r="3.15"/><circle cx="601.1" cy="55.4" r="3.15"/><circle cx="609.7" cy="50.4" r="3.15"/><circle cx="605.1" cy="137.9" r="3.15"/><circle cx="629.5" cy="130.6" r="3.15"/><circle cx="611.5" cy="47.5" r="3.15"/><circle cx="613.2" cy="144" r="3.15"/><circle cx="615.3" cy="121.3" r="3.15"/><circle cx="631.6" cy="122.4" r="3.15"/><circle cx="604.7" cy="111.8" r="3.15"/><circle cx="627.5" cy="107.9" r="3.15"/><circle cx="617.5" cy="121.7" r="3.15"/><circle cx="608.8" cy="51.3" r="3.15"/><circle cx="617.8" cy="133.7" r="3.15"/><circle cx="610.4" cy="87.5" r="3.15"/><circle cx="625.3" cy="47.6" r="3.15"/><circle cx="614.8" cy="136.1" r="3.15"/><circle cx="610.3" cy="128" r="3.15"/><circle cx="628.8" cy="109.7" r="3.15"/><circle cx="607" cy="119.2" r="3.15"/><circle cx="607.5" cy="142.3" r="3.15"/><circle cx="617.3" cy="78.5" r="3.15"/><circle cx="621.3" cy="90.8" r="3.15"/><circle cx="622.2" cy="71.2" r="3.15"/><circle cx="627.1" cy="106.4" r="3.15"/><circle cx="609.2" cy="46.3" r="3.15"/><circle cx="623.1" cy="126.6" r="3.15"/><circle cx="618.7" cy="92.2" r="3.15"/><circle cx="607.3" cy="136.9" r="3.15"/><circle cx="599.7" cy="92.8" r="3.15"/><circle cx="625.3" cy="137.7" r="3.15"/><circle cx="621.1" cy="84.8" r="3.15"/><circle cx="597.4" cy="87.3" r="3.15"/><circle cx="607.7" cy="51.6" r="3.15"/><circle cx="613.4" cy="88.9" r="3.15"/><circle cx="626.3" cy="112.6" r="3.15"/><circle cx="620.6" cy="54" r="3.15"/><circle cx="604.2" cy="68.1" r="3.15"/><circle cx="628.1" cy="52.1" r="3.15"/><circle cx="603" cy="98" r="3.15"/><circle cx="614.7" cy="90.2" r="3.15"/><circle cx="599" cy="71.1" r="3.15"/><circle cx="620.9" cy="136" r="3.15"/><circle cx="614.7" cy="139.2" r="3.15"/><circle cx="610.2" cy="125.3" r="3.15"/><circle cx="599.1" cy="64.7" r="3.15"/><circle cx="624.2" cy="115.3" r="3.15"/><circle cx="616.4" cy="92.7" r="3.15"/><circle cx="618.4" cy="140.4" r="3.15"/><circle cx="599.6" cy="111.2" r="3.15"/><circle cx="615.1" cy="136.7" r="3.15"/><circle cx="617.9" cy="147.5" r="3.15"/><circle cx="601.5" cy="100" r="3.15"/><circle cx="621.3" cy="44.8" r="3.15"/><circle cx="614.1" cy="97.1" r="3.15"/><circle cx="609.4" cy="76.6" r="3.15"/><circle cx="599.2" cy="68.6" r="3.15"/><circle cx="623.2" cy="96.6" r="3.15"/><circle cx="630.5" cy="117.7" r="3.15"/><circle cx="606" cy="145.2" r="3.15"/><circle cx="631.7" cy="103.5" r="3.15"/><circle cx="621.1" cy="70.2" r="3.15"/><circle cx="628.7" cy="111.4" r="3.15"/><circle cx="625" cy="71.3" r="3.15"/><circle cx="606.5" cy="103.3" r="3.15"/><circle cx="609.2" cy="49.5" r="3.15"/><circle cx="598.6" cy="108.2" r="3.15"/><circle cx="621.4" cy="127.9" r="3.15"/><circle cx="625.5" cy="43" r="3.15"/><circle cx="611.5" cy="143" r="3.15"/><circle cx="612.5" cy="147.6" r="3.15"/><circle cx="613.1" cy="72" r="3.15"/><circle cx="627.5" cy="57.9" r="3.15"/><circle cx="604" cy="130" r="3.15"/><circle cx="616.8" cy="57.2" r="3.15"/><circle cx="618.4" cy="85.3" r="3.15"/><circle cx="613.5" cy="147.6" r="3.15"/><circle cx="625" cy="47.5" r="3.15"/><circle cx="618.9" cy="150.6" r="3.15"/><circle cx="625.2" cy="140.8" r="3.15"/><circle cx="621.3" cy="89" r="3.15"/><circle cx="620.3" cy="109.2" r="3.15"/><circle cx="625.9" cy="134.7" r="3.15"/><circle cx="603.7" cy="83" r="3.15"/><circle cx="627.6" cy="92.9" r="3.15"/><circle cx="612.5" cy="134" r="3.15"/><circle cx="623.6" cy="103.4" r="3.15"/><circle cx="601.6" cy="113.5" r="3.15"/><circle cx="613.9" cy="63.5" r="3.15"/><circle cx="608.8" cy="71.2" r="3.15"/><circle cx="614.6" cy="49" r="3.15"/><circle cx="620.9" cy="146" r="3.15"/><circle cx="629.9" cy="112.3" r="3.15"/><circle cx="600.2" cy="109.9" r="3.15"/><circle cx="625.5" cy="104.2" r="3.15"/><circle cx="630" cy="86.7" r="3.15"/><circle cx="616.1" cy="65.7" r="3.15"/><circle cx="606.3" cy="126.4" r="3.15"/><circle cx="620.9" cy="86.4" r="3.15"/><circle cx="615.8" cy="120.5" r="3.15"/><circle cx="611.9" cy="82.3" r="3.15"/><circle cx="597.9" cy="110.7" r="3.15"/><circle cx="621.9" cy="64.6" r="3.15"/><circle cx="616.5" cy="150.8" r="3.15"/><circle cx="620.6" cy="93.7" r="3.15"/><circle cx="630.2" cy="88.9" r="3.15"/><circle cx="627.6" cy="44.3" r="3.15"/><circle cx="620.2" cy="143.1" r="3.15"/><circle cx="614.3" cy="147.5" r="3.15"/><circle cx="628" cy="63.2" r="3.15"/><circle cx="626.6" cy="92" r="3.15"/><circle cx="608.5" cy="90.5" r="3.15"/><circle cx="610.9" cy="79.3" r="3.15"/><circle cx="613.5" cy="152.7" r="3.15"/><circle cx="631.3" cy="91.6" r="3.15"/><circle cx="610.7" cy="124.4" r="3.15"/><circle cx="625.3" cy="122.6" r="3.15"/><circle cx="604.3" cy="108.3" r="3.15"/><circle cx="619.7" cy="86.8" r="3.15"/><circle cx="608.4" cy="95.5" r="3.15"/><circle cx="629" cy="94.2" r="3.15"/><circle cx="602.2" cy="113.1" r="3.15"/><circle cx="606.1" cy="65.6" r="3.15"/><circle cx="625" cy="74.2" r="3.15"/><circle cx="612.8" cy="82.7" r="3.15"/><circle cx="619.8" cy="151.6" r="3.15"/><circle cx="617.3" cy="77.4" r="3.15"/><circle cx="602.2" cy="125.1" r="3.15"/><circle cx="621.6" cy="65.6" r="3.15"/><circle cx="598.3" cy="98.9" r="3.15"/><circle cx="598.1" cy="97.8" r="3.15"/><circle cx="611.5" cy="122.9" r="3.15"/><circle cx="622.4" cy="142.3" r="3.15"/><circle cx="608.5" cy="60.1" r="3.15"/><circle cx="613.5" cy="80" r="3.15"/><circle cx="612" cy="91.4" r="3.15"/><circle cx="615.9" cy="77.8" r="3.15"/><circle cx="619" cy="44.4" r="3.15"/><circle cx="629.5" cy="99.2" r="3.15"/><circle cx="605.9" cy="47.1" r="3.15"/><circle cx="601.7" cy="117.3" r="3.15"/><circle cx="617.7" cy="139.9" r="3.15"/><circle cx="599.4" cy="91.5" r="3.15"/><circle cx="599.9" cy="128.9" r="3.15"/><circle cx="618.2" cy="95.8" r="3.15"/><circle cx="603.3" cy="77.4" r="3.15"/><circle cx="605.1" cy="99.5" r="3.15"/><circle cx="607.5" cy="80.1" r="3.15"/><circle cx="619.8" cy="93" r="3.15"/><circle cx="607.3" cy="143.5" r="3.15"/><circle cx="626.2" cy="100.8" r="3.15"/><circle cx="625.5" cy="43.6" r="3.15"/><circle cx="598.1" cy="109.1" r="3.15"/><circle cx="600.8" cy="62.5" r="3.15"/><circle cx="623.4" cy="122.2" r="3.15"/><circle cx="604.4" cy="54.9" r="3.15"/><circle cx="612.1" cy="151.8" r="3.15"/><circle cx="608" cy="43.6" r="3.15"/><circle cx="601.9" cy="67.4" r="3.15"/><circle cx="628.4" cy="106.9" r="3.15"/><circle cx="629.1" cy="115.6" r="3.15"/><circle cx="620.9" cy="128" r="3.15"/><circle cx="620.8" cy="120.5" r="3.15"/><circle cx="608.6" cy="97.8" r="3.15"/><circle cx="602.4" cy="79.6" r="3.15"/><circle cx="629.2" cy="121.9" r="3.15"/><circle cx="602.2" cy="90.7" r="3.15"/><circle cx="622.9" cy="58.4" r="3.15"/><circle cx="621.3" cy="70" r="3.15"/><circle cx="619.2" cy="51.4" r="3.15"/><circle cx="624.1" cy="131.5" r="3.15"/><circle cx="622.8" cy="60.4" r="3.15"/><circle cx="627.7" cy="99" r="3.15"/><circle cx="622.5" cy="139.9" r="3.15"/><circle cx="615.2" cy="67.3" r="3.15"/><circle cx="602" cy="74.8" r="3.15"/><circle cx="622.1" cy="81" r="3.15"/><circle cx="614.7" cy="134.5" r="3.15"/><circle cx="624.8" cy="42.9" r="3.15"/><circle cx="607.7" cy="121.3" r="3.15"/><circle cx="601.3" cy="126.1" r="3.15"/><circle cx="619.5" cy="55.3" r="3.15"/><circle cx="614.4" cy="97.6" r="3.15"/><circle cx="605.1" cy="126.4" r="3.15"/><circle cx="629.7" cy="104.8" r="3.15"/><circle cx="600" cy="44.7" r="3.15"/><circle cx="617.5" cy="50.3" r="3.15"/><circle cx="602" cy="129" r="3.15"/><circle cx="608.8" cy="89.9" r="3.15"/><circle cx="608.8" cy="73.3" r="3.15"/><circle cx="600.4" cy="125.4" r="3.15"/><circle cx="627.5" cy="54.9" r="3.15"/><circle cx="610.8" cy="88.4" r="3.15"/><circle cx="603.5" cy="42.2" r="3.15"/><circle cx="611.8" cy="117.2" r="3.15"/><circle cx="613.2" cy="103.6" r="3.15"/><circle cx="605.3" cy="133.2" r="3.15"/><circle cx="613.6" cy="72.5" r="3.15"/><circle cx="607" cy="104" r="3.15"/><circle cx="630.5" cy="92.7" r="3.15"/><circle cx="604.2" cy="51.9" r="3.15"/><circle cx="622.4" cy="89.7" r="3.15"/><circle cx="617.6" cy="109.7" r="3.15"/><circle cx="613.2" cy="62.9" r="3.15"/><circle cx="617.1" cy="50.2" r="3.15"/><circle cx="616.9" cy="108.5" r="3.15"/><circle cx="626.1" cy="120.5" r="3.15"/><circle cx="626.8" cy="64" r="3.15"/><circle cx="625.1" cy="75.6" r="3.15"/><circle cx="608.8" cy="98.5" r="3.15"/><circle cx="599.6" cy="85.6" r="3.15"/><circle cx="604" cy="114" r="3.15"/><circle cx="616.6" cy="131.1" r="3.15"/><circle cx="608.4" cy="73.2" r="3.15"/><circle cx="621.3" cy="86.2" r="3.15"/><circle cx="621.4" cy="94.9" r="3.15"/><circle cx="608.1" cy="128.1" r="3.15"/><circle cx="610.1" cy="87.4" r="3.15"/><circle cx="603.1" cy="137.2" r="3.15"/><circle cx="621.4" cy="127.1" r="3.15"/><circle cx="628.7" cy="106.9" r="3.15"/><circle cx="599.9" cy="47.5" r="3.15"/><circle cx="618.7" cy="49.8" r="3.15"/><circle cx="605.5" cy="113" r="3.15"/><circle cx="605.4" cy="76.7" r="3.15"/><circle cx="600.2" cy="109.4" r="3.15"/><circle cx="617.2" cy="88.6" r="3.15"/><circle cx="610.5" cy="80" r="3.15"/><circle cx="622.3" cy="99.4" r="3.15"/><circle cx="612.8" cy="118" r="3.15"/><circle cx="612.3" cy="50.5" r="3.15"/><circle cx="627.9" cy="72.5" r="3.15"/><circle cx="612.8" cy="121.3" r="3.15"/><circle cx="616.2" cy="134.8" r="3.15"/><circle cx="614.6" cy="95" r="3.15"/><circle cx="622" cy="106.3" r="3.15"/><circle cx="625.3" cy="63.1" r="3.15"/><circle cx="610.1" cy="91" r="3.15"/><circle cx="606" cy="56.4" r="3.15"/><circle cx="629.5" cy="91.6" r="3.15"/><circle cx="624.1" cy="59.7" r="3.15"/><circle cx="608.7" cy="128.9" r="3.15"/><circle cx="603" cy="126.4" r="3.15"/><circle cx="607.4" cy="52.2" r="3.15"/><circle cx="625" cy="137" r="3.15"/><circle cx="614.4" cy="124.2" r="3.15"/><circle cx="626.2" cy="106.9" r="3.15"/><circle cx="626.1" cy="57" r="3.15"/><circle cx="617.3" cy="77.6" r="3.15"/><circle cx="620.4" cy="147" r="3.15"/><circle cx="614.3" cy="128.5" r="3.15"/><circle cx="601.4" cy="104.4" r="3.15"/><circle cx="624.1" cy="120.5" r="3.15"/><circle cx="615.5" cy="57.6" r="3.15"/><circle cx="620.5" cy="96.8" r="3.15"/><circle cx="628.1" cy="130.8" r="3.15"/><circle cx="625.6" cy="65.5" r="3.15"/><circle cx="601.1" cy="80.3" r="3.15"/><circle cx="603.3" cy="119.3" r="3.15"/><circle cx="623.4" cy="69.5" r="3.15"/><circle cx="626.8" cy="66.1" r="3.15"/><circle cx="627.8" cy="117.2" r="3.15"/><circle cx="601.9" cy="99.6" r="3.15"/><circle cx="601.4" cy="53.8" r="3.15"/><circle cx="597.6" cy="122.7" r="3.15"/><circle cx="611.3" cy="156.1" r="3.15"/><circle cx="598.6" cy="124.9" r="3.15"/><circle cx="616.6" cy="54.5" r="3.15"/><circle cx="618.6" cy="69.2" r="3.15"/><circle cx="606.3" cy="112.1" r="3.15"/><circle cx="612.5" cy="151.1" r="3.15"/><circle cx="603" cy="70.1" r="3.15"/><circle cx="610" cy="127.9" r="3.15"/><circle cx="608.5" cy="76.9" r="3.15"/><circle cx="610.8" cy="87.8" r="3.15"/><circle cx="629.9" cy="126.3" r="3.15"/><circle cx="614.6" cy="60.3" r="3.15"/><circle cx="607.6" cy="136.7" r="3.15"/><circle cx="627.9" cy="103.3" r="3.15"/><circle cx="606.4" cy="111.1" r="3.15"/><circle cx="624" cy="106.2" r="3.15"/><circle cx="606.4" cy="45.1" r="3.15"/><circle cx="610.8" cy="59.2" r="3.15"/><circle cx="598.2" cy="116.4" r="3.15"/><circle cx="606.6" cy="79.5" r="3.15"/><circle cx="603.8" cy="63.9" r="3.15"/><circle cx="610.1" cy="48.5" r="3.15"/><circle cx="601.5" cy="114.7" r="3.15"/><circle cx="629.1" cy="103.6" r="3.15"/><circle cx="609.1" cy="87.1" r="3.15"/><circle cx="616" cy="55.9" r="3.15"/><circle cx="604.1" cy="81.3" r="3.15"/><circle cx="616.5" cy="133.1" r="3.15"/><circle cx="612.6" cy="112.9" r="3.15"/><circle cx="616.5" cy="54.9" r="3.15"/><circle cx="614.4" cy="143.4" r="3.15"/><circle cx="620.1" cy="98.8" r="3.15"/><circle cx="628.1" cy="87.4" r="3.15"/><circle cx="623" cy="66.9" r="3.15"/><circle cx="618.3" cy="103.7" r="3.15"/><circle cx="608.6" cy="153.2" r="3.15"/><circle cx="622.9" cy="137.8" r="3.15"/><circle cx="617.9" cy="96.2" r="3.15"/><circle cx="618.9" cy="130.9" r="3.15"/><circle cx="600" cy="67.7" r="3.15"/><circle cx="619.3" cy="77.3" r="3.15"/><circle cx="605.8" cy="56.4" r="3.15"/><circle cx="601.9" cy="90.8" r="3.15"/><circle cx="608.5" cy="77.6" r="3.15"/><circle cx="617.1" cy="149.3" r="3.15"/><circle cx="598.4" cy="120.8" r="3.15"/><circle cx="626.8" cy="62.4" r="3.15"/><circle cx="623.7" cy="111.6" r="3.15"/><circle cx="605.8" cy="42" r="3.15"/><circle cx="607.8" cy="78.9" r="3.15"/><circle cx="611" cy="60.5" r="3.15"/><circle cx="625.3" cy="76.9" r="3.15"/><circle cx="630.5" cy="105.1" r="3.15"/><circle cx="605.7" cy="79.2" r="3.15"/><circle cx="620.9" cy="53.7" r="3.15"/><circle cx="602.3" cy="106.4" r="3.15"/><circle cx="604.5" cy="56.5" r="3.15"/><circle cx="620.3" cy="44.9" r="3.15"/><circle cx="609.3" cy="121" r="3.15"/><circle cx="622.3" cy="120" r="3.15"/><circle cx="603.2" cy="102.9" r="3.15"/><circle cx="608.6" cy="85.1" r="3.15"/><circle cx="619.1" cy="110.6" r="3.15"/><circle cx="627.3" cy="53.1" r="3.15"/><circle cx="627.7" cy="91.9" r="3.15"/><circle cx="602.5" cy="112.3" r="3.15"/><circle cx="614.6" cy="111.1" r="3.15"/><circle cx="602.8" cy="126.2" r="3.15"/><circle cx="602.7" cy="71.6" r="3.15"/><circle cx="609.7" cy="151.4" r="3.15"/><circle cx="631.3" cy="110.7" r="3.15"/><circle cx="604.8" cy="130.2" r="3.15"/><circle cx="615.5" cy="56" r="3.15"/><circle cx="610.6" cy="100.8" r="3.15"/><circle cx="609.5" cy="129.6" r="3.15"/><circle cx="626.7" cy="108.3" r="3.15"/><circle cx="616.3" cy="82.1" r="3.15"/><circle cx="626.2" cy="100.4" r="3.15"/><circle cx="602.3" cy="65.2" r="3.15"/><circle cx="614.2" cy="155.5" r="3.15"/><circle cx="626.9" cy="60" r="3.15"/><circle cx="629.2" cy="114.8" r="3.15"/><circle cx="623" cy="90.8" r="3.15"/><circle cx="604.9" cy="94.3" r="3.15"/><circle cx="603.3" cy="137.7" r="3.15"/><circle cx="604.9" cy="135.7" r="3.15"/><circle cx="622.8" cy="127" r="3.15"/><circle cx="627.5" cy="80.8" r="3.15"/><circle cx="622.2" cy="89.7" r="3.15"/><circle cx="602.9" cy="103.6" r="3.15"/><circle cx="624.8" cy="128.2" r="3.15"/><circle cx="623.9" cy="88.9" r="3.15"/><circle cx="613.1" cy="43.3" r="3.15"/><circle cx="600.5" cy="114.9" r="3.15"/><circle cx="616.4" cy="111.3" r="3.15"/><circle cx="609.5" cy="76.4" r="3.15"/><circle cx="611" cy="141.2" r="3.15"/><circle cx="612.2" cy="99.3" r="3.15"/><circle cx="618.3" cy="118.2" r="3.15"/><circle cx="616.3" cy="71.7" r="3.15"/><circle cx="608.6" cy="110.8" r="3.15"/><circle cx="599.9" cy="83.9" r="3.15"/><circle cx="620.8" cy="85" r="3.15"/><circle cx="603.7" cy="131.2" r="3.15"/><circle cx="618.2" cy="143.3" r="3.15"/><circle cx="630.3" cy="89.2" r="3.15"/><circle cx="618.4" cy="73" r="3.15"/><circle cx="625.4" cy="134.1" r="3.15"/><circle cx="608.3" cy="121.3" r="3.15"/><circle cx="624.1" cy="48.6" r="3.15"/><circle cx="607.2" cy="74.6" r="3.15"/><circle cx="597" cy="108.6" r="3.15"/><circle cx="608" cy="109.1" r="3.15"/><circle cx="617.8" cy="43.7" r="3.15"/><circle cx="600.1" cy="55.3" r="3.15"/><circle cx="612.5" cy="142" r="3.15"/><circle cx="627.9" cy="105.4" r="3.15"/><circle cx="607" cy="50" r="3.15"/><circle cx="599.9" cy="83.5" r="3.15"/><circle cx="607.8" cy="127.5" r="3.15"/><circle cx="618.5" cy="113.8" r="3.15"/><circle cx="609.3" cy="52.1" r="3.15"/><circle cx="603.6" cy="136.8" r="3.15"/><circle cx="618" cy="131.7" r="3.15"/><circle cx="613.9" cy="77.6" r="3.15"/><circle cx="613.7" cy="51.9" r="3.15"/><circle cx="614.3" cy="109.2" r="3.15"/><circle cx="601.4" cy="111.5" r="3.15"/><circle cx="619.4" cy="77.4" r="3.15"/><circle cx="621.7" cy="92.8" r="3.15"/><circle cx="618" cy="93.3" r="3.15"/><circle cx="608.5" cy="61.3" r="3.15"/><circle cx="616.2" cy="111.1" r="3.15"/><circle cx="621.8" cy="92.6" r="3.15"/><circle cx="602.1" cy="112.8" r="3.15"/><circle cx="604.6" cy="68.6" r="3.15"/><circle cx="608.2" cy="99.7" r="3.15"/><circle cx="625.4" cy="70.5" r="3.15"/><circle cx="608.4" cy="114.5" r="3.15"/><circle cx="602.2" cy="86" r="3.15"/><circle cx="602.6" cy="46.6" r="3.15"/><circle cx="607.4" cy="90.1" r="3.15"/><circle cx="624.5" cy="56.9" r="3.15"/><circle cx="623.6" cy="72.7" r="3.15"/><circle cx="612.3" cy="83.3" r="3.15"/><circle cx="631.9" cy="120.3" r="3.15"/><circle cx="601.7" cy="50.8" r="3.15"/><circle cx="615.1" cy="129.8" r="3.15"/><circle cx="604" cy="103.1" r="3.15"/><circle cx="599.5" cy="103.9" r="3.15"/><circle cx="622.5" cy="88.5" r="3.15"/><circle cx="608.1" cy="115" r="3.15"/><circle cx="605.7" cy="92.7" r="3.15"/><circle cx="624.3" cy="58.7" r="3.15"/><circle cx="623.6" cy="64" r="3.15"/><circle cx="618.7" cy="106.7" r="3.15"/><circle cx="619.3" cy="118.1" r="3.15"/><circle cx="614.5" cy="150.4" r="3.15"/><circle cx="613.3" cy="109.3" r="3.15"/><circle cx="631.6" cy="112.5" r="3.15"/><circle cx="621.4" cy="77.3" r="3.15"/><circle cx="627.5" cy="66.9" r="3.15"/><circle cx="627.3" cy="130" r="3.15"/><circle cx="619.1" cy="146.5" r="3.15"/><circle cx="624.8" cy="76.7" r="3.15"/><circle cx="621.7" cy="97.4" r="3.15"/><circle cx="622.1" cy="75.6" r="3.15"/><circle cx="625.5" cy="54" r="3.15"/><circle cx="618.7" cy="100.1" r="3.15"/><circle cx="612.5" cy="46.9" r="3.15"/><circle cx="631.3" cy="94.6" r="3.15"/><circle cx="611.3" cy="86.1" r="3.15"/><circle cx="616.4" cy="78.4" r="3.15"/><circle cx="624.4" cy="71.7" r="3.15"/><circle cx="612.2" cy="80" r="3.15"/><circle cx="599.4" cy="98.3" r="3.15"/><circle cx="607.8" cy="112.1" r="3.15"/><circle cx="615" cy="139.2" r="3.15"/><circle cx="622.4" cy="131.4" r="3.15"/><circle cx="599.3" cy="126" r="3.15"/><circle cx="604.8" cy="56.5" r="3.15"/><circle cx="623" cy="137.9" r="3.15"/><circle cx="631.5" cy="95.4" r="3.15"/><circle cx="616.6" cy="154.2" r="3.15"/><circle cx="622.1" cy="61.4" r="3.15"/><circle cx="609.6" cy="111.3" r="3.15"/><circle cx="628.2" cy="90.9" r="3.15"/><circle cx="609.4" cy="52.3" r="3.15"/><circle cx="613.6" cy="131.4" r="3.15"/><circle cx="598.7" cy="94.4" r="3.15"/><circle cx="621.4" cy="96.5" r="3.15"/><circle cx="608" cy="45.7" r="3.15"/><circle cx="620.6" cy="100.5" r="3.15"/><circle cx="604.6" cy="144.3" r="3.15"/><circle cx="613.4" cy="62.2" r="3.15"/><circle cx="623.8" cy="85.7" r="3.15"/><circle cx="627.6" cy="93" r="3.15"/><circle cx="623.1" cy="113.1" r="3.15"/><circle cx="610.1" cy="45.8" r="3.15"/><circle cx="626.5" cy="56.2" r="3.15"/><circle cx="613.3" cy="74.8" r="3.15"/><circle cx="630.2" cy="89.5" r="3.15"/><circle cx="606.6" cy="73" r="3.15"/><circle cx="613.4" cy="69" r="3.15"/><circle cx="599.8" cy="86.8" r="3.15"/><circle cx="629.2" cy="82.5" r="3.15"/><circle cx="614.4" cy="98.3" r="3.15"/><circle cx="617.7" cy="47.8" r="3.15"/><circle cx="609.9" cy="94.5" r="3.15"/><circle cx="628" cy="114.8" r="3.15"/><circle cx="612.9" cy="85.3" r="3.15"/><circle cx="625.5" cy="125" r="3.15"/><circle cx="628.9" cy="121.1" r="3.15"/><circle cx="607.3" cy="92.3" r="3.15"/><circle cx="610.7" cy="69.7" r="3.15"/><circle cx="608" cy="47" r="3.15"/><circle cx="619.5" cy="129.4" r="3.15"/><circle cx="613.6" cy="118.9" r="3.15"/><circle cx="613.2" cy="143.9" r="3.15"/><circle cx="621.8" cy="127" r="3.15"/><circle cx="622.7" cy="75.8" r="3.15"/><circle cx="601.1" cy="121.2" r="3.15"/><circle cx="614.4" cy="80.3" r="3.15"/><circle cx="621.7" cy="82" r="3.15"/><circle cx="606.8" cy="108.3" r="3.15"/><circle cx="615.4" cy="120.2" r="3.15"/><circle cx="607.4" cy="55.7" r="3.15"/><circle cx="613.6" cy="102.3" r="3.15"/><circle cx="625.1" cy="45.7" r="3.15"/><circle cx="623.6" cy="96.2" r="3.15"/><circle cx="605.6" cy="149.1" r="3.15"/><circle cx="610" cy="97.5" r="3.15"/><circle cx="616" cy="152.7" r="3.15"/><circle cx="627.3" cy="71.3" r="3.15"/><circle cx="600.9" cy="114.7" r="3.15"/><circle cx="623.1" cy="63" r="3.15"/><circle cx="624.2" cy="43.7" r="3.15"/><circle cx="627.3" cy="66.1" r="3.15"/><circle cx="625.2" cy="71.6" r="3.15"/><circle cx="605.2" cy="46.2" r="3.15"/><circle cx="614.8" cy="127.2" r="3.15"/><circle cx="609" cy="42.5" r="3.15"/><circle cx="603.8" cy="116.5" r="3.15"/><circle cx="616" cy="84.9" r="3.15"/><circle cx="624.9" cy="53.6" r="3.15"/><circle cx="615.2" cy="136" r="3.15"/><circle cx="599.8" cy="88.6" r="3.15"/><circle cx="610" cy="45.1" r="3.15"/><circle cx="610.1" cy="137.6" r="3.15"/><circle cx="597.9" cy="96.3" r="3.15"/><circle cx="600.1" cy="108.3" r="3.15"/><circle cx="599.6" cy="88.5" r="3.15"/><circle cx="598.8" cy="94.4" r="3.15"/><circle cx="610" cy="64.1" r="3.15"/><circle cx="608.7" cy="152.4" r="3.15"/><circle cx="608.3" cy="154.8" r="3.15"/><circle cx="626.5" cy="66.7" r="3.15"/><circle cx="608.3" cy="95.2" r="3.15"/><circle cx="600.2" cy="100.6" r="3.15"/><circle cx="617" cy="112.5" r="3.15"/><circle cx="612" cy="92.4" r="3.15"/><circle cx="604.7" cy="52.6" r="3.15"/><circle cx="625.3" cy="64.4" r="3.15"/><circle cx="611.4" cy="118.6" r="3.15"/><circle cx="607.7" cy="52.2" r="3.15"/><circle cx="618.9" cy="117" r="3.15"/><circle cx="598.9" cy="81" r="3.15"/><circle cx="612.9" cy="111.5" r="3.15"/><circle cx="625.5" cy="102.4" r="3.15"/><circle cx="602.9" cy="143.3" r="3.15"/><circle cx="622" cy="87.4" r="3.15"/><circle cx="630.5" cy="96.6" r="3.15"/><circle cx="614.4" cy="63.4" r="3.15"/><circle cx="614.2" cy="42.3" r="3.15"/><circle cx="606.1" cy="59.9" r="3.15"/><circle cx="601.2" cy="119.5" r="3.15"/><circle cx="607.7" cy="150" r="3.15"/><circle cx="628.5" cy="108" r="3.15"/><circle cx="613.8" cy="109.1" r="3.15"/><circle cx="629.8" cy="127.6" r="3.15"/><circle cx="617.7" cy="79.4" r="3.15"/><circle cx="617.7" cy="64.9" r="3.15"/><circle cx="619.7" cy="102.2" r="3.15"/><circle cx="599.7" cy="78.3" r="3.15"/><circle cx="603" cy="85.5" r="3.15"/><circle cx="609.6" cy="106.4" r="3.15"/><circle cx="607.4" cy="125.4" r="3.15"/><circle cx="623.7" cy="73.6" r="3.15"/><circle cx="603.1" cy="118.9" r="3.15"/><circle cx="632.1" cy="114.5" r="3.15"/><circle cx="604.9" cy="112.5" r="3.15"/><circle cx="603.1" cy="93.4" r="3.15"/><circle cx="610.9" cy="90.5" r="3.15"/><circle cx="616.7" cy="69.5" r="3.15"/><circle cx="623" cy="138.7" r="3.15"/><circle cx="619.9" cy="111.8" r="3.15"/><circle cx="626.3" cy="125.2" r="3.15"/><circle cx="607.9" cy="53" r="3.15"/><circle cx="626.2" cy="123.4" r="3.15"/><circle cx="617.8" cy="82.1" r="3.15"/><circle cx="616" cy="146.3" r="3.15"/><circle cx="623.7" cy="132.2" r="3.15"/><circle cx="602.8" cy="127.6" r="3.15"/><circle cx="630.8" cy="112.9" r="3.15"/><circle cx="591.5" cy="141.5" r="3.15"/><circle cx="595" cy="136.5" r="3.15"/><circle cx="597" cy="53" r="3.15"/><circle cx="635.5" cy="90" r="3.15"/><circle cx="636" cy="108" r="3.15"/>
</g>
<g fill="#888888" stroke="#fff" stroke-width="0.65">
<circle cx="723.5" cy="79.9" r="3.15"/><circle cx="726.2" cy="153" r="3.15"/><circle cx="723.3" cy="157" r="3.15"/><circle cx="729.5" cy="69.1" r="3.15"/><circle cx="720.8" cy="142.9" r="3.15"/><circle cx="705.9" cy="59.8" r="3.15"/><circle cx="723.4" cy="50.9" r="3.15"/><circle cx="736" cy="80.7" r="3.15"/><circle cx="712.1" cy="46" r="3.15"/><circle cx="714.2" cy="103.9" r="3.15"/><circle cx="701.3" cy="69.6" r="3.15"/><circle cx="723.5" cy="160.9" r="3.15"/><circle cx="735.7" cy="92.4" r="3.15"/><circle cx="712.1" cy="93.1" r="3.15"/><circle cx="703.2" cy="77" r="3.15"/><circle cx="704.2" cy="140.4" r="3.15"/><circle cx="725.7" cy="85" r="3.15"/><circle cx="718.8" cy="132.5" r="3.15"/><circle cx="713.1" cy="141.4" r="3.15"/><circle cx="716.2" cy="139.4" r="3.15"/><circle cx="728.4" cy="75.4" r="3.15"/><circle cx="731.9" cy="72.1" r="3.15"/><circle cx="722" cy="169.2" r="3.15"/><circle cx="719.4" cy="137.7" r="3.15"/><circle cx="724" cy="155.3" r="3.15"/><circle cx="722.1" cy="127.4" r="3.15"/><circle cx="730.5" cy="103.6" r="3.15"/><circle cx="710.2" cy="64.2" r="3.15"/><circle cx="728.6" cy="130.6" r="3.15"/><circle cx="707.1" cy="77.2" r="3.15"/><circle cx="716" cy="140.7" r="3.15"/><circle cx="710.4" cy="139.4" r="3.15"/><circle cx="723.9" cy="136.5" r="3.15"/><circle cx="729.2" cy="142" r="3.15"/><circle cx="721.3" cy="76.2" r="3.15"/><circle cx="726.1" cy="71.2" r="3.15"/><circle cx="724.1" cy="95.8" r="3.15"/><circle cx="716.7" cy="104.4" r="3.15"/><circle cx="702.6" cy="91" r="3.15"/><circle cx="719.6" cy="109.8" r="3.15"/><circle cx="713.7" cy="56.9" r="3.15"/><circle cx="715.6" cy="69.2" r="3.15"/><circle cx="727.4" cy="66.5" r="3.15"/><circle cx="723.5" cy="107.9" r="3.15"/><circle cx="701.7" cy="74" r="3.15"/><circle cx="703.9" cy="116.7" r="3.15"/><circle cx="715.1" cy="127.1" r="3.15"/><circle cx="718.8" cy="48.7" r="3.15"/><circle cx="717.4" cy="127.4" r="3.15"/><circle cx="729.8" cy="76.3" r="3.15"/><circle cx="726.6" cy="135.5" r="3.15"/><circle cx="704.1" cy="119.2" r="3.15"/><circle cx="723.8" cy="95.5" r="3.15"/><circle cx="712.4" cy="52.2" r="3.15"/><circle cx="704.4" cy="76.6" r="3.15"/><circle cx="727.2" cy="54.9" r="3.15"/><circle cx="736" cy="115.4" r="3.15"/><circle cx="723.7" cy="73.2" r="3.15"/><circle cx="722.3" cy="88.8" r="3.15"/><circle cx="716.1" cy="104.8" r="3.15"/><circle cx="703" cy="98.9" r="3.15"/><circle cx="719.4" cy="119.3" r="3.15"/><circle cx="710.7" cy="125.9" r="3.15"/><circle cx="731.5" cy="114.9" r="3.15"/><circle cx="706.5" cy="48.6" r="3.15"/><circle cx="701.7" cy="87.9" r="3.15"/><circle cx="729.8" cy="133.9" r="3.15"/><circle cx="727.4" cy="95.3" r="3.15"/><circle cx="714.2" cy="54.6" r="3.15"/><circle cx="730.5" cy="110.4" r="3.15"/><circle cx="711.3" cy="141.8" r="3.15"/><circle cx="718.1" cy="87.6" r="3.15"/><circle cx="718.1" cy="147.7" r="3.15"/><circle cx="734.3" cy="85.5" r="3.15"/><circle cx="725.4" cy="44.7" r="3.15"/><circle cx="717.3" cy="90.9" r="3.15"/><circle cx="727.3" cy="71.1" r="3.15"/><circle cx="733.3" cy="116.3" r="3.15"/><circle cx="716.8" cy="78.3" r="3.15"/><circle cx="706.8" cy="54.7" r="3.15"/><circle cx="724.4" cy="151.6" r="3.15"/><circle cx="721" cy="79" r="3.15"/><circle cx="716.8" cy="102.9" r="3.15"/><circle cx="724.2" cy="144.7" r="3.15"/><circle cx="706.5" cy="125.8" r="3.15"/><circle cx="723" cy="138.1" r="3.15"/><circle cx="705.4" cy="60.8" r="3.15"/><circle cx="732.2" cy="57.8" r="3.15"/><circle cx="735.7" cy="98.5" r="3.15"/><circle cx="703.6" cy="98.3" r="3.15"/><circle cx="713.8" cy="101" r="3.15"/><circle cx="706.7" cy="131.2" r="3.15"/><circle cx="735.8" cy="124.3" r="3.15"/><circle cx="706" cy="137.3" r="3.15"/><circle cx="716.6" cy="76.8" r="3.15"/><circle cx="710.1" cy="132.1" r="3.15"/><circle cx="712.1" cy="104.5" r="3.15"/><circle cx="719.9" cy="123.6" r="3.15"/><circle cx="715.6" cy="103.9" r="3.15"/><circle cx="723.5" cy="138.6" r="3.15"/><circle cx="726.2" cy="138.3" r="3.15"/><circle cx="729.1" cy="138.7" r="3.15"/><circle cx="733" cy="136.2" r="3.15"/><circle cx="704" cy="140.5" r="3.15"/><circle cx="714.1" cy="151.8" r="3.15"/><circle cx="724.2" cy="100.9" r="3.15"/><circle cx="724.8" cy="128.7" r="3.15"/><circle cx="701.4" cy="126.5" r="3.15"/><circle cx="724.4" cy="87.3" r="3.15"/><circle cx="719.6" cy="102.1" r="3.15"/><circle cx="729.9" cy="117.2" r="3.15"/><circle cx="702.9" cy="85.1" r="3.15"/><circle cx="718.6" cy="129.9" r="3.15"/><circle cx="717.2" cy="46.1" r="3.15"/><circle cx="730.7" cy="138.2" r="3.15"/><circle cx="711.8" cy="130.7" r="3.15"/><circle cx="719.9" cy="50.2" r="3.15"/><circle cx="713.1" cy="122.2" r="3.15"/><circle cx="725.9" cy="132.2" r="3.15"/><circle cx="716.4" cy="114.3" r="3.15"/><circle cx="702.8" cy="80.4" r="3.15"/><circle cx="729.7" cy="136.4" r="3.15"/><circle cx="735.3" cy="76.2" r="3.15"/><circle cx="732.8" cy="127.4" r="3.15"/><circle cx="730.3" cy="149.5" r="3.15"/><circle cx="713.6" cy="153.1" r="3.15"/><circle cx="736.4" cy="94.7" r="3.15"/><circle cx="714.1" cy="68.7" r="3.15"/><circle cx="713.4" cy="98.8" r="3.15"/><circle cx="707.9" cy="89.9" r="3.15"/><circle cx="708.1" cy="70.5" r="3.15"/><circle cx="729.2" cy="77.1" r="3.15"/><circle cx="708.9" cy="118" r="3.15"/><circle cx="706.8" cy="139.1" r="3.15"/><circle cx="712.4" cy="103.4" r="3.15"/><circle cx="715" cy="151.5" r="3.15"/><circle cx="713" cy="52.5" r="3.15"/><circle cx="725.3" cy="130.9" r="3.15"/><circle cx="711.5" cy="68.6" r="3.15"/><circle cx="734.3" cy="104.8" r="3.15"/><circle cx="706.6" cy="93.7" r="3.15"/><circle cx="708.8" cy="150.3" r="3.15"/><circle cx="722" cy="166.9" r="3.15"/><circle cx="724.1" cy="58.6" r="3.15"/><circle cx="719.6" cy="72.5" r="3.15"/><circle cx="715.5" cy="147.2" r="3.15"/><circle cx="718.5" cy="114.3" r="3.15"/><circle cx="713.2" cy="142.6" r="3.15"/><circle cx="729.4" cy="54.8" r="3.15"/><circle cx="705.3" cy="84.3" r="3.15"/><circle cx="715.6" cy="163.1" r="3.15"/><circle cx="725.9" cy="44.5" r="3.15"/><circle cx="703.4" cy="111" r="3.15"/><circle cx="724" cy="84.8" r="3.15"/><circle cx="734.9" cy="73.7" r="3.15"/><circle cx="733.7" cy="60.8" r="3.15"/><circle cx="709.6" cy="149.8" r="3.15"/><circle cx="714.6" cy="133.9" r="3.15"/><circle cx="712.6" cy="127.6" r="3.15"/><circle cx="726.8" cy="59.1" r="3.15"/><circle cx="729" cy="88.2" r="3.15"/><circle cx="705.7" cy="107.4" r="3.15"/><circle cx="717.6" cy="150.4" r="3.15"/><circle cx="726" cy="146.6" r="3.15"/><circle cx="715.6" cy="146.5" r="3.15"/><circle cx="717.8" cy="74.3" r="3.15"/><circle cx="716.3" cy="107.5" r="3.15"/><circle cx="705.9" cy="104.2" r="3.15"/><circle cx="711.9" cy="115" r="3.15"/><circle cx="725.3" cy="132" r="3.15"/><circle cx="733.3" cy="108.6" r="3.15"/><circle cx="725.5" cy="88.8" r="3.15"/><circle cx="730.4" cy="113.4" r="3.15"/><circle cx="727.1" cy="165" r="3.15"/><circle cx="717.8" cy="47" r="3.15"/><circle cx="726.6" cy="70.2" r="3.15"/><circle cx="724.5" cy="80.4" r="3.15"/><circle cx="717.2" cy="89.3" r="3.15"/><circle cx="725.8" cy="136.3" r="3.15"/><circle cx="715.1" cy="148.5" r="3.15"/><circle cx="730.6" cy="123" r="3.15"/><circle cx="706.9" cy="116" r="3.15"/><circle cx="726" cy="84.1" r="3.15"/><circle cx="722" cy="71.2" r="3.15"/><circle cx="719.4" cy="62.6" r="3.15"/><circle cx="730.3" cy="117.7" r="3.15"/><circle cx="717.9" cy="63.2" r="3.15"/><circle cx="705.5" cy="95.8" r="3.15"/><circle cx="720.5" cy="160" r="3.15"/><circle cx="727.6" cy="100" r="3.15"/><circle cx="728.9" cy="119.7" r="3.15"/><circle cx="710.5" cy="120.4" r="3.15"/><circle cx="715.9" cy="102.2" r="3.15"/><circle cx="736.4" cy="97.6" r="3.15"/><circle cx="733.6" cy="83.3" r="3.15"/><circle cx="730.8" cy="63.3" r="3.15"/><circle cx="724.1" cy="67.1" r="3.15"/><circle cx="717.1" cy="169.6" r="3.15"/><circle cx="717.6" cy="55.1" r="3.15"/><circle cx="701.8" cy="128.9" r="3.15"/><circle cx="734.9" cy="129.3" r="3.15"/><circle cx="726.8" cy="45.7" r="3.15"/><circle cx="711.4" cy="106.2" r="3.15"/><circle cx="704.4" cy="103.8" r="3.15"/><circle cx="719.5" cy="44.4" r="3.15"/><circle cx="702.4" cy="136.1" r="3.15"/><circle cx="709.7" cy="85.1" r="3.15"/><circle cx="708.6" cy="88.7" r="3.15"/><circle cx="720.7" cy="162" r="3.15"/><circle cx="711.1" cy="112.8" r="3.15"/><circle cx="727.3" cy="71" r="3.15"/><circle cx="736" cy="96.7" r="3.15"/><circle cx="727.3" cy="121.6" r="3.15"/><circle cx="706.4" cy="134.3" r="3.15"/><circle cx="733.7" cy="113.6" r="3.15"/><circle cx="712.8" cy="112" r="3.15"/><circle cx="717.8" cy="46.3" r="3.15"/><circle cx="724.6" cy="56.2" r="3.15"/><circle cx="707.7" cy="128.8" r="3.15"/><circle cx="720.4" cy="107.4" r="3.15"/><circle cx="710.1" cy="82.6" r="3.15"/><circle cx="707.5" cy="47.3" r="3.15"/><circle cx="713.7" cy="88.4" r="3.15"/><circle cx="705.9" cy="94.4" r="3.15"/><circle cx="718.6" cy="163.3" r="3.15"/><circle cx="715.6" cy="64.2" r="3.15"/><circle cx="731.6" cy="126.3" r="3.15"/><circle cx="726.4" cy="166.9" r="3.15"/><circle cx="721.5" cy="151" r="3.15"/><circle cx="711.8" cy="70.5" r="3.15"/><circle cx="703" cy="68.4" r="3.15"/><circle cx="703.1" cy="64.8" r="3.15"/><circle cx="702.8" cy="78.1" r="3.15"/><circle cx="726.4" cy="135" r="3.15"/><circle cx="709.5" cy="101" r="3.15"/><circle cx="736.4" cy="116" r="3.15"/><circle cx="709.4" cy="90.9" r="3.15"/><circle cx="728.1" cy="54.4" r="3.15"/><circle cx="705.3" cy="130.1" r="3.15"/><circle cx="724.9" cy="98.1" r="3.15"/><circle cx="712.7" cy="113.4" r="3.15"/><circle cx="725" cy="150.7" r="3.15"/><circle cx="734.4" cy="85.8" r="3.15"/><circle cx="711.9" cy="82.5" r="3.15"/><circle cx="710.5" cy="80.9" r="3.15"/><circle cx="731" cy="146.4" r="3.15"/><circle cx="706.7" cy="120.7" r="3.15"/><circle cx="706.1" cy="87" r="3.15"/><circle cx="719" cy="99.1" r="3.15"/><circle cx="724.5" cy="72.1" r="3.15"/><circle cx="715.2" cy="168.2" r="3.15"/><circle cx="702.3" cy="110.6" r="3.15"/><circle cx="723.7" cy="58.8" r="3.15"/><circle cx="736.2" cy="104.9" r="3.15"/><circle cx="730.2" cy="83.9" r="3.15"/><circle cx="731.8" cy="133.9" r="3.15"/><circle cx="713.9" cy="52.2" r="3.15"/><circle cx="712.5" cy="44.9" r="3.15"/><circle cx="715.7" cy="53" r="3.15"/><circle cx="724.3" cy="137.4" r="3.15"/><circle cx="722.4" cy="68.1" r="3.15"/><circle cx="729.8" cy="61.8" r="3.15"/><circle cx="716.4" cy="48.8" r="3.15"/><circle cx="713.2" cy="74.7" r="3.15"/><circle cx="709.1" cy="128" r="3.15"/><circle cx="725.8" cy="146.7" r="3.15"/><circle cx="727.8" cy="136.7" r="3.15"/><circle cx="726.9" cy="58.5" r="3.15"/><circle cx="702.7" cy="103.9" r="3.15"/><circle cx="718.7" cy="80.7" r="3.15"/><circle cx="722.1" cy="138.9" r="3.15"/><circle cx="731.2" cy="77.1" r="3.15"/><circle cx="703.5" cy="97.2" r="3.15"/><circle cx="707.4" cy="123.2" r="3.15"/><circle cx="721.2" cy="59.1" r="3.15"/><circle cx="728.4" cy="60.8" r="3.15"/><circle cx="714.2" cy="135.8" r="3.15"/><circle cx="728.9" cy="160.5" r="3.15"/><circle cx="723.2" cy="142.8" r="3.15"/><circle cx="727.8" cy="140" r="3.15"/><circle cx="703.9" cy="142" r="3.15"/><circle cx="704.5" cy="83.2" r="3.15"/><circle cx="705.3" cy="117.4" r="3.15"/><circle cx="720.2" cy="147.5" r="3.15"/><circle cx="727.9" cy="77.2" r="3.15"/><circle cx="736.2" cy="109.1" r="3.15"/><circle cx="723.6" cy="164.2" r="3.15"/><circle cx="706.1" cy="87.5" r="3.15"/><circle cx="732.4" cy="67.6" r="3.15"/><circle cx="733.8" cy="138" r="3.15"/><circle cx="722.6" cy="102.4" r="3.15"/><circle cx="712.5" cy="103.6" r="3.15"/><circle cx="719.3" cy="141.5" r="3.15"/><circle cx="722.1" cy="128.9" r="3.15"/><circle cx="714" cy="149" r="3.15"/><circle cx="729.6" cy="68.4" r="3.15"/><circle cx="714.7" cy="128" r="3.15"/><circle cx="722.6" cy="86.9" r="3.15"/><circle cx="721.7" cy="120.7" r="3.15"/><circle cx="722.6" cy="125.2" r="3.15"/><circle cx="731.5" cy="147.1" r="3.15"/><circle cx="715.2" cy="48.8" r="3.15"/><circle cx="727.5" cy="120.3" r="3.15"/><circle cx="706.4" cy="93.9" r="3.15"/><circle cx="712.9" cy="97.6" r="3.15"/><circle cx="718.8" cy="108" r="3.15"/><circle cx="729.7" cy="92.3" r="3.15"/><circle cx="721.4" cy="104.8" r="3.15"/><circle cx="731" cy="122.2" r="3.15"/><circle cx="713.2" cy="155.1" r="3.15"/><circle cx="731.2" cy="45.5" r="3.15"/><circle cx="723.5" cy="54.6" r="3.15"/><circle cx="722" cy="93" r="3.15"/><circle cx="726" cy="148.4" r="3.15"/><circle cx="711.2" cy="125.8" r="3.15"/><circle cx="713" cy="78" r="3.15"/><circle cx="705.8" cy="91.4" r="3.15"/><circle cx="707" cy="116.5" r="3.15"/><circle cx="726.9" cy="96.5" r="3.15"/><circle cx="734.9" cy="109" r="3.15"/><circle cx="720.7" cy="79.3" r="3.15"/><circle cx="724.1" cy="73.8" r="3.15"/><circle cx="731.3" cy="133.2" r="3.15"/><circle cx="717" cy="129.3" r="3.15"/><circle cx="707.2" cy="114.8" r="3.15"/><circle cx="720.5" cy="160" r="3.15"/><circle cx="721.1" cy="135.9" r="3.15"/><circle cx="726.7" cy="163.8" r="3.15"/><circle cx="706.1" cy="82.1" r="3.15"/><circle cx="726.3" cy="76.5" r="3.15"/><circle cx="702.9" cy="115.1" r="3.15"/><circle cx="729.3" cy="105.6" r="3.15"/><circle cx="732.5" cy="84.5" r="3.15"/><circle cx="717.4" cy="74.3" r="3.15"/><circle cx="727.7" cy="104.5" r="3.15"/><circle cx="706.1" cy="87.1" r="3.15"/><circle cx="709.3" cy="76" r="3.15"/><circle cx="709" cy="103.6" r="3.15"/><circle cx="733.4" cy="61.2" r="3.15"/><circle cx="719.3" cy="146.6" r="3.15"/><circle cx="722.2" cy="168.8" r="3.15"/><circle cx="712.8" cy="70.8" r="3.15"/><circle cx="729.4" cy="69.1" r="3.15"/><circle cx="721.7" cy="95.7" r="3.15"/><circle cx="701.7" cy="114.8" r="3.15"/><circle cx="712.4" cy="83.3" r="3.15"/><circle cx="728.6" cy="66.3" r="3.15"/><circle cx="719" cy="167.3" r="3.15"/><circle cx="727" cy="143.7" r="3.15"/><circle cx="716.3" cy="100.7" r="3.15"/><circle cx="717" cy="72" r="3.15"/><circle cx="723.7" cy="131.6" r="3.15"/><circle cx="708.8" cy="90.9" r="3.15"/><circle cx="720.4" cy="95.3" r="3.15"/><circle cx="707.7" cy="141.5" r="3.15"/><circle cx="711.2" cy="144.8" r="3.15"/><circle cx="719.8" cy="109" r="3.15"/><circle cx="713.9" cy="151.7" r="3.15"/><circle cx="715.7" cy="132.3" r="3.15"/><circle cx="726.8" cy="156.9" r="3.15"/><circle cx="714.6" cy="163.9" r="3.15"/><circle cx="725.1" cy="48.7" r="3.15"/><circle cx="716.8" cy="129.2" r="3.15"/><circle cx="718.4" cy="81.4" r="3.15"/><circle cx="720.9" cy="82.5" r="3.15"/><circle cx="723.3" cy="160" r="3.15"/><circle cx="704.5" cy="60.2" r="3.15"/><circle cx="707.8" cy="65.6" r="3.15"/><circle cx="715.1" cy="114.9" r="3.15"/><circle cx="732" cy="143.9" r="3.15"/><circle cx="718.4" cy="71.3" r="3.15"/><circle cx="717.9" cy="77.6" r="3.15"/><circle cx="727" cy="118.6" r="3.15"/><circle cx="703.9" cy="117.5" r="3.15"/><circle cx="706.2" cy="84.7" r="3.15"/><circle cx="705.1" cy="70.6" r="3.15"/><circle cx="730.1" cy="44.7" r="3.15"/><circle cx="707.9" cy="116.6" r="3.15"/><circle cx="701.6" cy="125.9" r="3.15"/><circle cx="718.4" cy="112.2" r="3.15"/><circle cx="728.3" cy="75.3" r="3.15"/><circle cx="703.8" cy="93.9" r="3.15"/><circle cx="733.7" cy="85.1" r="3.15"/><circle cx="708.6" cy="61.1" r="3.15"/><circle cx="722.4" cy="136.9" r="3.15"/><circle cx="722.2" cy="63.3" r="3.15"/><circle cx="728.4" cy="65.9" r="3.15"/><circle cx="719.9" cy="165.8" r="3.15"/><circle cx="706.7" cy="112.6" r="3.15"/><circle cx="726.5" cy="72.9" r="3.15"/><circle cx="712.3" cy="107.4" r="3.15"/><circle cx="719.3" cy="89.3" r="3.15"/><circle cx="710.2" cy="144.3" r="3.15"/><circle cx="704.9" cy="87.3" r="3.15"/><circle cx="717.1" cy="57.8" r="3.15"/><circle cx="722.3" cy="151.3" r="3.15"/><circle cx="724.5" cy="112.6" r="3.15"/><circle cx="713.6" cy="137.9" r="3.15"/><circle cx="732.5" cy="60.3" r="3.15"/><circle cx="705.5" cy="146.7" r="3.15"/><circle cx="706.4" cy="113.8" r="3.15"/><circle cx="721.4" cy="52.9" r="3.15"/><circle cx="716.8" cy="108.7" r="3.15"/><circle cx="735.7" cy="107.8" r="3.15"/><circle cx="713.9" cy="116" r="3.15"/><circle cx="721.8" cy="160.2" r="3.15"/><circle cx="717.7" cy="137.9" r="3.15"/><circle cx="724.8" cy="146.9" r="3.15"/><circle cx="706.8" cy="149.4" r="3.15"/><circle cx="730.5" cy="108" r="3.15"/><circle cx="713.3" cy="125.3" r="3.15"/><circle cx="713.7" cy="137.9" r="3.15"/><circle cx="709" cy="106.6" r="3.15"/><circle cx="719.4" cy="80.2" r="3.15"/><circle cx="716.7" cy="104.6" r="3.15"/><circle cx="707.8" cy="65" r="3.15"/><circle cx="705.7" cy="121.4" r="3.15"/><circle cx="727.3" cy="78.6" r="3.15"/><circle cx="708.8" cy="59.6" r="3.15"/><circle cx="706.9" cy="123.2" r="3.15"/><circle cx="709.3" cy="90.8" r="3.15"/><circle cx="706.4" cy="121.3" r="3.15"/><circle cx="711.9" cy="44.9" r="3.15"/><circle cx="724.4" cy="140.5" r="3.15"/><circle cx="721.6" cy="61.5" r="3.15"/><circle cx="704.7" cy="71.7" r="3.15"/><circle cx="703.1" cy="74.5" r="3.15"/><circle cx="719.7" cy="149.5" r="3.15"/><circle cx="705.7" cy="100.6" r="3.15"/><circle cx="708.1" cy="135.9" r="3.15"/><circle cx="709.7" cy="116.8" r="3.15"/><circle cx="704.8" cy="86.8" r="3.15"/><circle cx="706.1" cy="97.4" r="3.15"/><circle cx="734.2" cy="71.9" r="3.15"/><circle cx="715.1" cy="148.3" r="3.15"/><circle cx="713.4" cy="128.6" r="3.15"/><circle cx="733" cy="52.8" r="3.15"/><circle cx="732.2" cy="114.2" r="3.15"/><circle cx="717.5" cy="63" r="3.15"/><circle cx="717.7" cy="139.5" r="3.15"/><circle cx="704.3" cy="88.5" r="3.15"/><circle cx="731.6" cy="116.1" r="3.15"/><circle cx="704.1" cy="92.7" r="3.15"/><circle cx="719.4" cy="146.5" r="3.15"/><circle cx="712.8" cy="155.9" r="3.15"/><circle cx="735.3" cy="101.4" r="3.15"/><circle cx="728.6" cy="104" r="3.15"/><circle cx="726.4" cy="139" r="3.15"/><circle cx="718" cy="58.2" r="3.15"/><circle cx="721.1" cy="164.9" r="3.15"/><circle cx="712.8" cy="161.7" r="3.15"/><circle cx="716.3" cy="86.6" r="3.15"/><circle cx="708.1" cy="136.9" r="3.15"/><circle cx="728.8" cy="161.9" r="3.15"/><circle cx="717.4" cy="113" r="3.15"/><circle cx="728.9" cy="56.1" r="3.15"/><circle cx="707.9" cy="96.9" r="3.15"/><circle cx="704.7" cy="57.8" r="3.15"/><circle cx="706.8" cy="58.4" r="3.15"/><circle cx="703.6" cy="93.6" r="3.15"/><circle cx="719.3" cy="157.4" r="3.15"/><circle cx="730.4" cy="154.9" r="3.15"/><circle cx="716.9" cy="107.8" r="3.15"/><circle cx="711.9" cy="82.7" r="3.15"/><circle cx="730.4" cy="94.1" r="3.15"/><circle cx="716.8" cy="69.2" r="3.15"/><circle cx="721.4" cy="110.8" r="3.15"/><circle cx="722.4" cy="95.9" r="3.15"/><circle cx="709.1" cy="100.7" r="3.15"/><circle cx="711.9" cy="58.8" r="3.15"/><circle cx="718.6" cy="102.1" r="3.15"/><circle cx="715.3" cy="79.3" r="3.15"/><circle cx="712.8" cy="143.6" r="3.15"/><circle cx="724.7" cy="166.4" r="3.15"/><circle cx="725.9" cy="82.9" r="3.15"/><circle cx="732.3" cy="137.2" r="3.15"/><circle cx="714.5" cy="153.6" r="3.15"/><circle cx="716.9" cy="83.9" r="3.15"/><circle cx="715.9" cy="100.3" r="3.15"/><circle cx="715.5" cy="131.8" r="3.15"/><circle cx="707.3" cy="107.4" r="3.15"/><circle cx="733.4" cy="66.5" r="3.15"/><circle cx="724.2" cy="90.5" r="3.15"/><circle cx="725.2" cy="78.5" r="3.15"/><circle cx="711.4" cy="120.6" r="3.15"/><circle cx="714.1" cy="128.1" r="3.15"/><circle cx="725.8" cy="45.5" r="3.15"/><circle cx="715.8" cy="66.6" r="3.15"/><circle cx="730.4" cy="84.9" r="3.15"/><circle cx="729.1" cy="58.2" r="3.15"/><circle cx="701.7" cy="110.3" r="3.15"/><circle cx="710" cy="62.3" r="3.15"/><circle cx="709.1" cy="115.6" r="3.15"/><circle cx="720.2" cy="70.8" r="3.15"/><circle cx="701.4" cy="102.2" r="3.15"/><circle cx="723.4" cy="104.4" r="3.15"/><circle cx="710.8" cy="111.3" r="3.15"/><circle cx="717" cy="66.2" r="3.15"/><circle cx="733.4" cy="105.1" r="3.15"/><circle cx="727.8" cy="108.7" r="3.15"/><circle cx="727.1" cy="74.2" r="3.15"/><circle cx="727.9" cy="95.4" r="3.15"/><circle cx="703.4" cy="63.5" r="3.15"/><circle cx="729.4" cy="48.6" r="3.15"/><circle cx="714.3" cy="76.5" r="3.15"/><circle cx="731.2" cy="61.5" r="3.15"/><circle cx="721.4" cy="129.9" r="3.15"/><circle cx="735.9" cy="91.8" r="3.15"/><circle cx="708.3" cy="100.7" r="3.15"/><circle cx="731.3" cy="74.6" r="3.15"/><circle cx="718.9" cy="111.3" r="3.15"/><circle cx="718.7" cy="168.7" r="3.15"/><circle cx="711.2" cy="47.6" r="3.15"/><circle cx="712.4" cy="161.1" r="3.15"/><circle cx="716.4" cy="134.1" r="3.15"/><circle cx="736.4" cy="102.4" r="3.15"/><circle cx="704.2" cy="67.1" r="3.15"/><circle cx="723.5" cy="142.7" r="3.15"/><circle cx="711.1" cy="150.2" r="3.15"/><circle cx="716.9" cy="144.6" r="3.15"/><circle cx="732.4" cy="50.4" r="3.15"/><circle cx="701.6" cy="92.4" r="3.15"/><circle cx="716.9" cy="92.7" r="3.15"/><circle cx="714.8" cy="127.3" r="3.15"/><circle cx="715.7" cy="68.5" r="3.15"/><circle cx="719.5" cy="57" r="3.15"/><circle cx="706.5" cy="53" r="3.15"/><circle cx="723.7" cy="156.8" r="3.15"/><circle cx="719.7" cy="135.7" r="3.15"/><circle cx="726.7" cy="138.4" r="3.15"/><circle cx="723.5" cy="57.7" r="3.15"/><circle cx="727.7" cy="154.2" r="3.15"/><circle cx="712.2" cy="94.2" r="3.15"/><circle cx="711.8" cy="127.2" r="3.15"/><circle cx="701.3" cy="68.5" r="3.15"/><circle cx="718.8" cy="56" r="3.15"/><circle cx="715.4" cy="102.6" r="3.15"/><circle cx="719" cy="132.5" r="3.15"/><circle cx="734.9" cy="80.3" r="3.15"/><circle cx="708.6" cy="55.2" r="3.15"/><circle cx="716" cy="146.5" r="3.15"/><circle cx="702.8" cy="129.8" r="3.15"/><circle cx="714.4" cy="142.3" r="3.15"/><circle cx="728" cy="164.8" r="3.15"/><circle cx="734" cy="67.5" r="3.15"/><circle cx="715.8" cy="157.9" r="3.15"/><circle cx="728.9" cy="51.3" r="3.15"/><circle cx="726.7" cy="106.3" r="3.15"/><circle cx="716.3" cy="50.9" r="3.15"/><circle cx="709.9" cy="75.5" r="3.15"/><circle cx="722.1" cy="81.8" r="3.15"/><circle cx="721.2" cy="168.3" r="3.15"/><circle cx="720.6" cy="129.3" r="3.15"/><circle cx="711" cy="73.7" r="3.15"/><circle cx="730.1" cy="77.4" r="3.15"/><circle cx="713.6" cy="89" r="3.15"/><circle cx="734.5" cy="104.2" r="3.15"/><circle cx="728.5" cy="144.7" r="3.15"/><circle cx="726" cy="153.7" r="3.15"/><circle cx="711.7" cy="61.4" r="3.15"/><circle cx="702.4" cy="90.8" r="3.15"/><circle cx="710.8" cy="144.7" r="3.15"/><circle cx="726.9" cy="105.5" r="3.15"/><circle cx="727" cy="116.7" r="3.15"/><circle cx="707.5" cy="72.8" r="3.15"/><circle cx="730.2" cy="88.7" r="3.15"/><circle cx="707.9" cy="151.1" r="3.15"/><circle cx="726.3" cy="97.8" r="3.15"/><circle cx="723.3" cy="119.8" r="3.15"/><circle cx="734.2" cy="128.4" r="3.15"/><circle cx="715.3" cy="117.4" r="3.15"/><circle cx="701.3" cy="72.9" r="3.15"/><circle cx="722.5" cy="92.9" r="3.15"/><circle cx="721.2" cy="66.3" r="3.15"/><circle cx="724.3" cy="74.2" r="3.15"/><circle cx="713.5" cy="110" r="3.15"/><circle cx="717.8" cy="115.3" r="3.15"/><circle cx="724.2" cy="147.2" r="3.15"/><circle cx="712.2" cy="98.7" r="3.15"/><circle cx="732.9" cy="144.8" r="3.15"/><circle cx="734.6" cy="87.6" r="3.15"/><circle cx="720.4" cy="91.8" r="3.15"/><circle cx="713.7" cy="151.8" r="3.15"/><circle cx="705.3" cy="72.8" r="3.15"/><circle cx="715" cy="139.6" r="3.15"/><circle cx="729.3" cy="156.5" r="3.15"/><circle cx="707.2" cy="47.8" r="3.15"/><circle cx="708.3" cy="135.9" r="3.15"/><circle cx="734.3" cy="94" r="3.15"/><circle cx="706.7" cy="50.5" r="3.15"/><circle cx="734.1" cy="66" r="3.15"/><circle cx="702.8" cy="110.8" r="3.15"/><circle cx="728.2" cy="71.7" r="3.15"/><circle cx="711.9" cy="121.8" r="3.15"/><circle cx="705.2" cy="147.8" r="3.15"/><circle cx="720.6" cy="157.8" r="3.15"/><circle cx="711.7" cy="149.6" r="3.15"/><circle cx="736.3" cy="69.8" r="3.15"/><circle cx="705.9" cy="49.2" r="3.15"/><circle cx="721.6" cy="164" r="3.15"/><circle cx="728.1" cy="89.5" r="3.15"/><circle cx="704.8" cy="82.2" r="3.15"/><circle cx="720.6" cy="96.4" r="3.15"/><circle cx="717.1" cy="159.1" r="3.15"/><circle cx="724.8" cy="51.1" r="3.15"/><circle cx="732.9" cy="79.3" r="3.15"/><circle cx="710.3" cy="135.2" r="3.15"/><circle cx="718.4" cy="58.7" r="3.15"/><circle cx="708.2" cy="142.6" r="3.15"/><circle cx="733.1" cy="120.6" r="3.15"/><circle cx="717.8" cy="100.4" r="3.15"/><circle cx="725.8" cy="143.6" r="3.15"/><circle cx="726.2" cy="133.6" r="3.15"/><circle cx="707.4" cy="105.2" r="3.15"/><circle cx="732.1" cy="59.6" r="3.15"/><circle cx="719.7" cy="168.3" r="3.15"/><circle cx="736.1" cy="116.9" r="3.15"/><circle cx="717.7" cy="97.9" r="3.15"/><circle cx="701.3" cy="99.6" r="3.15"/><circle cx="717.1" cy="114" r="3.15"/><circle cx="710.6" cy="107.9" r="3.15"/><circle cx="722.1" cy="62.2" r="3.15"/><circle cx="709.5" cy="148.7" r="3.15"/><circle cx="704.7" cy="50.3" r="3.15"/><circle cx="716.1" cy="70.7" r="3.15"/><circle cx="728.3" cy="93.1" r="3.15"/><circle cx="718.3" cy="71.1" r="3.15"/><circle cx="715.4" cy="143.3" r="3.15"/><circle cx="706.9" cy="116.6" r="3.15"/><circle cx="702.7" cy="90" r="3.15"/><circle cx="720.8" cy="62.6" r="3.15"/><circle cx="720.4" cy="138.3" r="3.15"/><circle cx="714.3" cy="50.1" r="3.15"/><circle cx="720.2" cy="120" r="3.15"/><circle cx="726.9" cy="106.1" r="3.15"/><circle cx="712.4" cy="126.6" r="3.15"/><circle cx="725.4" cy="120.6" r="3.15"/><circle cx="725.9" cy="126.3" r="3.15"/><circle cx="724.5" cy="166.3" r="3.15"/><circle cx="732.1" cy="136.3" r="3.15"/><circle cx="711.7" cy="74.9" r="3.15"/><circle cx="714.6" cy="107.4" r="3.15"/><circle cx="709.7" cy="102" r="3.15"/><circle cx="730.5" cy="86.8" r="3.15"/><circle cx="721.2" cy="76.5" r="3.15"/><circle cx="720.5" cy="74.5" r="3.15"/><circle cx="707.2" cy="52.2" r="3.15"/><circle cx="713.4" cy="122.1" r="3.15"/><circle cx="706.8" cy="105.9" r="3.15"/><circle cx="705" cy="90.3" r="3.15"/><circle cx="707.5" cy="79.8" r="3.15"/><circle cx="717.6" cy="97.1" r="3.15"/><circle cx="712.4" cy="126.4" r="3.15"/><circle cx="711.5" cy="74.7" r="3.15"/><circle cx="712.9" cy="130.1" r="3.15"/><circle cx="732" cy="56.6" r="3.15"/><circle cx="710.2" cy="98.7" r="3.15"/><circle cx="735" cy="66.8" r="3.15"/><circle cx="735.2" cy="102.4" r="3.15"/><circle cx="705.2" cy="81.7" r="3.15"/><circle cx="733.9" cy="103.8" r="3.15"/><circle cx="710.3" cy="69.3" r="3.15"/><circle cx="720.1" cy="125.2" r="3.15"/><circle cx="706.3" cy="140.7" r="3.15"/><circle cx="730.1" cy="99.5" r="3.15"/><circle cx="704.4" cy="88.3" r="3.15"/><circle cx="728.4" cy="151.1" r="3.15"/><circle cx="732.4" cy="103" r="3.15"/><circle cx="732.4" cy="50" r="3.15"/><circle cx="734.7" cy="105.5" r="3.15"/><circle cx="717.9" cy="163.4" r="3.15"/><circle cx="728.1" cy="45.5" r="3.15"/><circle cx="710.5" cy="137.8" r="3.15"/><circle cx="723.2" cy="149.9" r="3.15"/><circle cx="734" cy="119.4" r="3.15"/><circle cx="721.6" cy="123.5" r="3.15"/><circle cx="710.8" cy="148.4" r="3.15"/><circle cx="731.1" cy="66.3" r="3.15"/><circle cx="706.2" cy="48.6" r="3.15"/><circle cx="734.8" cy="126.4" r="3.15"/><circle cx="720.5" cy="56.5" r="3.15"/><circle cx="726.7" cy="117" r="3.15"/><circle cx="725.8" cy="78" r="3.15"/><circle cx="729.4" cy="159.8" r="3.15"/><circle cx="707.5" cy="138.9" r="3.15"/><circle cx="711.3" cy="127.2" r="3.15"/><circle cx="733.7" cy="125.7" r="3.15"/><circle cx="705.5" cy="119.1" r="3.15"/><circle cx="723.7" cy="49.9" r="3.15"/><circle cx="712.5" cy="136.6" r="3.15"/><circle cx="714.5" cy="53.3" r="3.15"/><circle cx="730.3" cy="89.2" r="3.15"/><circle cx="704.9" cy="94" r="3.15"/><circle cx="722.5" cy="77.8" r="3.15"/><circle cx="719.5" cy="58.9" r="3.15"/><circle cx="736.5" cy="100.8" r="3.15"/><circle cx="725.7" cy="138.9" r="3.15"/><circle cx="710.1" cy="94.9" r="3.15"/><circle cx="723" cy="109.6" r="3.15"/><circle cx="728.4" cy="127.4" r="3.15"/><circle cx="712.8" cy="115.6" r="3.15"/><circle cx="732.7" cy="128.1" r="3.15"/><circle cx="730.7" cy="137.3" r="3.15"/><circle cx="720.1" cy="52.2" r="3.15"/><circle cx="708" cy="136.2" r="3.15"/><circle cx="703.9" cy="96.1" r="3.15"/><circle cx="708.1" cy="85.8" r="3.15"/><circle cx="725.1" cy="110.6" r="3.15"/><circle cx="727.6" cy="156.8" r="3.15"/><circle cx="712.3" cy="86.1" r="3.15"/><circle cx="723.5" cy="103" r="3.15"/><circle cx="722.4" cy="132.4" r="3.15"/><circle cx="724.3" cy="80.6" r="3.15"/><circle cx="719.2" cy="135" r="3.15"/><circle cx="726.3" cy="138.1" r="3.15"/><circle cx="721.4" cy="65.1" r="3.15"/><circle cx="730.1" cy="119.6" r="3.15"/><circle cx="709.5" cy="155.2" r="3.15"/><circle cx="724" cy="161" r="3.15"/><circle cx="732.5" cy="68.3" r="3.15"/><circle cx="708.5" cy="56.5" r="3.15"/><circle cx="723.6" cy="99.7" r="3.15"/><circle cx="721.3" cy="128.6" r="3.15"/><circle cx="706.7" cy="107.9" r="3.15"/><circle cx="732.1" cy="81.5" r="3.15"/><circle cx="734.3" cy="105.2" r="3.15"/><circle cx="718.7" cy="67.7" r="3.15"/><circle cx="720" cy="59.2" r="3.15"/><circle cx="701.7" cy="110.3" r="3.15"/><circle cx="719.1" cy="141.3" r="3.15"/><circle cx="732.1" cy="137.8" r="3.15"/><circle cx="711.4" cy="47.5" r="3.15"/><circle cx="727" cy="85.8" r="3.15"/><circle cx="706.4" cy="59.9" r="3.15"/><circle cx="714.8" cy="79.4" r="3.15"/><circle cx="721.2" cy="122.9" r="3.15"/><circle cx="731.8" cy="60.3" r="3.15"/><circle cx="728.9" cy="159.9" r="3.15"/><circle cx="728.7" cy="83.7" r="3.15"/><circle cx="723.3" cy="65.7" r="3.15"/><circle cx="732.5" cy="129" r="3.15"/><circle cx="711.3" cy="117.7" r="3.15"/><circle cx="721" cy="143.9" r="3.15"/><circle cx="731.2" cy="146.9" r="3.15"/><circle cx="702.8" cy="124.1" r="3.15"/><circle cx="720.4" cy="64.9" r="3.15"/><circle cx="728.1" cy="141.9" r="3.15"/><circle cx="719.4" cy="106.8" r="3.15"/><circle cx="721.7" cy="138" r="3.15"/><circle cx="733" cy="104.6" r="3.15"/><circle cx="721.8" cy="148.6" r="3.15"/><circle cx="718.1" cy="58.4" r="3.15"/><circle cx="724.8" cy="156" r="3.15"/><circle cx="719.8" cy="126" r="3.15"/><circle cx="729" cy="138.5" r="3.15"/><circle cx="728.5" cy="82.1" r="3.15"/><circle cx="725.3" cy="62" r="3.15"/><circle cx="726.7" cy="83.8" r="3.15"/><circle cx="705.6" cy="99.7" r="3.15"/><circle cx="706" cy="64" r="3.15"/><circle cx="709.6" cy="91" r="3.15"/><circle cx="732.6" cy="88.7" r="3.15"/><circle cx="731.5" cy="123.3" r="3.15"/><circle cx="712.9" cy="88.3" r="3.15"/><circle cx="736.7" cy="121.9" r="3.15"/><circle cx="727.5" cy="114.6" r="3.15"/><circle cx="718.5" cy="130.8" r="3.15"/><circle cx="725.4" cy="153.5" r="3.15"/><circle cx="704.1" cy="71.2" r="3.15"/><circle cx="705" cy="50.9" r="3.15"/><circle cx="701.3" cy="92.9" r="3.15"/><circle cx="723.6" cy="96.9" r="3.15"/><circle cx="707.2" cy="137.8" r="3.15"/><circle cx="710.2" cy="151.7" r="3.15"/><circle cx="712.4" cy="45.5" r="3.15"/><circle cx="710.2" cy="51.3" r="3.15"/><circle cx="729.4" cy="64.6" r="3.15"/><circle cx="709" cy="69.8" r="3.15"/><circle cx="717" cy="157.1" r="3.15"/><circle cx="735.4" cy="107.9" r="3.15"/><circle cx="711.8" cy="44.2" r="3.15"/><circle cx="713.1" cy="162.2" r="3.15"/><circle cx="707.7" cy="106.8" r="3.15"/><circle cx="721.7" cy="69" r="3.15"/><circle cx="725" cy="108.5" r="3.15"/><circle cx="717.2" cy="73.4" r="3.15"/><circle cx="710.6" cy="153.5" r="3.15"/><circle cx="703.1" cy="104.3" r="3.15"/><circle cx="713.9" cy="122.2" r="3.15"/><circle cx="722.1" cy="163.3" r="3.15"/><circle cx="719.3" cy="68.1" r="3.15"/><circle cx="712.3" cy="57.4" r="3.15"/><circle cx="711.1" cy="94.3" r="3.15"/><circle cx="729.8" cy="132.8" r="3.15"/><circle cx="709.3" cy="95" r="3.15"/><circle cx="712.7" cy="149.2" r="3.15"/><circle cx="707" cy="147" r="3.15"/><circle cx="731" cy="93.1" r="3.15"/><circle cx="720.1" cy="144.9" r="3.15"/><circle cx="725.4" cy="113.3" r="3.15"/><circle cx="723.1" cy="153" r="3.15"/><circle cx="718.8" cy="98.8" r="3.15"/><circle cx="707.6" cy="111.1" r="3.15"/><circle cx="722.3" cy="153.3" r="3.15"/><circle cx="728.2" cy="114.5" r="3.15"/><circle cx="720" cy="99" r="3.15"/><circle cx="724.9" cy="63.5" r="3.15"/><circle cx="729.4" cy="112.2" r="3.15"/><circle cx="726.2" cy="56.2" r="3.15"/><circle cx="726.1" cy="144.5" r="3.15"/><circle cx="731.8" cy="112.6" r="3.15"/><circle cx="730.2" cy="51.2" r="3.15"/><circle cx="733.6" cy="82.7" r="3.15"/><circle cx="711.8" cy="161.6" r="3.15"/><circle cx="701.9" cy="125.8" r="3.15"/><circle cx="733.1" cy="109.9" r="3.15"/><circle cx="704.4" cy="137.6" r="3.15"/><circle cx="730.3" cy="64.1" r="3.15"/><circle cx="708.6" cy="133.8" r="3.15"/><circle cx="733.4" cy="143" r="3.15"/><circle cx="713" cy="181" r="3.15"/><circle cx="717.3" cy="180" r="3.15"/><circle cx="721" cy="179" r="3.15"/><circle cx="725" cy="177.6" r="3.15"/><circle cx="695" cy="72" r="3.15"/><circle cx="696.5" cy="65" r="3.15"/><circle cx="742" cy="60" r="3.15"/><circle cx="743" cy="88" r="3.15"/><circle cx="694.5" cy="150" r="3.15"/><circle cx="743" cy="143" r="3.15"/>
</g>
<line x1="580.5" y1="103.2" x2="647.7" y2="103.2" stroke="#111" stroke-width="0.7"/>
<line x1="685.4" y1="100.3" x2="752.2" y2="100.3" stroke="#111" stroke-width="0.7"/>
<rect x="561.7" y="27" width="209.6" height="171.2" fill="none" stroke="#3c3c3c" stroke-width="1.2"/>
<text x="556.5" y="52.4" font-size="10" text-anchor="end">1.0</text>
<text x="556.5" y="95.1" font-size="10" text-anchor="end">0.5</text>
<text x="556.5" y="137.7" font-size="10" text-anchor="end">0.0</text>
<text x="556.5" y="180.4" font-size="10" text-anchor="end">−0.5</text>
<path d="M558.3 49h3.4M558.3 91.7h3.4M558.3 134.3h3.4M558.3 177h3.4M559.7 70.3h2M559.7 113h2M559.7 155.6h2" stroke="#3c3c3c" stroke-width="1.1" fill="none"/>
<text x="614.1" y="212.4" font-size="10.3" text-anchor="middle">RS</text>
<text x="718.8" y="212.4" font-size="10.3" text-anchor="middle">CS</text>
<path d="M614.1 198.2v3.4M718.8 198.2v3.4" stroke="#3c3c3c" stroke-width="1.1" fill="none"/>
<text x="534" y="112.5" font-size="11.8" text-anchor="middle" transform="rotate(-90 534 112.5)">Stochastic Ratio</text>
<text x="528" y="46" font-size="15" text-anchor="start">g</text>
</g>
<g id="panel-j">
<path d="M871.5 52.8h22.8v22.6h-22.8zM871.5 75.4h22.8v22.6h-22.8zM894.3 75.4h22.8v22.6h-22.8zM871.5 97.9h22.8v22.6h-22.8zM894.3 97.9h22.8v22.6h-22.8zM917.1 97.9h22.8v22.6h-22.8zM871.5 120.5h22.8v22.6h-22.8zM894.3 120.5h22.8v22.6h-22.8zM917.1 120.5h22.8v22.6h-22.8zM939.8 120.5h22.8v22.6h-22.8zM871.5 143h22.8v22.6h-22.8zM894.3 143h22.8v22.6h-22.8zM917.1 143h22.8v22.6h-22.8zM939.8 143h22.8v22.6h-22.8zM962.6 143h22.8v22.6h-22.8zM871.5 165.6h22.8v22.6h-22.8zM894.3 165.6h22.8v22.6h-22.8zM917.1 165.6h22.8v22.6h-22.8zM939.8 165.6h22.8v22.6h-22.8zM962.6 165.6h22.8v22.6h-22.8zM985.4 165.6h22.8v22.6h-22.8zM871.5 188.2h22.8v22.6h-22.8zM894.3 188.2h22.8v22.6h-22.8zM917.1 188.2h22.8v22.6h-22.8zM939.8 188.2h22.8v22.6h-22.8zM962.6 188.2h22.8v22.6h-22.8zM985.4 188.2h22.8v22.6h-22.8zM1008.2 188.2h22.8v22.6h-22.8zM871.5 210.7h22.8v22.6h-22.8zM894.3 210.7h22.8v22.6h-22.8zM917.1 210.7h22.8v22.6h-22.8zM939.8 210.7h22.8v22.6h-22.8zM962.6 210.7h22.8v22.6h-22.8zM985.4 210.7h22.8v22.6h-22.8zM1008.2 210.7h22.8v22.6h-22.8zM1031 210.7h22.8v22.6h-22.8zM871.5 233.3h22.8v22.6h-22.8zM894.3 233.3h22.8v22.6h-22.8zM917.1 233.3h22.8v22.6h-22.8zM939.8 233.3h22.8v22.6h-22.8zM962.6 233.3h22.8v22.6h-22.8zM985.4 233.3h22.8v22.6h-22.8zM1008.2 233.3h22.8v22.6h-22.8zM1031 233.3h22.8v22.6h-22.8zM1053.7 233.3h22.8v22.6h-22.8zM871.5 255.8h22.8v22.6h-22.8zM894.3 255.8h22.8v22.6h-22.8zM917.1 255.8h22.8v22.6h-22.8zM939.8 255.8h22.8v22.6h-22.8zM962.6 255.8h22.8v22.6h-22.8zM985.4 255.8h22.8v22.6h-22.8zM1008.2 255.8h22.8v22.6h-22.8zM1031 255.8h22.8v22.6h-22.8zM1053.7 255.8h22.8v22.6h-22.8zM1076.5 255.8h22.8v22.6h-22.8zM871.5 278.4h22.8v22.6h-22.8zM894.3 278.4h22.8v22.6h-22.8zM917.1 278.4h22.8v22.6h-22.8zM939.8 278.4h22.8v22.6h-22.8zM962.6 278.4h22.8v22.6h-22.8zM985.4 278.4h22.8v22.6h-22.8zM1008.2 278.4h22.8v22.6h-22.8zM1031 278.4h22.8v22.6h-22.8zM1053.7 278.4h22.8v22.6h-22.8zM1076.5 278.4h22.8v22.6h-22.8zM1099.3 278.4h22.8v22.6h-22.8z" fill="#fff" stroke="#adadad" stroke-width="0.75"/>
<rect x="873.52" y="54.71" width="18.73" height="18.73" fill="#eb0e06" stroke="#444" stroke-opacity="0.6" stroke-width="0.5"/>
<rect x="875.23" y="78.98" width="15.33" height="15.33" fill="#686185" stroke="#444" stroke-opacity="0.6" stroke-width="0.5"/>
<rect x="904.61" y="85.58" width="2.13" height="2.13" fill="#aa5157" stroke="#444" stroke-opacity="0.6" stroke-width="0.5"/>
<rect x="874.37" y="100.68" width="17.03" height="17.03" fill="#516490" stroke="#444" stroke-opacity="0.6" stroke-width="0.5"/>
<rect x="896.30" y="99.83" width="18.73" height="18.73" fill="#336699" stroke="#444" stroke-opacity="0.6" stroke-width="0.5"/>
<rect x="926.53" y="107.28" width="3.83" height="3.83" fill="#ac5055" stroke="#444" stroke-opacity="0.6" stroke-width="0.5"/>
<rect x="880.23" y="129.10" width="5.32" height="5.32" fill="#af4f52" stroke="#444" stroke-opacity="0.6" stroke-width="0.5"/>
<rect x="897.58" y="123.67" width="16.18" height="16.18" fill="#5e638a" stroke="#444" stroke-opacity="0.6" stroke-width="0.5"/>
<rect x="920.57" y="123.88" width="15.75" height="15.75" fill="#636287" stroke="#444" stroke-opacity="0.6" stroke-width="0.5"/>
<rect x="946.44" y="126.97" width="9.58" height="9.58" fill="#bc4846" stroke="#444" stroke-opacity="0.6" stroke-width="0.5"/>
<rect x="876.72" y="148.15" width="12.35" height="12.35" fill="#835d75" stroke="#444" stroke-opacity="0.6" stroke-width="0.5"/>
<rect x="898.01" y="146.66" width="15.33" height="15.33" fill="#686185" stroke="#444" stroke-opacity="0.6" stroke-width="0.5"/>
<rect x="927.39" y="153.26" width="2.13" height="2.13" fill="#aa5157" stroke="#444" stroke-opacity="0.6" stroke-width="0.5"/>
<rect x="941.65" y="144.74" width="19.16" height="19.16" fill="#ee0000" stroke="#444" stroke-opacity="0.6" stroke-width="0.5"/>
<rect x="970.82" y="151.13" width="6.39" height="6.39" fill="#b14e50" stroke="#444" stroke-opacity="0.6" stroke-width="0.5"/>
<rect x="873.31" y="167.30" width="19.16" height="19.16" fill="#ee0000" stroke="#444" stroke-opacity="0.6" stroke-width="0.5"/>
<rect x="896.94" y="168.15" width="17.46" height="17.46" fill="#e32317" stroke="#444" stroke-opacity="0.6" stroke-width="0.5"/>
<rect x="921.53" y="169.96" width="13.84" height="13.84" fill="#775f7c" stroke="#444" stroke-opacity="0.6" stroke-width="0.5"/>
<rect x="945.06" y="170.71" width="12.35" height="12.35" fill="#835d75" stroke="#444" stroke-opacity="0.6" stroke-width="0.5"/>
<rect x="969.96" y="172.83" width="8.09" height="8.09" fill="#9a5764" stroke="#444" stroke-opacity="0.6" stroke-width="0.5"/>
<rect x="993.38" y="173.47" width="6.81" height="6.81" fill="#9e5560" stroke="#444" stroke-opacity="0.6" stroke-width="0.5"/>
<rect x="878.63" y="195.18" width="8.52" height="8.52" fill="#985765" stroke="#444" stroke-opacity="0.6" stroke-width="0.5"/>
<rect x="902.26" y="196.03" width="6.81" height="6.81" fill="#b34d4e" stroke="#444" stroke-opacity="0.6" stroke-width="0.5"/>
<rect x="923.34" y="194.33" width="10.22" height="10.22" fill="#be4743" stroke="#444" stroke-opacity="0.6" stroke-width="0.5"/>
<rect x="948.04" y="196.25" width="6.39" height="6.39" fill="#a0555f" stroke="#444" stroke-opacity="0.6" stroke-width="0.5"/>
<rect x="971.46" y="196.89" width="5.11" height="5.11" fill="#a3545c" stroke="#444" stroke-opacity="0.6" stroke-width="0.5"/>
<rect x="993.38" y="196.03" width="6.81" height="6.81" fill="#b34d4e" stroke="#444" stroke-opacity="0.6" stroke-width="0.5"/>
<rect x="1016.59" y="196.46" width="5.96" height="5.96" fill="#a1545e" stroke="#444" stroke-opacity="0.6" stroke-width="0.5"/>
<rect x="880.23" y="219.34" width="5.32" height="5.32" fill="#a2545d" stroke="#444" stroke-opacity="0.6" stroke-width="0.5"/>
<rect x="899.07" y="215.40" width="13.20" height="13.20" fill="#7d5e79" stroke="#444" stroke-opacity="0.6" stroke-width="0.5"/>
<rect x="928.02" y="221.57" width="0.85" height="0.85" fill="#a95157" stroke="#444" stroke-opacity="0.6" stroke-width="0.5"/>
<rect x="943.99" y="214.76" width="14.48" height="14.48" fill="#d2382e" stroke="#444" stroke-opacity="0.6" stroke-width="0.5"/>
<rect x="971.67" y="219.66" width="4.68" height="4.68" fill="#ad5053" stroke="#444" stroke-opacity="0.6" stroke-width="0.5"/>
<rect x="987.74" y="212.95" width="18.10" height="18.10" fill="#e71a10" stroke="#444" stroke-opacity="0.6" stroke-width="0.5"/>
<rect x="1015.10" y="217.53" width="8.94" height="8.94" fill="#965867" stroke="#444" stroke-opacity="0.6" stroke-width="0.5"/>
<rect x="1038.09" y="217.74" width="8.52" height="8.52" fill="#b84b49" stroke="#444" stroke-opacity="0.6" stroke-width="0.5"/>
<rect x="875.97" y="237.64" width="13.84" height="13.84" fill="#cf3b32" stroke="#444" stroke-opacity="0.6" stroke-width="0.5"/>
<rect x="902.48" y="241.37" width="6.39" height="6.39" fill="#b14e50" stroke="#444" stroke-opacity="0.6" stroke-width="0.5"/>
<rect x="924.62" y="240.73" width="7.66" height="7.66" fill="#9b5663" stroke="#444" stroke-opacity="0.6" stroke-width="0.5"/>
<rect x="947.40" y="240.73" width="7.66" height="7.66" fill="#9b5663" stroke="#444" stroke-opacity="0.6" stroke-width="0.5"/>
<rect x="971.03" y="241.58" width="5.96" height="5.96" fill="#a1545e" stroke="#444" stroke-opacity="0.6" stroke-width="0.5"/>
<rect x="994.66" y="242.43" width="4.26" height="4.26" fill="#ad5054" stroke="#444" stroke-opacity="0.6" stroke-width="0.5"/>
<rect x="1017.65" y="242.64" width="3.83" height="3.83" fill="#a5535a" stroke="#444" stroke-opacity="0.6" stroke-width="0.5"/>
<rect x="1040.43" y="242.64" width="3.83" height="3.83" fill="#ac5055" stroke="#444" stroke-opacity="0.6" stroke-width="0.5"/>
<rect x="1059.17" y="238.60" width="11.92" height="11.92" fill="#c6423c" stroke="#444" stroke-opacity="0.6" stroke-width="0.5"/>
<rect x="881.19" y="265.42" width="3.41" height="3.41" fill="#ab5055" stroke="#444" stroke-opacity="0.6" stroke-width="0.5"/>
<rect x="900.88" y="262.33" width="9.58" height="9.58" fill="#935969" stroke="#444" stroke-opacity="0.6" stroke-width="0.5"/>
<rect x="923.13" y="261.80" width="10.64" height="10.64" fill="#8e5a6d" stroke="#444" stroke-opacity="0.6" stroke-width="0.5"/>
<rect x="946.33" y="262.22" width="9.79" height="9.79" fill="#92596a" stroke="#444" stroke-opacity="0.6" stroke-width="0.5"/>
<rect x="969.54" y="262.65" width="8.94" height="8.94" fill="#b94a48" stroke="#444" stroke-opacity="0.6" stroke-width="0.5"/>
<rect x="992.32" y="262.65" width="8.94" height="8.94" fill="#965867" stroke="#444" stroke-opacity="0.6" stroke-width="0.5"/>
<rect x="1017.44" y="264.99" width="4.26" height="4.26" fill="#ad5054" stroke="#444" stroke-opacity="0.6" stroke-width="0.5"/>
<rect x="1036.39" y="261.16" width="11.92" height="11.92" fill="#865c73" stroke="#444" stroke-opacity="0.6" stroke-width="0.5"/>
<rect x="1062.36" y="264.35" width="5.54" height="5.54" fill="#af4f52" stroke="#444" stroke-opacity="0.6" stroke-width="0.5"/>
<rect x="1084.93" y="264.14" width="5.96" height="5.96" fill="#a1545e" stroke="#444" stroke-opacity="0.6" stroke-width="0.5"/>
<rect x="875.86" y="282.65" width="14.05" height="14.05" fill="#755f7e" stroke="#444" stroke-opacity="0.6" stroke-width="0.5"/>
<rect x="897.79" y="281.80" width="15.75" height="15.75" fill="#636287" stroke="#444" stroke-opacity="0.6" stroke-width="0.5"/>
<rect x="925.68" y="286.91" width="5.54" height="5.54" fill="#a2545d" stroke="#444" stroke-opacity="0.6" stroke-width="0.5"/>
<rect x="945.27" y="283.72" width="11.92" height="11.92" fill="#c6423c" stroke="#444" stroke-opacity="0.6" stroke-width="0.5"/>
<rect x="972.95" y="288.62" width="2.13" height="2.13" fill="#aa5157" stroke="#444" stroke-opacity="0.6" stroke-width="0.5"/>
<rect x="991.47" y="284.36" width="10.64" height="10.64" fill="#c04641" stroke="#444" stroke-opacity="0.6" stroke-width="0.5"/>
<rect x="1013.40" y="283.51" width="12.35" height="12.35" fill="#835d75" stroke="#444" stroke-opacity="0.6" stroke-width="0.5"/>
<rect x="1039.16" y="286.49" width="6.39" height="6.39" fill="#b14e50" stroke="#444" stroke-opacity="0.6" stroke-width="0.5"/>
<rect x="1060.02" y="284.57" width="10.22" height="10.22" fill="#be4743" stroke="#444" stroke-opacity="0.6" stroke-width="0.5"/>
<rect x="1083.44" y="285.21" width="8.94" height="8.94" fill="#965867" stroke="#444" stroke-opacity="0.6" stroke-width="0.5"/>
<rect x="1104.52" y="283.51" width="12.35" height="12.35" fill="#c8413a" stroke="#444" stroke-opacity="0.6" stroke-width="0.5"/>
<path d="M882.4 41.8Q981 29.4 1076.2 57.6" fill="none" stroke="#d0d0d0" stroke-width="0.8"/>
<path d="M905.2 64.3Q990 43 1076.2 57.6" fill="none" stroke="#d0d0d0" stroke-width="0.8"/>
<path d="M950.8 109.5Q1008.1 70.4 1076.2 57.6" fill="none" stroke="#d0d0d0" stroke-width="0.8"/>
<path d="M950.8 109.5Q1054.1 103 1151.2 138.6" fill="none" stroke="#d0d0d0" stroke-width="0.8"/>
<path d="M973.6 132Q1063.1 116.7 1151.2 138.6" fill="none" stroke="#d0d0d0" stroke-width="0.8"/>
<path d="M996.4 154.6Q1026.1 97.7 1076.2 57.6" fill="none" stroke="#d0d0d0" stroke-width="0.8"/>
<path d="M996.4 154.6Q1072.2 130.3 1151.2 138.6" fill="none" stroke="#d0d0d0" stroke-width="0.8"/>
<path d="M996.4 154.6Q1118.4 163.1 1226.7 220" fill="none" stroke="#d0d0d0" stroke-width="0.8"/>
<path d="M1042.1 199.6Q1074.1 132.2 1076.2 57.6" fill="none" stroke="#d0d0d0" stroke-width="0.8"/>
<path d="M1042.1 199.6Q1103 180.6 1151.2 138.6" fill="none" stroke="#d0d0d0" stroke-width="0.8"/>
<path d="M1064.9 222.2Q1087.8 141.1 1076.2 57.6" fill="none" stroke="#d0d0d0" stroke-width="0.8"/>
<path d="M1087.7 244.8Q1099.7 150.1 1076.2 57.6" fill="none" stroke="#d0d0d0" stroke-width="0.8"/>
<path d="M1087.7 244.8Q1129.5 197.7 1151.2 138.6" fill="none" stroke="#d0d0d0" stroke-width="0.8"/>
<path d="M1133.3 289.9Q1123.3 169.2 1076.2 57.6" fill="none" stroke="#d0d0d0" stroke-width="0.8"/>
<path d="M1133.3 289.9Q1154.4 215.7 1151.2 138.6" fill="none" stroke="#d0d0d0" stroke-width="0.8"/>
<path d="M882.4 41.8Q1027 62 1151.2 138.6" fill="none" stroke="#1b9e77" stroke-width="1.05"/>
<path d="M973.6 132Q1017.1 84 1076.2 57.6" fill="none" stroke="#1b9e77" stroke-width="1.05"/>
<path d="M1019.3 177.1Q1035.2 111.4 1076.2 57.6" fill="none" stroke="#1b9e77" stroke-width="1.05"/>
<path d="M1064.9 222.2Q1146 238.1 1226.7 220" fill="none" stroke="#1b9e77" stroke-width="1.05"/>
<path d="M1110.5 267.3Q1113.3 159.2 1076.2 57.6" fill="none" stroke="#1b9e77" stroke-width="1.05"/>
<path d="M1110.5 267.3Q1143.1 206.8 1151.2 138.6" fill="none" stroke="#1b9e77" stroke-width="1.05"/>
<path d="M905.2 64.3Q1036 75.6 1151.2 138.6" fill="none" stroke="#d95f02" stroke-width="1.05"/>
<path d="M928 86.9Q999 56.7 1076.2 57.6" fill="none" stroke="#d95f02" stroke-width="1.05"/>
<path d="M950.8 109.5Q1100.4 135.8 1226.7 220" fill="none" stroke="#d95f02" stroke-width="1.05"/>
<path d="M1019.3 177.1Q1081.2 144 1151.2 138.6" fill="none" stroke="#d95f02" stroke-width="1.05"/>
<path d="M1042.1 199.6Q1132.2 229.2 1226.7 220" fill="none" stroke="#d95f02" stroke-width="1.05"/>
<path d="M1064.9 222.2Q1116.8 189.5 1151.2 138.6" fill="none" stroke="#d95f02" stroke-width="1.05"/>
<path d="M1087.7 244.8Q1159.5 245.6 1226.7 220" fill="none" stroke="#d95f02" stroke-width="1.05"/>
<path d="M1110.5 267.3Q1173.1 254.7 1226.7 220" fill="none" stroke="#d95f02" stroke-width="1.05"/>
<path d="M1133.3 289.9Q1185.6 262.4 1226.7 220" fill="none" stroke="#d95f02" stroke-width="1.05"/>
<path d="M905.2 64.3Q1082.3 108.4 1226.7 220" fill="none" stroke="#d95f02" stroke-width="1.9"/>
<path d="M928 86.9Q1045 89.3 1151.2 138.6" fill="none" stroke="#d95f02" stroke-width="1.9"/>
<path d="M973.6 132Q1109.4 149.4 1226.7 220" fill="none" stroke="#d95f02" stroke-width="1.9"/>
<path d="M1019.3 177.1Q1127.5 176.8 1226.7 220" fill="none" stroke="#d95f02" stroke-width="1.9"/>
<path d="M882.4 41.8Q1073.3 94.7 1226.7 220" fill="none" stroke="#d95f02" stroke-width="2.3"/>
<path d="M928 86.9Q1091.3 122.1 1226.7 220" fill="none" stroke="#d95f02" stroke-width="3.9"/>
<circle cx="882.4" cy="41.8" r="2.3" fill="#f00028" stroke="#3a1fff" stroke-width="1.2"/>
<circle cx="905.2" cy="64.3" r="2.3" fill="#f00028" stroke="#3a1fff" stroke-width="1.2"/>
<circle cx="928" cy="86.9" r="2.3" fill="#f00028" stroke="#3a1fff" stroke-width="1.2"/>
<circle cx="950.8" cy="109.5" r="2.3" fill="#f00028" stroke="#3a1fff" stroke-width="1.2"/>
<circle cx="973.6" cy="132" r="2.3" fill="#f00028" stroke="#3a1fff" stroke-width="1.2"/>
<circle cx="996.4" cy="154.6" r="2.3" fill="#f00028" stroke="#3a1fff" stroke-width="1.2"/>
<circle cx="1019.3" cy="177.1" r="2.3" fill="#f00028" stroke="#3a1fff" stroke-width="1.2"/>
<circle cx="1042.1" cy="199.6" r="2.3" fill="#f00028" stroke="#3a1fff" stroke-width="1.2"/>
<circle cx="1064.9" cy="222.2" r="2.3" fill="#f00028" stroke="#3a1fff" stroke-width="1.2"/>
<circle cx="1087.7" cy="244.8" r="2.3" fill="#f00028" stroke="#3a1fff" stroke-width="1.2"/>
<circle cx="1110.5" cy="267.3" r="2.3" fill="#f00028" stroke="#3a1fff" stroke-width="1.2"/>
<circle cx="1133.3" cy="289.9" r="2.3" fill="#f00028" stroke="#3a1fff" stroke-width="1.2"/>
<circle cx="1076.2" cy="57.6" r="2.3" fill="#f00028" stroke="#3a1fff" stroke-width="1.2"/>
<circle cx="1151.2" cy="138.6" r="2.3" fill="#f00028" stroke="#3a1fff" stroke-width="1.2"/>
<circle cx="1226.7" cy="220" r="2.3" fill="#f00028" stroke="#3a1fff" stroke-width="1.2"/>
<text x="865.5" y="43.6" font-size="9.4" text-anchor="end">MAP</text>
<text x="865.5" y="66.4" font-size="9.4" text-anchor="end">MAT</text>
<text x="865.5" y="89.2" font-size="9.4" text-anchor="end">pH</text>
<text x="865.5" y="112" font-size="9.4" text-anchor="end">TC</text>
<text x="865.5" y="134.8" font-size="9.4" text-anchor="end">DOC</text>
<text x="865.5" y="157.7" font-size="9.4" text-anchor="end">TN</text>
<text x="865.5" y="180.5" font-size="9.4" text-anchor="end">NH<tspan font-size="6.2" dy="2.2">4</tspan><tspan font-size="6.2" dy="-5.6">+</tspan></text>
<text x="865.5" y="203.3" font-size="9.4" text-anchor="end">NO<tspan font-size="6.2" dy="2.2">3</tspan><tspan font-size="6.2" dy="-5.6">-</tspan></text>
<text x="865.5" y="226.1" font-size="9.4" text-anchor="end">TP</text>
<text x="865.5" y="248.9" font-size="9.4" text-anchor="end">AP</text>
<text x="865.5" y="271.7" font-size="9.4" text-anchor="end">TK</text>
<text x="865.5" y="294.5" font-size="9.4" text-anchor="end">AK</text>
<text x="885.6" y="307.2" font-size="9.4" text-anchor="end" transform="rotate(-90 885.6 307.2)">MAP</text>
<text x="908.4" y="307.2" font-size="9.4" text-anchor="end" transform="rotate(-90 908.4 307.2)">MAT</text>
<text x="931.2" y="307.2" font-size="9.4" text-anchor="end" transform="rotate(-90 931.2 307.2)">pH</text>
<text x="953.9" y="307.2" font-size="9.4" text-anchor="end" transform="rotate(-90 953.9 307.2)">TC</text>
<text x="976.7" y="307.2" font-size="9.4" text-anchor="end" transform="rotate(-90 976.7 307.2)">DOC</text>
<text x="999.5" y="307.2" font-size="9.4" text-anchor="end" transform="rotate(-90 999.5 307.2)">TN</text>
<text x="1022.3" y="307.2" font-size="9.4" text-anchor="end" transform="rotate(-90 1022.3 307.2)">NH<tspan font-size="6.2" dy="2.2">4</tspan><tspan font-size="6.2" dy="-5.6">+</tspan></text>
<text x="1045.1" y="307.2" font-size="9.4" text-anchor="end" transform="rotate(-90 1045.1 307.2)">NO<tspan font-size="6.2" dy="2.2">3</tspan><tspan font-size="6.2" dy="-5.6">-</tspan></text>
<text x="1067.8" y="307.2" font-size="9.4" text-anchor="end" transform="rotate(-90 1067.8 307.2)">TP</text>
<text x="1090.6" y="307.2" font-size="9.4" text-anchor="end" transform="rotate(-90 1090.6 307.2)">AP</text>
<text x="1113.4" y="307.2" font-size="9.4" text-anchor="end" transform="rotate(-90 1113.4 307.2)">TK</text>
<text x="1136.2" y="307.2" font-size="9.4" text-anchor="end" transform="rotate(-90 1136.2 307.2)">AK</text>
<line x1="848.8" y1="95.2" x2="848.8" y2="81.2" stroke="#000" stroke-width="1.3"/>
<path d="M848.8 77.2L846.2 84.4L851.4 84.4Z" fill="#000"/>
<line x1="839.9" y1="167.7" x2="839.9" y2="181.7" stroke="#000" stroke-width="1.3"/>
<path d="M839.9 185.7L837.3 178.5L842.5 178.5Z" fill="#000"/>
<line x1="846.7" y1="258" x2="846.7" y2="272.5" stroke="#000" stroke-width="1.3"/>
<path d="M846.7 276.5L844.1 269.3L849.3 269.3Z" fill="#000"/>
<text x="1082.6" y="59.2" font-size="13.15" text-anchor="start">Viral diversity</text>
<text x="1140.6" y="127" font-size="13.15" text-anchor="start">Viral richness</text>
<text x="1149.8" y="207.7" font-size="13.15" text-anchor="start">Viral community</text>
<text x="797" y="44" font-size="14.5" text-anchor="start">j</text>
<text x="788.9" y="66.2" font-size="9.2" text-anchor="start">Mantel’s <tspan font-style="italic">P</tspan></text>
<rect x="788" y="70.8" width="13.9" height="40.8" fill="#f2f2f2"/>
<line x1="789.4" y1="77.6" x2="800.5" y2="77.6" stroke="#d95f02" stroke-width="0.9"/>
<line x1="789.4" y1="91.3" x2="800.5" y2="91.3" stroke="#1b9e77" stroke-width="0.9"/>
<line x1="789.4" y1="104.8" x2="800.5" y2="104.8" stroke="#dcdcdc" stroke-width="0.9"/>
<text x="805.8" y="80.7" font-size="9.2" text-anchor="start">&lt; 0.01</text>
<text x="805.8" y="94.5" font-size="9.2" text-anchor="start">0.01-0.05</text>
<text x="805.8" y="107.6" font-size="9.2" text-anchor="start">&gt;= 0.05</text>
<text x="788.9" y="136.5" font-size="9.2" text-anchor="start">Mantel’s r</text>
<rect x="788" y="141.2" width="13.9" height="40.8" fill="#f2f2f2"/>
<line x1="789.4" y1="148.2" x2="800.5" y2="148.2" stroke="#4d4d4d" stroke-width="0.85"/>
<line x1="789.4" y1="161.6" x2="800.5" y2="161.6" stroke="#4d4d4d" stroke-width="1.4"/>
<line x1="789.4" y1="175.4" x2="800.5" y2="175.4" stroke="#4d4d4d" stroke-width="3.3"/>
<text x="805.8" y="151.2" font-size="9.2" text-anchor="start">&lt; 0.05</text>
<text x="805.8" y="164.6" font-size="9.2" text-anchor="start">0.05-0.1</text>
<text x="805.8" y="177.9" font-size="9.2" text-anchor="start">&gt;= 0.1</text>
<text x="788.9" y="207.6" font-size="9.2" text-anchor="start">Pearson’s r</text>
<linearGradient id="cbj" x1="0" y1="0" x2="0" y2="1"><stop offset="0%" stop-color="#ee0000"/><stop offset="10%" stop-color="#e22519"/><stop offset="20%" stop-color="#d5352a"/><stop offset="30%" stop-color="#c84139"/><stop offset="40%" stop-color="#ba4947"/><stop offset="50%" stop-color="#ac5055"/><stop offset="60%" stop-color="#9c5662"/><stop offset="70%" stop-color="#8a5b70"/><stop offset="80%" stop-color="#765f7d"/><stop offset="90%" stop-color="#5c638b"/><stop offset="100%" stop-color="#336699"/></linearGradient>
<rect x="787.9" y="212" width="14.1" height="67.8" fill="url(#cbj)"/>
<line x1="787.9" y1="217.3" x2="790.7" y2="217.3" stroke="#fff" stroke-width="0.5" stroke-opacity="0.7"/>
<line x1="799.2" y1="217.3" x2="802" y2="217.3" stroke="#fff" stroke-width="0.5" stroke-opacity="0.7"/>
<text x="805.8" y="220.3" font-size="9.2" text-anchor="start">0.6</text>
<line x1="787.9" y1="232.4" x2="790.7" y2="232.4" stroke="#fff" stroke-width="0.5" stroke-opacity="0.7"/>
<line x1="799.2" y1="232.4" x2="802" y2="232.4" stroke="#fff" stroke-width="0.5" stroke-opacity="0.7"/>
<text x="805.8" y="235.4" font-size="9.2" text-anchor="start">0.3</text>
<line x1="787.9" y1="247.3" x2="790.7" y2="247.3" stroke="#fff" stroke-width="0.5" stroke-opacity="0.7"/>
<line x1="799.2" y1="247.3" x2="802" y2="247.3" stroke="#fff" stroke-width="0.5" stroke-opacity="0.7"/>
<text x="805.8" y="250.3" font-size="9.2" text-anchor="start">0</text>
<line x1="787.9" y1="262.3" x2="790.7" y2="262.3" stroke="#fff" stroke-width="0.5" stroke-opacity="0.7"/>
<line x1="799.2" y1="262.3" x2="802" y2="262.3" stroke="#fff" stroke-width="0.5" stroke-opacity="0.7"/>
<text x="805.8" y="265.3" font-size="9.2" text-anchor="start">-0.3</text>
<line x1="787.9" y1="277.3" x2="790.7" y2="277.3" stroke="#fff" stroke-width="0.5" stroke-opacity="0.7"/>
<line x1="799.2" y1="277.3" x2="802" y2="277.3" stroke="#fff" stroke-width="0.5" stroke-opacity="0.7"/>
<text x="805.8" y="280.3" font-size="9.2" text-anchor="start">-0.6</text>
</g>
<g id="panel-k">
<path d="M871.5 374h22.8v22.6h-22.8zM871.5 396.6h22.8v22.6h-22.8zM894.3 396.6h22.8v22.6h-22.8zM871.5 419.1h22.8v22.6h-22.8zM894.3 419.1h22.8v22.6h-22.8zM917.1 419.1h22.8v22.6h-22.8zM871.5 441.7h22.8v22.6h-22.8zM894.3 441.7h22.8v22.6h-22.8zM917.1 441.7h22.8v22.6h-22.8zM939.8 441.7h22.8v22.6h-22.8zM871.5 464.2h22.8v22.6h-22.8zM894.3 464.2h22.8v22.6h-22.8zM917.1 464.2h22.8v22.6h-22.8zM939.8 464.2h22.8v22.6h-22.8zM962.6 464.2h22.8v22.6h-22.8zM871.5 486.8h22.8v22.6h-22.8zM894.3 486.8h22.8v22.6h-22.8zM917.1 486.8h22.8v22.6h-22.8zM939.8 486.8h22.8v22.6h-22.8zM962.6 486.8h22.8v22.6h-22.8zM985.4 486.8h22.8v22.6h-22.8zM871.5 509.4h22.8v22.6h-22.8zM894.3 509.4h22.8v22.6h-22.8zM917.1 509.4h22.8v22.6h-22.8zM939.8 509.4h22.8v22.6h-22.8zM962.6 509.4h22.8v22.6h-22.8zM985.4 509.4h22.8v22.6h-22.8zM1008.2 509.4h22.8v22.6h-22.8zM871.5 531.9h22.8v22.6h-22.8zM894.3 531.9h22.8v22.6h-22.8zM917.1 531.9h22.8v22.6h-22.8zM939.8 531.9h22.8v22.6h-22.8zM962.6 531.9h22.8v22.6h-22.8zM985.4 531.9h22.8v22.6h-22.8zM1008.2 531.9h22.8v22.6h-22.8zM1031 531.9h22.8v22.6h-22.8zM871.5 554.5h22.8v22.6h-22.8zM894.3 554.5h22.8v22.6h-22.8zM917.1 554.5h22.8v22.6h-22.8zM939.8 554.5h22.8v22.6h-22.8zM962.6 554.5h22.8v22.6h-22.8zM985.4 554.5h22.8v22.6h-22.8zM1008.2 554.5h22.8v22.6h-22.8zM1031 554.5h22.8v22.6h-22.8zM1053.7 554.5h22.8v22.6h-22.8zM871.5 577h22.8v22.6h-22.8zM894.3 577h22.8v22.6h-22.8zM917.1 577h22.8v22.6h-22.8zM939.8 577h22.8v22.6h-22.8zM962.6 577h22.8v22.6h-22.8zM985.4 577h22.8v22.6h-22.8zM1008.2 577h22.8v22.6h-22.8zM1031 577h22.8v22.6h-22.8zM1053.7 577h22.8v22.6h-22.8zM1076.5 577h22.8v22.6h-22.8zM871.5 599.6h22.8v22.6h-22.8zM894.3 599.6h22.8v22.6h-22.8zM917.1 599.6h22.8v22.6h-22.8zM939.8 599.6h22.8v22.6h-22.8zM962.6 599.6h22.8v22.6h-22.8zM985.4 599.6h22.8v22.6h-22.8zM1008.2 599.6h22.8v22.6h-22.8zM1031 599.6h22.8v22.6h-22.8zM1053.7 599.6h22.8v22.6h-22.8zM1076.5 599.6h22.8v22.6h-22.8zM1099.3 599.6h22.8v22.6h-22.8z" fill="#fff" stroke="#adadad" stroke-width="0.75"/>
<rect x="873.74" y="376.13" width="18.31" height="18.31" fill="#df2a1d" stroke="#444" stroke-opacity="0.6" stroke-width="0.5"/>
<rect x="875.01" y="399.96" width="15.75" height="15.75" fill="#4c6492" stroke="#444" stroke-opacity="0.6" stroke-width="0.5"/>
<rect x="902.48" y="404.65" width="6.39" height="6.39" fill="#935969" stroke="#444" stroke-opacity="0.6" stroke-width="0.5"/>
<rect x="877.35" y="424.86" width="11.07" height="11.07" fill="#b74b4a" stroke="#444" stroke-opacity="0.6" stroke-width="0.5"/>
<rect x="902.26" y="426.99" width="6.81" height="6.81" fill="#a75259" stroke="#444" stroke-opacity="0.6" stroke-width="0.5"/>
<rect x="924.40" y="426.35" width="8.09" height="8.09" fill="#ab5055" stroke="#444" stroke-opacity="0.6" stroke-width="0.5"/>
<rect x="880.12" y="450.19" width="5.54" height="5.54" fill="#955867" stroke="#444" stroke-opacity="0.6" stroke-width="0.5"/>
<rect x="899.07" y="446.36" width="13.20" height="13.20" fill="#6c6183" stroke="#444" stroke-opacity="0.6" stroke-width="0.5"/>
<rect x="925.04" y="449.55" width="6.81" height="6.81" fill="#92596a" stroke="#444" stroke-opacity="0.6" stroke-width="0.5"/>
<rect x="948.89" y="450.62" width="4.68" height="4.68" fill="#985766" stroke="#444" stroke-opacity="0.6" stroke-width="0.5"/>
<rect x="878.63" y="471.26" width="8.52" height="8.52" fill="#8b5b6f" stroke="#444" stroke-opacity="0.6" stroke-width="0.5"/>
<rect x="898.86" y="468.71" width="13.63" height="13.63" fill="#686185" stroke="#444" stroke-opacity="0.6" stroke-width="0.5"/>
<rect x="924.83" y="471.90" width="7.24" height="7.24" fill="#a95158" stroke="#444" stroke-opacity="0.6" stroke-width="0.5"/>
<rect x="941.01" y="465.30" width="20.44" height="20.44" fill="#ed0301" stroke="#444" stroke-opacity="0.6" stroke-width="0.5"/>
<rect x="968.16" y="469.67" width="11.71" height="11.71" fill="#ba4947" stroke="#444" stroke-opacity="0.6" stroke-width="0.5"/>
<rect x="878.21" y="493.40" width="9.37" height="9.37" fill="#b04e51" stroke="#444" stroke-opacity="0.6" stroke-width="0.5"/>
<rect x="902.26" y="494.67" width="6.81" height="6.81" fill="#92596a" stroke="#444" stroke-opacity="0.6" stroke-width="0.5"/>
<rect x="921.85" y="491.48" width="13.20" height="13.20" fill="#6c6183" stroke="#444" stroke-opacity="0.6" stroke-width="0.5"/>
<rect x="948.68" y="495.53" width="5.11" height="5.11" fill="#a3545d" stroke="#444" stroke-opacity="0.6" stroke-width="0.5"/>
<rect x="971.24" y="495.31" width="5.54" height="5.54" fill="#a4535c" stroke="#444" stroke-opacity="0.6" stroke-width="0.5"/>
<rect x="993.17" y="494.46" width="7.24" height="7.24" fill="#90596c" stroke="#444" stroke-opacity="0.6" stroke-width="0.5"/>
<rect x="874.16" y="511.91" width="17.46" height="17.46" fill="#da3125" stroke="#444" stroke-opacity="0.6" stroke-width="0.5"/>
<rect x="898.43" y="513.40" width="14.48" height="14.48" fill="#c84139" stroke="#444" stroke-opacity="0.6" stroke-width="0.5"/>
<rect x="919.93" y="512.12" width="17.03" height="17.03" fill="#336699" stroke="#444" stroke-opacity="0.6" stroke-width="0.5"/>
<rect x="945.27" y="514.68" width="11.92" height="11.92" fill="#bb4946" stroke="#444" stroke-opacity="0.6" stroke-width="0.5"/>
<rect x="971.67" y="518.30" width="4.68" height="4.68" fill="#985766" stroke="#444" stroke-opacity="0.6" stroke-width="0.5"/>
<rect x="992.74" y="516.59" width="8.09" height="8.09" fill="#ab5055" stroke="#444" stroke-opacity="0.6" stroke-width="0.5"/>
<rect x="1013.40" y="514.47" width="12.35" height="12.35" fill="#bd4844" stroke="#444" stroke-opacity="0.6" stroke-width="0.5"/>
<rect x="880.55" y="540.86" width="4.68" height="4.68" fill="#985766" stroke="#444" stroke-opacity="0.6" stroke-width="0.5"/>
<rect x="900.56" y="538.09" width="10.22" height="10.22" fill="#825d76" stroke="#444" stroke-opacity="0.6" stroke-width="0.5"/>
<rect x="923.13" y="537.88" width="10.64" height="10.64" fill="#b54c4c" stroke="#444" stroke-opacity="0.6" stroke-width="0.5"/>
<rect x="941.65" y="533.62" width="19.16" height="19.16" fill="#e52015" stroke="#444" stroke-opacity="0.6" stroke-width="0.5"/>
<rect x="970.82" y="540.01" width="6.39" height="6.39" fill="#935969" stroke="#444" stroke-opacity="0.6" stroke-width="0.5"/>
<rect x="987.21" y="533.62" width="19.16" height="19.16" fill="#e52015" stroke="#444" stroke-opacity="0.6" stroke-width="0.5"/>
<rect x="1016.38" y="540.01" width="6.39" height="6.39" fill="#a6525a" stroke="#444" stroke-opacity="0.6" stroke-width="0.5"/>
<rect x="1039.80" y="540.65" width="5.11" height="5.11" fill="#975867" stroke="#444" stroke-opacity="0.6" stroke-width="0.5"/>
<rect x="877.78" y="560.65" width="10.22" height="10.22" fill="#b44d4e" stroke="#444" stroke-opacity="0.6" stroke-width="0.5"/>
<rect x="900.99" y="561.08" width="9.37" height="9.37" fill="#b04e51" stroke="#444" stroke-opacity="0.6" stroke-width="0.5"/>
<rect x="926.96" y="564.27" width="2.98" height="2.98" fill="#9f5560" stroke="#444" stroke-opacity="0.6" stroke-width="0.5"/>
<rect x="943.14" y="557.67" width="16.18" height="16.18" fill="#d2392e" stroke="#444" stroke-opacity="0.6" stroke-width="0.5"/>
<rect x="969.33" y="561.08" width="9.37" height="9.37" fill="#875c72" stroke="#444" stroke-opacity="0.6" stroke-width="0.5"/>
<rect x="990.19" y="559.16" width="13.20" height="13.20" fill="#c14540" stroke="#444" stroke-opacity="0.6" stroke-width="0.5"/>
<rect x="1016.38" y="562.57" width="6.39" height="6.39" fill="#a6525a" stroke="#444" stroke-opacity="0.6" stroke-width="0.5"/>
<rect x="1037.88" y="561.29" width="8.94" height="8.94" fill="#ae4f52" stroke="#444" stroke-opacity="0.6" stroke-width="0.5"/>
<rect x="1056.19" y="556.82" width="17.88" height="17.88" fill="#dc2d21" stroke="#444" stroke-opacity="0.6" stroke-width="0.5"/>
<rect x="882.04" y="587.47" width="1.70" height="1.70" fill="#9d5661" stroke="#444" stroke-opacity="0.6" stroke-width="0.5"/>
<rect x="900.35" y="583.00" width="10.64" height="10.64" fill="#7f5d77" stroke="#444" stroke-opacity="0.6" stroke-width="0.5"/>
<rect x="923.98" y="583.85" width="8.94" height="8.94" fill="#895b71" stroke="#444" stroke-opacity="0.6" stroke-width="0.5"/>
<rect x="946.97" y="584.06" width="8.52" height="8.52" fill="#8b5b6f" stroke="#444" stroke-opacity="0.6" stroke-width="0.5"/>
<rect x="966.77" y="581.08" width="14.48" height="14.48" fill="#5e638a" stroke="#444" stroke-opacity="0.6" stroke-width="0.5"/>
<rect x="992.96" y="584.49" width="7.66" height="7.66" fill="#8e5a6d" stroke="#444" stroke-opacity="0.6" stroke-width="0.5"/>
<rect x="1015.10" y="583.85" width="8.94" height="8.94" fill="#ae4f52" stroke="#444" stroke-opacity="0.6" stroke-width="0.5"/>
<rect x="1038.09" y="584.06" width="8.52" height="8.52" fill="#8b5b6f" stroke="#444" stroke-opacity="0.6" stroke-width="0.5"/>
<rect x="1059.17" y="582.36" width="11.92" height="11.92" fill="#bb4946" stroke="#444" stroke-opacity="0.6" stroke-width="0.5"/>
<rect x="1081.95" y="582.36" width="11.92" height="11.92" fill="#bb4946" stroke="#444" stroke-opacity="0.6" stroke-width="0.5"/>
<rect x="878.84" y="606.83" width="8.09" height="8.09" fill="#ab5055" stroke="#444" stroke-opacity="0.6" stroke-width="0.5"/>
<rect x="901.84" y="607.05" width="7.66" height="7.66" fill="#aa5156" stroke="#444" stroke-opacity="0.6" stroke-width="0.5"/>
<rect x="923.77" y="606.20" width="9.37" height="9.37" fill="#b04e51" stroke="#444" stroke-opacity="0.6" stroke-width="0.5"/>
<rect x="944.20" y="603.85" width="14.05" height="14.05" fill="#c6423b" stroke="#444" stroke-opacity="0.6" stroke-width="0.5"/>
<rect x="969.11" y="605.98" width="9.79" height="9.79" fill="#845c74" stroke="#444" stroke-opacity="0.6" stroke-width="0.5"/>
<rect x="991.25" y="605.34" width="11.07" height="11.07" fill="#b74b4a" stroke="#444" stroke-opacity="0.6" stroke-width="0.5"/>
<rect x="1014.46" y="605.77" width="10.22" height="10.22" fill="#825d76" stroke="#444" stroke-opacity="0.6" stroke-width="0.5"/>
<rect x="1040.86" y="609.39" width="2.98" height="2.98" fill="#9f5560" stroke="#444" stroke-opacity="0.6" stroke-width="0.5"/>
<rect x="1056.61" y="602.36" width="17.03" height="17.03" fill="#d73428" stroke="#444" stroke-opacity="0.6" stroke-width="0.5"/>
<rect x="1077.69" y="600.66" width="20.44" height="20.44" fill="#ed0301" stroke="#444" stroke-opacity="0.6" stroke-width="0.5"/>
<rect x="1104.73" y="604.92" width="11.92" height="11.92" fill="#bb4946" stroke="#444" stroke-opacity="0.6" stroke-width="0.5"/>
<path d="M882.4 363Q981 350.6 1076.2 378.8" fill="none" stroke="#d0d0d0" stroke-width="0.8"/>
<path d="M882.4 363Q1027 383.2 1151.2 459.8" fill="none" stroke="#d0d0d0" stroke-width="0.8"/>
<path d="M905.2 385.6Q990 364.2 1076.2 378.8" fill="none" stroke="#d0d0d0" stroke-width="0.8"/>
<path d="M905.2 385.6Q1036 396.8 1151.2 459.8" fill="none" stroke="#d0d0d0" stroke-width="0.8"/>
<path d="M973.6 453.2Q1017.1 405.2 1076.2 378.8" fill="none" stroke="#d0d0d0" stroke-width="0.8"/>
<path d="M1019.3 498.3Q1035.2 432.6 1076.2 378.8" fill="none" stroke="#d0d0d0" stroke-width="0.8"/>
<path d="M1019.3 498.3Q1081.2 465.2 1151.2 459.8" fill="none" stroke="#d0d0d0" stroke-width="0.8"/>
<path d="M1019.3 498.3Q1127.5 498 1226.7 541.2" fill="none" stroke="#d0d0d0" stroke-width="0.8"/>
<path d="M1042.1 520.9Q1074.1 453.4 1076.2 378.8" fill="none" stroke="#d0d0d0" stroke-width="0.8"/>
<path d="M1042.1 520.9Q1103 501.8 1151.2 459.8" fill="none" stroke="#d0d0d0" stroke-width="0.8"/>
<path d="M1110.5 588.5Q1113.3 480.4 1076.2 378.8" fill="none" stroke="#d0d0d0" stroke-width="0.8"/>
<path d="M1110.5 588.5Q1143.1 528 1151.2 459.8" fill="none" stroke="#d0d0d0" stroke-width="0.8"/>
<path d="M928 408.1Q999 377.9 1076.2 378.8" fill="none" stroke="#1b9e77" stroke-width="1.05"/>
<path d="M973.6 453.2Q1063.1 437.9 1151.2 459.8" fill="none" stroke="#1b9e77" stroke-width="1.05"/>
<path d="M996.4 475.8Q1026.1 418.9 1076.2 378.8" fill="none" stroke="#1b9e77" stroke-width="1.05"/>
<path d="M996.4 475.8Q1072.2 451.5 1151.2 459.8" fill="none" stroke="#1b9e77" stroke-width="1.05"/>
<path d="M950.8 430.6Q1100.4 457 1226.7 541.2" fill="none" stroke="#d95f02" stroke-width="1.05"/>
<path d="M973.6 453.2Q1109.4 470.6 1226.7 541.2" fill="none" stroke="#d95f02" stroke-width="1.05"/>
<path d="M996.4 475.8Q1118.4 484.3 1226.7 541.2" fill="none" stroke="#d95f02" stroke-width="1.05"/>
<path d="M1064.9 543.4Q1146 559.3 1226.7 541.2" fill="none" stroke="#d95f02" stroke-width="1.05"/>
<path d="M1110.5 588.5Q1173.1 575.9 1226.7 541.2" fill="none" stroke="#d95f02" stroke-width="1.05"/>
<path d="M950.8 430.6Q1054.1 424.2 1151.2 459.8" fill="none" stroke="#d95f02" stroke-width="1.5"/>
<path d="M905.2 385.6Q1082.3 429.6 1226.7 541.2" fill="none" stroke="#d95f02" stroke-width="1.9"/>
<path d="M950.8 430.6Q1008.1 391.6 1076.2 378.8" fill="none" stroke="#d95f02" stroke-width="1.9"/>
<path d="M1042.1 520.9Q1132.2 550.4 1226.7 541.2" fill="none" stroke="#d95f02" stroke-width="1.9"/>
<path d="M1064.9 543.4Q1116.8 510.7 1151.2 459.8" fill="none" stroke="#d95f02" stroke-width="1.9"/>
<path d="M1087.7 566Q1159.5 566.8 1226.7 541.2" fill="none" stroke="#d95f02" stroke-width="1.9"/>
<path d="M1133.3 611Q1185.6 583.6 1226.7 541.2" fill="none" stroke="#d95f02" stroke-width="1.9"/>
<path d="M1064.9 543.4Q1087.8 462.3 1076.2 378.8" fill="none" stroke="#d95f02" stroke-width="2.2"/>
<path d="M1133.3 611Q1123.3 490.4 1076.2 378.8" fill="none" stroke="#d95f02" stroke-width="2.2"/>
<path d="M882.4 363Q1073.3 415.9 1226.7 541.2" fill="none" stroke="#d95f02" stroke-width="2.3"/>
<path d="M1087.7 566Q1099.7 471.3 1076.2 378.8" fill="none" stroke="#d95f02" stroke-width="3.2"/>
<path d="M928 408.1Q1045 410.5 1151.2 459.8" fill="none" stroke="#d95f02" stroke-width="3.9"/>
<path d="M928 408.1Q1091.3 443.3 1226.7 541.2" fill="none" stroke="#d95f02" stroke-width="3.9"/>
<path d="M1087.7 566Q1129.5 518.9 1151.2 459.8" fill="none" stroke="#d95f02" stroke-width="3.9"/>
<path d="M1133.3 611Q1154.4 536.9 1151.2 459.8" fill="none" stroke="#d95f02" stroke-width="3.9"/>
<circle cx="882.4" cy="363" r="2.3" fill="#f00028" stroke="#3a1fff" stroke-width="1.2"/>
<circle cx="905.2" cy="385.6" r="2.3" fill="#f00028" stroke="#3a1fff" stroke-width="1.2"/>
<circle cx="928" cy="408.1" r="2.3" fill="#f00028" stroke="#3a1fff" stroke-width="1.2"/>
<circle cx="950.8" cy="430.6" r="2.3" fill="#f00028" stroke="#3a1fff" stroke-width="1.2"/>
<circle cx="973.6" cy="453.2" r="2.3" fill="#f00028" stroke="#3a1fff" stroke-width="1.2"/>
<circle cx="996.4" cy="475.8" r="2.3" fill="#f00028" stroke="#3a1fff" stroke-width="1.2"/>
<circle cx="1019.3" cy="498.3" r="2.3" fill="#f00028" stroke="#3a1fff" stroke-width="1.2"/>
<circle cx="1042.1" cy="520.9" r="2.3" fill="#f00028" stroke="#3a1fff" stroke-width="1.2"/>
<circle cx="1064.9" cy="543.4" r="2.3" fill="#f00028" stroke="#3a1fff" stroke-width="1.2"/>
<circle cx="1087.7" cy="566" r="2.3" fill="#f00028" stroke="#3a1fff" stroke-width="1.2"/>
<circle cx="1110.5" cy="588.5" r="2.3" fill="#f00028" stroke="#3a1fff" stroke-width="1.2"/>
<circle cx="1133.3" cy="611" r="2.3" fill="#f00028" stroke="#3a1fff" stroke-width="1.2"/>
<circle cx="1076.2" cy="378.8" r="2.3" fill="#f00028" stroke="#3a1fff" stroke-width="1.2"/>
<circle cx="1151.2" cy="459.8" r="2.3" fill="#f00028" stroke="#3a1fff" stroke-width="1.2"/>
<circle cx="1226.7" cy="541.2" r="2.3" fill="#f00028" stroke="#3a1fff" stroke-width="1.2"/>
<text x="865.5" y="364.8" font-size="9.4" text-anchor="end">MAP</text>
<text x="865.5" y="387.6" font-size="9.4" text-anchor="end">MAT</text>
<text x="865.5" y="410.4" font-size="9.4" text-anchor="end">pH</text>
<text x="865.5" y="433.2" font-size="9.4" text-anchor="end">TC</text>
<text x="865.5" y="456" font-size="9.4" text-anchor="end">DOC</text>
<text x="865.5" y="478.9" font-size="9.4" text-anchor="end">TN</text>
<text x="865.5" y="501.7" font-size="9.4" text-anchor="end">NH<tspan font-size="6.2" dy="2.2">4</tspan><tspan font-size="6.2" dy="-5.6">+</tspan></text>
<text x="865.5" y="524.5" font-size="9.4" text-anchor="end">NO<tspan font-size="6.2" dy="2.2">3</tspan><tspan font-size="6.2" dy="-5.6">-</tspan></text>
<text x="865.5" y="547.3" font-size="9.4" text-anchor="end">TP</text>
<text x="865.5" y="570.1" font-size="9.4" text-anchor="end">AP</text>
<text x="865.5" y="592.9" font-size="9.4" text-anchor="end">TK</text>
<text x="865.5" y="615.7" font-size="9.4" text-anchor="end">AK</text>
<text x="885.6" y="628.4" font-size="9.4" text-anchor="end" transform="rotate(-90 885.6 628.4)">MAP</text>
<text x="908.4" y="628.4" font-size="9.4" text-anchor="end" transform="rotate(-90 908.4 628.4)">MAT</text>
<text x="931.2" y="628.4" font-size="9.4" text-anchor="end" transform="rotate(-90 931.2 628.4)">pH</text>
<text x="953.9" y="628.4" font-size="9.4" text-anchor="end" transform="rotate(-90 953.9 628.4)">TC</text>
<text x="976.7" y="628.4" font-size="9.4" text-anchor="end" transform="rotate(-90 976.7 628.4)">DOC</text>
<text x="999.5" y="628.4" font-size="9.4" text-anchor="end" transform="rotate(-90 999.5 628.4)">TN</text>
<text x="1022.3" y="628.4" font-size="9.4" text-anchor="end" transform="rotate(-90 1022.3 628.4)">NH<tspan font-size="6.2" dy="2.2">4</tspan><tspan font-size="6.2" dy="-5.6">+</tspan></text>
<text x="1045.1" y="628.4" font-size="9.4" text-anchor="end" transform="rotate(-90 1045.1 628.4)">NO<tspan font-size="6.2" dy="2.2">3</tspan><tspan font-size="6.2" dy="-5.6">-</tspan></text>
<text x="1067.8" y="628.4" font-size="9.4" text-anchor="end" transform="rotate(-90 1067.8 628.4)">TP</text>
<text x="1090.6" y="628.4" font-size="9.4" text-anchor="end" transform="rotate(-90 1090.6 628.4)">AP</text>
<text x="1113.4" y="628.4" font-size="9.4" text-anchor="end" transform="rotate(-90 1113.4 628.4)">TK</text>
<text x="1136.2" y="628.4" font-size="9.4" text-anchor="end" transform="rotate(-90 1136.2 628.4)">AK</text>
<line x1="847.7" y1="398.2" x2="847.7" y2="412.6" stroke="#000" stroke-width="1.3"/>
<path d="M847.7 416.6L845.1 409.4L850.3 409.4Z" fill="#000"/>
<line x1="847.7" y1="421.5" x2="847.7" y2="435.9" stroke="#000" stroke-width="1.3"/>
<path d="M847.7 439.9L845.1 432.7L850.3 432.7Z" fill="#000"/>
<line x1="848" y1="466.5" x2="848" y2="480.8" stroke="#000" stroke-width="1.3"/>
<path d="M848 484.8L845.4 477.6L850.6 477.6Z" fill="#000"/>
<line x1="847.8" y1="533.4" x2="847.8" y2="547.3" stroke="#000" stroke-width="1.3"/>
<path d="M847.8 551.3L845.2 544.1L850.4 544.1Z" fill="#000"/>
<line x1="847.8" y1="557.8" x2="847.8" y2="571.3" stroke="#000" stroke-width="1.3"/>
<path d="M847.8 575.3L845.2 568.1L850.4 568.1Z" fill="#000"/>
<line x1="847.8" y1="581" x2="847.8" y2="595.1" stroke="#000" stroke-width="1.3"/>
<path d="M847.8 599.1L845.2 591.9L850.4 591.9Z" fill="#000"/>
<line x1="847.8" y1="606.9" x2="847.8" y2="621" stroke="#000" stroke-width="1.3"/>
<path d="M847.8 625L845.2 617.8L850.4 617.8Z" fill="#000"/>
<text x="1083.2" y="378.2" font-size="13.15" text-anchor="start">Viral diversity</text>
<text x="1145.4" y="448.6" font-size="13.15" text-anchor="start">Viral richness</text>
<text x="1152.6" y="529" font-size="13.15" text-anchor="start">Viral community</text>
<text x="798.3" y="350.6" font-size="14.5" text-anchor="start">k</text>
<text x="788.9" y="368.6" font-size="9.2" text-anchor="start">Mantel’ <tspan font-style="italic">P</tspan></text>
<rect x="788" y="373.2" width="13.9" height="40.8" fill="#f2f2f2"/>
<line x1="789.4" y1="380" x2="800.5" y2="380" stroke="#d95f02" stroke-width="0.9"/>
<line x1="789.4" y1="393.7" x2="800.5" y2="393.7" stroke="#1b9e77" stroke-width="0.9"/>
<line x1="789.4" y1="407.2" x2="800.5" y2="407.2" stroke="#dcdcdc" stroke-width="0.9"/>
<text x="805.8" y="383.1" font-size="9.2" text-anchor="start">&lt; 0.01</text>
<text x="805.8" y="396.9" font-size="9.2" text-anchor="start">0.01-0.05</text>
<text x="805.8" y="410" font-size="9.2" text-anchor="start">&gt;= 0.05</text>
<text x="788.9" y="438.9" font-size="9.2" text-anchor="start">Mantel’s r</text>
<rect x="788" y="443.6" width="13.9" height="40.8" fill="#f2f2f2"/>
<line x1="789.4" y1="450.6" x2="800.5" y2="450.6" stroke="#4d4d4d" stroke-width="0.85"/>
<line x1="789.4" y1="464" x2="800.5" y2="464" stroke="#4d4d4d" stroke-width="1.4"/>
<line x1="789.4" y1="477.8" x2="800.5" y2="477.8" stroke="#4d4d4d" stroke-width="3.3"/>
<text x="805.8" y="453.6" font-size="9.2" text-anchor="start">&lt; 0.05</text>
<text x="805.8" y="467" font-size="9.2" text-anchor="start">0.05-0.1</text>
<text x="805.8" y="480.3" font-size="9.2" text-anchor="start">&gt;= 0.1</text>
<text x="788.9" y="510" font-size="9.2" text-anchor="start">Pearson’s r</text>
<linearGradient id="cbk" x1="0" y1="0" x2="0" y2="1"><stop offset="0%" stop-color="#ee0000"/><stop offset="10%" stop-color="#e22519"/><stop offset="20%" stop-color="#d5352a"/><stop offset="30%" stop-color="#c84139"/><stop offset="40%" stop-color="#ba4947"/><stop offset="50%" stop-color="#ac5055"/><stop offset="60%" stop-color="#9c5662"/><stop offset="70%" stop-color="#8a5b70"/><stop offset="80%" stop-color="#765f7d"/><stop offset="90%" stop-color="#5c638b"/><stop offset="100%" stop-color="#336699"/></linearGradient>
<rect x="787.9" y="514.6" width="14.1" height="68" fill="url(#cbk)"/>
<line x1="787.9" y1="517.7" x2="790.7" y2="517.7" stroke="#fff" stroke-width="0.5" stroke-opacity="0.7"/>
<line x1="799.2" y1="517.7" x2="802" y2="517.7" stroke="#fff" stroke-width="0.5" stroke-opacity="0.7"/>
<text x="805.8" y="520.7" font-size="9.2" text-anchor="start">0.75</text>
<line x1="787.9" y1="529.6" x2="790.7" y2="529.6" stroke="#fff" stroke-width="0.5" stroke-opacity="0.7"/>
<line x1="799.2" y1="529.6" x2="802" y2="529.6" stroke="#fff" stroke-width="0.5" stroke-opacity="0.7"/>
<text x="805.8" y="532.6" font-size="9.2" text-anchor="start">0.5</text>
<line x1="787.9" y1="542.2" x2="790.7" y2="542.2" stroke="#fff" stroke-width="0.5" stroke-opacity="0.7"/>
<line x1="799.2" y1="542.2" x2="802" y2="542.2" stroke="#fff" stroke-width="0.5" stroke-opacity="0.7"/>
<text x="805.8" y="545.2" font-size="9.2" text-anchor="start">0.25</text>
<line x1="787.9" y1="554.6" x2="790.7" y2="554.6" stroke="#fff" stroke-width="0.5" stroke-opacity="0.7"/>
<line x1="799.2" y1="554.6" x2="802" y2="554.6" stroke="#fff" stroke-width="0.5" stroke-opacity="0.7"/>
<text x="805.8" y="557.6" font-size="9.2" text-anchor="start">0</text>
<line x1="787.9" y1="567" x2="790.7" y2="567" stroke="#fff" stroke-width="0.5" stroke-opacity="0.7"/>
<line x1="799.2" y1="567" x2="802" y2="567" stroke="#fff" stroke-width="0.5" stroke-opacity="0.7"/>
<text x="805.8" y="570" font-size="9.2" text-anchor="start">-0.25</text>
<line x1="787.9" y1="579.8" x2="790.7" y2="579.8" stroke="#fff" stroke-width="0.5" stroke-opacity="0.7"/>
<line x1="799.2" y1="579.8" x2="802" y2="579.8" stroke="#fff" stroke-width="0.5" stroke-opacity="0.7"/>
<text x="805.8" y="582.8" font-size="9.2" text-anchor="start">-0.5</text>
</g>
</svg>
</body></html>
